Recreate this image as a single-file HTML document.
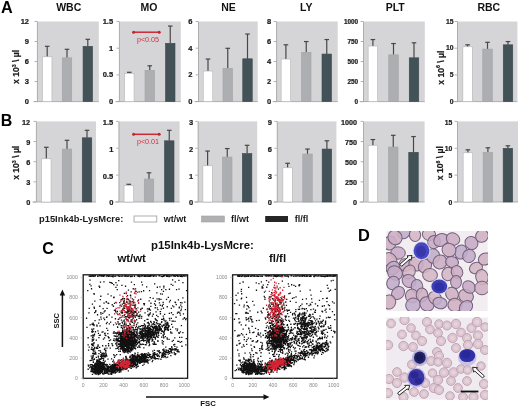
<!DOCTYPE html>
<html><head><meta charset="utf-8"><style>
html,body{margin:0;padding:0;background:#fff;width:520px;height:407px;overflow:hidden}
svg{display:block;will-change:transform}
text{font-family:"Liberation Sans",sans-serif}
</style></head><body>
<svg width="520" height="407" viewBox="0 0 520 407" font-family="Liberation Sans, sans-serif">
<rect width="520" height="407" fill="#fff"/>
<rect x="37" y="21.5" width="61.80" height="80.1" fill="#d5d5d7"/>
<line x1="37.4" y1="21.5" x2="37.4" y2="101.6" stroke="#a8a8a8" stroke-width="0.9"/>
<line x1="33.5" y1="101.6" x2="98.8" y2="101.6" stroke="#a8a8a8" stroke-width="0.9"/>
<line x1="34.5" y1="101.60" x2="37" y2="101.60" stroke="#a8a8a8" stroke-width="0.9"/>
<text x="29.00" y="104.10" text-anchor="end" font-size="7.5" font-weight="bold" fill="#1a1a1a" stroke="#1a1a1a" stroke-width="0.22">0</text>
<line x1="34.5" y1="81.57" x2="37" y2="81.57" stroke="#a8a8a8" stroke-width="0.9"/>
<text x="29.00" y="84.07" text-anchor="end" font-size="7.5" font-weight="bold" fill="#1a1a1a" stroke="#1a1a1a" stroke-width="0.22">3</text>
<line x1="34.5" y1="61.55" x2="37" y2="61.55" stroke="#a8a8a8" stroke-width="0.9"/>
<text x="29.00" y="64.05" text-anchor="end" font-size="7.5" font-weight="bold" fill="#1a1a1a" stroke="#1a1a1a" stroke-width="0.22">6</text>
<line x1="34.5" y1="41.52" x2="37" y2="41.52" stroke="#a8a8a8" stroke-width="0.9"/>
<text x="29.00" y="44.02" text-anchor="end" font-size="7.5" font-weight="bold" fill="#1a1a1a" stroke="#1a1a1a" stroke-width="0.22">9</text>
<line x1="34.5" y1="21.50" x2="37" y2="21.50" stroke="#a8a8a8" stroke-width="0.9"/>
<text x="29.00" y="24.00" text-anchor="end" font-size="7.5" font-weight="bold" fill="#1a1a1a" stroke="#1a1a1a" stroke-width="0.22">12</text>
<line x1="47.20" y1="46.3" x2="47.20" y2="56.8" stroke="#474747" stroke-width="1.2"/>
<line x1="44.90" y1="46.3" x2="49.50" y2="46.3" stroke="#474747" stroke-width="1.2"/>
<rect x="42.45" y="56.8" width="9.5" height="44.80" fill="#ffffff" stroke="#b4b4b4" stroke-width="0.6"/>
<line x1="67.00" y1="49.3" x2="67.00" y2="57.8" stroke="#474747" stroke-width="1.2"/>
<line x1="64.70" y1="49.3" x2="69.30" y2="49.3" stroke="#474747" stroke-width="1.2"/>
<rect x="62.25" y="57.8" width="9.5" height="43.80" fill="#adaeb2" stroke="#a2a3a6" stroke-width="0.6"/>
<line x1="87.80" y1="39.3" x2="87.80" y2="46.3" stroke="#474747" stroke-width="1.2"/>
<line x1="85.50" y1="39.3" x2="90.10" y2="39.3" stroke="#474747" stroke-width="1.2"/>
<rect x="83.05" y="46.3" width="9.5" height="55.30" fill="#435257" stroke="#3a4a50" stroke-width="0.6"/>
<text x="68.70" y="10.7" text-anchor="middle" font-size="10.5" font-weight="bold" fill="#111">WBC</text>
<rect x="119" y="21.5" width="61.80" height="80.1" fill="#d5d5d7"/>
<line x1="119.4" y1="21.5" x2="119.4" y2="101.6" stroke="#a8a8a8" stroke-width="0.9"/>
<line x1="115.5" y1="101.6" x2="180.8" y2="101.6" stroke="#a8a8a8" stroke-width="0.9"/>
<line x1="116.5" y1="101.60" x2="119" y2="101.60" stroke="#a8a8a8" stroke-width="0.9"/>
<text x="113.10" y="104.10" text-anchor="end" font-size="7.5" font-weight="bold" fill="#1a1a1a" stroke="#1a1a1a" stroke-width="0.22">0</text>
<line x1="116.5" y1="74.90" x2="119" y2="74.90" stroke="#a8a8a8" stroke-width="0.9"/>
<text x="113.10" y="77.40" text-anchor="end" font-size="7.5" font-weight="bold" fill="#1a1a1a" stroke="#1a1a1a" stroke-width="0.22">0.5</text>
<line x1="116.5" y1="48.20" x2="119" y2="48.20" stroke="#a8a8a8" stroke-width="0.9"/>
<text x="113.10" y="50.70" text-anchor="end" font-size="7.5" font-weight="bold" fill="#1a1a1a" stroke="#1a1a1a" stroke-width="0.22">1</text>
<line x1="116.5" y1="21.50" x2="119" y2="21.50" stroke="#a8a8a8" stroke-width="0.9"/>
<text x="113.10" y="24.00" text-anchor="end" font-size="7.5" font-weight="bold" fill="#1a1a1a" stroke="#1a1a1a" stroke-width="0.22">1.5</text>
<line x1="129.30" y1="72.3" x2="129.30" y2="73.3" stroke="#474747" stroke-width="1.2"/>
<line x1="127.00" y1="72.3" x2="131.60" y2="72.3" stroke="#474747" stroke-width="1.2"/>
<rect x="124.55" y="73.3" width="9.5" height="28.30" fill="#ffffff" stroke="#b4b4b4" stroke-width="0.6"/>
<line x1="149.75" y1="65.8" x2="149.75" y2="70.3" stroke="#474747" stroke-width="1.2"/>
<line x1="147.45" y1="65.8" x2="152.05" y2="65.8" stroke="#474747" stroke-width="1.2"/>
<rect x="145.00" y="70.3" width="9.5" height="31.30" fill="#adaeb2" stroke="#a2a3a6" stroke-width="0.6"/>
<line x1="170.25" y1="26.05" x2="170.25" y2="43.3" stroke="#474747" stroke-width="1.2"/>
<line x1="167.95" y1="26.05" x2="172.55" y2="26.05" stroke="#474747" stroke-width="1.2"/>
<rect x="165.50" y="43.3" width="9.5" height="58.30" fill="#435257" stroke="#3a4a50" stroke-width="0.6"/>
<text x="149.00" y="10.7" text-anchor="middle" font-size="10.5" font-weight="bold" fill="#111">MO</text>
<rect x="198.1" y="21.5" width="59.60" height="80.1" fill="#d5d5d7"/>
<line x1="198.5" y1="21.5" x2="198.5" y2="101.6" stroke="#a8a8a8" stroke-width="0.9"/>
<line x1="194.6" y1="101.6" x2="257.7" y2="101.6" stroke="#a8a8a8" stroke-width="0.9"/>
<line x1="195.6" y1="101.60" x2="198.1" y2="101.60" stroke="#a8a8a8" stroke-width="0.9"/>
<text x="192.30" y="104.10" text-anchor="end" font-size="7.5" font-weight="bold" fill="#1a1a1a" stroke="#1a1a1a" stroke-width="0.22">0</text>
<line x1="195.6" y1="74.90" x2="198.1" y2="74.90" stroke="#a8a8a8" stroke-width="0.9"/>
<text x="192.30" y="77.40" text-anchor="end" font-size="7.5" font-weight="bold" fill="#1a1a1a" stroke="#1a1a1a" stroke-width="0.22">2</text>
<line x1="195.6" y1="48.20" x2="198.1" y2="48.20" stroke="#a8a8a8" stroke-width="0.9"/>
<text x="192.30" y="50.70" text-anchor="end" font-size="7.5" font-weight="bold" fill="#1a1a1a" stroke="#1a1a1a" stroke-width="0.22">4</text>
<line x1="195.6" y1="21.50" x2="198.1" y2="21.50" stroke="#a8a8a8" stroke-width="0.9"/>
<text x="192.30" y="24.00" text-anchor="end" font-size="7.5" font-weight="bold" fill="#1a1a1a" stroke="#1a1a1a" stroke-width="0.22">6</text>
<line x1="208.00" y1="59.05" x2="208.00" y2="71.05" stroke="#474747" stroke-width="1.2"/>
<line x1="205.70" y1="59.05" x2="210.30" y2="59.05" stroke="#474747" stroke-width="1.2"/>
<rect x="203.25" y="71.05" width="9.5" height="30.55" fill="#ffffff" stroke="#b4b4b4" stroke-width="0.6"/>
<line x1="227.75" y1="48.3" x2="227.75" y2="68.3" stroke="#474747" stroke-width="1.2"/>
<line x1="225.45" y1="48.3" x2="230.05" y2="48.3" stroke="#474747" stroke-width="1.2"/>
<rect x="223.00" y="68.3" width="9.5" height="33.30" fill="#adaeb2" stroke="#a2a3a6" stroke-width="0.6"/>
<line x1="247.50" y1="34.05" x2="247.50" y2="58.8" stroke="#474747" stroke-width="1.2"/>
<line x1="245.20" y1="34.05" x2="249.80" y2="34.05" stroke="#474747" stroke-width="1.2"/>
<rect x="242.75" y="58.8" width="9.5" height="42.80" fill="#435257" stroke="#3a4a50" stroke-width="0.6"/>
<text x="228.50" y="10.7" text-anchor="middle" font-size="10.5" font-weight="bold" fill="#111">NE</text>
<rect x="276.2" y="21.5" width="61.50" height="80.1" fill="#d5d5d7"/>
<line x1="276.59999999999997" y1="21.5" x2="276.59999999999997" y2="101.6" stroke="#a8a8a8" stroke-width="0.9"/>
<line x1="272.7" y1="101.6" x2="337.7" y2="101.6" stroke="#a8a8a8" stroke-width="0.9"/>
<line x1="273.7" y1="101.60" x2="276.2" y2="101.60" stroke="#a8a8a8" stroke-width="0.9"/>
<text x="271.20" y="104.10" text-anchor="end" font-size="7.5" font-weight="bold" fill="#1a1a1a" stroke="#1a1a1a" stroke-width="0.22">0</text>
<line x1="273.7" y1="81.57" x2="276.2" y2="81.57" stroke="#a8a8a8" stroke-width="0.9"/>
<text x="271.20" y="84.07" text-anchor="end" font-size="7.5" font-weight="bold" fill="#1a1a1a" stroke="#1a1a1a" stroke-width="0.22">2</text>
<line x1="273.7" y1="61.55" x2="276.2" y2="61.55" stroke="#a8a8a8" stroke-width="0.9"/>
<text x="271.20" y="64.05" text-anchor="end" font-size="7.5" font-weight="bold" fill="#1a1a1a" stroke="#1a1a1a" stroke-width="0.22">4</text>
<line x1="273.7" y1="41.52" x2="276.2" y2="41.52" stroke="#a8a8a8" stroke-width="0.9"/>
<text x="271.20" y="44.02" text-anchor="end" font-size="7.5" font-weight="bold" fill="#1a1a1a" stroke="#1a1a1a" stroke-width="0.22">6</text>
<line x1="273.7" y1="21.50" x2="276.2" y2="21.50" stroke="#a8a8a8" stroke-width="0.9"/>
<text x="271.20" y="24.00" text-anchor="end" font-size="7.5" font-weight="bold" fill="#1a1a1a" stroke="#1a1a1a" stroke-width="0.22">8</text>
<line x1="285.90" y1="44.8" x2="285.90" y2="59.05" stroke="#474747" stroke-width="1.2"/>
<line x1="283.60" y1="44.8" x2="288.20" y2="44.8" stroke="#474747" stroke-width="1.2"/>
<rect x="281.15" y="59.05" width="9.5" height="42.55" fill="#ffffff" stroke="#b4b4b4" stroke-width="0.6"/>
<line x1="306.25" y1="41.55" x2="306.25" y2="52.3" stroke="#474747" stroke-width="1.2"/>
<line x1="303.95" y1="41.55" x2="308.55" y2="41.55" stroke="#474747" stroke-width="1.2"/>
<rect x="301.50" y="52.3" width="9.5" height="49.30" fill="#adaeb2" stroke="#a2a3a6" stroke-width="0.6"/>
<line x1="326.75" y1="39.55" x2="326.75" y2="54.05" stroke="#474747" stroke-width="1.2"/>
<line x1="324.45" y1="39.55" x2="329.05" y2="39.55" stroke="#474747" stroke-width="1.2"/>
<rect x="322.00" y="54.05" width="9.5" height="47.55" fill="#435257" stroke="#3a4a50" stroke-width="0.6"/>
<text x="306.25" y="10.7" text-anchor="middle" font-size="10.5" font-weight="bold" fill="#111">LY</text>
<rect x="363.1" y="21.5" width="61.70" height="80.1" fill="#d5d5d7"/>
<line x1="363.5" y1="21.5" x2="363.5" y2="101.6" stroke="#a8a8a8" stroke-width="0.9"/>
<line x1="359.6" y1="101.6" x2="424.8" y2="101.6" stroke="#a8a8a8" stroke-width="0.9"/>
<line x1="360.6" y1="101.60" x2="363.1" y2="101.60" stroke="#a8a8a8" stroke-width="0.9"/>
<text x="358.10" y="103.69" text-anchor="end" font-size="6.4" font-weight="bold" fill="#1a1a1a" stroke="#1a1a1a" stroke-width="0.22">0</text>
<line x1="360.6" y1="81.57" x2="363.1" y2="81.57" stroke="#a8a8a8" stroke-width="0.9"/>
<text x="358.10" y="83.66" text-anchor="end" font-size="6.4" font-weight="bold" fill="#1a1a1a" stroke="#1a1a1a" stroke-width="0.22">250</text>
<line x1="360.6" y1="61.55" x2="363.1" y2="61.55" stroke="#a8a8a8" stroke-width="0.9"/>
<text x="358.10" y="63.64" text-anchor="end" font-size="6.4" font-weight="bold" fill="#1a1a1a" stroke="#1a1a1a" stroke-width="0.22">500</text>
<line x1="360.6" y1="41.52" x2="363.1" y2="41.52" stroke="#a8a8a8" stroke-width="0.9"/>
<text x="358.10" y="43.61" text-anchor="end" font-size="6.4" font-weight="bold" fill="#1a1a1a" stroke="#1a1a1a" stroke-width="0.22">750</text>
<line x1="360.6" y1="21.50" x2="363.1" y2="21.50" stroke="#a8a8a8" stroke-width="0.9"/>
<text x="358.10" y="23.59" text-anchor="end" font-size="6.4" font-weight="bold" fill="#1a1a1a" stroke="#1a1a1a" stroke-width="0.22">1000</text>
<line x1="372.90" y1="39.55" x2="372.90" y2="46.05" stroke="#474747" stroke-width="1.2"/>
<line x1="370.60" y1="39.55" x2="375.20" y2="39.55" stroke="#474747" stroke-width="1.2"/>
<rect x="368.15" y="46.05" width="9.5" height="55.55" fill="#ffffff" stroke="#b4b4b4" stroke-width="0.6"/>
<line x1="393.50" y1="43.55" x2="393.50" y2="54.8" stroke="#474747" stroke-width="1.2"/>
<line x1="391.20" y1="43.55" x2="395.80" y2="43.55" stroke="#474747" stroke-width="1.2"/>
<rect x="388.75" y="54.8" width="9.5" height="46.80" fill="#adaeb2" stroke="#a2a3a6" stroke-width="0.6"/>
<line x1="414.00" y1="42.8" x2="414.00" y2="57.8" stroke="#474747" stroke-width="1.2"/>
<line x1="411.70" y1="42.8" x2="416.30" y2="42.8" stroke="#474747" stroke-width="1.2"/>
<rect x="409.25" y="57.8" width="9.5" height="43.80" fill="#435257" stroke="#3a4a50" stroke-width="0.6"/>
<text x="395.25" y="10.7" text-anchor="middle" font-size="10.5" font-weight="bold" fill="#111">PLT</text>
<rect x="457.1" y="21.5" width="60.30" height="80.1" fill="#d5d5d7"/>
<line x1="457.5" y1="21.5" x2="457.5" y2="101.6" stroke="#a8a8a8" stroke-width="0.9"/>
<line x1="453.6" y1="101.6" x2="517.4" y2="101.6" stroke="#a8a8a8" stroke-width="0.9"/>
<line x1="454.6" y1="101.60" x2="457.1" y2="101.60" stroke="#a8a8a8" stroke-width="0.9"/>
<text x="453.60" y="103.84" text-anchor="end" font-size="6.8" font-weight="bold" fill="#1a1a1a" stroke="#1a1a1a" stroke-width="0.22">0</text>
<line x1="454.6" y1="74.90" x2="457.1" y2="74.90" stroke="#a8a8a8" stroke-width="0.9"/>
<text x="453.60" y="77.14" text-anchor="end" font-size="6.8" font-weight="bold" fill="#1a1a1a" stroke="#1a1a1a" stroke-width="0.22">5</text>
<line x1="454.6" y1="48.20" x2="457.1" y2="48.20" stroke="#a8a8a8" stroke-width="0.9"/>
<text x="453.60" y="50.44" text-anchor="end" font-size="6.8" font-weight="bold" fill="#1a1a1a" stroke="#1a1a1a" stroke-width="0.22">10</text>
<line x1="454.6" y1="21.50" x2="457.1" y2="21.50" stroke="#a8a8a8" stroke-width="0.9"/>
<text x="453.60" y="23.74" text-anchor="end" font-size="6.8" font-weight="bold" fill="#1a1a1a" stroke="#1a1a1a" stroke-width="0.22">15</text>
<line x1="467.60" y1="44.8" x2="467.60" y2="46.8" stroke="#474747" stroke-width="1.2"/>
<line x1="465.30" y1="44.8" x2="469.90" y2="44.8" stroke="#474747" stroke-width="1.2"/>
<rect x="462.85" y="46.8" width="9.5" height="54.80" fill="#ffffff" stroke="#b4b4b4" stroke-width="0.6"/>
<line x1="487.50" y1="42.3" x2="487.50" y2="49.05" stroke="#474747" stroke-width="1.2"/>
<line x1="485.20" y1="42.3" x2="489.80" y2="42.3" stroke="#474747" stroke-width="1.2"/>
<rect x="482.75" y="49.05" width="9.5" height="52.55" fill="#adaeb2" stroke="#a2a3a6" stroke-width="0.6"/>
<line x1="508.00" y1="41.55" x2="508.00" y2="44.8" stroke="#474747" stroke-width="1.2"/>
<line x1="505.70" y1="41.55" x2="510.30" y2="41.55" stroke="#474747" stroke-width="1.2"/>
<rect x="503.25" y="44.8" width="9.5" height="56.80" fill="#435257" stroke="#3a4a50" stroke-width="0.6"/>
<text x="488.75" y="10.7" text-anchor="middle" font-size="10.5" font-weight="bold" fill="#111">RBC</text>
<rect x="36.0" y="121.4" width="60.00" height="80.6" fill="#d5d5d7"/>
<line x1="36.4" y1="121.4" x2="36.4" y2="202.0" stroke="#a8a8a8" stroke-width="0.9"/>
<line x1="32.5" y1="202.0" x2="96.0" y2="202.0" stroke="#a8a8a8" stroke-width="0.9"/>
<line x1="33.5" y1="202.00" x2="36.0" y2="202.00" stroke="#a8a8a8" stroke-width="0.9"/>
<text x="30.20" y="205.32" text-anchor="end" font-size="7.3" font-weight="bold" fill="#1a1a1a" stroke="#1a1a1a" stroke-width="0.22">0</text>
<line x1="33.5" y1="181.85" x2="36.0" y2="181.85" stroke="#a8a8a8" stroke-width="0.9"/>
<text x="30.20" y="185.17" text-anchor="end" font-size="7.3" font-weight="bold" fill="#1a1a1a" stroke="#1a1a1a" stroke-width="0.22">3</text>
<line x1="33.5" y1="161.70" x2="36.0" y2="161.70" stroke="#a8a8a8" stroke-width="0.9"/>
<text x="30.20" y="165.02" text-anchor="end" font-size="7.3" font-weight="bold" fill="#1a1a1a" stroke="#1a1a1a" stroke-width="0.22">6</text>
<line x1="33.5" y1="141.55" x2="36.0" y2="141.55" stroke="#a8a8a8" stroke-width="0.9"/>
<text x="30.20" y="144.87" text-anchor="end" font-size="7.3" font-weight="bold" fill="#1a1a1a" stroke="#1a1a1a" stroke-width="0.22">9</text>
<line x1="33.5" y1="121.40" x2="36.0" y2="121.40" stroke="#a8a8a8" stroke-width="0.9"/>
<text x="30.20" y="124.72" text-anchor="end" font-size="7.3" font-weight="bold" fill="#1a1a1a" stroke="#1a1a1a" stroke-width="0.22">12</text>
<line x1="46.30" y1="147.3" x2="46.30" y2="158.8" stroke="#474747" stroke-width="1.2"/>
<line x1="44.00" y1="147.3" x2="48.60" y2="147.3" stroke="#474747" stroke-width="1.2"/>
<rect x="41.55" y="158.8" width="9.5" height="43.20" fill="#ffffff" stroke="#b4b4b4" stroke-width="0.6"/>
<line x1="67.00" y1="140.3" x2="67.00" y2="149.05" stroke="#474747" stroke-width="1.2"/>
<line x1="64.70" y1="140.3" x2="69.30" y2="140.3" stroke="#474747" stroke-width="1.2"/>
<rect x="62.25" y="149.05" width="9.5" height="52.95" fill="#adaeb2" stroke="#a2a3a6" stroke-width="0.6"/>
<line x1="87.00" y1="130.3" x2="87.00" y2="137.8" stroke="#474747" stroke-width="1.2"/>
<line x1="84.70" y1="130.3" x2="89.30" y2="130.3" stroke="#474747" stroke-width="1.2"/>
<rect x="82.25" y="137.8" width="9.5" height="64.20" fill="#435257" stroke="#3a4a50" stroke-width="0.6"/>
<rect x="118.6" y="121.4" width="61.00" height="80.6" fill="#d5d5d7"/>
<line x1="119.0" y1="121.4" x2="119.0" y2="202.0" stroke="#a8a8a8" stroke-width="0.9"/>
<line x1="115.1" y1="202.0" x2="179.6" y2="202.0" stroke="#a8a8a8" stroke-width="0.9"/>
<line x1="116.1" y1="202.00" x2="118.6" y2="202.00" stroke="#a8a8a8" stroke-width="0.9"/>
<text x="113.30" y="205.40" text-anchor="end" font-size="7.5" font-weight="bold" fill="#1a1a1a" stroke="#1a1a1a" stroke-width="0.22">0</text>
<line x1="116.1" y1="175.13" x2="118.6" y2="175.13" stroke="#a8a8a8" stroke-width="0.9"/>
<text x="113.30" y="178.53" text-anchor="end" font-size="7.5" font-weight="bold" fill="#1a1a1a" stroke="#1a1a1a" stroke-width="0.22">0.5</text>
<line x1="116.1" y1="148.27" x2="118.6" y2="148.27" stroke="#a8a8a8" stroke-width="0.9"/>
<text x="113.30" y="151.66" text-anchor="end" font-size="7.5" font-weight="bold" fill="#1a1a1a" stroke="#1a1a1a" stroke-width="0.22">1</text>
<line x1="116.1" y1="121.40" x2="118.6" y2="121.40" stroke="#a8a8a8" stroke-width="0.9"/>
<text x="113.30" y="124.80" text-anchor="end" font-size="7.5" font-weight="bold" fill="#1a1a1a" stroke="#1a1a1a" stroke-width="0.22">1.5</text>
<line x1="128.80" y1="184.3" x2="128.80" y2="185.3" stroke="#474747" stroke-width="1.2"/>
<line x1="126.50" y1="184.3" x2="131.10" y2="184.3" stroke="#474747" stroke-width="1.2"/>
<rect x="124.05" y="185.3" width="9.5" height="16.70" fill="#ffffff" stroke="#b4b4b4" stroke-width="0.6"/>
<line x1="149.00" y1="172.8" x2="149.00" y2="179.05" stroke="#474747" stroke-width="1.2"/>
<line x1="146.70" y1="172.8" x2="151.30" y2="172.8" stroke="#474747" stroke-width="1.2"/>
<rect x="144.25" y="179.05" width="9.5" height="22.95" fill="#adaeb2" stroke="#a2a3a6" stroke-width="0.6"/>
<line x1="169.25" y1="130.3" x2="169.25" y2="140.8" stroke="#474747" stroke-width="1.2"/>
<line x1="166.95" y1="130.3" x2="171.55" y2="130.3" stroke="#474747" stroke-width="1.2"/>
<rect x="164.50" y="140.8" width="9.5" height="61.20" fill="#435257" stroke="#3a4a50" stroke-width="0.6"/>
<rect x="197.8" y="121.4" width="59.40" height="80.6" fill="#d5d5d7"/>
<line x1="198.20000000000002" y1="121.4" x2="198.20000000000002" y2="202.0" stroke="#a8a8a8" stroke-width="0.9"/>
<line x1="194.3" y1="202.0" x2="257.2" y2="202.0" stroke="#a8a8a8" stroke-width="0.9"/>
<line x1="195.3" y1="202.00" x2="197.8" y2="202.00" stroke="#a8a8a8" stroke-width="0.9"/>
<text x="193.20" y="205.40" text-anchor="end" font-size="7.5" font-weight="bold" fill="#1a1a1a" stroke="#1a1a1a" stroke-width="0.22">0</text>
<line x1="195.3" y1="175.13" x2="197.8" y2="175.13" stroke="#a8a8a8" stroke-width="0.9"/>
<text x="193.20" y="178.53" text-anchor="end" font-size="7.5" font-weight="bold" fill="#1a1a1a" stroke="#1a1a1a" stroke-width="0.22">1</text>
<line x1="195.3" y1="148.27" x2="197.8" y2="148.27" stroke="#a8a8a8" stroke-width="0.9"/>
<text x="193.20" y="151.66" text-anchor="end" font-size="7.5" font-weight="bold" fill="#1a1a1a" stroke="#1a1a1a" stroke-width="0.22">2</text>
<line x1="195.3" y1="121.40" x2="197.8" y2="121.40" stroke="#a8a8a8" stroke-width="0.9"/>
<text x="193.20" y="124.80" text-anchor="end" font-size="7.5" font-weight="bold" fill="#1a1a1a" stroke="#1a1a1a" stroke-width="0.22">3</text>
<line x1="207.60" y1="151.05" x2="207.60" y2="165.8" stroke="#474747" stroke-width="1.2"/>
<line x1="205.30" y1="151.05" x2="209.90" y2="151.05" stroke="#474747" stroke-width="1.2"/>
<rect x="202.85" y="165.8" width="9.5" height="36.20" fill="#ffffff" stroke="#b4b4b4" stroke-width="0.6"/>
<line x1="227.25" y1="148.55" x2="227.25" y2="157.05" stroke="#474747" stroke-width="1.2"/>
<line x1="224.95" y1="148.55" x2="229.55" y2="148.55" stroke="#474747" stroke-width="1.2"/>
<rect x="222.50" y="157.05" width="9.5" height="44.95" fill="#adaeb2" stroke="#a2a3a6" stroke-width="0.6"/>
<line x1="247.10" y1="145.3" x2="247.10" y2="153.55" stroke="#474747" stroke-width="1.2"/>
<line x1="244.80" y1="145.3" x2="249.40" y2="145.3" stroke="#474747" stroke-width="1.2"/>
<rect x="242.35" y="153.55" width="9.5" height="48.45" fill="#435257" stroke="#3a4a50" stroke-width="0.6"/>
<rect x="276.9" y="121.4" width="59.50" height="80.6" fill="#d5d5d7"/>
<line x1="277.29999999999995" y1="121.4" x2="277.29999999999995" y2="202.0" stroke="#a8a8a8" stroke-width="0.9"/>
<line x1="273.4" y1="202.0" x2="336.4" y2="202.0" stroke="#a8a8a8" stroke-width="0.9"/>
<line x1="274.4" y1="202.00" x2="276.9" y2="202.00" stroke="#a8a8a8" stroke-width="0.9"/>
<text x="271.90" y="205.40" text-anchor="end" font-size="7.5" font-weight="bold" fill="#1a1a1a" stroke="#1a1a1a" stroke-width="0.22">0</text>
<line x1="274.4" y1="175.13" x2="276.9" y2="175.13" stroke="#a8a8a8" stroke-width="0.9"/>
<text x="271.90" y="178.53" text-anchor="end" font-size="7.5" font-weight="bold" fill="#1a1a1a" stroke="#1a1a1a" stroke-width="0.22">3</text>
<line x1="274.4" y1="148.27" x2="276.9" y2="148.27" stroke="#a8a8a8" stroke-width="0.9"/>
<text x="271.90" y="151.66" text-anchor="end" font-size="7.5" font-weight="bold" fill="#1a1a1a" stroke="#1a1a1a" stroke-width="0.22">6</text>
<line x1="274.4" y1="121.40" x2="276.9" y2="121.40" stroke="#a8a8a8" stroke-width="0.9"/>
<text x="271.90" y="124.80" text-anchor="end" font-size="7.5" font-weight="bold" fill="#1a1a1a" stroke="#1a1a1a" stroke-width="0.22">9</text>
<line x1="287.60" y1="163.3" x2="287.60" y2="167.8" stroke="#474747" stroke-width="1.2"/>
<line x1="285.30" y1="163.3" x2="289.90" y2="163.3" stroke="#474747" stroke-width="1.2"/>
<rect x="282.85" y="167.8" width="9.5" height="34.20" fill="#ffffff" stroke="#b4b4b4" stroke-width="0.6"/>
<line x1="307.50" y1="149.05" x2="307.50" y2="154.05" stroke="#474747" stroke-width="1.2"/>
<line x1="305.20" y1="149.05" x2="309.80" y2="149.05" stroke="#474747" stroke-width="1.2"/>
<rect x="302.75" y="154.05" width="9.5" height="47.95" fill="#adaeb2" stroke="#a2a3a6" stroke-width="0.6"/>
<line x1="326.90" y1="140.8" x2="326.90" y2="149.05" stroke="#474747" stroke-width="1.2"/>
<line x1="324.60" y1="140.8" x2="329.20" y2="140.8" stroke="#474747" stroke-width="1.2"/>
<rect x="322.15" y="149.05" width="9.5" height="52.95" fill="#435257" stroke="#3a4a50" stroke-width="0.6"/>
<rect x="363.1" y="121.4" width="61.50" height="80.6" fill="#d5d5d7"/>
<line x1="363.5" y1="121.4" x2="363.5" y2="202.0" stroke="#a8a8a8" stroke-width="0.9"/>
<line x1="359.6" y1="202.0" x2="424.6" y2="202.0" stroke="#a8a8a8" stroke-width="0.9"/>
<line x1="360.6" y1="202.00" x2="363.1" y2="202.00" stroke="#a8a8a8" stroke-width="0.9"/>
<text x="357.10" y="205.29" text-anchor="end" font-size="7.2" font-weight="bold" fill="#1a1a1a" stroke="#1a1a1a" stroke-width="0.22">0</text>
<line x1="360.6" y1="181.85" x2="363.1" y2="181.85" stroke="#a8a8a8" stroke-width="0.9"/>
<text x="357.10" y="185.14" text-anchor="end" font-size="7.2" font-weight="bold" fill="#1a1a1a" stroke="#1a1a1a" stroke-width="0.22">250</text>
<line x1="360.6" y1="161.70" x2="363.1" y2="161.70" stroke="#a8a8a8" stroke-width="0.9"/>
<text x="357.10" y="164.99" text-anchor="end" font-size="7.2" font-weight="bold" fill="#1a1a1a" stroke="#1a1a1a" stroke-width="0.22">500</text>
<line x1="360.6" y1="141.55" x2="363.1" y2="141.55" stroke="#a8a8a8" stroke-width="0.9"/>
<text x="357.10" y="144.84" text-anchor="end" font-size="7.2" font-weight="bold" fill="#1a1a1a" stroke="#1a1a1a" stroke-width="0.22">750</text>
<line x1="360.6" y1="121.40" x2="363.1" y2="121.40" stroke="#a8a8a8" stroke-width="0.9"/>
<text x="357.10" y="124.69" text-anchor="end" font-size="7.2" font-weight="bold" fill="#1a1a1a" stroke="#1a1a1a" stroke-width="0.22">1000</text>
<line x1="372.90" y1="139.55" x2="372.90" y2="145.3" stroke="#474747" stroke-width="1.2"/>
<line x1="370.60" y1="139.55" x2="375.20" y2="139.55" stroke="#474747" stroke-width="1.2"/>
<rect x="368.15" y="145.3" width="9.5" height="56.70" fill="#ffffff" stroke="#b4b4b4" stroke-width="0.6"/>
<line x1="393.25" y1="135.3" x2="393.25" y2="147.05" stroke="#474747" stroke-width="1.2"/>
<line x1="390.95" y1="135.3" x2="395.55" y2="135.3" stroke="#474747" stroke-width="1.2"/>
<rect x="388.50" y="147.05" width="9.5" height="54.95" fill="#adaeb2" stroke="#a2a3a6" stroke-width="0.6"/>
<line x1="413.50" y1="136.55" x2="413.50" y2="152.3" stroke="#474747" stroke-width="1.2"/>
<line x1="411.20" y1="136.55" x2="415.80" y2="136.55" stroke="#474747" stroke-width="1.2"/>
<rect x="408.75" y="152.3" width="9.5" height="49.70" fill="#435257" stroke="#3a4a50" stroke-width="0.6"/>
<rect x="457.1" y="121.4" width="60.90" height="80.6" fill="#d5d5d7"/>
<line x1="457.5" y1="121.4" x2="457.5" y2="202.0" stroke="#a8a8a8" stroke-width="0.9"/>
<line x1="453.6" y1="202.0" x2="518" y2="202.0" stroke="#a8a8a8" stroke-width="0.9"/>
<line x1="454.6" y1="202.00" x2="457.1" y2="202.00" stroke="#a8a8a8" stroke-width="0.9"/>
<text x="452.20" y="205.14" text-anchor="end" font-size="6.8" font-weight="bold" fill="#1a1a1a" stroke="#1a1a1a" stroke-width="0.22">0</text>
<line x1="454.6" y1="175.13" x2="457.1" y2="175.13" stroke="#a8a8a8" stroke-width="0.9"/>
<text x="452.20" y="178.27" text-anchor="end" font-size="6.8" font-weight="bold" fill="#1a1a1a" stroke="#1a1a1a" stroke-width="0.22">5</text>
<line x1="454.6" y1="148.27" x2="457.1" y2="148.27" stroke="#a8a8a8" stroke-width="0.9"/>
<text x="452.20" y="151.40" text-anchor="end" font-size="6.8" font-weight="bold" fill="#1a1a1a" stroke="#1a1a1a" stroke-width="0.22">10</text>
<line x1="454.6" y1="121.40" x2="457.1" y2="121.40" stroke="#a8a8a8" stroke-width="0.9"/>
<text x="452.20" y="124.54" text-anchor="end" font-size="6.8" font-weight="bold" fill="#1a1a1a" stroke="#1a1a1a" stroke-width="0.22">15</text>
<line x1="467.90" y1="149.8" x2="467.90" y2="152.8" stroke="#474747" stroke-width="1.2"/>
<line x1="465.60" y1="149.8" x2="470.20" y2="149.8" stroke="#474747" stroke-width="1.2"/>
<rect x="463.15" y="152.8" width="9.5" height="49.20" fill="#ffffff" stroke="#b4b4b4" stroke-width="0.6"/>
<line x1="487.90" y1="147.8" x2="487.90" y2="152.3" stroke="#474747" stroke-width="1.2"/>
<line x1="485.60" y1="147.8" x2="490.20" y2="147.8" stroke="#474747" stroke-width="1.2"/>
<rect x="483.15" y="152.3" width="9.5" height="49.70" fill="#adaeb2" stroke="#a2a3a6" stroke-width="0.6"/>
<line x1="507.90" y1="145.8" x2="507.90" y2="148.3" stroke="#474747" stroke-width="1.2"/>
<line x1="505.60" y1="145.8" x2="510.20" y2="145.8" stroke="#474747" stroke-width="1.2"/>
<rect x="503.15" y="148.3" width="9.5" height="53.70" fill="#435257" stroke="#3a4a50" stroke-width="0.6"/>
<text transform="translate(18.8,66.9) rotate(-90)" text-anchor="middle" font-size="8.6" font-weight="bold" fill="#1a1a1a" stroke="#1a1a1a" stroke-width="0.2">x 10<tspan font-size="5.2" dy="-3.3">3</tspan><tspan dy="3.3"> \ µl</tspan></text>
<text transform="translate(18.8,162.8) rotate(-90)" text-anchor="middle" font-size="8.6" font-weight="bold" fill="#1a1a1a" stroke="#1a1a1a" stroke-width="0.2">x 10<tspan font-size="5.2" dy="-3.3">3</tspan><tspan dy="3.3"> \ µl</tspan></text>
<text transform="translate(443.6,67.6) rotate(-90)" text-anchor="middle" font-size="8.6" font-weight="bold" fill="#1a1a1a" stroke="#1a1a1a" stroke-width="0.2">x 10<tspan font-size="5.2" dy="-3.3">6</tspan><tspan dy="3.3"> \ µl</tspan></text>
<text transform="translate(443.4,163.2) rotate(-90)" text-anchor="middle" font-size="8.6" font-weight="bold" fill="#1a1a1a" stroke="#1a1a1a" stroke-width="0.2">x 10<tspan font-size="5.2" dy="-3.3">6</tspan><tspan dy="3.3"> \ µl</tspan></text>
<line x1="133.4" y1="32.2" x2="159.3" y2="32.2" stroke="#cc2634" stroke-width="1.5"/>
<circle cx="133.6" cy="32.2" r="1.5" fill="#c8202c"/><circle cx="159.2" cy="32.2" r="1.5" fill="#c8202c"/>
<text x="148" y="42.10" text-anchor="middle" font-size="7.2" fill="#d42c3a">p&lt;0.05</text>
<line x1="133.4" y1="134.3" x2="159.3" y2="134.3" stroke="#cc2634" stroke-width="1.5"/>
<circle cx="133.6" cy="134.3" r="1.5" fill="#c8202c"/><circle cx="159.2" cy="134.3" r="1.5" fill="#c8202c"/>
<text x="148" y="144.20" text-anchor="middle" font-size="7.2" fill="#d42c3a">p&lt;0.01</text>
<text x="1.0" y="12.8" font-size="16.2" font-weight="bold" fill="#000">A</text>
<text x="0.8" y="125.8" font-size="16" font-weight="bold" fill="#000">B</text>
<text x="42.3" y="254.2" font-size="16" font-weight="bold" fill="#000">C</text>
<text x="357.9" y="240.8" font-size="16.4" font-weight="bold" fill="#000">D</text>
<text x="39" y="221.8" font-size="9.35" font-weight="bold" fill="#1a1a1a">p15Ink4b-LysMcre:</text>
<rect x="134" y="216" width="22.8" height="6" fill="#fff" stroke="#9a9a9a" stroke-width="0.8"/>
<rect x="201.5" y="216" width="22.8" height="6" fill="#b0b0b3" stroke="#a0a0a0" stroke-width="0.6"/>
<rect x="265.2" y="216" width="22.8" height="6" fill="#252525"/>
<text x="163.8" y="222" font-size="9" font-weight="bold" fill="#1a1a1a">wt/wt</text>
<text x="231" y="222" font-size="9" font-weight="bold" fill="#1a1a1a">fl/wt</text>
<text x="294.8" y="222" font-size="9" font-weight="bold" fill="#1a1a1a">fl/fl</text>
<rect x="83.2" y="274.8" width="104.39999999999999" height="103.5" fill="#fff" stroke="#1a1a1a" stroke-width="1.3"/>
<path d="M149.3 275.1h1.3v1.3h-1.3zM175.9 275.0h1.3v1.3h-1.3zM164.0 275.0h1.3v1.3h-1.3zM110.1 275.4h1.3v1.3h-1.3zM117.4 275.1h1.3v1.3h-1.3zM173.6 275.4h1.3v1.3h-1.3zM88.5 275.4h1.3v1.3h-1.3zM168.5 275.9h1.3v1.3h-1.3zM133.9 275.6h1.3v1.3h-1.3zM117.7 275.3h1.3v1.3h-1.3zM115.3 275.3h1.3v1.3h-1.3zM131.6 275.2h1.3v1.3h-1.3zM137.4 275.5h1.3v1.3h-1.3zM142.2 275.3h1.3v1.3h-1.3zM185.6 275.3h1.3v1.3h-1.3zM165.7 275.2h1.3v1.3h-1.3zM149.0 275.6h1.3v1.3h-1.3zM184.9 275.3h1.3v1.3h-1.3zM103.7 275.1h1.3v1.3h-1.3zM91.5 275.1h1.3v1.3h-1.3zM138.5 275.7h1.3v1.3h-1.3zM133.7 275.3h1.3v1.3h-1.3zM149.7 275.0h1.3v1.3h-1.3zM138.4 275.6h1.3v1.3h-1.3zM136.7 275.3h1.3v1.3h-1.3zM112.3 275.3h1.3v1.3h-1.3zM89.2 275.3h1.3v1.3h-1.3zM106.9 275.3h1.3v1.3h-1.3zM155.8 275.5h1.3v1.3h-1.3zM107.7 275.5h1.3v1.3h-1.3zM124.2 275.4h1.3v1.3h-1.3zM169.3 275.5h1.3v1.3h-1.3zM103.1 275.1h1.3v1.3h-1.3zM114.2 275.6h1.3v1.3h-1.3zM138.0 275.3h1.3v1.3h-1.3zM171.0 275.3h1.3v1.3h-1.3zM160.7 275.8h1.3v1.3h-1.3zM97.0 275.7h1.3v1.3h-1.3zM141.0 275.2h1.3v1.3h-1.3zM137.8 275.5h1.3v1.3h-1.3zM173.4 275.4h1.3v1.3h-1.3zM146.6 275.4h1.3v1.3h-1.3zM93.8 275.3h1.3v1.3h-1.3zM126.0 275.3h1.3v1.3h-1.3zM102.7 275.2h1.3v1.3h-1.3zM168.0 275.2h1.3v1.3h-1.3zM125.2 275.7h1.3v1.3h-1.3zM183.9 275.4h1.3v1.3h-1.3zM145.8 275.3h1.3v1.3h-1.3zM147.3 275.8h1.3v1.3h-1.3zM150.5 275.1h1.3v1.3h-1.3zM154.3 275.2h1.3v1.3h-1.3zM131.2 275.8h1.3v1.3h-1.3zM111.5 275.6h1.3v1.3h-1.3zM127.4 275.6h1.3v1.3h-1.3zM97.5 275.5h1.3v1.3h-1.3zM182.8 275.3h1.3v1.3h-1.3zM109.1 275.4h1.3v1.3h-1.3zM153.8 275.2h1.3v1.3h-1.3zM117.4 275.2h1.3v1.3h-1.3zM173.7 275.3h1.3v1.3h-1.3zM152.9 275.8h1.3v1.3h-1.3zM100.9 275.5h1.3v1.3h-1.3zM170.8 275.3h1.3v1.3h-1.3zM180.6 275.1h1.3v1.3h-1.3zM176.6 275.1h1.3v1.3h-1.3zM143.8 275.8h1.3v1.3h-1.3zM102.3 275.5h1.3v1.3h-1.3zM106.9 275.3h1.3v1.3h-1.3zM178.9 275.2h1.3v1.3h-1.3zM105.7 275.3h1.3v1.3h-1.3zM174.6 275.6h1.3v1.3h-1.3zM150.9 275.2h1.3v1.3h-1.3zM143.8 275.2h1.3v1.3h-1.3zM124.9 275.2h1.3v1.3h-1.3zM128.3 275.3h1.3v1.3h-1.3zM91.7 275.2h1.3v1.3h-1.3zM173.9 275.0h1.3v1.3h-1.3zM133.8 275.6h1.3v1.3h-1.3zM141.7 275.1h1.3v1.3h-1.3zM119.6 275.5h1.3v1.3h-1.3zM161.6 275.8h1.3v1.3h-1.3zM90.5 275.2h1.3v1.3h-1.3zM124.5 275.1h1.3v1.3h-1.3zM91.0 275.4h1.3v1.3h-1.3zM100.0 275.3h1.3v1.3h-1.3zM182.8 275.0h1.3v1.3h-1.3zM152.5 275.4h1.3v1.3h-1.3zM130.0 275.9h1.3v1.3h-1.3zM139.3 275.2h1.3v1.3h-1.3zM173.5 275.2h1.3v1.3h-1.3zM145.8 275.4h1.3v1.3h-1.3zM138.9 275.7h1.3v1.3h-1.3zM163.0 275.0h1.3v1.3h-1.3zM177.1 275.6h1.3v1.3h-1.3zM102.8 275.8h1.3v1.3h-1.3zM179.5 275.4h1.3v1.3h-1.3zM88.5 275.5h1.3v1.3h-1.3zM161.8 275.9h1.3v1.3h-1.3zM167.4 275.2h1.3v1.3h-1.3zM101.4 275.1h1.3v1.3h-1.3zM167.9 275.3h1.3v1.3h-1.3zM89.4 275.7h1.3v1.3h-1.3zM149.6 275.6h1.3v1.3h-1.3zM165.7 275.0h1.3v1.3h-1.3zM138.3 275.0h1.3v1.3h-1.3zM159.1 275.1h1.3v1.3h-1.3zM110.2 275.4h1.3v1.3h-1.3zM107.5 275.2h1.3v1.3h-1.3zM123.6 275.4h1.3v1.3h-1.3zM105.6 275.4h1.3v1.3h-1.3zM121.9 275.2h1.3v1.3h-1.3zM180.9 275.3h1.3v1.3h-1.3zM144.2 275.4h1.3v1.3h-1.3zM121.3 275.3h1.3v1.3h-1.3zM114.6 275.5h1.3v1.3h-1.3zM181.3 275.9h1.3v1.3h-1.3zM131.6 275.5h1.3v1.3h-1.3zM184.1 275.3h1.3v1.3h-1.3zM139.1 275.4h1.3v1.3h-1.3zM144.9 275.6h1.3v1.3h-1.3zM129.8 275.5h1.3v1.3h-1.3zM174.1 275.3h1.3v1.3h-1.3zM178.4 275.2h1.3v1.3h-1.3zM94.7 275.1h1.3v1.3h-1.3zM130.1 275.5h1.3v1.3h-1.3zM138.9 276.0h1.3v1.3h-1.3zM181.2 275.4h1.3v1.3h-1.3zM112.6 275.1h1.3v1.3h-1.3zM154.3 275.3h1.3v1.3h-1.3zM158.3 275.2h1.3v1.3h-1.3zM183.2 275.3h1.3v1.3h-1.3zM127.0 275.6h1.3v1.3h-1.3zM107.9 275.6h1.3v1.3h-1.3zM93.0 275.6h1.3v1.3h-1.3zM108.9 275.2h1.3v1.3h-1.3zM177.7 275.5h1.3v1.3h-1.3zM170.3 275.3h1.3v1.3h-1.3zM99.0 275.2h1.3v1.3h-1.3zM147.2 275.2h1.3v1.3h-1.3zM152.6 275.5h1.3v1.3h-1.3zM118.1 275.2h1.3v1.3h-1.3zM182.2 275.4h1.3v1.3h-1.3zM133.7 275.6h1.3v1.3h-1.3zM150.3 275.1h1.3v1.3h-1.3zM106.0 275.4h1.3v1.3h-1.3zM94.1 275.4h1.3v1.3h-1.3zM128.3 275.2h1.3v1.3h-1.3zM162.9 275.6h1.3v1.3h-1.3zM167.9 275.4h1.3v1.3h-1.3zM99.1 275.0h1.3v1.3h-1.3zM177.5 275.5h1.3v1.3h-1.3zM166.6 275.4h1.3v1.3h-1.3zM139.3 275.7h1.3v1.3h-1.3zM177.7 275.5h1.3v1.3h-1.3zM92.6 275.7h1.3v1.3h-1.3zM91.0 275.2h1.3v1.3h-1.3zM90.0 275.2h1.3v1.3h-1.3zM112.4 276.1h1.3v1.3h-1.3zM106.4 275.2h1.3v1.3h-1.3zM143.6 275.8h1.3v1.3h-1.3zM91.8 275.1h1.3v1.3h-1.3zM145.9 275.3h1.3v1.3h-1.3zM154.4 275.2h1.3v1.3h-1.3zM90.1 275.6h1.3v1.3h-1.3zM180.0 275.6h1.3v1.3h-1.3zM140.8 275.4h1.3v1.3h-1.3zM152.5 275.1h1.3v1.3h-1.3zM147.9 275.2h1.3v1.3h-1.3zM106.7 275.3h1.3v1.3h-1.3zM144.3 275.1h1.3v1.3h-1.3zM91.9 275.1h1.3v1.3h-1.3zM166.6 275.2h1.3v1.3h-1.3zM93.0 275.3h1.3v1.3h-1.3zM121.2 275.6h1.3v1.3h-1.3zM99.0 275.3h1.3v1.3h-1.3zM149.4 275.1h1.3v1.3h-1.3zM166.2 275.0h1.3v1.3h-1.3zM118.7 275.6h1.3v1.3h-1.3zM172.6 275.1h1.3v1.3h-1.3zM166.1 275.7h1.3v1.3h-1.3zM100.7 275.1h1.3v1.3h-1.3zM163.2 275.4h1.3v1.3h-1.3zM174.5 275.2h1.3v1.3h-1.3zM107.3 275.1h1.3v1.3h-1.3zM144.2 275.5h1.3v1.3h-1.3zM150.6 275.3h1.3v1.3h-1.3zM147.7 275.5h1.3v1.3h-1.3zM97.4 275.3h1.3v1.3h-1.3zM149.9 275.3h1.3v1.3h-1.3zM168.7 275.3h1.3v1.3h-1.3zM166.7 275.6h1.3v1.3h-1.3zM168.7 312.7h1.3v1.3h-1.3zM124.1 336.1h1.3v1.3h-1.3zM170.5 283.7h1.3v1.3h-1.3zM164.5 321.2h1.3v1.3h-1.3zM130.7 340.4h1.3v1.3h-1.3zM157.3 340.6h1.3v1.3h-1.3zM89.4 279.4h1.3v1.3h-1.3zM125.0 316.0h1.3v1.3h-1.3zM172.0 305.2h1.3v1.3h-1.3zM144.0 333.0h1.3v1.3h-1.3zM141.8 284.2h1.3v1.3h-1.3zM152.5 297.8h1.3v1.3h-1.3zM153.8 336.7h1.3v1.3h-1.3zM144.4 312.3h1.3v1.3h-1.3zM128.1 311.2h1.3v1.3h-1.3zM104.3 347.8h1.3v1.3h-1.3zM115.3 301.7h1.3v1.3h-1.3zM115.3 282.0h1.3v1.3h-1.3zM129.1 306.8h1.3v1.3h-1.3zM185.9 289.9h1.3v1.3h-1.3zM121.3 284.8h1.3v1.3h-1.3zM130.7 319.3h1.3v1.3h-1.3zM123.2 346.7h1.3v1.3h-1.3zM144.1 320.1h1.3v1.3h-1.3zM180.8 324.9h1.3v1.3h-1.3zM174.9 302.0h1.3v1.3h-1.3zM123.7 319.5h1.3v1.3h-1.3zM112.7 332.4h1.3v1.3h-1.3zM174.4 320.8h1.3v1.3h-1.3zM135.4 336.0h1.3v1.3h-1.3zM154.6 318.1h1.3v1.3h-1.3zM93.3 293.1h1.3v1.3h-1.3zM172.7 320.4h1.3v1.3h-1.3zM117.3 313.9h1.3v1.3h-1.3zM135.5 290.8h1.3v1.3h-1.3zM105.8 323.0h1.3v1.3h-1.3zM128.0 337.0h1.3v1.3h-1.3zM168.8 288.6h1.3v1.3h-1.3zM168.8 317.7h1.3v1.3h-1.3zM133.4 331.1h1.3v1.3h-1.3zM162.8 307.6h1.3v1.3h-1.3zM131.8 298.2h1.3v1.3h-1.3zM123.3 305.4h1.3v1.3h-1.3zM140.6 317.5h1.3v1.3h-1.3zM106.1 327.8h1.3v1.3h-1.3zM117.7 318.7h1.3v1.3h-1.3zM156.7 286.6h1.3v1.3h-1.3zM163.1 337.1h1.3v1.3h-1.3zM91.7 344.6h1.3v1.3h-1.3zM159.3 286.2h1.3v1.3h-1.3zM167.7 296.7h1.3v1.3h-1.3zM130.5 291.3h1.3v1.3h-1.3zM92.2 339.3h1.3v1.3h-1.3zM154.3 343.6h1.3v1.3h-1.3zM110.6 282.1h1.3v1.3h-1.3zM150.3 302.6h1.3v1.3h-1.3zM123.7 292.7h1.3v1.3h-1.3zM149.7 312.3h1.3v1.3h-1.3zM111.8 344.4h1.3v1.3h-1.3zM133.7 284.0h1.3v1.3h-1.3zM138.5 291.2h1.3v1.3h-1.3zM149.1 313.6h1.3v1.3h-1.3zM106.3 316.2h1.3v1.3h-1.3zM182.2 331.9h1.3v1.3h-1.3zM114.9 310.1h1.3v1.3h-1.3zM116.6 289.0h1.3v1.3h-1.3zM111.6 304.1h1.3v1.3h-1.3zM92.7 348.7h1.3v1.3h-1.3zM128.3 332.3h1.3v1.3h-1.3zM163.2 287.3h1.3v1.3h-1.3zM157.0 336.4h1.3v1.3h-1.3zM105.6 301.1h1.3v1.3h-1.3zM99.7 334.5h1.3v1.3h-1.3zM118.1 279.9h1.3v1.3h-1.3zM162.8 340.9h1.3v1.3h-1.3zM134.8 290.5h1.3v1.3h-1.3zM178.3 311.4h1.3v1.3h-1.3zM151.6 326.0h1.3v1.3h-1.3zM148.1 315.1h1.3v1.3h-1.3zM162.8 290.7h1.3v1.3h-1.3zM161.0 288.9h1.3v1.3h-1.3zM120.4 299.2h1.3v1.3h-1.3zM111.7 282.7h1.3v1.3h-1.3zM129.8 294.4h1.3v1.3h-1.3zM134.9 288.2h1.3v1.3h-1.3zM100.2 312.0h1.3v1.3h-1.3zM130.1 304.3h1.3v1.3h-1.3zM150.0 320.7h1.3v1.3h-1.3zM99.6 298.9h1.3v1.3h-1.3zM99.8 281.4h1.3v1.3h-1.3zM103.4 302.5h1.3v1.3h-1.3zM114.3 332.6h1.3v1.3h-1.3zM182.2 297.2h1.3v1.3h-1.3zM88.6 307.7h1.3v1.3h-1.3zM104.4 332.6h1.3v1.3h-1.3zM102.5 307.9h1.3v1.3h-1.3zM133.4 342.0h1.3v1.3h-1.3zM87.5 344.2h1.3v1.3h-1.3zM131.8 301.0h1.3v1.3h-1.3zM102.3 331.3h1.3v1.3h-1.3zM113.0 297.0h1.3v1.3h-1.3zM165.2 288.9h1.3v1.3h-1.3zM104.4 310.1h1.3v1.3h-1.3zM147.7 321.8h1.3v1.3h-1.3zM126.6 345.4h1.3v1.3h-1.3zM127.8 289.4h1.3v1.3h-1.3zM167.7 329.6h1.3v1.3h-1.3zM102.1 312.8h1.3v1.3h-1.3zM178.4 288.4h1.3v1.3h-1.3zM175.3 348.1h1.3v1.3h-1.3zM152.8 328.4h1.3v1.3h-1.3zM90.9 288.1h1.3v1.3h-1.3zM152.3 343.3h1.3v1.3h-1.3zM146.0 286.3h1.3v1.3h-1.3zM163.2 285.6h1.3v1.3h-1.3zM107.4 302.5h1.3v1.3h-1.3zM181.3 345.6h1.3v1.3h-1.3zM174.6 281.3h1.3v1.3h-1.3zM97.4 344.2h1.3v1.3h-1.3zM117.5 322.4h1.3v1.3h-1.3zM89.2 283.8h1.3v1.3h-1.3zM169.1 319.4h1.3v1.3h-1.3zM177.5 311.6h1.3v1.3h-1.3zM185.0 319.0h1.3v1.3h-1.3zM147.2 331.3h1.3v1.3h-1.3zM152.6 327.2h1.3v1.3h-1.3zM153.8 349.8h1.3v1.3h-1.3zM143.0 290.1h1.3v1.3h-1.3zM181.2 336.7h1.3v1.3h-1.3zM146.8 308.2h1.3v1.3h-1.3zM119.6 334.6h1.3v1.3h-1.3zM137.3 342.3h1.3v1.3h-1.3zM87.9 349.4h1.3v1.3h-1.3zM158.4 297.9h1.3v1.3h-1.3zM155.4 311.2h1.3v1.3h-1.3zM128.1 345.9h1.3v1.3h-1.3zM171.1 346.1h1.3v1.3h-1.3zM161.6 305.5h1.3v1.3h-1.3zM119.7 345.8h1.3v1.3h-1.3zM93.7 307.8h1.3v1.3h-1.3zM99.2 305.6h1.3v1.3h-1.3zM104.4 332.7h1.3v1.3h-1.3zM116.4 312.5h1.3v1.3h-1.3zM130.8 310.8h1.3v1.3h-1.3zM178.8 306.4h1.3v1.3h-1.3zM113.8 309.7h1.3v1.3h-1.3zM175.9 288.9h1.3v1.3h-1.3zM154.0 283.3h1.3v1.3h-1.3zM171.3 332.5h1.3v1.3h-1.3zM126.3 319.1h1.3v1.3h-1.3zM86.3 326.7h1.3v1.3h-1.3zM164.7 336.0h1.3v1.3h-1.3zM110.5 295.3h1.3v1.3h-1.3zM100.2 295.6h1.3v1.3h-1.3zM165.9 298.7h1.3v1.3h-1.3zM154.6 300.6h1.3v1.3h-1.3zM107.2 333.0h1.3v1.3h-1.3zM112.8 305.6h1.3v1.3h-1.3zM179.9 301.9h1.3v1.3h-1.3zM112.9 324.2h1.3v1.3h-1.3zM156.2 292.2h1.3v1.3h-1.3zM99.0 286.6h1.3v1.3h-1.3zM167.5 328.5h1.3v1.3h-1.3zM97.8 332.7h1.3v1.3h-1.3zM137.6 300.0h1.3v1.3h-1.3zM89.5 324.2h1.3v1.3h-1.3zM141.0 281.4h1.3v1.3h-1.3zM170.7 307.7h1.3v1.3h-1.3zM94.4 320.0h1.3v1.3h-1.3zM113.4 297.0h1.3v1.3h-1.3zM162.5 303.7h1.3v1.3h-1.3zM146.8 322.3h1.3v1.3h-1.3zM117.3 320.9h1.3v1.3h-1.3zM148.9 289.9h1.3v1.3h-1.3zM131.5 329.2h1.3v1.3h-1.3zM172.2 284.7h1.3v1.3h-1.3zM115.3 347.9h1.3v1.3h-1.3zM161.8 293.4h1.3v1.3h-1.3zM149.6 297.0h1.3v1.3h-1.3zM160.0 293.2h1.3v1.3h-1.3zM123.8 349.4h1.3v1.3h-1.3zM158.5 299.3h1.3v1.3h-1.3zM155.8 322.0h1.3v1.3h-1.3zM124.7 349.3h1.3v1.3h-1.3zM88.6 346.5h1.3v1.3h-1.3zM182.3 282.0h1.3v1.3h-1.3zM157.4 316.0h1.3v1.3h-1.3zM106.5 321.7h1.3v1.3h-1.3zM159.1 328.9h1.3v1.3h-1.3zM113.9 302.8h1.3v1.3h-1.3zM132.9 302.3h1.3v1.3h-1.3zM172.0 279.3h1.3v1.3h-1.3zM130.8 281.5h1.3v1.3h-1.3zM114.8 318.1h1.3v1.3h-1.3zM116.5 284.4h1.3v1.3h-1.3zM93.7 293.4h1.3v1.3h-1.3zM108.0 302.7h1.3v1.3h-1.3zM113.1 284.0h1.3v1.3h-1.3zM103.3 281.2h1.3v1.3h-1.3zM92.3 344.8h1.3v1.3h-1.3zM132.6 309.9h1.3v1.3h-1.3zM107.4 293.5h1.3v1.3h-1.3zM159.9 329.3h1.3v1.3h-1.3zM178.3 279.7h1.3v1.3h-1.3zM113.3 296.4h1.3v1.3h-1.3zM143.2 347.2h1.3v1.3h-1.3zM136.7 342.7h1.3v1.3h-1.3zM93.5 324.2h1.3v1.3h-1.3zM98.5 285.6h1.3v1.3h-1.3zM174.5 301.6h1.3v1.3h-1.3zM90.6 335.3h1.3v1.3h-1.3zM94.8 331.1h1.3v1.3h-1.3zM90.6 355.5h1.3v1.3h-1.3zM92.8 359.3h1.3v1.3h-1.3zM103.9 337.3h1.3v1.3h-1.3zM92.2 356.0h1.3v1.3h-1.3zM93.4 342.1h1.3v1.3h-1.3zM109.9 339.3h1.3v1.3h-1.3zM97.4 345.2h1.3v1.3h-1.3zM97.3 330.2h1.3v1.3h-1.3zM91.9 343.3h1.3v1.3h-1.3zM107.5 336.0h1.3v1.3h-1.3zM104.9 351.4h1.3v1.3h-1.3zM102.0 345.1h1.3v1.3h-1.3zM103.6 356.1h1.3v1.3h-1.3zM92.2 356.9h1.3v1.3h-1.3zM95.7 339.5h1.3v1.3h-1.3zM102.8 338.4h1.3v1.3h-1.3zM110.9 358.2h1.3v1.3h-1.3zM108.0 345.1h1.3v1.3h-1.3zM104.1 332.9h1.3v1.3h-1.3zM101.4 331.4h1.3v1.3h-1.3zM90.3 359.7h1.3v1.3h-1.3zM109.6 347.4h1.3v1.3h-1.3zM91.5 331.6h1.3v1.3h-1.3zM92.8 345.3h1.3v1.3h-1.3zM105.2 345.1h1.3v1.3h-1.3zM107.9 343.1h1.3v1.3h-1.3zM107.3 358.5h1.3v1.3h-1.3zM100.0 358.5h1.3v1.3h-1.3zM98.3 337.0h1.3v1.3h-1.3zM87.5 337.1h1.3v1.3h-1.3zM94.2 300.4h1.3v1.3h-1.3zM111.3 316.4h1.3v1.3h-1.3zM88.3 312.3h1.3v1.3h-1.3zM108.4 337.1h1.3v1.3h-1.3zM96.2 324.5h1.3v1.3h-1.3zM106.4 307.7h1.3v1.3h-1.3zM103.2 317.5h1.3v1.3h-1.3zM95.2 310.1h1.3v1.3h-1.3zM100.6 318.5h1.3v1.3h-1.3zM94.9 311.2h1.3v1.3h-1.3zM110.0 321.4h1.3v1.3h-1.3zM108.0 337.2h1.3v1.3h-1.3zM105.3 354.3h1.3v1.3h-1.3zM92.6 330.9h1.3v1.3h-1.3zM97.1 347.7h1.3v1.3h-1.3zM115.3 286.7h1.3v1.3h-1.3zM91.3 328.6h1.3v1.3h-1.3zM107.1 329.8h1.3v1.3h-1.3zM99.4 325.3h1.3v1.3h-1.3zM105.9 316.8h1.3v1.3h-1.3zM109.2 281.8h1.3v1.3h-1.3zM105.7 301.5h1.3v1.3h-1.3zM108.6 314.3h1.3v1.3h-1.3zM92.0 324.0h1.3v1.3h-1.3zM91.8 303.4h1.3v1.3h-1.3zM85.9 317.6h1.3v1.3h-1.3zM104.5 334.4h1.3v1.3h-1.3zM98.7 334.8h1.3v1.3h-1.3zM100.2 316.5h1.3v1.3h-1.3zM105.2 334.9h1.3v1.3h-1.3zM96.9 314.1h1.3v1.3h-1.3zM98.6 319.3h1.3v1.3h-1.3zM91.9 334.4h1.3v1.3h-1.3zM96.4 325.4h1.3v1.3h-1.3zM92.6 323.7h1.3v1.3h-1.3zM103.5 311.3h1.3v1.3h-1.3zM118.2 323.9h1.3v1.3h-1.3zM116.0 333.3h1.3v1.3h-1.3zM94.0 311.9h1.3v1.3h-1.3zM103.9 319.0h1.3v1.3h-1.3zM100.4 313.4h1.3v1.3h-1.3zM93.5 306.6h1.3v1.3h-1.3zM98.0 322.4h1.3v1.3h-1.3zM87.1 290.0h1.3v1.3h-1.3zM90.4 285.3h1.3v1.3h-1.3zM91.3 343.5h1.3v1.3h-1.3zM92.9 350.4h1.3v1.3h-1.3zM92.8 350.2h1.3v1.3h-1.3zM91.5 340.5h1.3v1.3h-1.3zM91.3 323.5h1.3v1.3h-1.3zM92.5 339.7h1.3v1.3h-1.3zM93.1 343.2h1.3v1.3h-1.3zM93.4 335.1h1.3v1.3h-1.3zM92.8 352.6h1.3v1.3h-1.3zM93.9 333.6h1.3v1.3h-1.3zM91.6 338.4h1.3v1.3h-1.3zM92.5 322.6h1.3v1.3h-1.3zM91.8 340.5h1.3v1.3h-1.3zM90.7 348.7h1.3v1.3h-1.3zM91.3 347.3h1.3v1.3h-1.3zM93.0 328.3h1.3v1.3h-1.3zM91.6 357.7h1.3v1.3h-1.3zM91.3 346.8h1.3v1.3h-1.3zM92.7 334.9h1.3v1.3h-1.3zM92.9 334.6h1.3v1.3h-1.3zM92.3 349.2h1.3v1.3h-1.3zM93.3 325.0h1.3v1.3h-1.3zM91.0 343.6h1.3v1.3h-1.3zM94.1 346.7h1.3v1.3h-1.3zM93.0 338.6h1.3v1.3h-1.3zM92.5 352.9h1.3v1.3h-1.3zM92.3 336.7h1.3v1.3h-1.3zM92.0 336.6h1.3v1.3h-1.3zM91.9 329.4h1.3v1.3h-1.3zM92.4 354.8h1.3v1.3h-1.3zM91.2 330.7h1.3v1.3h-1.3zM116.3 339.5h1.3v1.3h-1.3zM123.4 340.2h1.3v1.3h-1.3zM128.1 334.5h1.3v1.3h-1.3zM123.8 343.9h1.3v1.3h-1.3zM128.7 335.8h1.3v1.3h-1.3zM137.2 352.2h1.3v1.3h-1.3zM119.7 341.2h1.3v1.3h-1.3zM139.5 343.8h1.3v1.3h-1.3zM128.1 338.4h1.3v1.3h-1.3zM124.3 338.3h1.3v1.3h-1.3zM124.2 343.6h1.3v1.3h-1.3zM125.0 337.1h1.3v1.3h-1.3zM121.0 339.2h1.3v1.3h-1.3zM122.5 338.5h1.3v1.3h-1.3zM132.2 341.5h1.3v1.3h-1.3zM129.5 341.5h1.3v1.3h-1.3zM127.3 338.8h1.3v1.3h-1.3zM125.5 343.7h1.3v1.3h-1.3zM121.6 346.9h1.3v1.3h-1.3zM127.2 335.4h1.3v1.3h-1.3zM124.6 335.8h1.3v1.3h-1.3zM127.8 335.6h1.3v1.3h-1.3zM132.7 335.2h1.3v1.3h-1.3zM115.6 335.5h1.3v1.3h-1.3zM117.0 339.3h1.3v1.3h-1.3zM132.3 343.1h1.3v1.3h-1.3zM120.3 335.3h1.3v1.3h-1.3zM135.9 341.3h1.3v1.3h-1.3zM127.0 345.3h1.3v1.3h-1.3zM139.3 346.6h1.3v1.3h-1.3zM127.7 341.5h1.3v1.3h-1.3zM130.1 336.1h1.3v1.3h-1.3zM121.7 339.8h1.3v1.3h-1.3zM122.3 339.2h1.3v1.3h-1.3zM127.5 352.4h1.3v1.3h-1.3zM122.7 338.8h1.3v1.3h-1.3zM126.2 341.9h1.3v1.3h-1.3zM132.2 336.8h1.3v1.3h-1.3zM122.9 330.5h1.3v1.3h-1.3zM122.4 342.5h1.3v1.3h-1.3zM127.2 333.9h1.3v1.3h-1.3zM125.1 339.7h1.3v1.3h-1.3zM129.5 336.2h1.3v1.3h-1.3zM125.7 329.5h1.3v1.3h-1.3zM121.2 348.4h1.3v1.3h-1.3zM116.1 337.6h1.3v1.3h-1.3zM128.1 337.4h1.3v1.3h-1.3zM123.0 339.2h1.3v1.3h-1.3zM127.0 339.0h1.3v1.3h-1.3zM117.6 338.7h1.3v1.3h-1.3zM122.7 336.5h1.3v1.3h-1.3zM128.1 343.0h1.3v1.3h-1.3zM131.5 336.8h1.3v1.3h-1.3zM131.6 346.0h1.3v1.3h-1.3zM132.7 347.1h1.3v1.3h-1.3zM126.3 338.5h1.3v1.3h-1.3zM131.1 332.0h1.3v1.3h-1.3zM128.0 336.6h1.3v1.3h-1.3zM125.2 329.9h1.3v1.3h-1.3zM122.5 339.4h1.3v1.3h-1.3zM131.4 344.9h1.3v1.3h-1.3zM126.6 338.5h1.3v1.3h-1.3zM122.8 341.7h1.3v1.3h-1.3zM125.8 342.8h1.3v1.3h-1.3zM135.8 339.3h1.3v1.3h-1.3zM119.5 334.8h1.3v1.3h-1.3zM119.7 332.9h1.3v1.3h-1.3zM133.5 340.7h1.3v1.3h-1.3zM119.4 343.1h1.3v1.3h-1.3zM133.3 337.5h1.3v1.3h-1.3zM123.6 337.6h1.3v1.3h-1.3zM128.4 343.0h1.3v1.3h-1.3zM132.9 346.2h1.3v1.3h-1.3zM132.9 347.0h1.3v1.3h-1.3zM130.3 331.1h1.3v1.3h-1.3zM126.3 341.2h1.3v1.3h-1.3zM125.1 344.5h1.3v1.3h-1.3zM125.2 334.4h1.3v1.3h-1.3zM134.2 343.2h1.3v1.3h-1.3zM128.1 344.6h1.3v1.3h-1.3zM132.3 341.4h1.3v1.3h-1.3zM114.7 335.8h1.3v1.3h-1.3zM124.7 334.1h1.3v1.3h-1.3zM128.0 346.1h1.3v1.3h-1.3zM124.6 333.3h1.3v1.3h-1.3zM137.1 337.0h1.3v1.3h-1.3zM120.8 340.8h1.3v1.3h-1.3zM129.1 335.6h1.3v1.3h-1.3zM131.0 336.8h1.3v1.3h-1.3zM122.4 340.5h1.3v1.3h-1.3zM130.9 336.0h1.3v1.3h-1.3zM128.7 339.0h1.3v1.3h-1.3zM141.1 335.6h1.3v1.3h-1.3zM133.9 339.2h1.3v1.3h-1.3zM126.4 343.5h1.3v1.3h-1.3zM131.5 346.5h1.3v1.3h-1.3zM128.6 336.2h1.3v1.3h-1.3zM124.3 342.3h1.3v1.3h-1.3zM129.9 347.2h1.3v1.3h-1.3zM129.1 345.3h1.3v1.3h-1.3zM134.6 340.4h1.3v1.3h-1.3zM119.6 333.0h1.3v1.3h-1.3zM119.8 348.3h1.3v1.3h-1.3zM122.8 346.3h1.3v1.3h-1.3zM129.9 348.9h1.3v1.3h-1.3zM132.0 338.9h1.3v1.3h-1.3zM126.0 340.0h1.3v1.3h-1.3zM127.9 336.6h1.3v1.3h-1.3zM126.8 348.4h1.3v1.3h-1.3zM118.5 340.9h1.3v1.3h-1.3zM122.5 340.5h1.3v1.3h-1.3zM131.2 339.2h1.3v1.3h-1.3zM130.9 330.8h1.3v1.3h-1.3zM132.5 336.2h1.3v1.3h-1.3zM130.1 340.5h1.3v1.3h-1.3zM114.1 335.3h1.3v1.3h-1.3zM128.1 348.0h1.3v1.3h-1.3zM128.4 340.9h1.3v1.3h-1.3zM119.9 347.4h1.3v1.3h-1.3zM136.0 339.7h1.3v1.3h-1.3zM125.9 330.6h1.3v1.3h-1.3zM131.4 354.4h1.3v1.3h-1.3zM130.6 346.5h1.3v1.3h-1.3zM129.7 334.1h1.3v1.3h-1.3zM133.7 332.7h1.3v1.3h-1.3zM125.9 341.0h1.3v1.3h-1.3zM131.4 341.8h1.3v1.3h-1.3zM128.9 335.3h1.3v1.3h-1.3zM120.6 339.8h1.3v1.3h-1.3zM123.4 332.3h1.3v1.3h-1.3zM120.7 336.8h1.3v1.3h-1.3zM117.7 332.1h1.3v1.3h-1.3zM118.8 340.5h1.3v1.3h-1.3zM129.0 350.5h1.3v1.3h-1.3zM119.5 335.8h1.3v1.3h-1.3zM131.6 338.3h1.3v1.3h-1.3zM125.4 348.9h1.3v1.3h-1.3zM125.3 333.1h1.3v1.3h-1.3zM120.4 341.3h1.3v1.3h-1.3zM128.5 332.0h1.3v1.3h-1.3zM122.1 342.4h1.3v1.3h-1.3zM129.9 336.0h1.3v1.3h-1.3zM130.1 342.6h1.3v1.3h-1.3zM118.1 337.8h1.3v1.3h-1.3zM129.1 336.3h1.3v1.3h-1.3zM116.3 337.9h1.3v1.3h-1.3zM130.8 348.2h1.3v1.3h-1.3zM116.0 353.9h1.3v1.3h-1.3zM121.4 344.8h1.3v1.3h-1.3zM133.2 344.9h1.3v1.3h-1.3zM127.7 333.1h1.3v1.3h-1.3zM130.1 335.6h1.3v1.3h-1.3zM114.4 355.1h1.3v1.3h-1.3zM130.5 349.5h1.3v1.3h-1.3zM122.4 347.6h1.3v1.3h-1.3zM134.9 348.1h1.3v1.3h-1.3zM126.9 332.9h1.3v1.3h-1.3zM126.1 327.4h1.3v1.3h-1.3zM118.5 340.0h1.3v1.3h-1.3zM122.0 338.6h1.3v1.3h-1.3zM126.5 350.1h1.3v1.3h-1.3zM133.5 339.3h1.3v1.3h-1.3zM133.0 335.2h1.3v1.3h-1.3zM125.3 344.5h1.3v1.3h-1.3zM120.8 338.0h1.3v1.3h-1.3zM120.4 340.1h1.3v1.3h-1.3zM135.2 335.4h1.3v1.3h-1.3zM128.1 334.6h1.3v1.3h-1.3zM121.3 332.7h1.3v1.3h-1.3zM134.3 352.5h1.3v1.3h-1.3zM129.4 335.6h1.3v1.3h-1.3zM130.5 337.7h1.3v1.3h-1.3zM131.0 341.1h1.3v1.3h-1.3zM128.4 342.8h1.3v1.3h-1.3zM124.1 337.3h1.3v1.3h-1.3zM118.4 337.1h1.3v1.3h-1.3zM119.9 338.7h1.3v1.3h-1.3zM122.2 340.1h1.3v1.3h-1.3zM129.3 331.7h1.3v1.3h-1.3zM122.9 334.3h1.3v1.3h-1.3zM130.7 348.9h1.3v1.3h-1.3zM131.3 337.6h1.3v1.3h-1.3zM134.3 331.2h1.3v1.3h-1.3zM134.5 335.9h1.3v1.3h-1.3zM113.1 354.1h1.3v1.3h-1.3zM134.9 333.8h1.3v1.3h-1.3zM127.8 338.3h1.3v1.3h-1.3zM127.5 331.3h1.3v1.3h-1.3zM123.6 342.1h1.3v1.3h-1.3zM128.1 346.1h1.3v1.3h-1.3zM127.4 352.4h1.3v1.3h-1.3zM123.4 340.9h1.3v1.3h-1.3zM117.4 332.6h1.3v1.3h-1.3zM133.6 334.3h1.3v1.3h-1.3zM129.7 339.2h1.3v1.3h-1.3zM121.8 337.6h1.3v1.3h-1.3zM124.4 336.8h1.3v1.3h-1.3zM130.8 343.1h1.3v1.3h-1.3zM124.1 334.5h1.3v1.3h-1.3zM128.4 338.9h1.3v1.3h-1.3zM132.1 354.1h1.3v1.3h-1.3zM131.2 339.3h1.3v1.3h-1.3zM126.1 334.8h1.3v1.3h-1.3zM122.5 334.0h1.3v1.3h-1.3zM125.0 337.2h1.3v1.3h-1.3zM130.7 337.3h1.3v1.3h-1.3zM126.0 332.8h1.3v1.3h-1.3zM135.2 342.3h1.3v1.3h-1.3zM135.9 343.9h1.3v1.3h-1.3zM134.4 338.1h1.3v1.3h-1.3zM130.6 354.4h1.3v1.3h-1.3zM120.9 346.0h1.3v1.3h-1.3zM135.5 341.8h1.3v1.3h-1.3zM130.8 346.5h1.3v1.3h-1.3zM123.6 341.8h1.3v1.3h-1.3zM122.6 335.7h1.3v1.3h-1.3zM123.8 338.7h1.3v1.3h-1.3zM127.7 342.0h1.3v1.3h-1.3zM119.7 350.6h1.3v1.3h-1.3zM132.9 343.6h1.3v1.3h-1.3zM125.2 339.0h1.3v1.3h-1.3zM129.8 341.8h1.3v1.3h-1.3zM118.4 343.7h1.3v1.3h-1.3zM141.9 329.1h1.3v1.3h-1.3zM132.1 341.6h1.3v1.3h-1.3zM126.4 347.2h1.3v1.3h-1.3zM120.9 340.4h1.3v1.3h-1.3zM134.5 338.4h1.3v1.3h-1.3zM124.9 340.1h1.3v1.3h-1.3zM124.7 348.2h1.3v1.3h-1.3zM122.3 344.4h1.3v1.3h-1.3zM120.6 343.3h1.3v1.3h-1.3zM126.5 324.9h1.3v1.3h-1.3zM127.0 333.5h1.3v1.3h-1.3zM124.7 348.2h1.3v1.3h-1.3zM121.3 333.5h1.3v1.3h-1.3zM134.4 340.2h1.3v1.3h-1.3zM134.9 341.3h1.3v1.3h-1.3zM122.5 339.1h1.3v1.3h-1.3zM133.3 344.8h1.3v1.3h-1.3zM127.0 339.8h1.3v1.3h-1.3zM126.4 336.2h1.3v1.3h-1.3zM136.9 339.5h1.3v1.3h-1.3zM121.2 336.8h1.3v1.3h-1.3zM130.7 343.1h1.3v1.3h-1.3zM126.3 335.7h1.3v1.3h-1.3zM127.1 330.0h1.3v1.3h-1.3zM120.3 344.0h1.3v1.3h-1.3zM124.5 341.6h1.3v1.3h-1.3zM133.3 343.2h1.3v1.3h-1.3zM127.1 351.5h1.3v1.3h-1.3zM130.4 337.5h1.3v1.3h-1.3zM130.8 341.8h1.3v1.3h-1.3zM122.6 339.9h1.3v1.3h-1.3zM126.2 328.4h1.3v1.3h-1.3zM126.1 337.9h1.3v1.3h-1.3zM124.7 330.2h1.3v1.3h-1.3zM125.2 339.3h1.3v1.3h-1.3zM127.5 333.1h1.3v1.3h-1.3zM130.3 332.6h1.3v1.3h-1.3zM125.8 346.9h1.3v1.3h-1.3zM123.4 336.6h1.3v1.3h-1.3zM132.5 337.3h1.3v1.3h-1.3zM125.5 340.8h1.3v1.3h-1.3zM132.4 327.0h1.3v1.3h-1.3zM122.7 333.8h1.3v1.3h-1.3zM121.4 334.7h1.3v1.3h-1.3zM122.7 341.2h1.3v1.3h-1.3zM122.4 340.2h1.3v1.3h-1.3zM129.1 335.4h1.3v1.3h-1.3zM127.7 348.7h1.3v1.3h-1.3zM128.7 335.9h1.3v1.3h-1.3zM126.7 334.3h1.3v1.3h-1.3zM128.4 344.4h1.3v1.3h-1.3zM122.8 338.3h1.3v1.3h-1.3zM132.7 336.7h1.3v1.3h-1.3zM128.0 333.7h1.3v1.3h-1.3zM122.8 336.6h1.3v1.3h-1.3zM137.9 337.3h1.3v1.3h-1.3zM124.4 336.4h1.3v1.3h-1.3zM126.2 343.1h1.3v1.3h-1.3zM127.9 350.8h1.3v1.3h-1.3zM128.1 347.5h1.3v1.3h-1.3zM128.4 342.8h1.3v1.3h-1.3zM119.8 338.8h1.3v1.3h-1.3zM126.7 338.2h1.3v1.3h-1.3zM116.2 344.3h1.3v1.3h-1.3zM125.1 337.1h1.3v1.3h-1.3zM125.7 338.2h1.3v1.3h-1.3zM129.0 332.5h1.3v1.3h-1.3zM122.3 341.1h1.3v1.3h-1.3zM127.7 337.4h1.3v1.3h-1.3zM124.1 334.9h1.3v1.3h-1.3zM126.7 346.0h1.3v1.3h-1.3zM121.7 347.9h1.3v1.3h-1.3zM131.2 337.0h1.3v1.3h-1.3zM130.9 331.4h1.3v1.3h-1.3zM118.3 332.4h1.3v1.3h-1.3zM125.0 337.7h1.3v1.3h-1.3zM124.4 340.0h1.3v1.3h-1.3zM116.3 342.2h1.3v1.3h-1.3zM119.9 335.9h1.3v1.3h-1.3zM124.9 333.1h1.3v1.3h-1.3zM120.1 334.0h1.3v1.3h-1.3zM126.9 342.7h1.3v1.3h-1.3zM129.8 334.0h1.3v1.3h-1.3zM123.0 334.4h1.3v1.3h-1.3zM129.2 328.3h1.3v1.3h-1.3zM133.2 336.8h1.3v1.3h-1.3zM123.1 341.4h1.3v1.3h-1.3zM132.2 341.4h1.3v1.3h-1.3zM132.3 340.2h1.3v1.3h-1.3zM133.1 346.3h1.3v1.3h-1.3zM126.5 347.4h1.3v1.3h-1.3zM127.8 340.0h1.3v1.3h-1.3zM122.4 337.9h1.3v1.3h-1.3zM130.9 332.3h1.3v1.3h-1.3zM130.2 341.4h1.3v1.3h-1.3zM128.4 327.4h1.3v1.3h-1.3zM126.5 343.1h1.3v1.3h-1.3zM123.2 340.0h1.3v1.3h-1.3zM115.1 343.2h1.3v1.3h-1.3zM123.7 344.3h1.3v1.3h-1.3zM117.8 343.3h1.3v1.3h-1.3zM125.8 343.9h1.3v1.3h-1.3zM122.4 336.1h1.3v1.3h-1.3zM138.2 334.9h1.3v1.3h-1.3zM123.5 338.0h1.3v1.3h-1.3zM121.9 346.0h1.3v1.3h-1.3zM135.6 335.6h1.3v1.3h-1.3zM118.4 345.9h1.3v1.3h-1.3zM132.5 344.0h1.3v1.3h-1.3zM132.8 334.7h1.3v1.3h-1.3zM126.2 331.9h1.3v1.3h-1.3zM119.9 344.9h1.3v1.3h-1.3zM123.6 352.0h1.3v1.3h-1.3zM127.4 336.0h1.3v1.3h-1.3zM131.0 349.4h1.3v1.3h-1.3zM129.4 332.8h1.3v1.3h-1.3zM128.9 347.1h1.3v1.3h-1.3zM124.5 335.2h1.3v1.3h-1.3zM132.1 340.3h1.3v1.3h-1.3zM121.5 337.4h1.3v1.3h-1.3zM123.2 341.1h1.3v1.3h-1.3zM127.5 345.8h1.3v1.3h-1.3zM130.5 330.9h1.3v1.3h-1.3zM129.0 344.4h1.3v1.3h-1.3zM129.3 345.2h1.3v1.3h-1.3zM124.3 334.3h1.3v1.3h-1.3zM131.7 333.6h1.3v1.3h-1.3zM116.2 345.1h1.3v1.3h-1.3zM123.4 337.8h1.3v1.3h-1.3zM120.0 332.2h1.3v1.3h-1.3zM121.2 337.5h1.3v1.3h-1.3zM128.8 326.9h1.3v1.3h-1.3zM130.8 333.0h1.3v1.3h-1.3zM121.7 343.2h1.3v1.3h-1.3zM126.6 331.0h1.3v1.3h-1.3zM136.2 334.8h1.3v1.3h-1.3zM128.2 340.6h1.3v1.3h-1.3zM134.1 337.0h1.3v1.3h-1.3zM132.0 335.4h1.3v1.3h-1.3zM132.6 335.3h1.3v1.3h-1.3zM125.2 349.9h1.3v1.3h-1.3zM128.6 340.1h1.3v1.3h-1.3zM138.2 341.5h1.3v1.3h-1.3zM122.9 343.5h1.3v1.3h-1.3zM121.1 345.7h1.3v1.3h-1.3zM133.0 336.3h1.3v1.3h-1.3zM123.9 340.5h1.3v1.3h-1.3zM127.1 334.1h1.3v1.3h-1.3zM129.8 328.3h1.3v1.3h-1.3zM124.8 337.3h1.3v1.3h-1.3zM125.6 341.2h1.3v1.3h-1.3zM120.9 342.7h1.3v1.3h-1.3zM126.1 335.9h1.3v1.3h-1.3zM120.2 333.0h1.3v1.3h-1.3zM128.8 334.2h1.3v1.3h-1.3zM127.3 345.3h1.3v1.3h-1.3zM132.2 348.1h1.3v1.3h-1.3zM125.5 333.5h1.3v1.3h-1.3zM132.1 341.2h1.3v1.3h-1.3zM132.6 339.6h1.3v1.3h-1.3zM133.0 344.2h1.3v1.3h-1.3zM130.6 342.3h1.3v1.3h-1.3zM129.0 340.8h1.3v1.3h-1.3zM128.1 344.9h1.3v1.3h-1.3zM124.4 349.0h1.3v1.3h-1.3zM126.5 344.9h1.3v1.3h-1.3zM126.5 338.1h1.3v1.3h-1.3zM137.2 337.8h1.3v1.3h-1.3zM120.6 335.6h1.3v1.3h-1.3zM125.4 351.4h1.3v1.3h-1.3zM128.0 344.6h1.3v1.3h-1.3zM122.0 341.4h1.3v1.3h-1.3zM130.4 349.4h1.3v1.3h-1.3zM123.5 342.8h1.3v1.3h-1.3zM128.5 333.9h1.3v1.3h-1.3zM126.9 338.1h1.3v1.3h-1.3zM115.4 342.8h1.3v1.3h-1.3zM129.7 337.1h1.3v1.3h-1.3zM120.3 347.6h1.3v1.3h-1.3zM128.3 345.1h1.3v1.3h-1.3zM134.1 336.6h1.3v1.3h-1.3zM131.1 338.2h1.3v1.3h-1.3zM126.7 339.0h1.3v1.3h-1.3zM127.0 345.6h1.3v1.3h-1.3zM127.6 338.7h1.3v1.3h-1.3zM125.6 341.4h1.3v1.3h-1.3zM122.5 336.7h1.3v1.3h-1.3zM126.7 336.4h1.3v1.3h-1.3zM126.4 336.1h1.3v1.3h-1.3zM137.0 346.8h1.3v1.3h-1.3zM129.2 339.2h1.3v1.3h-1.3zM138.0 341.3h1.3v1.3h-1.3zM126.6 341.2h1.3v1.3h-1.3zM128.5 347.3h1.3v1.3h-1.3zM126.9 351.0h1.3v1.3h-1.3zM122.6 343.3h1.3v1.3h-1.3zM122.0 349.5h1.3v1.3h-1.3zM125.3 339.2h1.3v1.3h-1.3zM131.6 346.4h1.3v1.3h-1.3zM121.4 337.6h1.3v1.3h-1.3zM120.0 340.3h1.3v1.3h-1.3zM126.5 337.6h1.3v1.3h-1.3zM123.6 337.4h1.3v1.3h-1.3zM123.3 342.4h1.3v1.3h-1.3zM134.6 328.9h1.3v1.3h-1.3zM126.4 337.2h1.3v1.3h-1.3zM129.5 334.3h1.3v1.3h-1.3zM126.3 333.8h1.3v1.3h-1.3zM130.5 340.0h1.3v1.3h-1.3zM126.2 341.5h1.3v1.3h-1.3zM125.8 331.0h1.3v1.3h-1.3zM130.0 341.1h1.3v1.3h-1.3zM126.2 344.9h1.3v1.3h-1.3zM133.1 333.5h1.3v1.3h-1.3zM123.1 348.0h1.3v1.3h-1.3zM134.1 335.4h1.3v1.3h-1.3zM121.1 336.0h1.3v1.3h-1.3zM124.5 330.8h1.3v1.3h-1.3zM127.2 332.5h1.3v1.3h-1.3zM120.9 344.5h1.3v1.3h-1.3zM123.6 339.1h1.3v1.3h-1.3zM130.1 344.0h1.3v1.3h-1.3zM125.3 339.7h1.3v1.3h-1.3zM122.9 349.1h1.3v1.3h-1.3zM130.2 333.4h1.3v1.3h-1.3zM127.0 343.4h1.3v1.3h-1.3zM129.4 349.6h1.3v1.3h-1.3zM133.9 336.5h1.3v1.3h-1.3zM126.6 332.5h1.3v1.3h-1.3zM128.2 340.3h1.3v1.3h-1.3zM140.5 340.0h1.3v1.3h-1.3zM116.5 335.8h1.3v1.3h-1.3zM127.6 332.6h1.3v1.3h-1.3zM122.7 337.5h1.3v1.3h-1.3zM128.7 338.6h1.3v1.3h-1.3zM122.6 343.8h1.3v1.3h-1.3zM124.3 336.8h1.3v1.3h-1.3zM120.1 335.2h1.3v1.3h-1.3zM130.3 330.6h1.3v1.3h-1.3zM126.6 343.4h1.3v1.3h-1.3zM125.1 340.8h1.3v1.3h-1.3zM121.4 346.7h1.3v1.3h-1.3zM132.5 340.8h1.3v1.3h-1.3zM118.2 333.7h1.3v1.3h-1.3zM131.9 348.9h1.3v1.3h-1.3zM128.5 346.4h1.3v1.3h-1.3zM124.0 338.5h1.3v1.3h-1.3zM127.0 341.8h1.3v1.3h-1.3zM119.4 344.7h1.3v1.3h-1.3zM133.6 333.2h1.3v1.3h-1.3zM120.2 341.4h1.3v1.3h-1.3zM123.7 326.5h1.3v1.3h-1.3zM131.0 340.4h1.3v1.3h-1.3zM124.6 351.1h1.3v1.3h-1.3zM127.7 335.4h1.3v1.3h-1.3zM127.5 333.8h1.3v1.3h-1.3zM123.2 341.6h1.3v1.3h-1.3zM124.2 337.0h1.3v1.3h-1.3zM135.3 344.2h1.3v1.3h-1.3zM131.0 342.4h1.3v1.3h-1.3zM129.4 347.5h1.3v1.3h-1.3zM126.9 349.7h1.3v1.3h-1.3zM122.2 338.1h1.3v1.3h-1.3zM120.1 337.6h1.3v1.3h-1.3zM129.6 347.5h1.3v1.3h-1.3zM123.7 339.5h1.3v1.3h-1.3zM125.2 335.4h1.3v1.3h-1.3zM121.1 339.8h1.3v1.3h-1.3zM118.3 340.1h1.3v1.3h-1.3zM127.1 335.9h1.3v1.3h-1.3zM121.9 331.9h1.3v1.3h-1.3zM136.4 332.1h1.3v1.3h-1.3zM134.8 342.8h1.3v1.3h-1.3zM125.2 333.1h1.3v1.3h-1.3zM132.2 349.0h1.3v1.3h-1.3zM122.3 337.9h1.3v1.3h-1.3zM132.3 341.3h1.3v1.3h-1.3zM137.0 336.4h1.3v1.3h-1.3zM129.7 332.6h1.3v1.3h-1.3zM137.5 335.5h1.3v1.3h-1.3zM116.0 338.8h1.3v1.3h-1.3zM126.3 350.0h1.3v1.3h-1.3zM125.3 339.4h1.3v1.3h-1.3zM130.0 348.2h1.3v1.3h-1.3zM126.7 345.2h1.3v1.3h-1.3zM129.6 337.9h1.3v1.3h-1.3zM127.4 339.7h1.3v1.3h-1.3zM122.4 346.2h1.3v1.3h-1.3zM120.1 345.9h1.3v1.3h-1.3zM131.8 339.0h1.3v1.3h-1.3zM123.2 338.3h1.3v1.3h-1.3zM129.4 343.6h1.3v1.3h-1.3zM128.4 345.0h1.3v1.3h-1.3zM124.2 340.8h1.3v1.3h-1.3zM119.2 343.7h1.3v1.3h-1.3zM127.8 337.2h1.3v1.3h-1.3zM132.8 343.3h1.3v1.3h-1.3zM112.9 339.7h1.3v1.3h-1.3zM119.7 345.4h1.3v1.3h-1.3zM139.4 336.6h1.3v1.3h-1.3zM127.4 338.1h1.3v1.3h-1.3zM128.8 343.0h1.3v1.3h-1.3zM133.4 334.1h1.3v1.3h-1.3zM134.9 334.4h1.3v1.3h-1.3zM128.4 345.9h1.3v1.3h-1.3zM130.6 334.3h1.3v1.3h-1.3zM123.5 337.0h1.3v1.3h-1.3zM126.7 345.8h1.3v1.3h-1.3zM120.5 342.1h1.3v1.3h-1.3zM130.0 342.6h1.3v1.3h-1.3zM129.3 347.9h1.3v1.3h-1.3zM129.4 344.2h1.3v1.3h-1.3zM129.8 349.4h1.3v1.3h-1.3zM117.5 346.6h1.3v1.3h-1.3zM125.7 338.0h1.3v1.3h-1.3zM122.2 329.2h1.3v1.3h-1.3zM125.1 335.7h1.3v1.3h-1.3zM129.5 331.4h1.3v1.3h-1.3zM134.2 341.0h1.3v1.3h-1.3zM125.8 335.6h1.3v1.3h-1.3zM123.1 333.3h1.3v1.3h-1.3zM124.3 339.5h1.3v1.3h-1.3zM126.1 331.7h1.3v1.3h-1.3zM125.7 334.6h1.3v1.3h-1.3zM127.8 349.8h1.3v1.3h-1.3zM130.1 337.8h1.3v1.3h-1.3zM118.9 331.7h1.3v1.3h-1.3zM118.6 343.5h1.3v1.3h-1.3zM123.2 339.8h1.3v1.3h-1.3zM123.9 340.0h1.3v1.3h-1.3zM134.0 335.7h1.3v1.3h-1.3zM125.3 335.1h1.3v1.3h-1.3zM131.4 333.9h1.3v1.3h-1.3zM121.3 331.9h1.3v1.3h-1.3zM120.0 342.1h1.3v1.3h-1.3zM139.8 334.0h1.3v1.3h-1.3zM131.8 340.9h1.3v1.3h-1.3zM121.5 338.0h1.3v1.3h-1.3zM125.8 335.7h1.3v1.3h-1.3zM136.7 329.0h1.3v1.3h-1.3zM128.9 341.3h1.3v1.3h-1.3zM124.1 340.3h1.3v1.3h-1.3zM131.4 340.3h1.3v1.3h-1.3zM129.1 343.3h1.3v1.3h-1.3zM116.8 347.6h1.3v1.3h-1.3zM138.4 344.9h1.3v1.3h-1.3zM132.1 331.8h1.3v1.3h-1.3zM126.4 335.0h1.3v1.3h-1.3zM124.1 344.8h1.3v1.3h-1.3zM123.0 338.8h1.3v1.3h-1.3zM117.5 338.6h1.3v1.3h-1.3zM127.5 335.6h1.3v1.3h-1.3zM123.4 349.9h1.3v1.3h-1.3zM121.0 333.7h1.3v1.3h-1.3zM123.0 346.1h1.3v1.3h-1.3zM137.5 341.3h1.3v1.3h-1.3zM123.4 337.1h1.3v1.3h-1.3zM132.3 334.5h1.3v1.3h-1.3zM134.3 347.3h1.3v1.3h-1.3zM127.4 343.1h1.3v1.3h-1.3zM130.7 348.0h1.3v1.3h-1.3zM121.7 346.0h1.3v1.3h-1.3zM125.1 335.3h1.3v1.3h-1.3zM127.5 338.3h1.3v1.3h-1.3zM122.1 330.7h1.3v1.3h-1.3zM122.3 347.5h1.3v1.3h-1.3zM136.8 343.1h1.3v1.3h-1.3zM132.9 336.7h1.3v1.3h-1.3zM126.6 341.1h1.3v1.3h-1.3zM121.6 334.1h1.3v1.3h-1.3zM127.5 337.7h1.3v1.3h-1.3zM121.7 341.6h1.3v1.3h-1.3zM125.7 345.1h1.3v1.3h-1.3zM127.0 337.8h1.3v1.3h-1.3zM127.6 338.6h1.3v1.3h-1.3zM123.7 337.3h1.3v1.3h-1.3zM130.7 343.1h1.3v1.3h-1.3zM133.4 330.2h1.3v1.3h-1.3zM125.0 337.2h1.3v1.3h-1.3zM127.9 337.0h1.3v1.3h-1.3zM124.4 343.8h1.3v1.3h-1.3zM127.9 333.1h1.3v1.3h-1.3zM133.7 345.0h1.3v1.3h-1.3zM124.1 344.1h1.3v1.3h-1.3zM123.3 345.7h1.3v1.3h-1.3zM125.9 335.1h1.3v1.3h-1.3zM125.1 335.3h1.3v1.3h-1.3zM128.0 340.5h1.3v1.3h-1.3zM127.2 336.4h1.3v1.3h-1.3zM108.7 340.0h1.3v1.3h-1.3zM117.5 340.8h1.3v1.3h-1.3zM132.7 341.0h1.3v1.3h-1.3zM125.1 338.5h1.3v1.3h-1.3zM126.3 336.5h1.3v1.3h-1.3zM124.1 334.4h1.3v1.3h-1.3zM132.9 339.4h1.3v1.3h-1.3zM131.8 338.1h1.3v1.3h-1.3zM127.4 338.6h1.3v1.3h-1.3zM129.3 344.0h1.3v1.3h-1.3zM128.2 335.8h1.3v1.3h-1.3zM123.1 348.6h1.3v1.3h-1.3zM125.6 337.9h1.3v1.3h-1.3zM134.3 345.5h1.3v1.3h-1.3zM129.7 337.3h1.3v1.3h-1.3zM138.8 341.7h1.3v1.3h-1.3zM129.7 338.6h1.3v1.3h-1.3zM119.9 332.2h1.3v1.3h-1.3zM129.0 341.7h1.3v1.3h-1.3zM125.8 333.1h1.3v1.3h-1.3zM119.8 337.7h1.3v1.3h-1.3zM119.7 344.4h1.3v1.3h-1.3zM132.8 355.1h1.3v1.3h-1.3zM131.4 336.2h1.3v1.3h-1.3zM122.6 320.5h1.3v1.3h-1.3zM124.0 338.5h1.3v1.3h-1.3zM131.8 342.9h1.3v1.3h-1.3zM129.9 340.7h1.3v1.3h-1.3zM130.3 347.5h1.3v1.3h-1.3zM121.7 337.0h1.3v1.3h-1.3zM120.1 348.4h1.3v1.3h-1.3zM133.5 343.6h1.3v1.3h-1.3zM121.0 340.5h1.3v1.3h-1.3zM125.8 339.9h1.3v1.3h-1.3zM126.1 342.4h1.3v1.3h-1.3zM125.0 344.2h1.3v1.3h-1.3zM128.2 337.9h1.3v1.3h-1.3zM126.4 337.1h1.3v1.3h-1.3zM131.1 338.0h1.3v1.3h-1.3zM128.5 337.3h1.3v1.3h-1.3zM119.6 344.5h1.3v1.3h-1.3zM121.7 343.2h1.3v1.3h-1.3zM129.1 330.4h1.3v1.3h-1.3zM122.3 336.7h1.3v1.3h-1.3zM122.9 333.0h1.3v1.3h-1.3zM130.7 338.2h1.3v1.3h-1.3zM128.9 337.1h1.3v1.3h-1.3zM128.5 335.4h1.3v1.3h-1.3zM126.9 342.7h1.3v1.3h-1.3zM127.2 337.0h1.3v1.3h-1.3zM121.6 340.4h1.3v1.3h-1.3zM128.7 338.1h1.3v1.3h-1.3zM123.2 342.5h1.3v1.3h-1.3zM139.4 337.8h1.3v1.3h-1.3zM128.7 341.6h1.3v1.3h-1.3zM114.2 340.2h1.3v1.3h-1.3zM123.5 347.1h1.3v1.3h-1.3zM125.7 335.2h1.3v1.3h-1.3zM125.9 340.4h1.3v1.3h-1.3zM124.2 339.2h1.3v1.3h-1.3zM120.2 338.3h1.3v1.3h-1.3zM130.9 350.3h1.3v1.3h-1.3zM130.5 341.0h1.3v1.3h-1.3zM132.9 345.1h1.3v1.3h-1.3zM135.3 345.5h1.3v1.3h-1.3zM126.4 340.9h1.3v1.3h-1.3zM127.9 341.2h1.3v1.3h-1.3zM128.0 335.2h1.3v1.3h-1.3zM116.5 335.8h1.3v1.3h-1.3zM116.9 339.9h1.3v1.3h-1.3zM127.0 330.3h1.3v1.3h-1.3zM130.4 344.3h1.3v1.3h-1.3zM127.5 348.7h1.3v1.3h-1.3zM136.4 332.9h1.3v1.3h-1.3zM132.2 341.9h1.3v1.3h-1.3zM129.1 344.6h1.3v1.3h-1.3zM123.4 336.2h1.3v1.3h-1.3zM122.9 335.3h1.3v1.3h-1.3zM126.5 331.5h1.3v1.3h-1.3zM121.8 342.7h1.3v1.3h-1.3zM126.6 341.6h1.3v1.3h-1.3zM117.6 335.2h1.3v1.3h-1.3zM124.2 339.7h1.3v1.3h-1.3zM124.1 344.6h1.3v1.3h-1.3zM126.7 339.6h1.3v1.3h-1.3zM127.1 343.4h1.3v1.3h-1.3zM124.6 345.7h1.3v1.3h-1.3zM129.3 340.3h1.3v1.3h-1.3zM127.2 342.4h1.3v1.3h-1.3zM132.1 344.7h1.3v1.3h-1.3zM128.9 344.3h1.3v1.3h-1.3zM127.6 346.4h1.3v1.3h-1.3zM126.9 328.1h1.3v1.3h-1.3zM133.7 340.1h1.3v1.3h-1.3zM121.1 338.4h1.3v1.3h-1.3zM122.6 351.1h1.3v1.3h-1.3zM129.5 330.9h1.3v1.3h-1.3zM129.7 337.3h1.3v1.3h-1.3zM136.6 333.7h1.3v1.3h-1.3zM115.8 339.9h1.3v1.3h-1.3zM125.3 337.2h1.3v1.3h-1.3zM116.3 341.8h1.3v1.3h-1.3zM135.4 329.0h1.3v1.3h-1.3zM132.9 336.4h1.3v1.3h-1.3zM138.7 341.9h1.3v1.3h-1.3zM126.1 345.6h1.3v1.3h-1.3zM129.6 336.2h1.3v1.3h-1.3zM130.6 336.7h1.3v1.3h-1.3zM118.1 350.7h1.3v1.3h-1.3zM125.3 336.2h1.3v1.3h-1.3zM128.7 330.9h1.3v1.3h-1.3zM120.2 336.8h1.3v1.3h-1.3zM124.4 339.9h1.3v1.3h-1.3zM132.6 336.9h1.3v1.3h-1.3zM129.5 342.8h1.3v1.3h-1.3zM121.6 340.8h1.3v1.3h-1.3zM122.3 345.4h1.3v1.3h-1.3zM129.3 339.6h1.3v1.3h-1.3zM120.3 340.1h1.3v1.3h-1.3zM123.2 343.4h1.3v1.3h-1.3zM126.4 335.0h1.3v1.3h-1.3zM131.6 343.5h1.3v1.3h-1.3zM124.0 345.9h1.3v1.3h-1.3zM125.5 337.8h1.3v1.3h-1.3zM127.6 335.4h1.3v1.3h-1.3zM124.8 338.6h1.3v1.3h-1.3zM134.7 347.7h1.3v1.3h-1.3zM125.7 348.4h1.3v1.3h-1.3zM126.8 341.6h1.3v1.3h-1.3zM131.4 341.1h1.3v1.3h-1.3zM139.1 340.8h1.3v1.3h-1.3zM121.0 346.7h1.3v1.3h-1.3zM124.9 337.8h1.3v1.3h-1.3zM112.0 345.0h1.3v1.3h-1.3zM131.1 343.9h1.3v1.3h-1.3zM131.9 348.8h1.3v1.3h-1.3zM126.8 344.7h1.3v1.3h-1.3zM123.3 337.6h1.3v1.3h-1.3zM132.3 341.7h1.3v1.3h-1.3zM120.3 341.5h1.3v1.3h-1.3zM126.1 335.0h1.3v1.3h-1.3zM129.2 337.3h1.3v1.3h-1.3zM119.1 333.4h1.3v1.3h-1.3zM135.8 331.2h1.3v1.3h-1.3zM128.1 342.9h1.3v1.3h-1.3zM130.2 332.8h1.3v1.3h-1.3zM125.4 340.3h1.3v1.3h-1.3zM131.0 336.0h1.3v1.3h-1.3zM121.2 345.0h1.3v1.3h-1.3zM132.5 341.5h1.3v1.3h-1.3zM124.0 341.7h1.3v1.3h-1.3zM127.5 344.1h1.3v1.3h-1.3zM120.8 340.1h1.3v1.3h-1.3zM126.2 333.4h1.3v1.3h-1.3zM128.1 339.7h1.3v1.3h-1.3zM124.9 341.7h1.3v1.3h-1.3zM119.9 339.2h1.3v1.3h-1.3zM129.2 341.1h1.3v1.3h-1.3zM132.4 332.9h1.3v1.3h-1.3zM119.5 340.8h1.3v1.3h-1.3zM129.3 351.2h1.3v1.3h-1.3zM130.1 334.7h1.3v1.3h-1.3zM131.0 334.8h1.3v1.3h-1.3zM119.6 353.9h1.3v1.3h-1.3zM128.6 343.4h1.3v1.3h-1.3zM129.8 349.5h1.3v1.3h-1.3zM128.4 346.2h1.3v1.3h-1.3zM121.9 331.8h1.3v1.3h-1.3zM134.1 347.6h1.3v1.3h-1.3zM129.6 340.7h1.3v1.3h-1.3zM127.8 335.7h1.3v1.3h-1.3zM134.7 343.1h1.3v1.3h-1.3zM129.5 341.6h1.3v1.3h-1.3zM132.2 342.3h1.3v1.3h-1.3zM130.7 333.1h1.3v1.3h-1.3zM129.6 351.5h1.3v1.3h-1.3zM124.4 338.8h1.3v1.3h-1.3zM131.5 344.8h1.3v1.3h-1.3zM130.1 330.6h1.3v1.3h-1.3zM129.5 333.0h1.3v1.3h-1.3zM122.9 342.5h1.3v1.3h-1.3zM125.5 344.0h1.3v1.3h-1.3zM142.7 343.8h1.3v1.3h-1.3zM130.6 334.6h1.3v1.3h-1.3zM123.8 333.6h1.3v1.3h-1.3zM124.3 333.5h1.3v1.3h-1.3zM123.7 338.4h1.3v1.3h-1.3zM122.0 331.7h1.3v1.3h-1.3zM120.2 342.0h1.3v1.3h-1.3zM127.3 345.1h1.3v1.3h-1.3zM132.2 337.6h1.3v1.3h-1.3zM130.4 331.6h1.3v1.3h-1.3zM138.4 346.1h1.3v1.3h-1.3zM125.9 333.1h1.3v1.3h-1.3zM128.9 329.2h1.3v1.3h-1.3zM123.1 343.6h1.3v1.3h-1.3zM127.4 336.8h1.3v1.3h-1.3zM131.8 333.8h1.3v1.3h-1.3zM128.4 336.8h1.3v1.3h-1.3zM122.8 342.0h1.3v1.3h-1.3zM122.0 350.0h1.3v1.3h-1.3zM124.1 350.4h1.3v1.3h-1.3zM121.5 342.8h1.3v1.3h-1.3zM121.0 332.1h1.3v1.3h-1.3zM127.8 343.2h1.3v1.3h-1.3zM120.6 346.0h1.3v1.3h-1.3zM123.0 340.2h1.3v1.3h-1.3zM128.9 342.8h1.3v1.3h-1.3zM118.0 348.4h1.3v1.3h-1.3zM129.8 337.2h1.3v1.3h-1.3zM121.9 330.2h1.3v1.3h-1.3zM120.2 342.5h1.3v1.3h-1.3zM125.3 333.3h1.3v1.3h-1.3zM124.4 348.1h1.3v1.3h-1.3zM125.3 336.3h1.3v1.3h-1.3zM133.8 342.0h1.3v1.3h-1.3zM127.2 336.2h1.3v1.3h-1.3zM119.2 333.1h1.3v1.3h-1.3zM124.6 338.3h1.3v1.3h-1.3zM128.8 342.5h1.3v1.3h-1.3zM128.1 340.7h1.3v1.3h-1.3zM122.0 327.6h1.3v1.3h-1.3zM124.4 334.3h1.3v1.3h-1.3zM123.7 338.0h1.3v1.3h-1.3zM120.8 333.4h1.3v1.3h-1.3zM126.5 340.1h1.3v1.3h-1.3zM123.7 342.2h1.3v1.3h-1.3zM125.9 333.9h1.3v1.3h-1.3zM127.2 349.9h1.3v1.3h-1.3zM123.6 345.9h1.3v1.3h-1.3zM133.9 347.7h1.3v1.3h-1.3zM122.9 350.6h1.3v1.3h-1.3zM127.6 338.1h1.3v1.3h-1.3zM125.8 342.8h1.3v1.3h-1.3zM127.3 338.5h1.3v1.3h-1.3zM133.4 335.5h1.3v1.3h-1.3zM121.8 343.9h1.3v1.3h-1.3zM130.5 345.5h1.3v1.3h-1.3zM121.6 345.4h1.3v1.3h-1.3zM129.4 349.2h1.3v1.3h-1.3zM120.8 340.7h1.3v1.3h-1.3zM125.6 330.8h1.3v1.3h-1.3zM123.4 345.7h1.3v1.3h-1.3zM124.7 335.5h1.3v1.3h-1.3zM131.3 344.9h1.3v1.3h-1.3zM131.9 335.2h1.3v1.3h-1.3zM126.7 345.2h1.3v1.3h-1.3zM123.7 335.4h1.3v1.3h-1.3zM131.1 348.1h1.3v1.3h-1.3zM121.2 325.2h1.3v1.3h-1.3zM119.7 333.9h1.3v1.3h-1.3zM126.3 342.9h1.3v1.3h-1.3zM126.3 335.6h1.3v1.3h-1.3zM127.8 334.2h1.3v1.3h-1.3zM126.8 336.0h1.3v1.3h-1.3zM140.4 344.0h1.3v1.3h-1.3zM122.8 334.0h1.3v1.3h-1.3zM124.8 330.5h1.3v1.3h-1.3zM123.3 335.4h1.3v1.3h-1.3zM131.4 337.2h1.3v1.3h-1.3zM123.0 332.1h1.3v1.3h-1.3zM121.1 339.1h1.3v1.3h-1.3zM125.9 345.7h1.3v1.3h-1.3zM123.9 345.3h1.3v1.3h-1.3zM128.3 339.5h1.3v1.3h-1.3zM117.0 332.4h1.3v1.3h-1.3zM130.7 347.2h1.3v1.3h-1.3zM128.0 343.7h1.3v1.3h-1.3zM125.0 337.5h1.3v1.3h-1.3zM123.7 344.9h1.3v1.3h-1.3zM128.7 338.2h1.3v1.3h-1.3zM125.4 342.6h1.3v1.3h-1.3zM128.6 334.9h1.3v1.3h-1.3zM135.6 340.9h1.3v1.3h-1.3zM127.1 347.6h1.3v1.3h-1.3zM132.1 339.0h1.3v1.3h-1.3zM129.7 333.6h1.3v1.3h-1.3zM123.8 327.1h1.3v1.3h-1.3zM133.1 329.1h1.3v1.3h-1.3zM130.4 334.9h1.3v1.3h-1.3zM122.1 338.4h1.3v1.3h-1.3zM128.3 342.9h1.3v1.3h-1.3zM135.9 341.5h1.3v1.3h-1.3zM131.4 336.2h1.3v1.3h-1.3zM130.6 340.3h1.3v1.3h-1.3zM124.7 339.0h1.3v1.3h-1.3zM126.7 340.6h1.3v1.3h-1.3zM129.0 336.7h1.3v1.3h-1.3zM121.1 342.0h1.3v1.3h-1.3zM113.4 331.1h1.3v1.3h-1.3zM139.4 314.3h1.3v1.3h-1.3zM121.5 341.5h1.3v1.3h-1.3zM113.8 356.8h1.3v1.3h-1.3zM106.3 347.5h1.3v1.3h-1.3zM139.5 343.3h1.3v1.3h-1.3zM125.2 338.9h1.3v1.3h-1.3zM119.8 342.5h1.3v1.3h-1.3zM118.0 333.8h1.3v1.3h-1.3zM135.0 327.1h1.3v1.3h-1.3zM124.1 337.3h1.3v1.3h-1.3zM116.3 345.3h1.3v1.3h-1.3zM129.7 323.9h1.3v1.3h-1.3zM126.6 329.8h1.3v1.3h-1.3zM121.7 336.6h1.3v1.3h-1.3zM121.3 343.7h1.3v1.3h-1.3zM121.4 343.9h1.3v1.3h-1.3zM126.6 342.8h1.3v1.3h-1.3zM122.7 332.0h1.3v1.3h-1.3zM117.8 340.6h1.3v1.3h-1.3zM134.5 353.0h1.3v1.3h-1.3zM137.3 338.0h1.3v1.3h-1.3zM125.3 339.1h1.3v1.3h-1.3zM126.8 347.7h1.3v1.3h-1.3zM134.6 329.3h1.3v1.3h-1.3zM121.5 346.9h1.3v1.3h-1.3zM129.5 334.1h1.3v1.3h-1.3zM136.5 332.9h1.3v1.3h-1.3zM124.8 332.3h1.3v1.3h-1.3zM111.3 342.9h1.3v1.3h-1.3zM117.3 331.5h1.3v1.3h-1.3zM121.0 341.8h1.3v1.3h-1.3zM126.5 336.1h1.3v1.3h-1.3zM113.6 335.3h1.3v1.3h-1.3zM115.2 338.5h1.3v1.3h-1.3zM129.9 335.9h1.3v1.3h-1.3zM143.3 340.2h1.3v1.3h-1.3zM131.8 337.1h1.3v1.3h-1.3zM125.5 343.7h1.3v1.3h-1.3zM135.8 325.6h1.3v1.3h-1.3zM135.4 340.1h1.3v1.3h-1.3zM134.7 339.7h1.3v1.3h-1.3zM117.0 326.6h1.3v1.3h-1.3zM141.6 338.0h1.3v1.3h-1.3zM115.7 338.8h1.3v1.3h-1.3zM124.1 321.3h1.3v1.3h-1.3zM108.7 323.2h1.3v1.3h-1.3zM129.2 335.6h1.3v1.3h-1.3zM125.0 338.3h1.3v1.3h-1.3zM131.8 319.2h1.3v1.3h-1.3zM124.6 329.4h1.3v1.3h-1.3zM117.1 331.6h1.3v1.3h-1.3zM126.0 333.9h1.3v1.3h-1.3zM115.4 332.1h1.3v1.3h-1.3zM143.1 327.6h1.3v1.3h-1.3zM113.5 338.2h1.3v1.3h-1.3zM131.8 339.7h1.3v1.3h-1.3zM118.0 344.0h1.3v1.3h-1.3zM120.7 326.9h1.3v1.3h-1.3zM122.1 335.1h1.3v1.3h-1.3zM132.7 341.0h1.3v1.3h-1.3zM126.8 343.5h1.3v1.3h-1.3zM127.7 343.2h1.3v1.3h-1.3zM115.8 323.4h1.3v1.3h-1.3zM133.2 324.9h1.3v1.3h-1.3zM124.6 335.2h1.3v1.3h-1.3zM123.1 332.4h1.3v1.3h-1.3zM138.1 315.8h1.3v1.3h-1.3zM134.1 354.4h1.3v1.3h-1.3zM128.1 310.8h1.3v1.3h-1.3zM132.6 327.5h1.3v1.3h-1.3zM120.5 311.8h1.3v1.3h-1.3zM126.8 316.0h1.3v1.3h-1.3zM129.0 316.9h1.3v1.3h-1.3zM125.3 311.4h1.3v1.3h-1.3zM123.8 305.0h1.3v1.3h-1.3zM127.1 309.7h1.3v1.3h-1.3zM120.6 325.1h1.3v1.3h-1.3zM127.1 298.5h1.3v1.3h-1.3zM134.9 304.3h1.3v1.3h-1.3zM131.2 310.8h1.3v1.3h-1.3zM129.6 312.5h1.3v1.3h-1.3zM124.4 311.4h1.3v1.3h-1.3zM140.8 290.9h1.3v1.3h-1.3zM128.4 314.9h1.3v1.3h-1.3zM121.4 298.7h1.3v1.3h-1.3zM141.6 307.7h1.3v1.3h-1.3zM141.1 315.8h1.3v1.3h-1.3zM128.5 315.3h1.3v1.3h-1.3zM132.0 321.6h1.3v1.3h-1.3zM130.7 312.3h1.3v1.3h-1.3zM129.1 323.2h1.3v1.3h-1.3zM133.1 302.0h1.3v1.3h-1.3zM124.0 314.0h1.3v1.3h-1.3zM124.1 307.6h1.3v1.3h-1.3zM122.0 308.6h1.3v1.3h-1.3zM130.7 320.0h1.3v1.3h-1.3zM128.1 329.7h1.3v1.3h-1.3zM127.5 339.7h1.3v1.3h-1.3zM134.3 315.5h1.3v1.3h-1.3zM124.9 285.6h1.3v1.3h-1.3zM127.0 312.6h1.3v1.3h-1.3zM140.1 298.6h1.3v1.3h-1.3zM140.0 308.7h1.3v1.3h-1.3zM132.6 288.1h1.3v1.3h-1.3zM128.9 307.9h1.3v1.3h-1.3zM132.3 311.8h1.3v1.3h-1.3zM120.8 319.5h1.3v1.3h-1.3zM132.4 316.4h1.3v1.3h-1.3zM134.4 320.9h1.3v1.3h-1.3zM127.9 298.8h1.3v1.3h-1.3zM119.3 323.1h1.3v1.3h-1.3zM132.5 311.9h1.3v1.3h-1.3zM125.3 311.3h1.3v1.3h-1.3zM128.2 308.0h1.3v1.3h-1.3zM123.6 330.5h1.3v1.3h-1.3zM129.4 305.5h1.3v1.3h-1.3zM119.8 304.5h1.3v1.3h-1.3zM132.5 317.8h1.3v1.3h-1.3zM126.6 311.5h1.3v1.3h-1.3zM126.1 301.0h1.3v1.3h-1.3zM136.2 314.4h1.3v1.3h-1.3zM143.6 304.2h1.3v1.3h-1.3zM127.1 318.9h1.3v1.3h-1.3zM126.5 298.5h1.3v1.3h-1.3zM122.0 311.9h1.3v1.3h-1.3zM130.2 310.1h1.3v1.3h-1.3zM134.3 319.9h1.3v1.3h-1.3zM130.0 311.2h1.3v1.3h-1.3zM126.4 316.0h1.3v1.3h-1.3zM133.8 311.5h1.3v1.3h-1.3zM130.8 308.1h1.3v1.3h-1.3zM119.1 302.0h1.3v1.3h-1.3zM132.8 315.0h1.3v1.3h-1.3zM138.0 311.5h1.3v1.3h-1.3zM133.4 322.9h1.3v1.3h-1.3zM134.3 305.5h1.3v1.3h-1.3zM126.8 312.2h1.3v1.3h-1.3zM121.8 315.3h1.3v1.3h-1.3zM134.5 306.7h1.3v1.3h-1.3zM140.4 308.4h1.3v1.3h-1.3zM126.7 308.9h1.3v1.3h-1.3zM123.5 314.8h1.3v1.3h-1.3zM128.1 326.0h1.3v1.3h-1.3zM131.8 315.8h1.3v1.3h-1.3zM126.6 298.3h1.3v1.3h-1.3zM127.4 303.3h1.3v1.3h-1.3zM134.0 310.7h1.3v1.3h-1.3zM138.5 317.6h1.3v1.3h-1.3zM133.3 313.1h1.3v1.3h-1.3zM129.3 316.9h1.3v1.3h-1.3zM133.8 304.6h1.3v1.3h-1.3zM131.1 334.6h1.3v1.3h-1.3zM127.4 308.7h1.3v1.3h-1.3zM123.6 298.0h1.3v1.3h-1.3zM135.5 311.5h1.3v1.3h-1.3zM129.9 327.6h1.3v1.3h-1.3zM143.8 303.0h1.3v1.3h-1.3zM134.6 316.6h1.3v1.3h-1.3zM130.5 315.3h1.3v1.3h-1.3zM127.9 325.3h1.3v1.3h-1.3zM131.9 314.1h1.3v1.3h-1.3zM135.9 319.1h1.3v1.3h-1.3zM130.9 314.0h1.3v1.3h-1.3zM139.1 315.6h1.3v1.3h-1.3zM127.5 303.3h1.3v1.3h-1.3zM125.9 301.6h1.3v1.3h-1.3zM128.7 313.3h1.3v1.3h-1.3zM115.1 311.2h1.3v1.3h-1.3zM132.1 312.5h1.3v1.3h-1.3zM122.0 322.4h1.3v1.3h-1.3zM123.6 300.0h1.3v1.3h-1.3zM121.2 310.9h1.3v1.3h-1.3zM134.2 321.5h1.3v1.3h-1.3zM129.3 300.3h1.3v1.3h-1.3zM123.9 302.9h1.3v1.3h-1.3zM126.9 295.0h1.3v1.3h-1.3zM128.7 316.8h1.3v1.3h-1.3zM127.1 315.2h1.3v1.3h-1.3zM122.1 297.9h1.3v1.3h-1.3zM124.0 321.4h1.3v1.3h-1.3zM134.5 306.9h1.3v1.3h-1.3zM135.6 308.1h1.3v1.3h-1.3zM137.5 315.4h1.3v1.3h-1.3zM125.2 318.2h1.3v1.3h-1.3zM123.1 302.6h1.3v1.3h-1.3zM118.9 313.3h1.3v1.3h-1.3zM127.7 310.3h1.3v1.3h-1.3zM125.4 323.9h1.3v1.3h-1.3zM125.3 304.5h1.3v1.3h-1.3zM135.9 323.8h1.3v1.3h-1.3zM130.1 295.3h1.3v1.3h-1.3zM124.2 316.5h1.3v1.3h-1.3zM128.1 325.0h1.3v1.3h-1.3zM119.4 317.1h1.3v1.3h-1.3zM124.0 322.9h1.3v1.3h-1.3zM127.5 320.3h1.3v1.3h-1.3zM123.9 298.3h1.3v1.3h-1.3zM121.0 305.5h1.3v1.3h-1.3zM121.5 321.8h1.3v1.3h-1.3zM136.4 313.5h1.3v1.3h-1.3zM121.5 309.9h1.3v1.3h-1.3zM123.7 324.1h1.3v1.3h-1.3zM130.0 315.4h1.3v1.3h-1.3zM125.5 292.9h1.3v1.3h-1.3zM123.1 301.0h1.3v1.3h-1.3zM130.3 311.9h1.3v1.3h-1.3zM122.9 307.5h1.3v1.3h-1.3zM137.9 302.4h1.3v1.3h-1.3zM122.2 308.9h1.3v1.3h-1.3zM123.6 307.1h1.3v1.3h-1.3zM131.3 326.6h1.3v1.3h-1.3zM116.8 310.8h1.3v1.3h-1.3zM128.3 310.2h1.3v1.3h-1.3zM126.8 307.9h1.3v1.3h-1.3zM134.3 306.8h1.3v1.3h-1.3zM127.2 311.0h1.3v1.3h-1.3zM128.7 309.5h1.3v1.3h-1.3zM134.3 310.9h1.3v1.3h-1.3zM129.1 310.5h1.3v1.3h-1.3zM121.7 303.5h1.3v1.3h-1.3zM121.4 312.7h1.3v1.3h-1.3zM123.5 301.4h1.3v1.3h-1.3zM129.5 315.7h1.3v1.3h-1.3zM116.9 326.2h1.3v1.3h-1.3zM128.2 310.1h1.3v1.3h-1.3zM134.7 311.6h1.3v1.3h-1.3zM124.2 330.8h1.3v1.3h-1.3zM121.2 310.1h1.3v1.3h-1.3zM133.3 301.4h1.3v1.3h-1.3zM127.4 314.5h1.3v1.3h-1.3zM143.1 303.0h1.3v1.3h-1.3zM127.7 316.9h1.3v1.3h-1.3zM128.5 300.2h1.3v1.3h-1.3zM130.6 312.0h1.3v1.3h-1.3zM130.8 321.2h1.3v1.3h-1.3zM134.4 314.7h1.3v1.3h-1.3zM130.0 301.1h1.3v1.3h-1.3zM127.2 313.0h1.3v1.3h-1.3zM125.5 311.9h1.3v1.3h-1.3zM122.8 324.8h1.3v1.3h-1.3zM141.6 307.5h1.3v1.3h-1.3zM130.5 308.9h1.3v1.3h-1.3zM136.0 314.9h1.3v1.3h-1.3zM128.5 309.0h1.3v1.3h-1.3zM128.8 302.0h1.3v1.3h-1.3zM132.3 304.6h1.3v1.3h-1.3zM131.4 312.2h1.3v1.3h-1.3zM134.9 310.8h1.3v1.3h-1.3zM147.9 338.6h1.3v1.3h-1.3zM149.5 337.2h1.3v1.3h-1.3zM156.7 326.5h1.3v1.3h-1.3zM151.7 330.0h1.3v1.3h-1.3zM148.2 329.2h1.3v1.3h-1.3zM154.9 330.1h1.3v1.3h-1.3zM161.6 330.7h1.3v1.3h-1.3zM163.3 319.5h1.3v1.3h-1.3zM167.8 326.7h1.3v1.3h-1.3zM161.1 321.1h1.3v1.3h-1.3zM149.0 328.7h1.3v1.3h-1.3zM162.1 318.7h1.3v1.3h-1.3zM163.5 333.6h1.3v1.3h-1.3zM145.8 333.9h1.3v1.3h-1.3zM167.1 324.4h1.3v1.3h-1.3zM146.6 330.6h1.3v1.3h-1.3zM161.1 330.6h1.3v1.3h-1.3zM156.5 320.1h1.3v1.3h-1.3zM165.6 324.3h1.3v1.3h-1.3zM162.4 334.5h1.3v1.3h-1.3zM166.9 322.0h1.3v1.3h-1.3zM142.6 335.3h1.3v1.3h-1.3zM143.1 337.7h1.3v1.3h-1.3zM145.0 330.8h1.3v1.3h-1.3zM156.6 328.6h1.3v1.3h-1.3zM153.9 333.6h1.3v1.3h-1.3zM143.5 335.6h1.3v1.3h-1.3zM147.0 334.6h1.3v1.3h-1.3zM156.1 327.3h1.3v1.3h-1.3zM152.4 331.8h1.3v1.3h-1.3zM161.7 326.3h1.3v1.3h-1.3zM155.9 334.6h1.3v1.3h-1.3zM165.8 326.9h1.3v1.3h-1.3zM161.1 325.3h1.3v1.3h-1.3zM150.5 321.6h1.3v1.3h-1.3zM151.8 333.7h1.3v1.3h-1.3zM148.0 335.7h1.3v1.3h-1.3zM147.5 329.2h1.3v1.3h-1.3zM147.5 324.9h1.3v1.3h-1.3zM149.0 327.6h1.3v1.3h-1.3zM147.3 336.7h1.3v1.3h-1.3zM152.1 326.4h1.3v1.3h-1.3zM143.3 333.1h1.3v1.3h-1.3zM164.8 325.4h1.3v1.3h-1.3zM157.8 332.8h1.3v1.3h-1.3zM143.5 334.7h1.3v1.3h-1.3zM149.7 331.4h1.3v1.3h-1.3zM147.0 330.9h1.3v1.3h-1.3zM147.8 339.3h1.3v1.3h-1.3zM155.6 333.2h1.3v1.3h-1.3zM145.8 333.3h1.3v1.3h-1.3zM142.9 329.5h1.3v1.3h-1.3zM158.7 324.3h1.3v1.3h-1.3zM153.5 332.3h1.3v1.3h-1.3zM158.0 324.9h1.3v1.3h-1.3zM155.1 332.8h1.3v1.3h-1.3zM155.2 330.6h1.3v1.3h-1.3zM149.8 332.9h1.3v1.3h-1.3zM153.5 332.6h1.3v1.3h-1.3zM154.8 331.4h1.3v1.3h-1.3zM148.9 328.8h1.3v1.3h-1.3zM162.8 324.2h1.3v1.3h-1.3zM151.3 340.4h1.3v1.3h-1.3zM145.1 329.2h1.3v1.3h-1.3zM149.6 330.0h1.3v1.3h-1.3zM163.9 329.2h1.3v1.3h-1.3zM163.6 324.5h1.3v1.3h-1.3zM155.0 326.0h1.3v1.3h-1.3zM148.7 327.0h1.3v1.3h-1.3zM159.4 329.3h1.3v1.3h-1.3zM164.9 328.6h1.3v1.3h-1.3zM149.7 337.4h1.3v1.3h-1.3zM159.1 327.5h1.3v1.3h-1.3zM161.8 330.2h1.3v1.3h-1.3zM149.9 327.6h1.3v1.3h-1.3zM145.2 334.7h1.3v1.3h-1.3zM156.3 325.9h1.3v1.3h-1.3zM146.9 333.8h1.3v1.3h-1.3zM152.1 333.7h1.3v1.3h-1.3zM157.4 332.4h1.3v1.3h-1.3zM165.4 320.3h1.3v1.3h-1.3zM146.9 338.2h1.3v1.3h-1.3zM142.2 333.5h1.3v1.3h-1.3zM153.9 325.7h1.3v1.3h-1.3zM166.2 323.2h1.3v1.3h-1.3zM140.0 330.7h1.3v1.3h-1.3zM158.3 327.7h1.3v1.3h-1.3zM142.2 336.6h1.3v1.3h-1.3zM155.6 328.2h1.3v1.3h-1.3zM145.1 336.2h1.3v1.3h-1.3zM158.3 326.4h1.3v1.3h-1.3zM150.8 331.3h1.3v1.3h-1.3zM156.4 322.8h1.3v1.3h-1.3zM148.0 332.8h1.3v1.3h-1.3zM141.7 332.3h1.3v1.3h-1.3zM145.2 332.2h1.3v1.3h-1.3zM148.2 332.1h1.3v1.3h-1.3zM145.7 334.5h1.3v1.3h-1.3zM143.8 328.1h1.3v1.3h-1.3zM153.3 323.9h1.3v1.3h-1.3zM152.3 329.3h1.3v1.3h-1.3zM164.0 326.8h1.3v1.3h-1.3zM155.0 330.7h1.3v1.3h-1.3zM157.0 331.9h1.3v1.3h-1.3zM162.2 331.0h1.3v1.3h-1.3zM164.8 326.5h1.3v1.3h-1.3zM156.8 328.3h1.3v1.3h-1.3zM140.4 332.2h1.3v1.3h-1.3zM151.9 327.0h1.3v1.3h-1.3zM141.1 334.1h1.3v1.3h-1.3zM157.7 329.0h1.3v1.3h-1.3zM143.1 335.9h1.3v1.3h-1.3zM155.6 329.0h1.3v1.3h-1.3zM144.8 333.6h1.3v1.3h-1.3zM165.1 326.9h1.3v1.3h-1.3zM143.9 335.4h1.3v1.3h-1.3zM159.3 328.4h1.3v1.3h-1.3zM160.5 327.9h1.3v1.3h-1.3zM147.6 330.7h1.3v1.3h-1.3zM155.4 325.0h1.3v1.3h-1.3zM150.7 333.3h1.3v1.3h-1.3zM148.6 334.0h1.3v1.3h-1.3zM147.7 331.9h1.3v1.3h-1.3zM140.8 334.4h1.3v1.3h-1.3zM162.7 334.6h1.3v1.3h-1.3zM141.8 332.6h1.3v1.3h-1.3zM146.0 332.7h1.3v1.3h-1.3zM143.8 335.7h1.3v1.3h-1.3zM160.9 321.8h1.3v1.3h-1.3zM155.5 329.5h1.3v1.3h-1.3zM156.4 335.8h1.3v1.3h-1.3zM158.2 331.4h1.3v1.3h-1.3zM163.8 327.5h1.3v1.3h-1.3zM158.8 329.8h1.3v1.3h-1.3zM155.0 329.7h1.3v1.3h-1.3zM151.0 335.0h1.3v1.3h-1.3zM154.7 328.8h1.3v1.3h-1.3zM167.0 321.8h1.3v1.3h-1.3zM156.5 328.9h1.3v1.3h-1.3zM155.3 332.7h1.3v1.3h-1.3zM165.5 325.5h1.3v1.3h-1.3zM143.5 337.5h1.3v1.3h-1.3zM139.5 328.6h1.3v1.3h-1.3zM164.2 329.6h1.3v1.3h-1.3zM170.1 331.3h1.3v1.3h-1.3zM144.5 339.7h1.3v1.3h-1.3zM141.2 334.7h1.3v1.3h-1.3zM139.9 333.1h1.3v1.3h-1.3zM157.0 329.4h1.3v1.3h-1.3zM143.2 331.0h1.3v1.3h-1.3zM157.3 331.1h1.3v1.3h-1.3zM158.1 325.7h1.3v1.3h-1.3zM142.9 338.9h1.3v1.3h-1.3zM166.6 329.1h1.3v1.3h-1.3zM144.6 326.1h1.3v1.3h-1.3zM156.4 329.7h1.3v1.3h-1.3zM149.5 329.1h1.3v1.3h-1.3zM148.1 327.0h1.3v1.3h-1.3zM150.9 328.8h1.3v1.3h-1.3zM140.8 335.2h1.3v1.3h-1.3zM154.2 333.8h1.3v1.3h-1.3zM145.8 327.6h1.3v1.3h-1.3zM152.3 334.8h1.3v1.3h-1.3zM148.5 340.4h1.3v1.3h-1.3zM151.0 333.6h1.3v1.3h-1.3zM160.7 328.7h1.3v1.3h-1.3zM167.5 323.2h1.3v1.3h-1.3zM144.5 329.6h1.3v1.3h-1.3zM165.2 326.5h1.3v1.3h-1.3zM158.2 329.3h1.3v1.3h-1.3zM144.9 337.1h1.3v1.3h-1.3zM145.4 344.1h1.3v1.3h-1.3zM166.0 326.9h1.3v1.3h-1.3zM148.0 334.3h1.3v1.3h-1.3zM146.3 339.7h1.3v1.3h-1.3zM156.6 323.1h1.3v1.3h-1.3zM158.3 323.1h1.3v1.3h-1.3zM164.6 323.1h1.3v1.3h-1.3zM153.5 327.4h1.3v1.3h-1.3zM150.5 334.2h1.3v1.3h-1.3zM149.1 330.8h1.3v1.3h-1.3zM149.2 339.0h1.3v1.3h-1.3zM160.5 332.7h1.3v1.3h-1.3zM167.6 326.2h1.3v1.3h-1.3zM142.7 333.6h1.3v1.3h-1.3zM152.4 333.0h1.3v1.3h-1.3zM151.8 334.1h1.3v1.3h-1.3zM141.5 331.5h1.3v1.3h-1.3zM157.6 329.4h1.3v1.3h-1.3zM168.6 325.5h1.3v1.3h-1.3zM148.8 333.1h1.3v1.3h-1.3zM163.1 331.6h1.3v1.3h-1.3zM167.2 328.2h1.3v1.3h-1.3zM147.0 329.8h1.3v1.3h-1.3zM166.0 324.5h1.3v1.3h-1.3zM159.9 323.6h1.3v1.3h-1.3zM159.3 329.5h1.3v1.3h-1.3zM144.9 330.7h1.3v1.3h-1.3zM149.9 335.4h1.3v1.3h-1.3zM144.3 335.9h1.3v1.3h-1.3zM166.7 327.5h1.3v1.3h-1.3zM162.6 325.0h1.3v1.3h-1.3zM141.1 330.2h1.3v1.3h-1.3zM158.1 334.8h1.3v1.3h-1.3zM146.5 332.7h1.3v1.3h-1.3zM163.8 330.5h1.3v1.3h-1.3zM157.1 329.9h1.3v1.3h-1.3zM167.6 325.9h1.3v1.3h-1.3zM163.5 332.5h1.3v1.3h-1.3zM144.2 335.8h1.3v1.3h-1.3zM153.3 335.7h1.3v1.3h-1.3zM154.2 323.7h1.3v1.3h-1.3zM167.0 327.0h1.3v1.3h-1.3zM150.6 330.4h1.3v1.3h-1.3zM145.9 333.1h1.3v1.3h-1.3zM148.7 332.3h1.3v1.3h-1.3zM148.2 333.9h1.3v1.3h-1.3zM147.8 339.4h1.3v1.3h-1.3zM147.4 325.5h1.3v1.3h-1.3zM147.8 332.9h1.3v1.3h-1.3zM153.7 327.0h1.3v1.3h-1.3zM167.0 328.2h1.3v1.3h-1.3zM166.1 322.2h1.3v1.3h-1.3zM146.0 335.4h1.3v1.3h-1.3zM155.8 327.3h1.3v1.3h-1.3zM160.2 329.4h1.3v1.3h-1.3zM146.7 337.3h1.3v1.3h-1.3zM154.7 327.8h1.3v1.3h-1.3zM146.5 333.6h1.3v1.3h-1.3zM148.6 326.7h1.3v1.3h-1.3zM150.2 332.8h1.3v1.3h-1.3zM164.3 328.2h1.3v1.3h-1.3zM146.5 331.2h1.3v1.3h-1.3zM157.3 332.6h1.3v1.3h-1.3zM153.6 321.7h1.3v1.3h-1.3zM147.0 325.7h1.3v1.3h-1.3zM163.9 319.4h1.3v1.3h-1.3zM149.2 330.1h1.3v1.3h-1.3zM149.8 331.8h1.3v1.3h-1.3zM159.6 326.7h1.3v1.3h-1.3zM146.6 336.6h1.3v1.3h-1.3zM144.2 326.7h1.3v1.3h-1.3zM139.5 343.6h1.3v1.3h-1.3zM132.9 332.1h1.3v1.3h-1.3zM155.7 335.4h1.3v1.3h-1.3zM142.0 333.0h1.3v1.3h-1.3zM152.2 339.0h1.3v1.3h-1.3zM141.6 336.8h1.3v1.3h-1.3zM148.5 338.5h1.3v1.3h-1.3zM155.3 331.3h1.3v1.3h-1.3zM138.3 335.0h1.3v1.3h-1.3zM157.7 336.4h1.3v1.3h-1.3zM148.4 345.0h1.3v1.3h-1.3zM140.8 337.5h1.3v1.3h-1.3zM143.6 333.2h1.3v1.3h-1.3zM147.5 340.6h1.3v1.3h-1.3zM141.4 330.3h1.3v1.3h-1.3zM137.4 335.4h1.3v1.3h-1.3zM144.3 335.1h1.3v1.3h-1.3zM140.6 331.2h1.3v1.3h-1.3zM153.2 332.1h1.3v1.3h-1.3zM150.8 335.6h1.3v1.3h-1.3zM144.9 325.2h1.3v1.3h-1.3zM152.9 333.9h1.3v1.3h-1.3zM152.9 322.9h1.3v1.3h-1.3zM137.1 322.3h1.3v1.3h-1.3zM141.7 338.2h1.3v1.3h-1.3zM150.4 332.8h1.3v1.3h-1.3zM147.8 336.8h1.3v1.3h-1.3zM145.2 335.0h1.3v1.3h-1.3zM147.8 322.1h1.3v1.3h-1.3zM144.7 339.8h1.3v1.3h-1.3zM144.6 332.3h1.3v1.3h-1.3zM143.4 330.6h1.3v1.3h-1.3zM153.7 331.7h1.3v1.3h-1.3zM140.9 317.4h1.3v1.3h-1.3zM143.6 323.2h1.3v1.3h-1.3zM136.1 337.0h1.3v1.3h-1.3zM151.3 323.4h1.3v1.3h-1.3zM152.1 335.3h1.3v1.3h-1.3zM142.3 336.7h1.3v1.3h-1.3zM137.2 327.0h1.3v1.3h-1.3zM138.4 327.4h1.3v1.3h-1.3zM152.3 326.3h1.3v1.3h-1.3zM140.1 328.2h1.3v1.3h-1.3zM148.2 331.3h1.3v1.3h-1.3zM152.2 329.4h1.3v1.3h-1.3zM139.3 330.5h1.3v1.3h-1.3zM147.2 328.3h1.3v1.3h-1.3zM148.6 342.1h1.3v1.3h-1.3zM143.5 333.2h1.3v1.3h-1.3zM155.1 329.7h1.3v1.3h-1.3zM141.9 327.5h1.3v1.3h-1.3zM149.3 335.5h1.3v1.3h-1.3zM146.0 333.1h1.3v1.3h-1.3zM154.5 337.2h1.3v1.3h-1.3zM138.5 332.9h1.3v1.3h-1.3zM147.5 336.5h1.3v1.3h-1.3zM145.5 329.7h1.3v1.3h-1.3zM144.1 324.0h1.3v1.3h-1.3zM146.7 329.9h1.3v1.3h-1.3zM149.6 327.7h1.3v1.3h-1.3zM144.2 328.0h1.3v1.3h-1.3zM140.4 336.3h1.3v1.3h-1.3zM144.0 335.1h1.3v1.3h-1.3zM140.1 333.3h1.3v1.3h-1.3zM136.6 330.4h1.3v1.3h-1.3zM143.8 335.7h1.3v1.3h-1.3zM147.8 331.9h1.3v1.3h-1.3zM151.8 333.7h1.3v1.3h-1.3zM150.0 336.6h1.3v1.3h-1.3zM146.3 331.3h1.3v1.3h-1.3zM148.7 330.7h1.3v1.3h-1.3zM149.1 338.3h1.3v1.3h-1.3zM151.9 330.9h1.3v1.3h-1.3zM139.0 332.5h1.3v1.3h-1.3zM146.0 338.3h1.3v1.3h-1.3zM144.4 331.7h1.3v1.3h-1.3zM151.1 330.4h1.3v1.3h-1.3zM145.8 341.3h1.3v1.3h-1.3zM155.6 335.9h1.3v1.3h-1.3zM148.3 327.9h1.3v1.3h-1.3zM150.1 333.1h1.3v1.3h-1.3zM148.0 330.2h1.3v1.3h-1.3zM146.6 331.8h1.3v1.3h-1.3zM148.6 339.9h1.3v1.3h-1.3zM148.9 324.5h1.3v1.3h-1.3zM140.9 324.9h1.3v1.3h-1.3zM142.0 335.6h1.3v1.3h-1.3zM149.1 329.8h1.3v1.3h-1.3zM148.3 329.0h1.3v1.3h-1.3zM138.2 325.7h1.3v1.3h-1.3zM141.6 339.8h1.3v1.3h-1.3zM138.7 339.0h1.3v1.3h-1.3zM154.7 331.8h1.3v1.3h-1.3zM146.4 329.7h1.3v1.3h-1.3zM146.6 336.0h1.3v1.3h-1.3zM146.8 337.7h1.3v1.3h-1.3zM153.8 334.5h1.3v1.3h-1.3zM148.7 332.4h1.3v1.3h-1.3zM148.8 327.2h1.3v1.3h-1.3zM149.1 333.8h1.3v1.3h-1.3zM141.5 343.5h1.3v1.3h-1.3zM140.9 328.4h1.3v1.3h-1.3zM148.4 323.1h1.3v1.3h-1.3zM141.9 325.1h1.3v1.3h-1.3zM140.9 332.1h1.3v1.3h-1.3zM148.6 338.2h1.3v1.3h-1.3zM151.5 338.6h1.3v1.3h-1.3zM150.2 330.4h1.3v1.3h-1.3zM153.4 330.3h1.3v1.3h-1.3zM143.0 340.4h1.3v1.3h-1.3zM151.4 333.8h1.3v1.3h-1.3zM151.2 337.1h1.3v1.3h-1.3zM138.5 332.3h1.3v1.3h-1.3zM139.6 333.3h1.3v1.3h-1.3zM142.6 339.5h1.3v1.3h-1.3zM149.8 328.7h1.3v1.3h-1.3zM146.6 326.7h1.3v1.3h-1.3zM146.9 335.5h1.3v1.3h-1.3zM148.2 323.1h1.3v1.3h-1.3zM144.7 335.3h1.3v1.3h-1.3zM148.5 338.5h1.3v1.3h-1.3zM139.0 335.3h1.3v1.3h-1.3zM142.8 333.7h1.3v1.3h-1.3zM149.1 336.1h1.3v1.3h-1.3zM143.2 333.6h1.3v1.3h-1.3zM139.7 325.7h1.3v1.3h-1.3zM150.0 332.4h1.3v1.3h-1.3zM136.9 328.5h1.3v1.3h-1.3zM146.8 340.5h1.3v1.3h-1.3zM152.9 336.7h1.3v1.3h-1.3zM135.9 332.2h1.3v1.3h-1.3zM149.5 334.7h1.3v1.3h-1.3zM149.1 331.5h1.3v1.3h-1.3zM157.2 340.1h1.3v1.3h-1.3zM146.1 327.8h1.3v1.3h-1.3zM159.0 329.9h1.3v1.3h-1.3zM153.8 342.3h1.3v1.3h-1.3zM141.0 334.2h1.3v1.3h-1.3zM144.6 335.3h1.3v1.3h-1.3zM148.6 342.4h1.3v1.3h-1.3zM150.2 332.7h1.3v1.3h-1.3zM153.4 331.3h1.3v1.3h-1.3zM144.5 343.9h1.3v1.3h-1.3zM141.7 330.3h1.3v1.3h-1.3zM146.9 327.4h1.3v1.3h-1.3zM134.0 338.0h1.3v1.3h-1.3zM141.9 330.0h1.3v1.3h-1.3zM144.4 327.8h1.3v1.3h-1.3zM140.2 333.5h1.3v1.3h-1.3zM161.0 336.4h1.3v1.3h-1.3zM151.1 325.2h1.3v1.3h-1.3zM146.5 326.8h1.3v1.3h-1.3zM151.3 331.6h1.3v1.3h-1.3zM146.9 332.3h1.3v1.3h-1.3zM143.1 325.1h1.3v1.3h-1.3zM150.1 325.8h1.3v1.3h-1.3zM139.6 331.2h1.3v1.3h-1.3zM142.4 334.0h1.3v1.3h-1.3zM152.7 333.9h1.3v1.3h-1.3zM147.8 332.8h1.3v1.3h-1.3zM151.8 323.5h1.3v1.3h-1.3zM148.8 328.0h1.3v1.3h-1.3zM139.2 332.7h1.3v1.3h-1.3zM144.3 335.6h1.3v1.3h-1.3zM153.3 321.1h1.3v1.3h-1.3zM146.2 342.5h1.3v1.3h-1.3zM151.9 339.9h1.3v1.3h-1.3zM147.3 325.5h1.3v1.3h-1.3zM173.0 344.2h1.3v1.3h-1.3zM183.9 316.9h1.3v1.3h-1.3zM159.8 313.1h1.3v1.3h-1.3zM179.8 314.4h1.3v1.3h-1.3zM177.7 299.3h1.3v1.3h-1.3zM181.4 302.2h1.3v1.3h-1.3zM148.5 300.3h1.3v1.3h-1.3zM182.8 313.2h1.3v1.3h-1.3zM185.2 344.3h1.3v1.3h-1.3zM154.9 304.6h1.3v1.3h-1.3zM171.0 323.8h1.3v1.3h-1.3zM148.7 307.7h1.3v1.3h-1.3zM169.7 299.7h1.3v1.3h-1.3zM174.1 337.3h1.3v1.3h-1.3zM175.6 304.0h1.3v1.3h-1.3zM180.1 304.4h1.3v1.3h-1.3zM157.0 336.4h1.3v1.3h-1.3zM149.8 309.5h1.3v1.3h-1.3zM178.5 307.3h1.3v1.3h-1.3zM146.1 342.3h1.3v1.3h-1.3zM154.6 307.1h1.3v1.3h-1.3zM154.7 337.1h1.3v1.3h-1.3zM176.8 312.4h1.3v1.3h-1.3zM163.1 324.6h1.3v1.3h-1.3zM179.3 312.6h1.3v1.3h-1.3zM172.4 313.9h1.3v1.3h-1.3zM179.6 341.8h1.3v1.3h-1.3zM177.2 340.7h1.3v1.3h-1.3zM181.1 306.2h1.3v1.3h-1.3zM156.3 332.0h1.3v1.3h-1.3zM159.6 304.6h1.3v1.3h-1.3zM170.8 312.1h1.3v1.3h-1.3zM168.9 301.3h1.3v1.3h-1.3zM176.9 328.5h1.3v1.3h-1.3zM178.2 332.1h1.3v1.3h-1.3zM157.5 333.1h1.3v1.3h-1.3zM150.0 334.4h1.3v1.3h-1.3zM175.4 316.6h1.3v1.3h-1.3zM173.2 306.3h1.3v1.3h-1.3zM156.4 298.2h1.3v1.3h-1.3zM147.3 318.7h1.3v1.3h-1.3zM145.9 341.9h1.3v1.3h-1.3zM155.2 319.1h1.3v1.3h-1.3zM156.2 326.9h1.3v1.3h-1.3zM153.5 341.1h1.3v1.3h-1.3zM147.1 338.5h1.3v1.3h-1.3zM152.0 332.8h1.3v1.3h-1.3zM159.3 325.8h1.3v1.3h-1.3zM148.8 308.9h1.3v1.3h-1.3zM153.5 333.2h1.3v1.3h-1.3zM163.0 317.6h1.3v1.3h-1.3zM179.8 331.2h1.3v1.3h-1.3zM180.7 308.5h1.3v1.3h-1.3zM161.6 342.2h1.3v1.3h-1.3zM150.2 305.7h1.3v1.3h-1.3zM156.0 335.2h1.3v1.3h-1.3zM172.7 339.8h1.3v1.3h-1.3zM161.7 305.1h1.3v1.3h-1.3zM168.4 338.7h1.3v1.3h-1.3zM175.2 328.3h1.3v1.3h-1.3zM172.0 326.4h1.3v1.3h-1.3zM180.2 309.9h1.3v1.3h-1.3zM148.5 313.4h1.3v1.3h-1.3zM157.2 309.0h1.3v1.3h-1.3zM146.4 318.7h1.3v1.3h-1.3zM166.4 328.5h1.3v1.3h-1.3zM170.2 332.2h1.3v1.3h-1.3zM155.4 331.2h1.3v1.3h-1.3zM147.3 314.3h1.3v1.3h-1.3zM164.0 313.8h1.3v1.3h-1.3zM151.9 333.9h1.3v1.3h-1.3zM153.0 343.8h1.3v1.3h-1.3zM160.6 308.4h1.3v1.3h-1.3zM183.7 317.4h1.3v1.3h-1.3zM159.8 311.0h1.3v1.3h-1.3zM174.1 343.8h1.3v1.3h-1.3zM160.3 298.8h1.3v1.3h-1.3zM161.6 339.9h1.3v1.3h-1.3zM150.7 334.1h1.3v1.3h-1.3zM152.6 313.6h1.3v1.3h-1.3zM176.6 330.0h1.3v1.3h-1.3zM162.6 315.4h1.3v1.3h-1.3zM156.7 327.9h1.3v1.3h-1.3zM185.5 318.0h1.3v1.3h-1.3zM181.0 341.0h1.3v1.3h-1.3zM155.8 319.5h1.3v1.3h-1.3zM162.8 336.2h1.3v1.3h-1.3zM168.2 325.1h1.3v1.3h-1.3zM151.8 315.5h1.3v1.3h-1.3zM162.5 343.4h1.3v1.3h-1.3zM156.6 307.2h1.3v1.3h-1.3zM178.2 340.7h1.3v1.3h-1.3zM148.9 344.1h1.3v1.3h-1.3zM185.6 337.9h1.3v1.3h-1.3zM154.7 326.7h1.3v1.3h-1.3zM158.6 327.3h1.3v1.3h-1.3zM148.1 341.6h1.3v1.3h-1.3zM182.4 318.4h1.3v1.3h-1.3zM179.0 336.7h1.3v1.3h-1.3zM147.8 334.4h1.3v1.3h-1.3zM166.7 338.4h1.3v1.3h-1.3zM161.0 318.7h1.3v1.3h-1.3zM169.8 328.7h1.3v1.3h-1.3zM158.8 302.3h1.3v1.3h-1.3zM184.2 301.4h1.3v1.3h-1.3zM153.9 303.1h1.3v1.3h-1.3zM178.6 332.6h1.3v1.3h-1.3zM156.0 314.7h1.3v1.3h-1.3zM171.6 340.7h1.3v1.3h-1.3zM162.5 301.7h1.3v1.3h-1.3zM166.6 306.1h1.3v1.3h-1.3zM166.4 337.3h1.3v1.3h-1.3zM170.7 317.7h1.3v1.3h-1.3zM147.8 308.4h1.3v1.3h-1.3zM147.4 334.7h1.3v1.3h-1.3zM184.8 309.0h1.3v1.3h-1.3zM155.4 343.8h1.3v1.3h-1.3zM159.6 310.9h1.3v1.3h-1.3zM154.8 338.4h1.3v1.3h-1.3zM171.5 320.5h1.3v1.3h-1.3zM95.1 370.1h1.3v1.3h-1.3zM96.4 365.5h1.3v1.3h-1.3zM99.4 368.0h1.3v1.3h-1.3zM101.3 370.1h1.3v1.3h-1.3zM95.7 366.9h1.3v1.3h-1.3zM97.5 362.7h1.3v1.3h-1.3zM94.4 370.7h1.3v1.3h-1.3zM92.4 370.7h1.3v1.3h-1.3zM98.6 366.9h1.3v1.3h-1.3zM99.4 369.0h1.3v1.3h-1.3zM101.7 366.0h1.3v1.3h-1.3zM96.9 366.5h1.3v1.3h-1.3zM103.9 370.6h1.3v1.3h-1.3zM94.6 366.2h1.3v1.3h-1.3zM95.3 367.4h1.3v1.3h-1.3zM91.6 370.9h1.3v1.3h-1.3zM99.1 365.0h1.3v1.3h-1.3zM97.2 365.7h1.3v1.3h-1.3zM97.8 370.8h1.3v1.3h-1.3zM92.6 371.8h1.3v1.3h-1.3zM96.4 372.5h1.3v1.3h-1.3zM99.0 371.6h1.3v1.3h-1.3zM99.5 371.1h1.3v1.3h-1.3zM97.9 364.5h1.3v1.3h-1.3zM99.9 369.8h1.3v1.3h-1.3zM104.6 360.5h1.3v1.3h-1.3zM97.0 371.0h1.3v1.3h-1.3zM93.5 366.6h1.3v1.3h-1.3zM104.7 372.2h1.3v1.3h-1.3zM94.8 372.2h1.3v1.3h-1.3zM101.6 370.0h1.3v1.3h-1.3zM99.0 368.2h1.3v1.3h-1.3zM94.8 365.6h1.3v1.3h-1.3zM100.1 367.9h1.3v1.3h-1.3zM103.8 366.3h1.3v1.3h-1.3zM89.8 366.3h1.3v1.3h-1.3zM98.6 368.7h1.3v1.3h-1.3zM97.9 364.6h1.3v1.3h-1.3zM102.6 365.1h1.3v1.3h-1.3zM100.1 366.4h1.3v1.3h-1.3zM93.8 372.2h1.3v1.3h-1.3zM89.4 364.5h1.3v1.3h-1.3zM99.1 366.2h1.3v1.3h-1.3zM100.2 367.1h1.3v1.3h-1.3zM97.0 366.9h1.3v1.3h-1.3zM94.1 364.9h1.3v1.3h-1.3zM99.9 369.3h1.3v1.3h-1.3zM97.7 365.0h1.3v1.3h-1.3zM100.0 361.6h1.3v1.3h-1.3zM96.6 366.6h1.3v1.3h-1.3zM94.9 368.0h1.3v1.3h-1.3zM95.5 364.7h1.3v1.3h-1.3zM103.7 370.0h1.3v1.3h-1.3zM101.7 367.6h1.3v1.3h-1.3zM100.9 370.1h1.3v1.3h-1.3zM97.0 368.3h1.3v1.3h-1.3zM97.6 355.5h1.3v1.3h-1.3zM93.2 367.5h1.3v1.3h-1.3zM99.9 365.5h1.3v1.3h-1.3zM101.5 371.8h1.3v1.3h-1.3zM96.4 372.3h1.3v1.3h-1.3zM103.6 369.1h1.3v1.3h-1.3zM94.5 372.5h1.3v1.3h-1.3zM97.2 366.2h1.3v1.3h-1.3zM98.2 365.7h1.3v1.3h-1.3zM101.3 370.1h1.3v1.3h-1.3zM101.8 369.5h1.3v1.3h-1.3zM95.2 367.0h1.3v1.3h-1.3zM100.7 366.1h1.3v1.3h-1.3zM107.4 366.7h1.3v1.3h-1.3zM95.9 371.4h1.3v1.3h-1.3zM100.3 367.4h1.3v1.3h-1.3zM97.0 369.0h1.3v1.3h-1.3zM100.6 370.1h1.3v1.3h-1.3zM96.8 369.0h1.3v1.3h-1.3zM100.6 370.1h1.3v1.3h-1.3zM87.6 364.5h1.3v1.3h-1.3zM95.2 366.7h1.3v1.3h-1.3zM98.4 370.6h1.3v1.3h-1.3zM99.8 367.1h1.3v1.3h-1.3zM97.9 373.5h1.3v1.3h-1.3zM95.8 368.5h1.3v1.3h-1.3zM103.0 368.7h1.3v1.3h-1.3zM91.1 368.8h1.3v1.3h-1.3zM96.5 367.1h1.3v1.3h-1.3zM101.3 369.1h1.3v1.3h-1.3zM96.9 370.5h1.3v1.3h-1.3zM99.2 367.9h1.3v1.3h-1.3zM98.8 368.4h1.3v1.3h-1.3zM96.7 365.9h1.3v1.3h-1.3zM97.9 364.3h1.3v1.3h-1.3zM93.6 371.9h1.3v1.3h-1.3zM97.0 367.4h1.3v1.3h-1.3zM97.4 367.6h1.3v1.3h-1.3zM97.9 367.7h1.3v1.3h-1.3zM95.1 370.7h1.3v1.3h-1.3zM95.5 371.0h1.3v1.3h-1.3zM91.5 363.9h1.3v1.3h-1.3zM101.1 367.0h1.3v1.3h-1.3zM95.6 368.8h1.3v1.3h-1.3zM94.3 367.8h1.3v1.3h-1.3zM90.5 366.0h1.3v1.3h-1.3zM95.7 369.3h1.3v1.3h-1.3zM100.7 364.6h1.3v1.3h-1.3zM103.1 365.5h1.3v1.3h-1.3zM91.0 359.4h1.3v1.3h-1.3zM102.9 367.2h1.3v1.3h-1.3zM95.7 365.0h1.3v1.3h-1.3zM94.2 372.1h1.3v1.3h-1.3zM97.5 373.6h1.3v1.3h-1.3zM97.1 359.5h1.3v1.3h-1.3zM100.6 366.2h1.3v1.3h-1.3zM97.0 372.8h1.3v1.3h-1.3zM96.9 371.5h1.3v1.3h-1.3zM97.8 364.9h1.3v1.3h-1.3zM99.5 365.5h1.3v1.3h-1.3zM101.9 370.8h1.3v1.3h-1.3zM98.0 369.6h1.3v1.3h-1.3zM99.7 366.6h1.3v1.3h-1.3zM100.8 366.7h1.3v1.3h-1.3zM99.8 364.3h1.3v1.3h-1.3zM98.1 368.9h1.3v1.3h-1.3zM95.2 366.1h1.3v1.3h-1.3zM96.0 370.0h1.3v1.3h-1.3zM95.4 369.0h1.3v1.3h-1.3zM102.8 368.7h1.3v1.3h-1.3zM92.5 367.9h1.3v1.3h-1.3zM101.3 366.5h1.3v1.3h-1.3zM101.5 369.6h1.3v1.3h-1.3zM99.2 366.6h1.3v1.3h-1.3zM96.1 366.7h1.3v1.3h-1.3zM98.0 369.3h1.3v1.3h-1.3zM99.2 366.5h1.3v1.3h-1.3zM98.0 368.9h1.3v1.3h-1.3zM92.5 364.9h1.3v1.3h-1.3zM95.2 366.8h1.3v1.3h-1.3zM96.9 366.7h1.3v1.3h-1.3zM95.0 369.8h1.3v1.3h-1.3zM98.8 362.0h1.3v1.3h-1.3zM97.9 363.7h1.3v1.3h-1.3zM103.5 366.0h1.3v1.3h-1.3zM96.6 367.8h1.3v1.3h-1.3zM97.2 367.4h1.3v1.3h-1.3zM103.0 368.3h1.3v1.3h-1.3zM100.6 371.4h1.3v1.3h-1.3zM94.6 373.3h1.3v1.3h-1.3zM100.1 370.8h1.3v1.3h-1.3zM95.0 370.3h1.3v1.3h-1.3zM99.2 365.7h1.3v1.3h-1.3zM105.4 369.5h1.3v1.3h-1.3zM97.1 368.2h1.3v1.3h-1.3zM100.9 371.4h1.3v1.3h-1.3zM99.8 371.7h1.3v1.3h-1.3zM102.7 363.4h1.3v1.3h-1.3zM96.3 364.4h1.3v1.3h-1.3zM98.2 372.5h1.3v1.3h-1.3zM100.0 364.0h1.3v1.3h-1.3zM96.9 371.1h1.3v1.3h-1.3zM96.1 367.2h1.3v1.3h-1.3zM98.9 361.4h1.3v1.3h-1.3zM100.4 368.7h1.3v1.3h-1.3zM99.7 364.2h1.3v1.3h-1.3zM95.3 365.5h1.3v1.3h-1.3zM98.7 367.8h1.3v1.3h-1.3zM98.3 373.7h1.3v1.3h-1.3zM102.2 365.1h1.3v1.3h-1.3zM95.7 373.4h1.3v1.3h-1.3zM96.8 372.3h1.3v1.3h-1.3zM103.1 365.7h1.3v1.3h-1.3zM97.0 367.8h1.3v1.3h-1.3zM95.0 364.2h1.3v1.3h-1.3zM96.5 370.5h1.3v1.3h-1.3zM96.4 366.9h1.3v1.3h-1.3zM96.3 362.9h1.3v1.3h-1.3zM102.8 359.6h1.3v1.3h-1.3zM95.7 369.5h1.3v1.3h-1.3zM93.3 369.6h1.3v1.3h-1.3zM102.0 364.6h1.3v1.3h-1.3zM98.6 363.8h1.3v1.3h-1.3zM99.5 367.9h1.3v1.3h-1.3zM98.6 372.2h1.3v1.3h-1.3zM99.4 372.1h1.3v1.3h-1.3zM100.0 363.5h1.3v1.3h-1.3zM98.7 369.2h1.3v1.3h-1.3zM93.1 372.1h1.3v1.3h-1.3zM98.1 368.8h1.3v1.3h-1.3zM94.9 367.8h1.3v1.3h-1.3zM98.9 366.5h1.3v1.3h-1.3zM98.1 360.4h1.3v1.3h-1.3zM102.4 363.8h1.3v1.3h-1.3zM90.7 364.3h1.3v1.3h-1.3zM95.1 369.4h1.3v1.3h-1.3zM94.8 368.5h1.3v1.3h-1.3zM94.5 369.8h1.3v1.3h-1.3zM94.7 369.5h1.3v1.3h-1.3zM100.1 362.1h1.3v1.3h-1.3zM94.1 363.6h1.3v1.3h-1.3zM92.9 365.1h1.3v1.3h-1.3zM94.7 362.6h1.3v1.3h-1.3zM98.2 369.4h1.3v1.3h-1.3zM93.5 365.7h1.3v1.3h-1.3zM97.9 366.8h1.3v1.3h-1.3zM95.5 370.3h1.3v1.3h-1.3zM100.6 369.9h1.3v1.3h-1.3zM103.6 366.2h1.3v1.3h-1.3zM97.4 371.6h1.3v1.3h-1.3zM95.2 368.9h1.3v1.3h-1.3zM98.0 365.1h1.3v1.3h-1.3zM97.1 362.2h1.3v1.3h-1.3zM96.0 360.7h1.3v1.3h-1.3zM105.4 372.7h1.3v1.3h-1.3zM101.9 368.6h1.3v1.3h-1.3zM101.1 371.9h1.3v1.3h-1.3zM101.2 370.6h1.3v1.3h-1.3zM94.8 369.0h1.3v1.3h-1.3zM96.1 363.5h1.3v1.3h-1.3zM94.1 369.0h1.3v1.3h-1.3zM101.3 362.9h1.3v1.3h-1.3zM103.6 372.5h1.3v1.3h-1.3zM96.6 365.9h1.3v1.3h-1.3zM97.6 370.8h1.3v1.3h-1.3zM96.5 363.7h1.3v1.3h-1.3zM98.9 360.5h1.3v1.3h-1.3zM98.3 371.4h1.3v1.3h-1.3zM98.8 370.2h1.3v1.3h-1.3zM99.4 370.0h1.3v1.3h-1.3zM98.3 364.7h1.3v1.3h-1.3zM97.1 367.3h1.3v1.3h-1.3zM102.0 373.0h1.3v1.3h-1.3zM99.2 364.9h1.3v1.3h-1.3zM95.4 366.9h1.3v1.3h-1.3zM102.4 368.6h1.3v1.3h-1.3zM97.6 364.9h1.3v1.3h-1.3zM100.7 368.5h1.3v1.3h-1.3zM97.6 367.9h1.3v1.3h-1.3zM103.4 367.0h1.3v1.3h-1.3zM103.4 371.7h1.3v1.3h-1.3zM98.0 370.5h1.3v1.3h-1.3zM97.4 364.7h1.3v1.3h-1.3zM96.9 364.4h1.3v1.3h-1.3zM99.5 367.6h1.3v1.3h-1.3zM99.7 370.3h1.3v1.3h-1.3zM87.5 368.6h1.3v1.3h-1.3zM91.9 368.1h1.3v1.3h-1.3zM94.9 367.9h1.3v1.3h-1.3zM102.3 361.7h1.3v1.3h-1.3zM98.4 367.2h1.3v1.3h-1.3zM91.6 369.7h1.3v1.3h-1.3zM97.9 365.8h1.3v1.3h-1.3zM96.5 361.4h1.3v1.3h-1.3zM94.7 366.3h1.3v1.3h-1.3zM96.5 367.2h1.3v1.3h-1.3zM94.3 369.3h1.3v1.3h-1.3zM96.2 362.9h1.3v1.3h-1.3zM95.1 366.2h1.3v1.3h-1.3zM100.6 369.1h1.3v1.3h-1.3zM96.7 367.6h1.3v1.3h-1.3zM95.8 369.1h1.3v1.3h-1.3zM100.2 364.3h1.3v1.3h-1.3zM98.4 368.1h1.3v1.3h-1.3zM96.2 369.4h1.3v1.3h-1.3zM101.2 371.3h1.3v1.3h-1.3zM97.2 368.1h1.3v1.3h-1.3zM105.6 363.7h1.3v1.3h-1.3zM98.5 370.5h1.3v1.3h-1.3zM98.3 369.7h1.3v1.3h-1.3zM98.4 370.1h1.3v1.3h-1.3zM102.0 366.7h1.3v1.3h-1.3zM98.5 367.3h1.3v1.3h-1.3zM96.5 367.4h1.3v1.3h-1.3zM94.1 370.0h1.3v1.3h-1.3zM103.4 373.3h1.3v1.3h-1.3zM102.0 364.2h1.3v1.3h-1.3zM102.8 365.1h1.3v1.3h-1.3zM97.6 373.8h1.3v1.3h-1.3zM94.3 370.4h1.3v1.3h-1.3zM98.7 367.0h1.3v1.3h-1.3zM94.9 368.9h1.3v1.3h-1.3zM96.3 371.1h1.3v1.3h-1.3zM101.8 362.8h1.3v1.3h-1.3zM96.1 366.4h1.3v1.3h-1.3zM93.9 363.7h1.3v1.3h-1.3zM98.1 366.8h1.3v1.3h-1.3zM92.3 365.7h1.3v1.3h-1.3zM99.5 363.4h1.3v1.3h-1.3zM94.8 372.9h1.3v1.3h-1.3zM102.1 362.0h1.3v1.3h-1.3zM93.3 368.8h1.3v1.3h-1.3zM93.9 366.6h1.3v1.3h-1.3zM96.3 369.4h1.3v1.3h-1.3zM89.5 360.0h1.3v1.3h-1.3zM93.8 370.9h1.3v1.3h-1.3zM97.3 361.7h1.3v1.3h-1.3zM99.4 369.9h1.3v1.3h-1.3zM97.0 366.4h1.3v1.3h-1.3zM99.2 371.6h1.3v1.3h-1.3zM98.3 369.3h1.3v1.3h-1.3zM97.6 366.2h1.3v1.3h-1.3zM94.8 368.4h1.3v1.3h-1.3zM96.8 366.7h1.3v1.3h-1.3zM100.9 369.2h1.3v1.3h-1.3zM100.7 362.1h1.3v1.3h-1.3zM99.6 365.5h1.3v1.3h-1.3zM95.1 364.6h1.3v1.3h-1.3zM101.8 370.3h1.3v1.3h-1.3zM95.4 363.6h1.3v1.3h-1.3zM97.8 365.9h1.3v1.3h-1.3zM103.3 362.5h1.3v1.3h-1.3zM91.8 366.6h1.3v1.3h-1.3zM97.8 368.0h1.3v1.3h-1.3zM96.7 365.6h1.3v1.3h-1.3zM92.0 368.3h1.3v1.3h-1.3zM100.6 366.6h1.3v1.3h-1.3zM101.7 367.6h1.3v1.3h-1.3zM102.8 368.6h1.3v1.3h-1.3zM94.3 365.3h1.3v1.3h-1.3zM92.7 361.6h1.3v1.3h-1.3zM98.7 370.5h1.3v1.3h-1.3zM104.2 367.3h1.3v1.3h-1.3zM97.0 363.7h1.3v1.3h-1.3zM101.1 368.8h1.3v1.3h-1.3zM95.8 369.8h1.3v1.3h-1.3zM99.7 361.1h1.3v1.3h-1.3zM100.3 368.0h1.3v1.3h-1.3zM96.5 366.1h1.3v1.3h-1.3zM103.6 372.7h1.3v1.3h-1.3zM103.8 363.6h1.3v1.3h-1.3zM95.6 370.6h1.3v1.3h-1.3zM93.8 365.1h1.3v1.3h-1.3zM91.8 373.8h1.3v1.3h-1.3zM101.3 369.1h1.3v1.3h-1.3zM98.5 366.1h1.3v1.3h-1.3zM96.5 369.6h1.3v1.3h-1.3zM95.5 371.7h1.3v1.3h-1.3zM96.2 364.5h1.3v1.3h-1.3zM102.1 367.0h1.3v1.3h-1.3zM99.6 366.1h1.3v1.3h-1.3zM90.4 369.4h1.3v1.3h-1.3zM93.4 371.2h1.3v1.3h-1.3zM92.7 361.2h1.3v1.3h-1.3zM98.8 368.9h1.3v1.3h-1.3zM98.2 363.4h1.3v1.3h-1.3zM100.7 362.5h1.3v1.3h-1.3zM96.3 364.8h1.3v1.3h-1.3zM96.6 370.4h1.3v1.3h-1.3zM95.7 369.4h1.3v1.3h-1.3zM100.1 361.7h1.3v1.3h-1.3zM94.0 366.2h1.3v1.3h-1.3zM95.8 368.5h1.3v1.3h-1.3zM91.4 370.0h1.3v1.3h-1.3zM100.3 366.9h1.3v1.3h-1.3zM93.2 367.5h1.3v1.3h-1.3zM96.0 369.4h1.3v1.3h-1.3zM97.5 370.0h1.3v1.3h-1.3zM96.4 372.4h1.3v1.3h-1.3zM90.2 364.0h1.3v1.3h-1.3zM99.4 362.4h1.3v1.3h-1.3zM100.2 363.4h1.3v1.3h-1.3zM98.1 364.4h1.3v1.3h-1.3zM96.3 368.1h1.3v1.3h-1.3zM97.5 366.2h1.3v1.3h-1.3zM104.9 367.5h1.3v1.3h-1.3zM94.6 370.7h1.3v1.3h-1.3zM100.5 371.7h1.3v1.3h-1.3zM103.7 364.3h1.3v1.3h-1.3zM101.3 371.4h1.3v1.3h-1.3zM97.8 368.3h1.3v1.3h-1.3zM87.9 365.5h1.3v1.3h-1.3zM103.7 361.4h1.3v1.3h-1.3zM96.0 368.5h1.3v1.3h-1.3zM99.7 373.0h1.3v1.3h-1.3zM92.0 367.6h1.3v1.3h-1.3zM100.6 363.0h1.3v1.3h-1.3zM97.7 373.9h1.3v1.3h-1.3zM102.1 369.3h1.3v1.3h-1.3zM89.2 367.1h1.3v1.3h-1.3zM99.1 366.5h1.3v1.3h-1.3zM97.1 364.2h1.3v1.3h-1.3zM98.6 366.4h1.3v1.3h-1.3zM96.8 367.2h1.3v1.3h-1.3zM100.4 368.3h1.3v1.3h-1.3zM93.8 367.0h1.3v1.3h-1.3zM99.4 365.9h1.3v1.3h-1.3zM101.6 370.1h1.3v1.3h-1.3zM94.5 368.6h1.3v1.3h-1.3zM104.3 372.8h1.3v1.3h-1.3zM97.6 370.6h1.3v1.3h-1.3zM95.6 362.6h1.3v1.3h-1.3zM99.6 368.3h1.3v1.3h-1.3zM99.5 367.4h1.3v1.3h-1.3zM98.9 365.8h1.3v1.3h-1.3zM99.4 370.3h1.3v1.3h-1.3zM97.6 370.3h1.3v1.3h-1.3zM92.0 364.8h1.3v1.3h-1.3zM102.6 373.5h1.3v1.3h-1.3zM98.6 367.1h1.3v1.3h-1.3zM93.6 368.7h1.3v1.3h-1.3zM100.4 362.5h1.3v1.3h-1.3zM99.6 369.2h1.3v1.3h-1.3zM99.3 363.7h1.3v1.3h-1.3zM99.6 362.4h1.3v1.3h-1.3zM102.7 368.0h1.3v1.3h-1.3zM94.0 372.1h1.3v1.3h-1.3zM101.6 365.3h1.3v1.3h-1.3zM105.1 364.1h1.3v1.3h-1.3zM98.8 371.5h1.3v1.3h-1.3zM90.3 370.9h1.3v1.3h-1.3zM97.6 367.4h1.3v1.3h-1.3zM94.2 368.6h1.3v1.3h-1.3zM94.1 364.2h1.3v1.3h-1.3zM96.3 363.3h1.3v1.3h-1.3zM103.0 363.0h1.3v1.3h-1.3zM95.3 366.4h1.3v1.3h-1.3zM97.8 370.2h1.3v1.3h-1.3zM100.5 366.5h1.3v1.3h-1.3zM96.5 367.6h1.3v1.3h-1.3zM100.5 369.9h1.3v1.3h-1.3zM96.1 360.5h1.3v1.3h-1.3zM104.9 370.7h1.3v1.3h-1.3zM98.7 368.7h1.3v1.3h-1.3zM96.1 364.1h1.3v1.3h-1.3zM96.7 366.7h1.3v1.3h-1.3zM95.7 362.5h1.3v1.3h-1.3zM96.8 369.5h1.3v1.3h-1.3zM96.2 367.6h1.3v1.3h-1.3zM91.0 366.8h1.3v1.3h-1.3zM97.4 363.3h1.3v1.3h-1.3zM92.1 368.9h1.3v1.3h-1.3zM95.1 369.2h1.3v1.3h-1.3zM96.4 369.6h1.3v1.3h-1.3zM96.7 362.4h1.3v1.3h-1.3zM97.5 366.4h1.3v1.3h-1.3zM100.0 366.0h1.3v1.3h-1.3zM96.5 370.4h1.3v1.3h-1.3zM101.6 370.1h1.3v1.3h-1.3zM101.2 369.0h1.3v1.3h-1.3zM100.3 370.5h1.3v1.3h-1.3zM99.1 367.7h1.3v1.3h-1.3zM97.8 366.7h1.3v1.3h-1.3zM96.6 367.4h1.3v1.3h-1.3zM98.6 363.7h1.3v1.3h-1.3zM91.3 368.5h1.3v1.3h-1.3zM92.5 368.4h1.3v1.3h-1.3zM98.3 371.4h1.3v1.3h-1.3zM103.3 368.8h1.3v1.3h-1.3zM96.0 363.5h1.3v1.3h-1.3zM95.2 367.6h1.3v1.3h-1.3zM91.0 367.8h1.3v1.3h-1.3zM97.8 369.7h1.3v1.3h-1.3zM105.2 351.2h1.3v1.3h-1.3zM95.7 356.8h1.3v1.3h-1.3zM97.8 360.8h1.3v1.3h-1.3zM103.5 355.5h1.3v1.3h-1.3zM97.2 362.1h1.3v1.3h-1.3zM105.8 355.0h1.3v1.3h-1.3zM103.4 353.9h1.3v1.3h-1.3zM100.4 358.5h1.3v1.3h-1.3zM103.0 358.0h1.3v1.3h-1.3zM99.9 355.8h1.3v1.3h-1.3zM98.4 363.5h1.3v1.3h-1.3zM98.4 363.4h1.3v1.3h-1.3zM100.0 358.8h1.3v1.3h-1.3zM97.8 364.4h1.3v1.3h-1.3zM98.3 360.9h1.3v1.3h-1.3zM97.7 356.4h1.3v1.3h-1.3zM103.6 356.0h1.3v1.3h-1.3zM101.2 356.3h1.3v1.3h-1.3zM97.5 360.5h1.3v1.3h-1.3zM103.6 353.1h1.3v1.3h-1.3zM105.7 354.3h1.3v1.3h-1.3zM103.1 354.8h1.3v1.3h-1.3zM101.5 352.8h1.3v1.3h-1.3zM98.5 359.6h1.3v1.3h-1.3zM105.3 352.9h1.3v1.3h-1.3zM100.4 354.0h1.3v1.3h-1.3zM96.3 359.3h1.3v1.3h-1.3zM102.0 353.3h1.3v1.3h-1.3zM101.0 353.7h1.3v1.3h-1.3zM101.8 355.6h1.3v1.3h-1.3zM101.7 357.7h1.3v1.3h-1.3zM106.2 355.4h1.3v1.3h-1.3zM104.8 354.9h1.3v1.3h-1.3zM103.0 356.3h1.3v1.3h-1.3zM97.4 362.7h1.3v1.3h-1.3zM99.5 361.0h1.3v1.3h-1.3zM105.2 349.7h1.3v1.3h-1.3zM100.4 358.1h1.3v1.3h-1.3zM102.4 354.8h1.3v1.3h-1.3zM96.3 360.2h1.3v1.3h-1.3zM100.6 354.5h1.3v1.3h-1.3zM101.0 354.0h1.3v1.3h-1.3zM103.0 352.5h1.3v1.3h-1.3zM103.8 348.7h1.3v1.3h-1.3zM100.8 357.2h1.3v1.3h-1.3zM98.4 358.2h1.3v1.3h-1.3zM96.9 360.2h1.3v1.3h-1.3zM99.2 358.4h1.3v1.3h-1.3zM100.9 357.7h1.3v1.3h-1.3zM104.7 349.6h1.3v1.3h-1.3zM100.5 355.7h1.3v1.3h-1.3zM100.1 351.7h1.3v1.3h-1.3zM99.8 350.2h1.3v1.3h-1.3zM92.3 359.2h1.3v1.3h-1.3zM99.8 361.3h1.3v1.3h-1.3zM98.3 353.0h1.3v1.3h-1.3zM96.3 362.0h1.3v1.3h-1.3zM98.8 362.2h1.3v1.3h-1.3zM102.6 352.4h1.3v1.3h-1.3zM104.8 356.1h1.3v1.3h-1.3zM93.9 347.7h1.3v1.3h-1.3zM93.8 353.4h1.3v1.3h-1.3zM92.0 349.1h1.3v1.3h-1.3zM92.6 355.1h1.3v1.3h-1.3zM99.0 346.8h1.3v1.3h-1.3zM97.2 346.0h1.3v1.3h-1.3zM93.8 358.2h1.3v1.3h-1.3zM94.3 350.5h1.3v1.3h-1.3zM93.7 347.9h1.3v1.3h-1.3zM92.5 354.8h1.3v1.3h-1.3zM91.6 357.4h1.3v1.3h-1.3zM93.7 358.6h1.3v1.3h-1.3zM98.3 349.9h1.3v1.3h-1.3zM91.1 357.5h1.3v1.3h-1.3zM93.5 352.8h1.3v1.3h-1.3zM95.8 347.6h1.3v1.3h-1.3zM91.8 357.1h1.3v1.3h-1.3zM93.8 348.2h1.3v1.3h-1.3zM94.3 352.5h1.3v1.3h-1.3zM94.5 353.1h1.3v1.3h-1.3zM95.0 351.9h1.3v1.3h-1.3zM92.1 352.8h1.3v1.3h-1.3zM96.2 346.7h1.3v1.3h-1.3zM92.9 348.4h1.3v1.3h-1.3zM95.3 353.5h1.3v1.3h-1.3zM129.6 361.2h1.3v1.3h-1.3zM112.8 359.5h1.3v1.3h-1.3zM122.7 363.9h1.3v1.3h-1.3zM142.8 359.3h1.3v1.3h-1.3zM129.5 363.2h1.3v1.3h-1.3zM134.3 364.0h1.3v1.3h-1.3zM133.9 362.4h1.3v1.3h-1.3zM145.3 357.1h1.3v1.3h-1.3zM129.8 356.5h1.3v1.3h-1.3zM107.6 366.6h1.3v1.3h-1.3zM125.4 364.1h1.3v1.3h-1.3zM143.3 359.3h1.3v1.3h-1.3zM108.5 366.5h1.3v1.3h-1.3zM105.6 368.7h1.3v1.3h-1.3zM106.5 371.4h1.3v1.3h-1.3zM105.3 365.1h1.3v1.3h-1.3zM109.2 363.7h1.3v1.3h-1.3zM136.2 359.2h1.3v1.3h-1.3zM129.4 362.9h1.3v1.3h-1.3zM134.3 359.1h1.3v1.3h-1.3zM125.4 357.1h1.3v1.3h-1.3zM118.9 365.9h1.3v1.3h-1.3zM135.9 356.2h1.3v1.3h-1.3zM111.7 370.2h1.3v1.3h-1.3zM119.0 365.5h1.3v1.3h-1.3zM121.7 365.6h1.3v1.3h-1.3zM133.1 362.7h1.3v1.3h-1.3zM135.5 358.6h1.3v1.3h-1.3zM128.5 364.8h1.3v1.3h-1.3zM130.6 365.3h1.3v1.3h-1.3zM116.1 367.9h1.3v1.3h-1.3zM130.1 365.7h1.3v1.3h-1.3zM138.9 357.2h1.3v1.3h-1.3zM123.2 366.9h1.3v1.3h-1.3zM135.8 360.8h1.3v1.3h-1.3zM124.5 361.1h1.3v1.3h-1.3zM125.5 363.3h1.3v1.3h-1.3zM129.1 360.8h1.3v1.3h-1.3zM109.4 367.5h1.3v1.3h-1.3zM113.1 368.1h1.3v1.3h-1.3zM112.3 371.1h1.3v1.3h-1.3zM126.2 362.4h1.3v1.3h-1.3zM132.2 361.6h1.3v1.3h-1.3zM132.4 357.0h1.3v1.3h-1.3zM112.8 368.2h1.3v1.3h-1.3zM119.0 369.0h1.3v1.3h-1.3zM110.8 370.9h1.3v1.3h-1.3zM131.9 362.7h1.3v1.3h-1.3zM121.2 363.5h1.3v1.3h-1.3zM114.6 364.6h1.3v1.3h-1.3zM113.4 367.5h1.3v1.3h-1.3zM142.7 353.8h1.3v1.3h-1.3zM123.1 360.9h1.3v1.3h-1.3zM146.4 359.0h1.3v1.3h-1.3zM116.7 364.0h1.3v1.3h-1.3zM114.6 372.4h1.3v1.3h-1.3zM132.8 357.0h1.3v1.3h-1.3zM142.7 358.8h1.3v1.3h-1.3zM109.8 365.6h1.3v1.3h-1.3zM140.3 358.9h1.3v1.3h-1.3zM127.8 359.8h1.3v1.3h-1.3zM142.0 358.0h1.3v1.3h-1.3zM143.6 356.9h1.3v1.3h-1.3zM121.5 363.6h1.3v1.3h-1.3zM144.0 358.6h1.3v1.3h-1.3zM112.9 372.2h1.3v1.3h-1.3zM122.1 363.0h1.3v1.3h-1.3zM123.4 366.8h1.3v1.3h-1.3zM114.4 367.6h1.3v1.3h-1.3zM124.3 363.9h1.3v1.3h-1.3zM137.5 365.6h1.3v1.3h-1.3zM106.6 363.9h1.3v1.3h-1.3zM123.6 362.3h1.3v1.3h-1.3zM124.5 358.8h1.3v1.3h-1.3zM112.0 367.3h1.3v1.3h-1.3zM130.8 361.1h1.3v1.3h-1.3zM128.3 363.6h1.3v1.3h-1.3zM129.6 367.2h1.3v1.3h-1.3zM136.6 363.4h1.3v1.3h-1.3zM142.9 356.3h1.3v1.3h-1.3zM143.3 358.8h1.3v1.3h-1.3zM126.5 367.9h1.3v1.3h-1.3zM115.2 367.6h1.3v1.3h-1.3zM114.3 368.0h1.3v1.3h-1.3zM137.5 360.8h1.3v1.3h-1.3zM134.6 356.1h1.3v1.3h-1.3zM136.6 357.4h1.3v1.3h-1.3zM139.3 359.7h1.3v1.3h-1.3zM128.2 364.2h1.3v1.3h-1.3zM140.9 355.6h1.3v1.3h-1.3zM131.3 360.6h1.3v1.3h-1.3zM130.4 361.5h1.3v1.3h-1.3zM139.0 358.4h1.3v1.3h-1.3zM132.0 363.3h1.3v1.3h-1.3zM136.3 360.1h1.3v1.3h-1.3zM143.2 357.9h1.3v1.3h-1.3zM119.4 361.7h1.3v1.3h-1.3zM134.6 357.4h1.3v1.3h-1.3zM116.8 367.5h1.3v1.3h-1.3zM123.0 359.9h1.3v1.3h-1.3zM140.9 359.0h1.3v1.3h-1.3zM144.3 355.2h1.3v1.3h-1.3zM143.1 355.2h1.3v1.3h-1.3zM136.4 361.6h1.3v1.3h-1.3zM139.0 356.9h1.3v1.3h-1.3zM140.4 356.0h1.3v1.3h-1.3zM129.0 360.4h1.3v1.3h-1.3zM114.3 367.6h1.3v1.3h-1.3zM134.1 354.6h1.3v1.3h-1.3zM135.9 359.9h1.3v1.3h-1.3zM134.5 359.7h1.3v1.3h-1.3zM129.2 365.0h1.3v1.3h-1.3zM131.3 360.5h1.3v1.3h-1.3zM132.0 354.3h1.3v1.3h-1.3zM127.5 366.6h1.3v1.3h-1.3zM130.7 358.6h1.3v1.3h-1.3zM113.4 367.5h1.3v1.3h-1.3zM125.2 359.7h1.3v1.3h-1.3zM129.4 359.1h1.3v1.3h-1.3zM127.4 361.4h1.3v1.3h-1.3zM115.5 369.4h1.3v1.3h-1.3zM110.0 371.2h1.3v1.3h-1.3zM130.9 359.9h1.3v1.3h-1.3zM109.1 370.6h1.3v1.3h-1.3zM137.0 358.5h1.3v1.3h-1.3zM111.7 368.6h1.3v1.3h-1.3zM136.5 360.1h1.3v1.3h-1.3zM119.5 367.4h1.3v1.3h-1.3zM141.3 356.3h1.3v1.3h-1.3zM113.3 367.3h1.3v1.3h-1.3zM110.8 369.2h1.3v1.3h-1.3zM132.4 361.4h1.3v1.3h-1.3zM135.8 357.7h1.3v1.3h-1.3zM120.2 370.2h1.3v1.3h-1.3zM123.4 362.9h1.3v1.3h-1.3zM132.4 363.3h1.3v1.3h-1.3zM116.6 367.2h1.3v1.3h-1.3zM121.4 368.4h1.3v1.3h-1.3zM125.8 357.2h1.3v1.3h-1.3zM118.5 371.7h1.3v1.3h-1.3zM109.9 368.3h1.3v1.3h-1.3zM141.1 354.6h1.3v1.3h-1.3zM109.2 369.5h1.3v1.3h-1.3zM147.4 362.3h1.3v1.3h-1.3zM139.9 360.0h1.3v1.3h-1.3zM121.7 361.3h1.3v1.3h-1.3zM139.7 357.3h1.3v1.3h-1.3zM107.8 373.4h1.3v1.3h-1.3zM126.4 359.2h1.3v1.3h-1.3zM118.7 365.3h1.3v1.3h-1.3zM116.3 365.8h1.3v1.3h-1.3zM143.5 363.4h1.3v1.3h-1.3zM105.3 369.6h1.3v1.3h-1.3zM141.3 361.8h1.3v1.3h-1.3zM106.7 368.1h1.3v1.3h-1.3zM131.7 359.1h1.3v1.3h-1.3zM116.8 369.3h1.3v1.3h-1.3zM126.6 364.9h1.3v1.3h-1.3zM141.3 353.1h1.3v1.3h-1.3zM138.0 361.0h1.3v1.3h-1.3zM108.7 371.1h1.3v1.3h-1.3zM116.3 364.9h1.3v1.3h-1.3zM124.7 364.4h1.3v1.3h-1.3zM134.3 361.2h1.3v1.3h-1.3zM103.8 369.6h1.3v1.3h-1.3zM139.7 356.9h1.3v1.3h-1.3zM138.7 357.0h1.3v1.3h-1.3zM143.9 356.4h1.3v1.3h-1.3zM111.3 364.6h1.3v1.3h-1.3zM112.9 367.7h1.3v1.3h-1.3zM137.6 355.1h1.3v1.3h-1.3zM125.7 363.6h1.3v1.3h-1.3zM114.2 367.1h1.3v1.3h-1.3zM103.8 368.0h1.3v1.3h-1.3zM113.8 369.9h1.3v1.3h-1.3zM134.0 366.0h1.3v1.3h-1.3zM135.9 363.6h1.3v1.3h-1.3zM117.7 362.3h1.3v1.3h-1.3zM143.6 360.8h1.3v1.3h-1.3zM125.6 364.1h1.3v1.3h-1.3zM125.7 363.3h1.3v1.3h-1.3zM120.0 363.7h1.3v1.3h-1.3zM120.9 365.0h1.3v1.3h-1.3zM120.3 369.2h1.3v1.3h-1.3zM139.1 360.3h1.3v1.3h-1.3zM122.1 363.5h1.3v1.3h-1.3zM113.1 365.9h1.3v1.3h-1.3zM121.9 363.5h1.3v1.3h-1.3zM143.4 359.0h1.3v1.3h-1.3zM132.4 366.4h1.3v1.3h-1.3zM107.5 366.7h1.3v1.3h-1.3zM121.6 364.8h1.3v1.3h-1.3zM123.2 363.2h1.3v1.3h-1.3zM103.9 368.8h1.3v1.3h-1.3zM144.7 358.0h1.3v1.3h-1.3zM142.9 359.0h1.3v1.3h-1.3zM107.0 365.9h1.3v1.3h-1.3zM126.3 360.3h1.3v1.3h-1.3zM118.1 369.4h1.3v1.3h-1.3zM113.1 368.6h1.3v1.3h-1.3zM115.9 368.3h1.3v1.3h-1.3zM105.8 368.9h1.3v1.3h-1.3zM132.5 360.0h1.3v1.3h-1.3zM119.8 366.8h1.3v1.3h-1.3zM132.9 359.5h1.3v1.3h-1.3zM137.2 356.3h1.3v1.3h-1.3zM128.0 362.6h1.3v1.3h-1.3zM119.2 368.2h1.3v1.3h-1.3zM109.0 366.3h1.3v1.3h-1.3zM132.3 364.1h1.3v1.3h-1.3zM132.9 362.9h1.3v1.3h-1.3zM136.0 357.4h1.3v1.3h-1.3zM109.8 368.9h1.3v1.3h-1.3zM105.9 370.1h1.3v1.3h-1.3zM141.4 359.8h1.3v1.3h-1.3zM130.0 363.8h1.3v1.3h-1.3zM106.8 366.3h1.3v1.3h-1.3zM132.6 357.2h1.3v1.3h-1.3zM107.2 372.7h1.3v1.3h-1.3zM130.6 362.0h1.3v1.3h-1.3zM127.6 363.9h1.3v1.3h-1.3zM134.3 361.4h1.3v1.3h-1.3zM109.3 373.4h1.3v1.3h-1.3zM141.1 354.7h1.3v1.3h-1.3zM144.4 360.0h1.3v1.3h-1.3zM144.6 354.6h1.3v1.3h-1.3zM136.8 361.6h1.3v1.3h-1.3zM118.2 369.8h1.3v1.3h-1.3zM143.9 353.2h1.3v1.3h-1.3zM130.1 363.0h1.3v1.3h-1.3zM133.9 359.8h1.3v1.3h-1.3zM131.5 360.6h1.3v1.3h-1.3zM112.7 368.0h1.3v1.3h-1.3zM138.9 355.9h1.3v1.3h-1.3zM130.3 359.1h1.3v1.3h-1.3zM113.8 369.4h1.3v1.3h-1.3zM120.6 367.6h1.3v1.3h-1.3zM109.5 367.4h1.3v1.3h-1.3zM120.9 361.0h1.3v1.3h-1.3zM147.5 362.4h1.3v1.3h-1.3zM121.0 368.1h1.3v1.3h-1.3zM120.9 366.1h1.3v1.3h-1.3zM136.8 356.7h1.3v1.3h-1.3zM106.9 368.2h1.3v1.3h-1.3zM109.2 369.8h1.3v1.3h-1.3zM134.5 357.7h1.3v1.3h-1.3zM110.8 373.1h1.3v1.3h-1.3zM129.8 362.4h1.3v1.3h-1.3zM138.6 360.1h1.3v1.3h-1.3zM126.7 360.2h1.3v1.3h-1.3zM106.5 367.5h1.3v1.3h-1.3zM112.0 365.9h1.3v1.3h-1.3zM126.9 363.8h1.3v1.3h-1.3zM143.8 356.4h1.3v1.3h-1.3zM131.2 360.7h1.3v1.3h-1.3zM133.5 361.6h1.3v1.3h-1.3zM129.2 362.8h1.3v1.3h-1.3zM119.0 369.9h1.3v1.3h-1.3zM129.3 361.6h1.3v1.3h-1.3zM103.5 368.2h1.3v1.3h-1.3zM121.4 364.9h1.3v1.3h-1.3zM139.3 362.8h1.3v1.3h-1.3zM112.1 366.6h1.3v1.3h-1.3zM131.2 361.6h1.3v1.3h-1.3zM133.9 359.6h1.3v1.3h-1.3zM110.9 369.7h1.3v1.3h-1.3zM140.2 359.1h1.3v1.3h-1.3zM113.5 365.3h1.3v1.3h-1.3zM144.2 356.4h1.3v1.3h-1.3zM119.3 368.3h1.3v1.3h-1.3zM130.6 364.8h1.3v1.3h-1.3zM144.6 359.5h1.3v1.3h-1.3zM139.2 361.2h1.3v1.3h-1.3zM124.1 363.0h1.3v1.3h-1.3zM111.8 367.2h1.3v1.3h-1.3zM130.6 364.3h1.3v1.3h-1.3zM127.6 359.4h1.3v1.3h-1.3zM106.6 369.8h1.3v1.3h-1.3zM118.4 360.7h1.3v1.3h-1.3zM142.3 356.6h1.3v1.3h-1.3zM125.4 361.5h1.3v1.3h-1.3zM110.5 365.3h1.3v1.3h-1.3zM131.5 363.0h1.3v1.3h-1.3zM122.4 362.5h1.3v1.3h-1.3zM142.0 356.7h1.3v1.3h-1.3zM124.3 363.2h1.3v1.3h-1.3zM104.4 368.7h1.3v1.3h-1.3zM112.0 372.1h1.3v1.3h-1.3zM110.9 367.1h1.3v1.3h-1.3zM144.1 357.6h1.3v1.3h-1.3zM117.9 362.4h1.3v1.3h-1.3zM118.2 364.7h1.3v1.3h-1.3zM144.7 356.0h1.3v1.3h-1.3zM112.4 367.2h1.3v1.3h-1.3zM129.6 360.4h1.3v1.3h-1.3zM143.9 357.5h1.3v1.3h-1.3zM143.5 361.6h1.3v1.3h-1.3zM110.6 368.3h1.3v1.3h-1.3zM123.6 363.7h1.3v1.3h-1.3zM114.2 366.3h1.3v1.3h-1.3zM135.6 367.1h1.3v1.3h-1.3zM115.7 371.4h1.3v1.3h-1.3zM111.9 369.7h1.3v1.3h-1.3zM116.0 368.7h1.3v1.3h-1.3zM108.8 367.2h1.3v1.3h-1.3zM133.9 360.1h1.3v1.3h-1.3zM115.9 367.4h1.3v1.3h-1.3zM120.9 365.4h1.3v1.3h-1.3zM114.8 364.8h1.3v1.3h-1.3zM119.3 363.5h1.3v1.3h-1.3zM117.2 367.8h1.3v1.3h-1.3zM119.1 366.6h1.3v1.3h-1.3zM131.9 355.4h1.3v1.3h-1.3zM111.4 368.6h1.3v1.3h-1.3zM133.9 364.1h1.3v1.3h-1.3zM118.0 364.3h1.3v1.3h-1.3zM108.1 370.2h1.3v1.3h-1.3zM107.7 365.5h1.3v1.3h-1.3zM142.5 359.9h1.3v1.3h-1.3zM104.8 367.5h1.3v1.3h-1.3zM114.5 363.8h1.3v1.3h-1.3zM140.0 357.6h1.3v1.3h-1.3zM112.3 366.3h1.3v1.3h-1.3zM114.2 363.9h1.3v1.3h-1.3zM139.5 360.0h1.3v1.3h-1.3zM109.0 369.8h1.3v1.3h-1.3zM145.1 361.4h1.3v1.3h-1.3zM107.9 366.0h1.3v1.3h-1.3zM126.3 358.7h1.3v1.3h-1.3zM136.2 358.9h1.3v1.3h-1.3zM127.8 363.8h1.3v1.3h-1.3zM125.6 364.5h1.3v1.3h-1.3zM123.3 367.3h1.3v1.3h-1.3zM113.3 363.5h1.3v1.3h-1.3zM144.9 354.5h1.3v1.3h-1.3zM120.8 364.7h1.3v1.3h-1.3zM131.6 363.8h1.3v1.3h-1.3zM128.8 363.7h1.3v1.3h-1.3zM144.0 355.9h1.3v1.3h-1.3zM113.3 364.8h1.3v1.3h-1.3zM111.2 370.9h1.3v1.3h-1.3zM142.6 360.3h1.3v1.3h-1.3zM127.7 370.3h1.3v1.3h-1.3zM130.7 361.2h1.3v1.3h-1.3zM131.6 365.9h1.3v1.3h-1.3zM135.8 356.6h1.3v1.3h-1.3zM138.7 357.4h1.3v1.3h-1.3zM132.8 359.1h1.3v1.3h-1.3zM103.8 369.7h1.3v1.3h-1.3zM138.4 356.6h1.3v1.3h-1.3zM105.3 368.9h1.3v1.3h-1.3zM139.9 358.4h1.3v1.3h-1.3zM103.6 369.8h1.3v1.3h-1.3zM137.1 361.3h1.3v1.3h-1.3zM130.7 361.5h1.3v1.3h-1.3zM105.1 370.5h1.3v1.3h-1.3zM136.9 363.7h1.3v1.3h-1.3zM128.6 363.3h1.3v1.3h-1.3zM109.2 369.6h1.3v1.3h-1.3zM140.8 358.2h1.3v1.3h-1.3zM128.9 362.5h1.3v1.3h-1.3zM123.9 365.7h1.3v1.3h-1.3zM143.0 355.2h1.3v1.3h-1.3zM113.5 370.8h1.3v1.3h-1.3zM112.7 372.3h1.3v1.3h-1.3zM142.5 360.9h1.3v1.3h-1.3zM110.3 367.4h1.3v1.3h-1.3zM136.9 355.1h1.3v1.3h-1.3zM112.4 366.8h1.3v1.3h-1.3zM138.3 359.5h1.3v1.3h-1.3zM121.8 367.1h1.3v1.3h-1.3zM129.7 361.5h1.3v1.3h-1.3zM129.2 361.4h1.3v1.3h-1.3zM121.9 369.0h1.3v1.3h-1.3zM125.2 361.7h1.3v1.3h-1.3zM132.2 364.2h1.3v1.3h-1.3zM110.5 371.2h1.3v1.3h-1.3zM141.3 354.3h1.3v1.3h-1.3zM138.8 359.7h1.3v1.3h-1.3zM112.2 366.5h1.3v1.3h-1.3zM112.6 365.3h1.3v1.3h-1.3zM118.9 360.6h1.3v1.3h-1.3zM135.0 355.8h1.3v1.3h-1.3zM126.0 364.5h1.3v1.3h-1.3zM116.9 365.4h1.3v1.3h-1.3zM136.5 360.5h1.3v1.3h-1.3zM111.3 365.4h1.3v1.3h-1.3zM133.5 359.9h1.3v1.3h-1.3zM135.4 359.3h1.3v1.3h-1.3zM106.9 365.6h1.3v1.3h-1.3zM126.5 358.5h1.3v1.3h-1.3zM129.3 363.4h1.3v1.3h-1.3zM144.9 357.2h1.3v1.3h-1.3zM115.7 364.3h1.3v1.3h-1.3zM123.2 364.0h1.3v1.3h-1.3zM143.9 359.0h1.3v1.3h-1.3zM111.0 373.6h1.3v1.3h-1.3zM140.9 355.7h1.3v1.3h-1.3zM119.9 367.2h1.3v1.3h-1.3zM120.2 371.2h1.3v1.3h-1.3zM145.8 356.7h1.3v1.3h-1.3zM121.6 368.9h1.3v1.3h-1.3zM112.1 360.9h1.3v1.3h-1.3zM113.9 371.5h1.3v1.3h-1.3zM133.2 360.8h1.3v1.3h-1.3zM129.1 357.0h1.3v1.3h-1.3zM114.7 369.4h1.3v1.3h-1.3zM125.7 366.4h1.3v1.3h-1.3zM117.1 369.8h1.3v1.3h-1.3zM140.2 361.8h1.3v1.3h-1.3zM119.0 365.7h1.3v1.3h-1.3zM129.2 360.1h1.3v1.3h-1.3zM141.9 356.5h1.3v1.3h-1.3zM114.0 367.4h1.3v1.3h-1.3zM144.3 358.1h1.3v1.3h-1.3zM123.9 362.7h1.3v1.3h-1.3zM130.9 361.8h1.3v1.3h-1.3zM116.2 369.2h1.3v1.3h-1.3zM133.4 361.7h1.3v1.3h-1.3zM136.4 366.2h1.3v1.3h-1.3zM130.7 367.7h1.3v1.3h-1.3zM139.2 355.5h1.3v1.3h-1.3zM123.3 362.7h1.3v1.3h-1.3zM103.5 367.4h1.3v1.3h-1.3zM141.3 354.8h1.3v1.3h-1.3zM128.3 364.1h1.3v1.3h-1.3zM128.9 359.5h1.3v1.3h-1.3zM128.2 359.6h1.3v1.3h-1.3zM105.5 369.7h1.3v1.3h-1.3zM116.7 368.8h1.3v1.3h-1.3zM107.4 368.7h1.3v1.3h-1.3zM131.0 360.6h1.3v1.3h-1.3zM140.7 360.8h1.3v1.3h-1.3zM132.1 362.5h1.3v1.3h-1.3zM138.5 360.3h1.3v1.3h-1.3zM118.8 368.5h1.3v1.3h-1.3zM104.4 367.9h1.3v1.3h-1.3zM121.4 365.5h1.3v1.3h-1.3zM110.5 366.9h1.3v1.3h-1.3zM117.7 369.1h1.3v1.3h-1.3zM114.7 369.5h1.3v1.3h-1.3zM110.7 365.7h1.3v1.3h-1.3zM134.0 364.3h1.3v1.3h-1.3zM128.1 359.3h1.3v1.3h-1.3zM139.5 361.9h1.3v1.3h-1.3zM145.5 357.2h1.3v1.3h-1.3zM113.2 365.3h1.3v1.3h-1.3zM142.4 354.5h1.3v1.3h-1.3zM136.0 359.0h1.3v1.3h-1.3zM127.6 362.7h1.3v1.3h-1.3zM144.2 355.0h1.3v1.3h-1.3zM126.0 364.9h1.3v1.3h-1.3zM103.9 367.0h1.3v1.3h-1.3zM109.2 369.1h1.3v1.3h-1.3zM117.1 366.4h1.3v1.3h-1.3zM131.6 356.1h1.3v1.3h-1.3zM128.0 363.5h1.3v1.3h-1.3zM131.6 357.8h1.3v1.3h-1.3zM102.6 364.4h1.3v1.3h-1.3zM113.9 365.8h1.3v1.3h-1.3zM127.1 362.3h1.3v1.3h-1.3zM132.2 363.7h1.3v1.3h-1.3zM121.7 363.4h1.3v1.3h-1.3zM114.4 371.5h1.3v1.3h-1.3zM118.2 370.0h1.3v1.3h-1.3zM136.9 362.6h1.3v1.3h-1.3zM135.3 363.8h1.3v1.3h-1.3zM114.7 368.2h1.3v1.3h-1.3zM143.4 355.7h1.3v1.3h-1.3zM106.4 371.9h1.3v1.3h-1.3zM114.7 370.0h1.3v1.3h-1.3zM122.6 365.2h1.3v1.3h-1.3zM137.5 358.6h1.3v1.3h-1.3zM126.4 358.8h1.3v1.3h-1.3zM132.9 362.8h1.3v1.3h-1.3zM144.2 358.0h1.3v1.3h-1.3zM118.3 362.3h1.3v1.3h-1.3zM111.7 368.5h1.3v1.3h-1.3zM121.8 366.8h1.3v1.3h-1.3zM127.5 362.5h1.3v1.3h-1.3zM110.3 370.9h1.3v1.3h-1.3zM106.3 372.3h1.3v1.3h-1.3zM133.2 356.7h1.3v1.3h-1.3zM145.2 355.8h1.3v1.3h-1.3zM143.5 358.6h1.3v1.3h-1.3zM120.6 367.8h1.3v1.3h-1.3zM124.3 367.9h1.3v1.3h-1.3zM137.1 354.1h1.3v1.3h-1.3zM145.3 356.5h1.3v1.3h-1.3zM119.6 367.6h1.3v1.3h-1.3zM145.0 360.2h1.3v1.3h-1.3zM134.8 365.0h1.3v1.3h-1.3zM109.3 366.4h1.3v1.3h-1.3zM122.6 363.5h1.3v1.3h-1.3zM103.2 368.2h1.3v1.3h-1.3zM121.8 367.1h1.3v1.3h-1.3zM124.8 360.0h1.3v1.3h-1.3zM138.5 362.3h1.3v1.3h-1.3zM118.7 368.5h1.3v1.3h-1.3zM131.7 362.7h1.3v1.3h-1.3zM129.9 355.8h1.3v1.3h-1.3zM125.4 361.6h1.3v1.3h-1.3zM130.4 363.9h1.3v1.3h-1.3zM122.1 360.7h1.3v1.3h-1.3zM129.4 361.5h1.3v1.3h-1.3zM123.2 364.0h1.3v1.3h-1.3zM143.0 359.9h1.3v1.3h-1.3zM109.0 370.0h1.3v1.3h-1.3zM140.5 359.1h1.3v1.3h-1.3zM134.9 359.0h1.3v1.3h-1.3zM104.4 370.8h1.3v1.3h-1.3zM134.1 360.2h1.3v1.3h-1.3zM119.8 367.5h1.3v1.3h-1.3zM125.1 363.1h1.3v1.3h-1.3zM126.6 366.0h1.3v1.3h-1.3zM133.4 356.0h1.3v1.3h-1.3zM125.4 366.9h1.3v1.3h-1.3zM130.5 361.3h1.3v1.3h-1.3zM114.2 370.6h1.3v1.3h-1.3zM107.0 370.1h1.3v1.3h-1.3zM132.8 363.4h1.3v1.3h-1.3zM146.8 360.4h1.3v1.3h-1.3zM106.7 368.4h1.3v1.3h-1.3zM142.3 357.9h1.3v1.3h-1.3zM120.0 364.9h1.3v1.3h-1.3zM131.6 362.0h1.3v1.3h-1.3zM113.7 363.0h1.3v1.3h-1.3zM132.9 360.5h1.3v1.3h-1.3zM122.1 364.0h1.3v1.3h-1.3zM136.7 357.4h1.3v1.3h-1.3zM115.4 366.4h1.3v1.3h-1.3zM116.6 362.2h1.3v1.3h-1.3zM131.5 365.4h1.3v1.3h-1.3zM108.8 370.5h1.3v1.3h-1.3zM146.6 361.5h1.3v1.3h-1.3zM128.7 359.9h1.3v1.3h-1.3zM143.8 353.9h1.3v1.3h-1.3zM111.7 369.0h1.3v1.3h-1.3zM132.3 356.4h1.3v1.3h-1.3zM112.6 368.6h1.3v1.3h-1.3zM106.8 367.9h1.3v1.3h-1.3zM122.3 363.6h1.3v1.3h-1.3zM124.0 364.7h1.3v1.3h-1.3zM127.5 362.9h1.3v1.3h-1.3zM125.2 368.8h1.3v1.3h-1.3zM112.7 369.7h1.3v1.3h-1.3zM131.5 357.8h1.3v1.3h-1.3zM116.0 369.5h1.3v1.3h-1.3zM115.0 363.3h1.3v1.3h-1.3zM136.9 359.8h1.3v1.3h-1.3zM131.5 357.9h1.3v1.3h-1.3zM133.8 358.3h1.3v1.3h-1.3zM143.8 360.9h1.3v1.3h-1.3zM139.3 357.1h1.3v1.3h-1.3zM112.6 366.1h1.3v1.3h-1.3zM144.5 355.3h1.3v1.3h-1.3zM125.5 362.6h1.3v1.3h-1.3zM128.7 366.4h1.3v1.3h-1.3zM114.6 363.9h1.3v1.3h-1.3zM119.2 362.2h1.3v1.3h-1.3zM127.9 364.3h1.3v1.3h-1.3zM104.0 366.4h1.3v1.3h-1.3zM133.9 359.5h1.3v1.3h-1.3zM119.6 368.7h1.3v1.3h-1.3zM133.0 360.9h1.3v1.3h-1.3zM134.3 359.1h1.3v1.3h-1.3zM129.3 360.1h1.3v1.3h-1.3zM106.3 367.5h1.3v1.3h-1.3zM127.1 361.2h1.3v1.3h-1.3zM119.0 366.1h1.3v1.3h-1.3zM135.1 363.7h1.3v1.3h-1.3zM134.7 363.0h1.3v1.3h-1.3zM124.6 362.2h1.3v1.3h-1.3zM134.0 358.4h1.3v1.3h-1.3zM110.6 370.6h1.3v1.3h-1.3zM136.7 354.5h1.3v1.3h-1.3zM144.3 355.7h1.3v1.3h-1.3zM141.5 357.0h1.3v1.3h-1.3zM137.1 356.3h1.3v1.3h-1.3zM120.1 362.5h1.3v1.3h-1.3zM143.4 358.2h1.3v1.3h-1.3zM126.1 358.6h1.3v1.3h-1.3zM112.2 365.4h1.3v1.3h-1.3zM126.2 361.4h1.3v1.3h-1.3zM139.8 358.7h1.3v1.3h-1.3zM131.2 357.6h1.3v1.3h-1.3zM139.9 361.5h1.3v1.3h-1.3zM105.2 369.6h1.3v1.3h-1.3zM144.5 356.1h1.3v1.3h-1.3zM142.4 356.6h1.3v1.3h-1.3zM124.5 361.9h1.3v1.3h-1.3zM141.9 355.0h1.3v1.3h-1.3zM112.6 371.1h1.3v1.3h-1.3zM119.5 366.1h1.3v1.3h-1.3zM111.0 368.1h1.3v1.3h-1.3zM132.9 363.6h1.3v1.3h-1.3zM141.9 355.7h1.3v1.3h-1.3zM143.6 358.9h1.3v1.3h-1.3zM107.3 369.7h1.3v1.3h-1.3zM135.4 357.5h1.3v1.3h-1.3zM128.1 364.6h1.3v1.3h-1.3zM111.9 363.9h1.3v1.3h-1.3zM142.1 359.5h1.3v1.3h-1.3zM125.4 360.9h1.3v1.3h-1.3zM106.1 371.2h1.3v1.3h-1.3zM120.9 368.9h1.3v1.3h-1.3zM133.1 362.4h1.3v1.3h-1.3zM139.2 357.0h1.3v1.3h-1.3zM112.3 367.9h1.3v1.3h-1.3zM128.5 361.3h1.3v1.3h-1.3zM106.6 366.6h1.3v1.3h-1.3zM141.3 354.8h1.3v1.3h-1.3zM104.4 370.8h1.3v1.3h-1.3zM145.2 358.1h1.3v1.3h-1.3zM126.1 358.2h1.3v1.3h-1.3zM135.5 359.7h1.3v1.3h-1.3zM132.5 362.4h1.3v1.3h-1.3zM125.3 363.7h1.3v1.3h-1.3zM121.5 361.9h1.3v1.3h-1.3zM113.6 370.4h1.3v1.3h-1.3zM114.9 363.6h1.3v1.3h-1.3zM108.4 371.1h1.3v1.3h-1.3zM116.6 370.9h1.3v1.3h-1.3zM129.6 356.2h1.3v1.3h-1.3zM127.3 363.4h1.3v1.3h-1.3zM128.0 363.3h1.3v1.3h-1.3zM126.3 363.7h1.3v1.3h-1.3zM143.0 355.1h1.3v1.3h-1.3zM139.4 357.7h1.3v1.3h-1.3zM113.8 363.4h1.3v1.3h-1.3zM127.4 363.0h1.3v1.3h-1.3zM145.1 358.1h1.3v1.3h-1.3zM114.6 365.2h1.3v1.3h-1.3zM132.6 358.3h1.3v1.3h-1.3zM130.7 360.2h1.3v1.3h-1.3zM132.0 361.0h1.3v1.3h-1.3zM127.3 362.9h1.3v1.3h-1.3zM134.9 359.8h1.3v1.3h-1.3zM119.7 365.5h1.3v1.3h-1.3zM142.1 353.9h1.3v1.3h-1.3zM125.4 355.7h1.3v1.3h-1.3zM118.7 367.4h1.3v1.3h-1.3zM132.0 365.1h1.3v1.3h-1.3zM131.5 357.3h1.3v1.3h-1.3zM142.0 355.8h1.3v1.3h-1.3zM130.9 362.3h1.3v1.3h-1.3zM126.7 365.6h1.3v1.3h-1.3zM119.3 367.3h1.3v1.3h-1.3zM122.9 367.8h1.3v1.3h-1.3zM115.9 366.5h1.3v1.3h-1.3zM130.3 362.8h1.3v1.3h-1.3zM140.4 359.3h1.3v1.3h-1.3zM128.4 361.1h1.3v1.3h-1.3zM113.5 370.8h1.3v1.3h-1.3zM106.0 371.8h1.3v1.3h-1.3zM141.6 360.5h1.3v1.3h-1.3zM116.0 365.5h1.3v1.3h-1.3zM133.7 363.3h1.3v1.3h-1.3zM142.7 354.4h1.3v1.3h-1.3zM143.7 358.1h1.3v1.3h-1.3zM125.0 356.2h1.3v1.3h-1.3zM141.4 355.0h1.3v1.3h-1.3zM121.5 366.8h1.3v1.3h-1.3zM143.0 356.0h1.3v1.3h-1.3zM132.6 361.3h1.3v1.3h-1.3zM105.9 365.5h1.3v1.3h-1.3zM139.4 362.8h1.3v1.3h-1.3zM111.2 369.9h1.3v1.3h-1.3zM145.8 356.2h1.3v1.3h-1.3zM106.3 371.1h1.3v1.3h-1.3zM136.0 360.6h1.3v1.3h-1.3zM111.5 372.1h1.3v1.3h-1.3zM126.8 363.5h1.3v1.3h-1.3zM118.3 361.7h1.3v1.3h-1.3zM140.5 357.4h1.3v1.3h-1.3zM116.5 370.0h1.3v1.3h-1.3zM134.6 361.7h1.3v1.3h-1.3zM143.0 356.1h1.3v1.3h-1.3zM107.1 371.3h1.3v1.3h-1.3zM134.0 360.7h1.3v1.3h-1.3zM108.0 371.1h1.3v1.3h-1.3zM135.3 355.5h1.3v1.3h-1.3zM139.1 356.1h1.3v1.3h-1.3zM110.3 370.4h1.3v1.3h-1.3zM140.9 357.4h1.3v1.3h-1.3zM122.6 365.3h1.3v1.3h-1.3zM118.6 371.2h1.3v1.3h-1.3zM144.2 356.0h1.3v1.3h-1.3zM120.3 365.8h1.3v1.3h-1.3zM112.2 366.3h1.3v1.3h-1.3zM117.2 364.4h1.3v1.3h-1.3zM141.8 357.4h1.3v1.3h-1.3zM144.0 352.9h1.3v1.3h-1.3zM121.2 358.9h1.3v1.3h-1.3zM125.8 367.0h1.3v1.3h-1.3zM128.9 361.8h1.3v1.3h-1.3zM140.1 361.4h1.3v1.3h-1.3zM104.4 370.9h1.3v1.3h-1.3zM137.5 359.6h1.3v1.3h-1.3zM145.3 358.3h1.3v1.3h-1.3zM121.6 366.7h1.3v1.3h-1.3zM121.3 361.4h1.3v1.3h-1.3zM145.2 359.9h1.3v1.3h-1.3zM120.2 362.4h1.3v1.3h-1.3zM119.9 365.8h1.3v1.3h-1.3zM142.2 364.7h1.3v1.3h-1.3zM123.9 364.1h1.3v1.3h-1.3zM132.5 365.5h1.3v1.3h-1.3zM115.6 365.7h1.3v1.3h-1.3zM133.0 362.4h1.3v1.3h-1.3zM119.4 365.5h1.3v1.3h-1.3zM137.2 360.4h1.3v1.3h-1.3zM123.9 361.5h1.3v1.3h-1.3zM141.7 355.1h1.3v1.3h-1.3zM127.2 363.6h1.3v1.3h-1.3zM138.6 354.4h1.3v1.3h-1.3zM121.7 362.3h1.3v1.3h-1.3zM132.6 362.6h1.3v1.3h-1.3zM114.6 365.3h1.3v1.3h-1.3zM127.8 360.0h1.3v1.3h-1.3zM130.8 358.4h1.3v1.3h-1.3zM112.1 368.3h1.3v1.3h-1.3zM126.4 362.0h1.3v1.3h-1.3zM142.8 357.8h1.3v1.3h-1.3zM112.2 367.4h1.3v1.3h-1.3zM126.0 368.3h1.3v1.3h-1.3zM138.7 357.5h1.3v1.3h-1.3zM120.1 359.7h1.3v1.3h-1.3zM105.3 370.6h1.3v1.3h-1.3zM126.0 363.1h1.3v1.3h-1.3zM123.5 364.4h1.3v1.3h-1.3zM141.5 353.3h1.3v1.3h-1.3zM132.8 363.9h1.3v1.3h-1.3zM136.5 359.4h1.3v1.3h-1.3zM119.3 365.3h1.3v1.3h-1.3zM140.2 353.8h1.3v1.3h-1.3zM139.1 359.9h1.3v1.3h-1.3zM107.7 369.3h1.3v1.3h-1.3zM132.8 364.5h1.3v1.3h-1.3zM141.5 356.6h1.3v1.3h-1.3zM130.2 358.2h1.3v1.3h-1.3zM144.8 357.0h1.3v1.3h-1.3zM114.1 364.7h1.3v1.3h-1.3zM129.0 363.3h1.3v1.3h-1.3zM125.4 360.3h1.3v1.3h-1.3zM116.2 366.1h1.3v1.3h-1.3zM136.5 358.9h1.3v1.3h-1.3zM122.0 364.4h1.3v1.3h-1.3zM130.8 360.1h1.3v1.3h-1.3zM136.1 357.4h1.3v1.3h-1.3zM134.4 360.1h1.3v1.3h-1.3zM107.6 367.9h1.3v1.3h-1.3zM106.4 370.3h1.3v1.3h-1.3zM138.1 358.2h1.3v1.3h-1.3zM129.3 355.7h1.3v1.3h-1.3zM110.1 368.4h1.3v1.3h-1.3zM110.6 372.3h1.3v1.3h-1.3zM125.1 364.3h1.3v1.3h-1.3zM111.9 369.7h1.3v1.3h-1.3zM143.4 358.4h1.3v1.3h-1.3zM112.9 366.3h1.3v1.3h-1.3zM142.4 353.8h1.3v1.3h-1.3zM134.7 362.4h1.3v1.3h-1.3zM128.2 365.3h1.3v1.3h-1.3zM132.6 362.4h1.3v1.3h-1.3zM133.3 361.8h1.3v1.3h-1.3zM116.2 367.6h1.3v1.3h-1.3zM124.4 363.6h1.3v1.3h-1.3zM106.9 370.5h1.3v1.3h-1.3zM105.9 370.1h1.3v1.3h-1.3zM143.8 357.9h1.3v1.3h-1.3zM138.8 356.1h1.3v1.3h-1.3zM135.0 358.3h1.3v1.3h-1.3zM108.8 370.6h1.3v1.3h-1.3zM129.8 360.9h1.3v1.3h-1.3zM131.9 354.4h1.3v1.3h-1.3zM122.1 364.8h1.3v1.3h-1.3zM117.8 359.6h1.3v1.3h-1.3zM136.0 364.9h1.3v1.3h-1.3zM105.0 372.4h1.3v1.3h-1.3zM124.3 365.6h1.3v1.3h-1.3zM114.1 365.4h1.3v1.3h-1.3zM121.6 361.5h1.3v1.3h-1.3zM126.9 362.2h1.3v1.3h-1.3zM121.6 364.7h1.3v1.3h-1.3zM140.1 356.1h1.3v1.3h-1.3zM141.1 358.4h1.3v1.3h-1.3zM136.4 361.4h1.3v1.3h-1.3zM137.8 360.7h1.3v1.3h-1.3zM124.1 360.9h1.3v1.3h-1.3zM113.5 361.5h1.3v1.3h-1.3zM138.2 358.9h1.3v1.3h-1.3zM108.3 367.5h1.3v1.3h-1.3zM129.3 363.2h1.3v1.3h-1.3zM131.9 365.6h1.3v1.3h-1.3zM109.9 373.2h1.3v1.3h-1.3zM112.7 368.5h1.3v1.3h-1.3zM163.3 353.7h1.3v1.3h-1.3zM159.9 351.8h1.3v1.3h-1.3zM144.4 356.8h1.3v1.3h-1.3zM149.0 356.0h1.3v1.3h-1.3zM167.6 353.5h1.3v1.3h-1.3zM163.0 354.5h1.3v1.3h-1.3zM170.2 355.0h1.3v1.3h-1.3zM158.2 354.4h1.3v1.3h-1.3zM152.5 354.3h1.3v1.3h-1.3zM170.9 349.6h1.3v1.3h-1.3zM151.8 357.1h1.3v1.3h-1.3zM146.9 360.5h1.3v1.3h-1.3zM156.7 355.1h1.3v1.3h-1.3zM159.0 352.4h1.3v1.3h-1.3zM151.3 356.3h1.3v1.3h-1.3zM176.6 349.9h1.3v1.3h-1.3zM151.9 355.6h1.3v1.3h-1.3zM147.7 354.8h1.3v1.3h-1.3zM165.1 346.4h1.3v1.3h-1.3zM148.6 355.1h1.3v1.3h-1.3zM154.1 357.4h1.3v1.3h-1.3zM158.2 354.4h1.3v1.3h-1.3zM152.1 350.4h1.3v1.3h-1.3zM166.2 352.0h1.3v1.3h-1.3zM147.8 352.3h1.3v1.3h-1.3zM167.0 356.4h1.3v1.3h-1.3zM148.0 356.9h1.3v1.3h-1.3zM163.1 350.0h1.3v1.3h-1.3zM177.7 350.9h1.3v1.3h-1.3zM170.3 349.1h1.3v1.3h-1.3zM176.5 350.7h1.3v1.3h-1.3zM162.6 352.9h1.3v1.3h-1.3zM148.7 353.6h1.3v1.3h-1.3zM156.9 355.8h1.3v1.3h-1.3zM169.7 348.0h1.3v1.3h-1.3zM149.2 359.3h1.3v1.3h-1.3zM166.6 352.0h1.3v1.3h-1.3zM154.4 352.5h1.3v1.3h-1.3zM174.2 345.8h1.3v1.3h-1.3zM156.8 358.0h1.3v1.3h-1.3zM155.8 357.9h1.3v1.3h-1.3zM152.6 352.5h1.3v1.3h-1.3zM163.3 356.5h1.3v1.3h-1.3zM176.5 349.8h1.3v1.3h-1.3zM162.3 352.4h1.3v1.3h-1.3zM169.2 351.0h1.3v1.3h-1.3zM161.6 352.5h1.3v1.3h-1.3zM147.6 359.9h1.3v1.3h-1.3zM164.0 352.8h1.3v1.3h-1.3zM163.2 348.4h1.3v1.3h-1.3zM165.4 357.0h1.3v1.3h-1.3zM154.6 356.9h1.3v1.3h-1.3zM152.5 352.9h1.3v1.3h-1.3zM155.0 353.9h1.3v1.3h-1.3zM144.6 355.3h1.3v1.3h-1.3zM149.5 356.2h1.3v1.3h-1.3zM154.0 355.9h1.3v1.3h-1.3zM161.5 353.7h1.3v1.3h-1.3zM174.7 348.5h1.3v1.3h-1.3zM167.4 349.8h1.3v1.3h-1.3zM162.0 355.0h1.3v1.3h-1.3zM168.3 351.2h1.3v1.3h-1.3zM160.3 358.6h1.3v1.3h-1.3zM145.2 355.3h1.3v1.3h-1.3zM167.8 353.4h1.3v1.3h-1.3zM168.0 351.6h1.3v1.3h-1.3zM165.9 350.3h1.3v1.3h-1.3zM173.7 353.2h1.3v1.3h-1.3zM170.6 351.1h1.3v1.3h-1.3zM171.7 348.5h1.3v1.3h-1.3zM145.4 356.4h1.3v1.3h-1.3zM178.5 351.2h1.3v1.3h-1.3zM163.3 349.8h1.3v1.3h-1.3zM164.9 355.5h1.3v1.3h-1.3zM165.2 353.8h1.3v1.3h-1.3zM153.0 354.6h1.3v1.3h-1.3zM155.0 357.9h1.3v1.3h-1.3zM174.8 353.9h1.3v1.3h-1.3zM164.7 353.7h1.3v1.3h-1.3zM176.7 349.7h1.3v1.3h-1.3zM152.1 359.7h1.3v1.3h-1.3zM164.7 355.8h1.3v1.3h-1.3zM163.9 350.4h1.3v1.3h-1.3zM145.1 356.7h1.3v1.3h-1.3zM165.2 351.7h1.3v1.3h-1.3zM156.8 353.3h1.3v1.3h-1.3zM157.8 350.6h1.3v1.3h-1.3zM150.8 357.9h1.3v1.3h-1.3zM164.3 352.6h1.3v1.3h-1.3zM166.9 352.0h1.3v1.3h-1.3zM175.1 353.0h1.3v1.3h-1.3zM172.3 349.1h1.3v1.3h-1.3zM177.3 349.0h1.3v1.3h-1.3zM177.3 349.8h1.3v1.3h-1.3zM167.6 350.6h1.3v1.3h-1.3zM153.5 354.9h1.3v1.3h-1.3zM162.8 354.6h1.3v1.3h-1.3zM146.8 356.8h1.3v1.3h-1.3zM164.0 355.6h1.3v1.3h-1.3zM154.0 353.3h1.3v1.3h-1.3zM162.3 353.4h1.3v1.3h-1.3zM168.7 348.0h1.3v1.3h-1.3zM146.0 356.7h1.3v1.3h-1.3zM173.4 348.5h1.3v1.3h-1.3zM146.0 360.2h1.3v1.3h-1.3zM161.1 355.0h1.3v1.3h-1.3zM151.7 356.8h1.3v1.3h-1.3zM146.3 361.2h1.3v1.3h-1.3zM161.1 356.6h1.3v1.3h-1.3zM153.3 356.8h1.3v1.3h-1.3zM146.3 355.3h1.3v1.3h-1.3zM171.2 347.3h1.3v1.3h-1.3zM152.3 355.3h1.3v1.3h-1.3zM175.7 348.7h1.3v1.3h-1.3zM164.3 350.9h1.3v1.3h-1.3zM155.9 353.8h1.3v1.3h-1.3zM145.2 353.4h1.3v1.3h-1.3zM173.9 353.5h1.3v1.3h-1.3zM147.1 354.1h1.3v1.3h-1.3zM170.0 349.4h1.3v1.3h-1.3zM162.3 354.3h1.3v1.3h-1.3zM158.6 350.1h1.3v1.3h-1.3zM147.2 358.8h1.3v1.3h-1.3zM158.8 356.0h1.3v1.3h-1.3zM144.4 356.7h1.3v1.3h-1.3zM169.4 348.6h1.3v1.3h-1.3zM167.8 350.4h1.3v1.3h-1.3zM147.6 352.3h1.3v1.3h-1.3zM162.1 356.2h1.3v1.3h-1.3zM150.1 356.1h1.3v1.3h-1.3zM167.8 349.8h1.3v1.3h-1.3zM149.9 353.9h1.3v1.3h-1.3zM150.2 357.3h1.3v1.3h-1.3zM154.5 358.4h1.3v1.3h-1.3zM176.3 346.4h1.3v1.3h-1.3zM171.5 349.3h1.3v1.3h-1.3zM156.7 350.2h1.3v1.3h-1.3zM171.4 352.2h1.3v1.3h-1.3zM156.4 354.8h1.3v1.3h-1.3zM151.6 360.9h1.3v1.3h-1.3zM174.4 349.6h1.3v1.3h-1.3zM145.0 356.2h1.3v1.3h-1.3zM170.6 349.2h1.3v1.3h-1.3zM177.1 351.2h1.3v1.3h-1.3zM146.0 353.2h1.3v1.3h-1.3zM173.6 351.8h1.3v1.3h-1.3zM170.7 351.4h1.3v1.3h-1.3zM145.2 356.0h1.3v1.3h-1.3zM158.6 351.7h1.3v1.3h-1.3zM153.4 357.6h1.3v1.3h-1.3zM158.1 358.3h1.3v1.3h-1.3zM156.7 353.3h1.3v1.3h-1.3zM157.7 355.3h1.3v1.3h-1.3zM145.3 361.3h1.3v1.3h-1.3zM152.9 353.8h1.3v1.3h-1.3zM153.7 354.5h1.3v1.3h-1.3zM165.4 349.3h1.3v1.3h-1.3zM167.6 351.3h1.3v1.3h-1.3zM169.5 350.9h1.3v1.3h-1.3zM165.4 351.2h1.3v1.3h-1.3zM174.0 348.3h1.3v1.3h-1.3zM162.0 349.3h1.3v1.3h-1.3zM153.9 351.9h1.3v1.3h-1.3zM144.8 355.0h1.3v1.3h-1.3zM169.1 352.7h1.3v1.3h-1.3zM162.8 351.6h1.3v1.3h-1.3zM149.1 354.2h1.3v1.3h-1.3zM161.8 354.6h1.3v1.3h-1.3zM176.4 350.7h1.3v1.3h-1.3zM164.2 350.7h1.3v1.3h-1.3z" fill="#111"/>
<path d="M134.3 302.2h1.3v1.3h-1.3zM131.9 308.1h1.3v1.3h-1.3zM129.4 310.6h1.3v1.3h-1.3zM133.8 292.8h1.3v1.3h-1.3zM130.1 297.3h1.3v1.3h-1.3zM135.4 293.2h1.3v1.3h-1.3zM122.2 295.8h1.3v1.3h-1.3zM138.0 299.0h1.3v1.3h-1.3zM128.9 305.4h1.3v1.3h-1.3zM117.4 307.1h1.3v1.3h-1.3zM132.2 308.4h1.3v1.3h-1.3zM133.8 306.9h1.3v1.3h-1.3zM128.2 306.7h1.3v1.3h-1.3zM130.3 326.1h1.3v1.3h-1.3zM130.4 311.7h1.3v1.3h-1.3zM124.5 303.6h1.3v1.3h-1.3zM137.0 300.5h1.3v1.3h-1.3zM122.7 309.2h1.3v1.3h-1.3zM125.6 326.6h1.3v1.3h-1.3zM114.0 313.1h1.3v1.3h-1.3zM132.5 300.5h1.3v1.3h-1.3zM124.3 313.7h1.3v1.3h-1.3zM138.0 302.2h1.3v1.3h-1.3zM118.7 318.3h1.3v1.3h-1.3zM137.3 307.2h1.3v1.3h-1.3zM114.9 322.3h1.3v1.3h-1.3zM127.0 319.6h1.3v1.3h-1.3zM127.9 306.8h1.3v1.3h-1.3zM125.5 322.5h1.3v1.3h-1.3zM136.8 291.8h1.3v1.3h-1.3zM122.6 325.1h1.3v1.3h-1.3zM126.0 298.4h1.3v1.3h-1.3zM128.2 309.1h1.3v1.3h-1.3zM127.6 305.9h1.3v1.3h-1.3zM126.3 306.1h1.3v1.3h-1.3zM130.2 303.1h1.3v1.3h-1.3zM126.5 308.8h1.3v1.3h-1.3zM136.0 313.2h1.3v1.3h-1.3zM127.5 314.6h1.3v1.3h-1.3zM130.6 319.2h1.3v1.3h-1.3zM131.2 325.2h1.3v1.3h-1.3zM136.3 309.7h1.3v1.3h-1.3zM125.7 317.5h1.3v1.3h-1.3zM131.3 309.2h1.3v1.3h-1.3zM119.3 294.4h1.3v1.3h-1.3zM130.3 316.6h1.3v1.3h-1.3zM133.0 299.1h1.3v1.3h-1.3zM134.4 305.5h1.3v1.3h-1.3zM130.5 313.5h1.3v1.3h-1.3zM123.4 305.0h1.3v1.3h-1.3zM115.8 302.2h1.3v1.3h-1.3zM117.4 313.7h1.3v1.3h-1.3zM128.6 317.8h1.3v1.3h-1.3zM130.3 304.6h1.3v1.3h-1.3zM130.3 306.7h1.3v1.3h-1.3zM131.9 312.7h1.3v1.3h-1.3zM122.3 310.0h1.3v1.3h-1.3zM128.5 307.4h1.3v1.3h-1.3zM133.6 324.6h1.3v1.3h-1.3zM126.0 307.0h1.3v1.3h-1.3zM114.7 308.9h1.3v1.3h-1.3zM125.6 291.6h1.3v1.3h-1.3zM129.9 315.0h1.3v1.3h-1.3zM123.8 306.8h1.3v1.3h-1.3zM122.4 316.5h1.3v1.3h-1.3zM119.1 307.3h1.3v1.3h-1.3zM139.9 310.4h1.3v1.3h-1.3zM131.0 308.8h1.3v1.3h-1.3zM121.2 309.7h1.3v1.3h-1.3zM130.6 301.3h1.3v1.3h-1.3zM130.2 320.6h1.3v1.3h-1.3zM134.6 296.5h1.3v1.3h-1.3zM122.3 296.3h1.3v1.3h-1.3zM134.6 315.2h1.3v1.3h-1.3zM132.4 302.5h1.3v1.3h-1.3zM121.2 310.7h1.3v1.3h-1.3zM128.8 302.7h1.3v1.3h-1.3zM129.1 315.5h1.3v1.3h-1.3zM129.6 301.2h1.3v1.3h-1.3zM115.5 307.8h1.3v1.3h-1.3zM129.2 307.8h1.3v1.3h-1.3zM125.6 304.1h1.3v1.3h-1.3zM132.5 309.6h1.3v1.3h-1.3zM128.9 301.7h1.3v1.3h-1.3zM124.5 311.4h1.3v1.3h-1.3zM122.2 299.3h1.3v1.3h-1.3zM126.2 320.2h1.3v1.3h-1.3zM129.3 322.4h1.3v1.3h-1.3zM127.4 307.4h1.3v1.3h-1.3zM119.8 305.1h1.3v1.3h-1.3zM136.8 312.8h1.3v1.3h-1.3zM132.6 316.0h1.3v1.3h-1.3zM128.1 308.3h1.3v1.3h-1.3zM128.9 315.7h1.3v1.3h-1.3zM130.9 314.2h1.3v1.3h-1.3zM129.1 303.5h1.3v1.3h-1.3zM126.6 302.0h1.3v1.3h-1.3zM134.2 292.1h1.3v1.3h-1.3zM126.9 330.3h1.3v1.3h-1.3zM126.2 300.4h1.3v1.3h-1.3zM128.1 321.0h1.3v1.3h-1.3zM127.2 315.2h1.3v1.3h-1.3zM128.8 306.8h1.3v1.3h-1.3zM147.1 310.6h1.3v1.3h-1.3zM125.0 305.8h1.3v1.3h-1.3zM130.5 313.5h1.3v1.3h-1.3zM132.8 311.2h1.3v1.3h-1.3zM119.6 314.5h1.3v1.3h-1.3zM126.3 307.6h1.3v1.3h-1.3zM119.3 305.1h1.3v1.3h-1.3zM123.8 309.7h1.3v1.3h-1.3zM119.5 310.4h1.3v1.3h-1.3zM128.9 300.5h1.3v1.3h-1.3zM124.5 302.7h1.3v1.3h-1.3zM133.6 288.5h1.3v1.3h-1.3zM126.1 295.9h1.3v1.3h-1.3zM125.6 317.2h1.3v1.3h-1.3zM124.4 311.2h1.3v1.3h-1.3zM123.1 326.5h1.3v1.3h-1.3zM133.7 319.6h1.3v1.3h-1.3zM120.2 300.6h1.3v1.3h-1.3zM134.7 308.3h1.3v1.3h-1.3zM126.7 312.8h1.3v1.3h-1.3zM120.7 316.6h1.3v1.3h-1.3zM128.3 314.1h1.3v1.3h-1.3zM124.0 331.5h1.3v1.3h-1.3zM123.9 332.9h1.3v1.3h-1.3zM129.4 332.7h1.3v1.3h-1.3zM127.5 331.9h1.3v1.3h-1.3zM117.9 332.5h1.3v1.3h-1.3zM125.2 330.3h1.3v1.3h-1.3zM125.1 325.8h1.3v1.3h-1.3zM124.4 332.0h1.3v1.3h-1.3zM130.3 328.1h1.3v1.3h-1.3zM123.3 334.4h1.3v1.3h-1.3zM123.4 336.2h1.3v1.3h-1.3zM126.2 327.3h1.3v1.3h-1.3zM129.0 335.1h1.3v1.3h-1.3zM121.7 334.7h1.3v1.3h-1.3zM125.2 334.5h1.3v1.3h-1.3zM124.9 325.3h1.3v1.3h-1.3zM127.5 332.8h1.3v1.3h-1.3zM132.3 335.2h1.3v1.3h-1.3zM128.1 329.3h1.3v1.3h-1.3zM124.4 329.1h1.3v1.3h-1.3zM123.5 329.2h1.3v1.3h-1.3zM118.4 330.5h1.3v1.3h-1.3zM125.9 337.7h1.3v1.3h-1.3zM128.3 328.6h1.3v1.3h-1.3zM127.7 326.3h1.3v1.3h-1.3zM121.5 364.8h1.3v1.3h-1.3zM124.3 361.6h1.3v1.3h-1.3zM124.0 363.3h1.3v1.3h-1.3zM126.5 361.5h1.3v1.3h-1.3zM125.8 364.3h1.3v1.3h-1.3zM120.4 365.7h1.3v1.3h-1.3zM125.9 360.5h1.3v1.3h-1.3zM129.0 360.9h1.3v1.3h-1.3zM120.7 362.7h1.3v1.3h-1.3zM125.5 364.7h1.3v1.3h-1.3zM123.0 366.4h1.3v1.3h-1.3zM124.5 366.5h1.3v1.3h-1.3zM131.4 363.8h1.3v1.3h-1.3zM115.9 362.4h1.3v1.3h-1.3zM120.2 363.6h1.3v1.3h-1.3zM123.6 360.7h1.3v1.3h-1.3zM120.0 362.8h1.3v1.3h-1.3zM122.7 357.6h1.3v1.3h-1.3zM126.1 363.5h1.3v1.3h-1.3zM123.3 364.1h1.3v1.3h-1.3zM120.3 363.3h1.3v1.3h-1.3zM126.3 365.8h1.3v1.3h-1.3zM124.6 362.8h1.3v1.3h-1.3zM120.9 366.3h1.3v1.3h-1.3zM124.8 362.5h1.3v1.3h-1.3zM117.0 361.5h1.3v1.3h-1.3zM117.7 366.2h1.3v1.3h-1.3zM123.8 361.7h1.3v1.3h-1.3zM122.5 369.2h1.3v1.3h-1.3zM126.8 360.4h1.3v1.3h-1.3zM122.9 360.6h1.3v1.3h-1.3zM118.3 363.8h1.3v1.3h-1.3zM130.4 366.9h1.3v1.3h-1.3zM123.4 362.6h1.3v1.3h-1.3zM123.9 365.7h1.3v1.3h-1.3zM119.0 359.2h1.3v1.3h-1.3zM128.8 364.0h1.3v1.3h-1.3zM128.0 363.9h1.3v1.3h-1.3zM127.7 362.0h1.3v1.3h-1.3zM124.8 366.9h1.3v1.3h-1.3zM126.3 362.4h1.3v1.3h-1.3zM125.9 361.9h1.3v1.3h-1.3zM119.1 364.6h1.3v1.3h-1.3zM127.4 365.3h1.3v1.3h-1.3zM119.6 365.4h1.3v1.3h-1.3zM125.3 362.4h1.3v1.3h-1.3zM115.9 365.7h1.3v1.3h-1.3zM125.9 364.5h1.3v1.3h-1.3zM118.2 360.0h1.3v1.3h-1.3zM126.3 365.2h1.3v1.3h-1.3zM124.8 362.8h1.3v1.3h-1.3zM124.5 362.2h1.3v1.3h-1.3zM122.4 361.4h1.3v1.3h-1.3zM124.1 362.4h1.3v1.3h-1.3zM126.1 365.0h1.3v1.3h-1.3zM120.9 367.6h1.3v1.3h-1.3zM120.0 364.4h1.3v1.3h-1.3zM126.5 366.3h1.3v1.3h-1.3zM116.7 365.7h1.3v1.3h-1.3zM126.9 366.7h1.3v1.3h-1.3zM116.6 361.8h1.3v1.3h-1.3zM123.0 362.4h1.3v1.3h-1.3zM127.3 361.8h1.3v1.3h-1.3zM127.0 364.7h1.3v1.3h-1.3zM118.9 361.1h1.3v1.3h-1.3zM121.9 363.6h1.3v1.3h-1.3zM126.3 363.0h1.3v1.3h-1.3zM126.0 359.8h1.3v1.3h-1.3zM114.2 362.6h1.3v1.3h-1.3zM124.7 362.6h1.3v1.3h-1.3zM120.3 364.4h1.3v1.3h-1.3zM129.1 363.2h1.3v1.3h-1.3zM121.1 361.5h1.3v1.3h-1.3zM129.2 363.3h1.3v1.3h-1.3zM125.1 366.2h1.3v1.3h-1.3zM126.5 361.3h1.3v1.3h-1.3zM126.2 365.3h1.3v1.3h-1.3zM124.8 365.7h1.3v1.3h-1.3zM121.6 363.2h1.3v1.3h-1.3zM121.7 365.1h1.3v1.3h-1.3zM121.3 364.3h1.3v1.3h-1.3zM120.0 363.1h1.3v1.3h-1.3zM122.2 363.1h1.3v1.3h-1.3zM123.7 363.0h1.3v1.3h-1.3zM122.6 358.6h1.3v1.3h-1.3zM126.6 362.0h1.3v1.3h-1.3zM122.6 361.5h1.3v1.3h-1.3zM126.3 361.3h1.3v1.3h-1.3zM124.8 366.1h1.3v1.3h-1.3zM128.2 366.1h1.3v1.3h-1.3zM125.2 360.6h1.3v1.3h-1.3zM127.2 366.1h1.3v1.3h-1.3zM125.8 365.3h1.3v1.3h-1.3zM123.5 362.2h1.3v1.3h-1.3zM126.6 366.3h1.3v1.3h-1.3zM120.2 365.5h1.3v1.3h-1.3zM124.1 365.5h1.3v1.3h-1.3zM124.1 366.0h1.3v1.3h-1.3zM126.4 365.5h1.3v1.3h-1.3zM119.2 365.3h1.3v1.3h-1.3zM123.5 360.8h1.3v1.3h-1.3zM125.5 360.3h1.3v1.3h-1.3zM126.0 367.3h1.3v1.3h-1.3zM121.8 365.5h1.3v1.3h-1.3zM124.7 364.9h1.3v1.3h-1.3zM119.3 364.8h1.3v1.3h-1.3zM123.8 365.1h1.3v1.3h-1.3zM123.4 366.0h1.3v1.3h-1.3zM124.2 365.0h1.3v1.3h-1.3zM127.4 363.9h1.3v1.3h-1.3zM126.3 364.0h1.3v1.3h-1.3zM124.9 362.3h1.3v1.3h-1.3zM125.7 366.3h1.3v1.3h-1.3zM123.1 365.3h1.3v1.3h-1.3zM124.7 361.0h1.3v1.3h-1.3zM124.4 366.5h1.3v1.3h-1.3zM122.0 359.4h1.3v1.3h-1.3zM124.0 362.0h1.3v1.3h-1.3zM129.0 363.4h1.3v1.3h-1.3zM123.4 362.1h1.3v1.3h-1.3zM124.1 362.2h1.3v1.3h-1.3zM120.7 363.3h1.3v1.3h-1.3zM121.0 366.5h1.3v1.3h-1.3zM120.0 363.3h1.3v1.3h-1.3zM121.4 360.4h1.3v1.3h-1.3zM128.3 358.7h1.3v1.3h-1.3zM127.7 360.3h1.3v1.3h-1.3zM123.7 368.6h1.3v1.3h-1.3zM117.1 360.4h1.3v1.3h-1.3zM127.3 363.9h1.3v1.3h-1.3zM121.8 363.4h1.3v1.3h-1.3zM120.6 363.8h1.3v1.3h-1.3zM127.8 362.6h1.3v1.3h-1.3zM123.8 366.2h1.3v1.3h-1.3zM129.3 362.2h1.3v1.3h-1.3zM124.3 362.2h1.3v1.3h-1.3zM121.5 362.6h1.3v1.3h-1.3zM121.5 359.6h1.3v1.3h-1.3zM117.6 361.8h1.3v1.3h-1.3zM123.8 366.2h1.3v1.3h-1.3zM121.8 363.1h1.3v1.3h-1.3zM125.3 365.1h1.3v1.3h-1.3zM123.1 363.4h1.3v1.3h-1.3zM128.9 362.7h1.3v1.3h-1.3zM122.0 359.8h1.3v1.3h-1.3zM124.7 362.9h1.3v1.3h-1.3zM129.0 362.7h1.3v1.3h-1.3zM125.8 365.6h1.3v1.3h-1.3zM128.2 360.5h1.3v1.3h-1.3zM128.0 363.5h1.3v1.3h-1.3z" fill="#d42434"/>
<line x1="80.7" y1="378.3" x2="83.2" y2="378.3" stroke="#aaa" stroke-width="0.6"/>
<text x="77.8" y="380.1" text-anchor="end" font-size="5.1" fill="#8a8a8a">0</text>
<line x1="83.2" y1="378.3" x2="83.2" y2="380.5" stroke="#bbb" stroke-width="0.6"/>
<text x="83.2" y="387.3" text-anchor="middle" font-size="5.1" fill="#8a8a8a">0</text>
<line x1="80.7" y1="358.1" x2="83.2" y2="358.1" stroke="#aaa" stroke-width="0.6"/>
<text x="77.8" y="359.9" text-anchor="end" font-size="5.1" fill="#8a8a8a">200</text>
<line x1="103.4" y1="378.3" x2="103.4" y2="380.5" stroke="#bbb" stroke-width="0.6"/>
<text x="103.4" y="387.3" text-anchor="middle" font-size="5.1" fill="#8a8a8a">200</text>
<line x1="80.7" y1="337.9" x2="83.2" y2="337.9" stroke="#aaa" stroke-width="0.6"/>
<text x="77.8" y="339.7" text-anchor="end" font-size="5.1" fill="#8a8a8a">400</text>
<line x1="123.6" y1="378.3" x2="123.6" y2="380.5" stroke="#bbb" stroke-width="0.6"/>
<text x="123.6" y="387.3" text-anchor="middle" font-size="5.1" fill="#8a8a8a">400</text>
<line x1="80.7" y1="317.7" x2="83.2" y2="317.7" stroke="#aaa" stroke-width="0.6"/>
<text x="77.8" y="319.5" text-anchor="end" font-size="5.1" fill="#8a8a8a">600</text>
<line x1="143.8" y1="378.3" x2="143.8" y2="380.5" stroke="#bbb" stroke-width="0.6"/>
<text x="143.8" y="387.3" text-anchor="middle" font-size="5.1" fill="#8a8a8a">600</text>
<line x1="80.7" y1="297.5" x2="83.2" y2="297.5" stroke="#aaa" stroke-width="0.6"/>
<text x="77.8" y="299.3" text-anchor="end" font-size="5.1" fill="#8a8a8a">800</text>
<line x1="164.0" y1="378.3" x2="164.0" y2="380.5" stroke="#bbb" stroke-width="0.6"/>
<text x="164.0" y="387.3" text-anchor="middle" font-size="5.1" fill="#8a8a8a">800</text>
<line x1="80.7" y1="277.3" x2="83.2" y2="277.3" stroke="#aaa" stroke-width="0.6"/>
<text x="77.8" y="279.1" text-anchor="end" font-size="5.1" fill="#8a8a8a">1000</text>
<line x1="184.2" y1="378.3" x2="184.2" y2="380.5" stroke="#bbb" stroke-width="0.6"/>
<text x="184.2" y="387.3" text-anchor="middle" font-size="5.1" fill="#8a8a8a">1000</text>
<rect x="232.6" y="274.8" width="104.4" height="103.5" fill="#fff" stroke="#1a1a1a" stroke-width="1.3"/>
<path d="M299.3 275.6h1.3v1.3h-1.3zM277.3 275.4h1.3v1.3h-1.3zM301.0 275.2h1.3v1.3h-1.3zM302.0 275.1h1.3v1.3h-1.3zM253.5 275.2h1.3v1.3h-1.3zM301.6 275.6h1.3v1.3h-1.3zM278.4 275.5h1.3v1.3h-1.3zM324.1 275.9h1.3v1.3h-1.3zM298.2 275.3h1.3v1.3h-1.3zM317.2 275.5h1.3v1.3h-1.3zM258.1 275.6h1.3v1.3h-1.3zM242.5 275.4h1.3v1.3h-1.3zM330.9 275.5h1.3v1.3h-1.3zM278.9 275.2h1.3v1.3h-1.3zM303.4 275.1h1.3v1.3h-1.3zM328.1 275.3h1.3v1.3h-1.3zM237.0 275.2h1.3v1.3h-1.3zM329.9 275.1h1.3v1.3h-1.3zM276.3 275.8h1.3v1.3h-1.3zM330.0 275.0h1.3v1.3h-1.3zM315.9 275.3h1.3v1.3h-1.3zM334.0 275.4h1.3v1.3h-1.3zM302.4 275.3h1.3v1.3h-1.3zM287.4 275.3h1.3v1.3h-1.3zM324.9 275.6h1.3v1.3h-1.3zM268.8 275.1h1.3v1.3h-1.3zM284.4 275.2h1.3v1.3h-1.3zM244.3 275.9h1.3v1.3h-1.3zM320.9 275.4h1.3v1.3h-1.3zM326.7 275.1h1.3v1.3h-1.3zM251.3 275.4h1.3v1.3h-1.3zM287.1 275.5h1.3v1.3h-1.3zM334.5 275.3h1.3v1.3h-1.3zM244.1 275.4h1.3v1.3h-1.3zM306.8 275.4h1.3v1.3h-1.3zM265.3 275.1h1.3v1.3h-1.3zM326.9 275.2h1.3v1.3h-1.3zM325.7 275.2h1.3v1.3h-1.3zM242.0 275.1h1.3v1.3h-1.3zM297.0 275.2h1.3v1.3h-1.3zM278.6 275.5h1.3v1.3h-1.3zM247.7 275.4h1.3v1.3h-1.3zM277.5 275.4h1.3v1.3h-1.3zM310.4 275.6h1.3v1.3h-1.3zM295.8 275.4h1.3v1.3h-1.3zM264.7 275.3h1.3v1.3h-1.3zM287.4 275.3h1.3v1.3h-1.3zM327.1 275.5h1.3v1.3h-1.3zM323.9 275.6h1.3v1.3h-1.3zM280.3 275.6h1.3v1.3h-1.3zM286.8 275.3h1.3v1.3h-1.3zM266.0 275.5h1.3v1.3h-1.3zM293.1 275.6h1.3v1.3h-1.3zM249.9 275.8h1.3v1.3h-1.3zM332.6 275.7h1.3v1.3h-1.3zM278.0 275.3h1.3v1.3h-1.3zM237.9 275.3h1.3v1.3h-1.3zM266.4 275.3h1.3v1.3h-1.3zM330.9 275.4h1.3v1.3h-1.3zM267.7 275.2h1.3v1.3h-1.3zM275.3 275.5h1.3v1.3h-1.3zM333.5 275.1h1.3v1.3h-1.3zM314.7 275.1h1.3v1.3h-1.3zM272.7 275.4h1.3v1.3h-1.3zM253.3 275.1h1.3v1.3h-1.3zM275.7 275.2h1.3v1.3h-1.3zM325.6 275.5h1.3v1.3h-1.3zM290.4 275.3h1.3v1.3h-1.3zM328.6 275.3h1.3v1.3h-1.3zM334.6 275.4h1.3v1.3h-1.3zM323.1 275.4h1.3v1.3h-1.3zM277.2 275.1h1.3v1.3h-1.3zM275.7 275.9h1.3v1.3h-1.3zM291.2 275.2h1.3v1.3h-1.3zM304.2 275.6h1.3v1.3h-1.3zM321.0 275.8h1.3v1.3h-1.3zM317.9 275.1h1.3v1.3h-1.3zM268.0 275.3h1.3v1.3h-1.3zM309.9 275.1h1.3v1.3h-1.3zM274.2 275.6h1.3v1.3h-1.3zM313.9 275.2h1.3v1.3h-1.3zM321.0 275.7h1.3v1.3h-1.3zM306.1 275.6h1.3v1.3h-1.3zM251.5 275.0h1.3v1.3h-1.3zM261.8 275.6h1.3v1.3h-1.3zM267.8 275.4h1.3v1.3h-1.3zM287.8 276.1h1.3v1.3h-1.3zM326.7 275.8h1.3v1.3h-1.3zM333.1 275.1h1.3v1.3h-1.3zM296.7 275.2h1.3v1.3h-1.3zM247.8 275.0h1.3v1.3h-1.3zM333.9 275.3h1.3v1.3h-1.3zM332.1 275.3h1.3v1.3h-1.3zM245.7 275.5h1.3v1.3h-1.3zM302.9 275.3h1.3v1.3h-1.3zM302.4 275.1h1.3v1.3h-1.3zM308.8 275.7h1.3v1.3h-1.3zM237.5 275.6h1.3v1.3h-1.3zM267.6 275.3h1.3v1.3h-1.3zM270.4 275.3h1.3v1.3h-1.3zM301.3 275.3h1.3v1.3h-1.3zM246.4 275.3h1.3v1.3h-1.3zM254.4 275.6h1.3v1.3h-1.3zM241.7 275.1h1.3v1.3h-1.3zM283.9 275.3h1.3v1.3h-1.3zM284.7 275.4h1.3v1.3h-1.3zM257.4 275.7h1.3v1.3h-1.3zM248.1 275.7h1.3v1.3h-1.3zM313.3 275.4h1.3v1.3h-1.3zM302.1 275.1h1.3v1.3h-1.3zM274.5 275.6h1.3v1.3h-1.3zM274.8 275.4h1.3v1.3h-1.3zM282.0 275.5h1.3v1.3h-1.3zM303.8 275.2h1.3v1.3h-1.3zM238.5 275.1h1.3v1.3h-1.3zM253.4 275.5h1.3v1.3h-1.3zM306.2 275.0h1.3v1.3h-1.3zM246.2 275.6h1.3v1.3h-1.3zM273.7 275.0h1.3v1.3h-1.3zM313.1 275.7h1.3v1.3h-1.3zM328.3 275.5h1.3v1.3h-1.3zM324.6 275.4h1.3v1.3h-1.3zM324.5 275.9h1.3v1.3h-1.3zM244.3 275.8h1.3v1.3h-1.3zM239.6 275.5h1.3v1.3h-1.3zM276.7 275.5h1.3v1.3h-1.3zM277.5 275.0h1.3v1.3h-1.3zM296.1 275.2h1.3v1.3h-1.3zM314.6 275.2h1.3v1.3h-1.3zM329.1 275.0h1.3v1.3h-1.3zM304.0 275.1h1.3v1.3h-1.3zM323.9 275.6h1.3v1.3h-1.3zM246.0 275.4h1.3v1.3h-1.3zM239.6 275.2h1.3v1.3h-1.3zM281.7 275.2h1.3v1.3h-1.3zM324.4 275.4h1.3v1.3h-1.3zM275.2 275.1h1.3v1.3h-1.3zM248.0 275.2h1.3v1.3h-1.3zM259.7 275.5h1.3v1.3h-1.3zM322.5 275.6h1.3v1.3h-1.3zM270.3 275.4h1.3v1.3h-1.3zM322.1 275.4h1.3v1.3h-1.3zM330.3 275.4h1.3v1.3h-1.3zM313.7 275.9h1.3v1.3h-1.3zM328.4 275.4h1.3v1.3h-1.3zM260.9 275.5h1.3v1.3h-1.3zM238.8 275.6h1.3v1.3h-1.3zM329.1 275.5h1.3v1.3h-1.3zM257.4 275.5h1.3v1.3h-1.3zM299.4 275.4h1.3v1.3h-1.3zM290.5 275.1h1.3v1.3h-1.3zM308.4 275.2h1.3v1.3h-1.3zM265.6 275.3h1.3v1.3h-1.3zM250.7 275.3h1.3v1.3h-1.3zM319.5 275.5h1.3v1.3h-1.3zM332.4 275.5h1.3v1.3h-1.3zM320.7 275.3h1.3v1.3h-1.3zM309.7 275.5h1.3v1.3h-1.3zM244.8 275.2h1.3v1.3h-1.3zM252.9 275.5h1.3v1.3h-1.3zM322.7 275.4h1.3v1.3h-1.3zM256.2 275.6h1.3v1.3h-1.3zM326.9 275.4h1.3v1.3h-1.3zM290.5 275.3h1.3v1.3h-1.3zM334.5 275.4h1.3v1.3h-1.3zM287.0 275.5h1.3v1.3h-1.3zM250.0 275.4h1.3v1.3h-1.3zM297.0 275.2h1.3v1.3h-1.3zM281.1 275.1h1.3v1.3h-1.3zM244.0 275.2h1.3v1.3h-1.3zM318.0 275.1h1.3v1.3h-1.3zM326.0 275.4h1.3v1.3h-1.3zM332.4 275.3h1.3v1.3h-1.3zM300.8 275.3h1.3v1.3h-1.3zM294.7 275.3h1.3v1.3h-1.3zM256.3 275.3h1.3v1.3h-1.3zM332.4 275.7h1.3v1.3h-1.3zM309.8 275.6h1.3v1.3h-1.3zM303.2 275.1h1.3v1.3h-1.3zM305.8 275.4h1.3v1.3h-1.3zM320.3 275.2h1.3v1.3h-1.3zM271.0 275.3h1.3v1.3h-1.3zM248.1 275.2h1.3v1.3h-1.3zM335.1 275.1h1.3v1.3h-1.3zM285.7 275.4h1.3v1.3h-1.3zM241.0 275.6h1.3v1.3h-1.3zM267.7 275.0h1.3v1.3h-1.3zM323.2 275.4h1.3v1.3h-1.3zM298.9 275.2h1.3v1.3h-1.3zM294.8 275.4h1.3v1.3h-1.3zM238.8 275.1h1.3v1.3h-1.3zM279.3 275.2h1.3v1.3h-1.3zM247.3 318.6h1.3v1.3h-1.3zM320.6 330.4h1.3v1.3h-1.3zM274.2 336.0h1.3v1.3h-1.3zM261.5 286.1h1.3v1.3h-1.3zM271.2 320.3h1.3v1.3h-1.3zM303.2 345.0h1.3v1.3h-1.3zM247.8 337.5h1.3v1.3h-1.3zM250.4 344.5h1.3v1.3h-1.3zM299.6 290.5h1.3v1.3h-1.3zM324.3 334.2h1.3v1.3h-1.3zM301.9 298.8h1.3v1.3h-1.3zM329.5 341.2h1.3v1.3h-1.3zM262.6 334.7h1.3v1.3h-1.3zM269.8 305.6h1.3v1.3h-1.3zM271.6 320.1h1.3v1.3h-1.3zM270.2 312.3h1.3v1.3h-1.3zM261.1 345.8h1.3v1.3h-1.3zM314.1 318.3h1.3v1.3h-1.3zM262.6 284.5h1.3v1.3h-1.3zM276.1 317.0h1.3v1.3h-1.3zM281.7 280.4h1.3v1.3h-1.3zM334.6 288.7h1.3v1.3h-1.3zM267.3 313.9h1.3v1.3h-1.3zM303.8 311.8h1.3v1.3h-1.3zM267.1 283.9h1.3v1.3h-1.3zM314.8 303.2h1.3v1.3h-1.3zM273.2 299.4h1.3v1.3h-1.3zM236.2 299.4h1.3v1.3h-1.3zM286.8 310.5h1.3v1.3h-1.3zM268.1 281.5h1.3v1.3h-1.3zM260.7 281.3h1.3v1.3h-1.3zM263.6 295.7h1.3v1.3h-1.3zM234.2 329.9h1.3v1.3h-1.3zM307.8 345.5h1.3v1.3h-1.3zM289.3 332.6h1.3v1.3h-1.3zM298.3 284.5h1.3v1.3h-1.3zM291.5 337.6h1.3v1.3h-1.3zM272.5 337.2h1.3v1.3h-1.3zM280.3 338.9h1.3v1.3h-1.3zM282.1 330.6h1.3v1.3h-1.3zM326.7 297.5h1.3v1.3h-1.3zM269.2 314.1h1.3v1.3h-1.3zM249.4 310.2h1.3v1.3h-1.3zM242.5 281.5h1.3v1.3h-1.3zM268.1 317.4h1.3v1.3h-1.3zM291.8 297.8h1.3v1.3h-1.3zM292.8 346.6h1.3v1.3h-1.3zM307.5 326.3h1.3v1.3h-1.3zM300.6 336.5h1.3v1.3h-1.3zM242.4 281.3h1.3v1.3h-1.3zM273.4 329.6h1.3v1.3h-1.3zM271.4 336.0h1.3v1.3h-1.3zM245.4 311.8h1.3v1.3h-1.3zM293.4 296.9h1.3v1.3h-1.3zM312.2 313.6h1.3v1.3h-1.3zM238.3 318.1h1.3v1.3h-1.3zM287.5 309.8h1.3v1.3h-1.3zM246.1 301.6h1.3v1.3h-1.3zM312.4 326.5h1.3v1.3h-1.3zM290.4 342.3h1.3v1.3h-1.3zM240.7 298.1h1.3v1.3h-1.3zM286.1 341.7h1.3v1.3h-1.3zM258.3 282.9h1.3v1.3h-1.3zM254.9 327.8h1.3v1.3h-1.3zM301.4 303.5h1.3v1.3h-1.3zM274.9 316.3h1.3v1.3h-1.3zM327.8 304.2h1.3v1.3h-1.3zM326.6 284.7h1.3v1.3h-1.3zM320.2 290.8h1.3v1.3h-1.3zM275.4 349.1h1.3v1.3h-1.3zM325.4 308.5h1.3v1.3h-1.3zM241.3 346.5h1.3v1.3h-1.3zM312.4 315.9h1.3v1.3h-1.3zM270.3 342.8h1.3v1.3h-1.3zM321.4 310.6h1.3v1.3h-1.3zM237.0 349.4h1.3v1.3h-1.3zM292.1 312.9h1.3v1.3h-1.3zM241.0 297.4h1.3v1.3h-1.3zM263.8 291.5h1.3v1.3h-1.3zM291.0 284.1h1.3v1.3h-1.3zM248.0 286.8h1.3v1.3h-1.3zM304.1 327.4h1.3v1.3h-1.3zM285.8 304.8h1.3v1.3h-1.3zM256.6 341.0h1.3v1.3h-1.3zM288.3 293.0h1.3v1.3h-1.3zM279.0 345.3h1.3v1.3h-1.3zM237.4 292.5h1.3v1.3h-1.3zM305.7 298.2h1.3v1.3h-1.3zM306.2 303.1h1.3v1.3h-1.3zM325.9 297.7h1.3v1.3h-1.3zM329.1 308.5h1.3v1.3h-1.3zM271.4 336.0h1.3v1.3h-1.3zM299.0 284.1h1.3v1.3h-1.3zM295.4 296.3h1.3v1.3h-1.3zM239.3 282.8h1.3v1.3h-1.3zM307.1 334.0h1.3v1.3h-1.3zM261.5 287.5h1.3v1.3h-1.3zM276.9 315.2h1.3v1.3h-1.3zM296.7 340.6h1.3v1.3h-1.3zM284.9 301.4h1.3v1.3h-1.3zM262.3 287.2h1.3v1.3h-1.3zM322.2 297.9h1.3v1.3h-1.3zM243.5 345.7h1.3v1.3h-1.3zM294.9 285.7h1.3v1.3h-1.3zM252.7 340.3h1.3v1.3h-1.3zM327.4 287.6h1.3v1.3h-1.3zM328.6 290.6h1.3v1.3h-1.3zM306.1 333.8h1.3v1.3h-1.3zM323.3 324.4h1.3v1.3h-1.3zM311.4 301.8h1.3v1.3h-1.3zM300.1 328.8h1.3v1.3h-1.3zM309.5 289.5h1.3v1.3h-1.3zM326.0 341.6h1.3v1.3h-1.3zM255.9 319.9h1.3v1.3h-1.3zM307.7 346.2h1.3v1.3h-1.3zM252.1 321.3h1.3v1.3h-1.3zM280.6 319.6h1.3v1.3h-1.3zM268.3 339.9h1.3v1.3h-1.3zM298.0 320.4h1.3v1.3h-1.3zM298.5 285.2h1.3v1.3h-1.3zM325.1 322.4h1.3v1.3h-1.3zM318.8 299.8h1.3v1.3h-1.3zM240.6 324.3h1.3v1.3h-1.3zM251.5 349.9h1.3v1.3h-1.3zM238.5 322.3h1.3v1.3h-1.3zM305.8 338.2h1.3v1.3h-1.3zM269.0 304.2h1.3v1.3h-1.3zM332.5 279.8h1.3v1.3h-1.3zM255.6 282.3h1.3v1.3h-1.3zM330.6 280.3h1.3v1.3h-1.3zM310.4 294.5h1.3v1.3h-1.3zM311.0 298.2h1.3v1.3h-1.3zM295.4 301.8h1.3v1.3h-1.3zM323.4 325.5h1.3v1.3h-1.3zM257.7 332.2h1.3v1.3h-1.3zM321.8 333.6h1.3v1.3h-1.3zM323.0 332.4h1.3v1.3h-1.3zM295.3 339.7h1.3v1.3h-1.3zM300.8 330.2h1.3v1.3h-1.3zM257.1 311.6h1.3v1.3h-1.3zM283.6 308.3h1.3v1.3h-1.3zM293.3 284.8h1.3v1.3h-1.3zM265.9 279.9h1.3v1.3h-1.3zM238.3 339.9h1.3v1.3h-1.3zM329.9 289.6h1.3v1.3h-1.3zM315.4 340.4h1.3v1.3h-1.3zM270.9 307.4h1.3v1.3h-1.3zM287.7 283.3h1.3v1.3h-1.3zM293.7 337.9h1.3v1.3h-1.3zM330.8 329.7h1.3v1.3h-1.3zM261.9 348.6h1.3v1.3h-1.3zM250.1 354.2h1.3v1.3h-1.3zM260.2 355.7h1.3v1.3h-1.3zM249.2 352.3h1.3v1.3h-1.3zM242.8 344.2h1.3v1.3h-1.3zM246.4 339.0h1.3v1.3h-1.3zM253.2 331.6h1.3v1.3h-1.3zM259.1 350.0h1.3v1.3h-1.3zM257.2 333.5h1.3v1.3h-1.3zM260.2 341.8h1.3v1.3h-1.3zM250.0 358.5h1.3v1.3h-1.3zM248.0 358.9h1.3v1.3h-1.3zM249.7 356.3h1.3v1.3h-1.3zM260.3 336.2h1.3v1.3h-1.3zM245.5 360.1h1.3v1.3h-1.3zM237.6 334.5h1.3v1.3h-1.3zM246.2 359.4h1.3v1.3h-1.3zM252.9 354.0h1.3v1.3h-1.3zM257.7 361.1h1.3v1.3h-1.3zM260.5 361.5h1.3v1.3h-1.3zM253.9 346.8h1.3v1.3h-1.3zM257.1 340.0h1.3v1.3h-1.3zM257.1 359.4h1.3v1.3h-1.3zM257.0 340.0h1.3v1.3h-1.3zM251.6 340.6h1.3v1.3h-1.3zM260.6 348.2h1.3v1.3h-1.3zM259.2 334.5h1.3v1.3h-1.3zM236.2 344.6h1.3v1.3h-1.3zM239.2 334.4h1.3v1.3h-1.3zM261.8 344.5h1.3v1.3h-1.3zM253.3 359.0h1.3v1.3h-1.3zM239.6 359.4h1.3v1.3h-1.3zM259.7 360.7h1.3v1.3h-1.3zM238.3 353.2h1.3v1.3h-1.3zM250.0 353.9h1.3v1.3h-1.3zM246.1 343.7h1.3v1.3h-1.3zM243.5 358.6h1.3v1.3h-1.3zM242.2 334.3h1.3v1.3h-1.3zM238.3 335.3h1.3v1.3h-1.3zM245.8 333.8h1.3v1.3h-1.3zM238.6 343.1h1.3v1.3h-1.3zM252.2 331.9h1.3v1.3h-1.3zM244.4 352.5h1.3v1.3h-1.3zM255.9 335.8h1.3v1.3h-1.3zM260.4 352.1h1.3v1.3h-1.3zM259.1 348.0h1.3v1.3h-1.3zM255.2 352.1h1.3v1.3h-1.3zM256.3 352.5h1.3v1.3h-1.3zM238.4 355.2h1.3v1.3h-1.3zM261.3 345.3h1.3v1.3h-1.3zM251.0 348.3h1.3v1.3h-1.3zM250.1 338.0h1.3v1.3h-1.3zM253.5 346.0h1.3v1.3h-1.3zM240.9 332.9h1.3v1.3h-1.3zM248.2 360.5h1.3v1.3h-1.3zM239.2 359.7h1.3v1.3h-1.3zM259.9 332.4h1.3v1.3h-1.3zM249.0 330.3h1.3v1.3h-1.3zM239.4 342.6h1.3v1.3h-1.3zM261.2 346.9h1.3v1.3h-1.3zM238.8 304.4h1.3v1.3h-1.3zM239.2 321.5h1.3v1.3h-1.3zM251.0 319.4h1.3v1.3h-1.3zM246.1 308.4h1.3v1.3h-1.3zM266.1 286.6h1.3v1.3h-1.3zM258.5 319.8h1.3v1.3h-1.3zM248.3 306.9h1.3v1.3h-1.3zM245.8 296.8h1.3v1.3h-1.3zM235.2 312.9h1.3v1.3h-1.3zM233.8 318.6h1.3v1.3h-1.3zM249.6 316.2h1.3v1.3h-1.3zM251.5 325.8h1.3v1.3h-1.3zM255.5 341.4h1.3v1.3h-1.3zM248.0 327.5h1.3v1.3h-1.3zM236.8 335.5h1.3v1.3h-1.3zM268.8 322.7h1.3v1.3h-1.3zM236.1 312.9h1.3v1.3h-1.3zM248.0 317.6h1.3v1.3h-1.3zM257.6 328.9h1.3v1.3h-1.3zM243.3 306.2h1.3v1.3h-1.3zM260.5 310.6h1.3v1.3h-1.3zM235.4 294.8h1.3v1.3h-1.3zM248.3 328.3h1.3v1.3h-1.3zM261.3 312.1h1.3v1.3h-1.3zM243.6 339.0h1.3v1.3h-1.3zM243.7 336.5h1.3v1.3h-1.3zM249.9 318.2h1.3v1.3h-1.3zM245.7 319.1h1.3v1.3h-1.3zM243.6 304.5h1.3v1.3h-1.3zM246.6 304.9h1.3v1.3h-1.3zM250.5 315.9h1.3v1.3h-1.3zM245.4 311.7h1.3v1.3h-1.3zM245.7 340.7h1.3v1.3h-1.3zM247.7 305.7h1.3v1.3h-1.3zM245.1 324.6h1.3v1.3h-1.3zM246.0 312.4h1.3v1.3h-1.3zM245.5 317.1h1.3v1.3h-1.3zM251.3 321.3h1.3v1.3h-1.3zM257.8 334.1h1.3v1.3h-1.3zM249.1 331.9h1.3v1.3h-1.3zM247.5 312.8h1.3v1.3h-1.3zM233.9 302.9h1.3v1.3h-1.3zM242.5 328.4h1.3v1.3h-1.3zM262.7 307.6h1.3v1.3h-1.3zM251.1 318.8h1.3v1.3h-1.3zM240.8 288.8h1.3v1.3h-1.3zM241.0 293.1h1.3v1.3h-1.3zM244.9 312.5h1.3v1.3h-1.3zM246.1 312.1h1.3v1.3h-1.3zM252.1 300.7h1.3v1.3h-1.3zM255.8 289.6h1.3v1.3h-1.3zM248.3 320.4h1.3v1.3h-1.3zM240.6 290.7h1.3v1.3h-1.3zM253.5 304.5h1.3v1.3h-1.3zM278.1 298.8h1.3v1.3h-1.3zM280.6 321.3h1.3v1.3h-1.3zM277.3 321.7h1.3v1.3h-1.3zM276.6 318.9h1.3v1.3h-1.3zM286.4 324.7h1.3v1.3h-1.3zM272.7 303.9h1.3v1.3h-1.3zM275.0 310.2h1.3v1.3h-1.3zM276.7 306.1h1.3v1.3h-1.3zM279.9 313.1h1.3v1.3h-1.3zM278.3 312.8h1.3v1.3h-1.3zM279.7 299.6h1.3v1.3h-1.3zM285.1 316.6h1.3v1.3h-1.3zM278.8 319.5h1.3v1.3h-1.3zM282.3 320.9h1.3v1.3h-1.3zM277.7 310.8h1.3v1.3h-1.3zM267.4 315.1h1.3v1.3h-1.3zM274.7 309.3h1.3v1.3h-1.3zM289.6 292.4h1.3v1.3h-1.3zM276.7 326.1h1.3v1.3h-1.3zM281.7 326.5h1.3v1.3h-1.3zM269.4 302.3h1.3v1.3h-1.3zM279.8 309.6h1.3v1.3h-1.3zM285.8 315.4h1.3v1.3h-1.3zM277.5 317.7h1.3v1.3h-1.3zM274.9 314.2h1.3v1.3h-1.3zM272.7 312.5h1.3v1.3h-1.3zM273.8 315.7h1.3v1.3h-1.3zM268.7 296.5h1.3v1.3h-1.3zM279.0 315.4h1.3v1.3h-1.3zM271.2 310.4h1.3v1.3h-1.3zM270.7 335.4h1.3v1.3h-1.3zM267.9 331.8h1.3v1.3h-1.3zM271.9 317.6h1.3v1.3h-1.3zM275.0 308.8h1.3v1.3h-1.3zM281.6 321.9h1.3v1.3h-1.3zM274.9 303.0h1.3v1.3h-1.3zM287.9 328.4h1.3v1.3h-1.3zM277.3 309.7h1.3v1.3h-1.3zM278.1 313.9h1.3v1.3h-1.3zM283.1 302.4h1.3v1.3h-1.3zM276.6 304.4h1.3v1.3h-1.3zM283.7 332.8h1.3v1.3h-1.3zM276.0 318.9h1.3v1.3h-1.3zM284.2 309.7h1.3v1.3h-1.3zM271.4 324.4h1.3v1.3h-1.3zM279.3 310.7h1.3v1.3h-1.3zM284.5 315.6h1.3v1.3h-1.3zM266.7 316.8h1.3v1.3h-1.3zM276.2 333.7h1.3v1.3h-1.3zM276.4 310.7h1.3v1.3h-1.3zM278.9 315.7h1.3v1.3h-1.3zM268.8 314.3h1.3v1.3h-1.3zM274.7 328.5h1.3v1.3h-1.3zM289.7 300.7h1.3v1.3h-1.3zM271.2 303.7h1.3v1.3h-1.3zM272.9 305.4h1.3v1.3h-1.3zM276.8 325.0h1.3v1.3h-1.3zM269.4 296.1h1.3v1.3h-1.3zM266.4 325.2h1.3v1.3h-1.3zM283.8 296.1h1.3v1.3h-1.3zM267.5 314.5h1.3v1.3h-1.3zM282.5 324.2h1.3v1.3h-1.3zM277.6 320.5h1.3v1.3h-1.3zM278.3 306.9h1.3v1.3h-1.3zM287.0 313.0h1.3v1.3h-1.3zM270.4 307.9h1.3v1.3h-1.3zM268.0 313.2h1.3v1.3h-1.3zM282.5 299.1h1.3v1.3h-1.3zM282.7 336.1h1.3v1.3h-1.3zM278.6 300.3h1.3v1.3h-1.3zM271.8 309.4h1.3v1.3h-1.3zM269.5 299.3h1.3v1.3h-1.3zM275.1 311.1h1.3v1.3h-1.3zM279.9 299.8h1.3v1.3h-1.3zM286.8 324.7h1.3v1.3h-1.3zM281.4 305.9h1.3v1.3h-1.3zM286.1 309.3h1.3v1.3h-1.3zM286.5 324.8h1.3v1.3h-1.3zM271.6 308.0h1.3v1.3h-1.3zM286.8 324.1h1.3v1.3h-1.3zM275.7 315.3h1.3v1.3h-1.3zM277.6 304.5h1.3v1.3h-1.3zM275.4 305.8h1.3v1.3h-1.3zM274.2 318.2h1.3v1.3h-1.3zM271.3 321.0h1.3v1.3h-1.3zM277.1 321.4h1.3v1.3h-1.3zM281.4 326.8h1.3v1.3h-1.3zM280.0 320.8h1.3v1.3h-1.3zM275.5 319.3h1.3v1.3h-1.3zM271.6 310.3h1.3v1.3h-1.3zM280.6 312.5h1.3v1.3h-1.3zM279.0 301.4h1.3v1.3h-1.3zM284.1 306.7h1.3v1.3h-1.3zM278.7 312.8h1.3v1.3h-1.3zM281.7 308.8h1.3v1.3h-1.3zM271.0 292.1h1.3v1.3h-1.3zM274.8 299.9h1.3v1.3h-1.3zM279.5 328.9h1.3v1.3h-1.3zM264.3 298.8h1.3v1.3h-1.3zM278.2 326.7h1.3v1.3h-1.3zM278.2 316.6h1.3v1.3h-1.3zM279.3 319.4h1.3v1.3h-1.3zM285.6 319.8h1.3v1.3h-1.3zM269.7 307.8h1.3v1.3h-1.3zM277.7 304.1h1.3v1.3h-1.3zM275.1 307.2h1.3v1.3h-1.3zM272.7 320.7h1.3v1.3h-1.3zM274.4 301.0h1.3v1.3h-1.3zM272.6 313.5h1.3v1.3h-1.3zM288.2 315.9h1.3v1.3h-1.3zM284.7 318.5h1.3v1.3h-1.3zM264.6 317.2h1.3v1.3h-1.3zM271.8 298.1h1.3v1.3h-1.3zM270.6 332.8h1.3v1.3h-1.3zM267.8 306.2h1.3v1.3h-1.3zM282.9 320.4h1.3v1.3h-1.3zM267.1 311.8h1.3v1.3h-1.3zM273.7 310.9h1.3v1.3h-1.3zM280.7 306.6h1.3v1.3h-1.3zM274.7 329.2h1.3v1.3h-1.3zM266.3 308.9h1.3v1.3h-1.3zM279.1 299.2h1.3v1.3h-1.3zM273.0 298.5h1.3v1.3h-1.3zM277.4 306.1h1.3v1.3h-1.3zM280.9 324.3h1.3v1.3h-1.3zM276.8 308.8h1.3v1.3h-1.3zM277.9 313.6h1.3v1.3h-1.3zM269.8 324.9h1.3v1.3h-1.3zM277.8 321.7h1.3v1.3h-1.3zM269.0 322.7h1.3v1.3h-1.3zM288.2 319.8h1.3v1.3h-1.3zM268.5 313.4h1.3v1.3h-1.3zM276.2 315.4h1.3v1.3h-1.3zM275.2 318.5h1.3v1.3h-1.3zM273.9 315.5h1.3v1.3h-1.3zM272.7 314.1h1.3v1.3h-1.3zM282.0 307.5h1.3v1.3h-1.3zM280.2 303.1h1.3v1.3h-1.3zM274.4 310.3h1.3v1.3h-1.3zM283.4 304.5h1.3v1.3h-1.3zM283.2 296.7h1.3v1.3h-1.3zM275.6 323.1h1.3v1.3h-1.3zM280.3 301.7h1.3v1.3h-1.3zM269.7 322.7h1.3v1.3h-1.3zM269.5 319.4h1.3v1.3h-1.3zM273.6 312.8h1.3v1.3h-1.3zM289.3 330.2h1.3v1.3h-1.3zM281.1 297.6h1.3v1.3h-1.3zM278.2 313.5h1.3v1.3h-1.3zM275.9 327.8h1.3v1.3h-1.3zM266.9 316.5h1.3v1.3h-1.3zM277.2 304.6h1.3v1.3h-1.3zM286.1 298.8h1.3v1.3h-1.3zM276.6 313.8h1.3v1.3h-1.3zM264.3 297.0h1.3v1.3h-1.3zM271.1 321.7h1.3v1.3h-1.3zM281.7 319.5h1.3v1.3h-1.3zM277.8 288.4h1.3v1.3h-1.3zM277.6 307.2h1.3v1.3h-1.3zM283.0 327.9h1.3v1.3h-1.3zM288.9 320.8h1.3v1.3h-1.3zM281.0 301.4h1.3v1.3h-1.3zM276.9 299.1h1.3v1.3h-1.3zM281.4 299.6h1.3v1.3h-1.3zM275.2 303.7h1.3v1.3h-1.3zM273.8 318.0h1.3v1.3h-1.3zM273.3 315.3h1.3v1.3h-1.3zM270.8 328.4h1.3v1.3h-1.3zM272.8 324.1h1.3v1.3h-1.3zM288.3 285.7h1.3v1.3h-1.3zM271.9 336.1h1.3v1.3h-1.3zM282.8 334.3h1.3v1.3h-1.3zM278.8 332.7h1.3v1.3h-1.3zM279.7 329.5h1.3v1.3h-1.3zM281.1 317.7h1.3v1.3h-1.3zM267.3 349.5h1.3v1.3h-1.3zM277.7 331.6h1.3v1.3h-1.3zM288.1 344.4h1.3v1.3h-1.3zM282.6 334.7h1.3v1.3h-1.3zM280.0 340.8h1.3v1.3h-1.3zM268.4 341.4h1.3v1.3h-1.3zM275.9 346.0h1.3v1.3h-1.3zM283.5 333.2h1.3v1.3h-1.3zM273.8 338.7h1.3v1.3h-1.3zM280.2 334.7h1.3v1.3h-1.3zM276.3 341.5h1.3v1.3h-1.3zM279.0 345.2h1.3v1.3h-1.3zM278.1 331.6h1.3v1.3h-1.3zM267.9 342.8h1.3v1.3h-1.3zM275.1 335.1h1.3v1.3h-1.3zM275.4 327.0h1.3v1.3h-1.3zM274.8 320.2h1.3v1.3h-1.3zM274.8 331.5h1.3v1.3h-1.3zM286.2 340.4h1.3v1.3h-1.3zM275.7 338.5h1.3v1.3h-1.3zM280.6 332.4h1.3v1.3h-1.3zM275.7 335.1h1.3v1.3h-1.3zM289.6 337.9h1.3v1.3h-1.3zM266.8 342.7h1.3v1.3h-1.3zM290.1 331.1h1.3v1.3h-1.3zM294.7 337.0h1.3v1.3h-1.3zM282.0 333.7h1.3v1.3h-1.3zM275.4 329.2h1.3v1.3h-1.3zM271.4 323.1h1.3v1.3h-1.3zM282.7 329.8h1.3v1.3h-1.3zM278.7 339.6h1.3v1.3h-1.3zM273.5 337.7h1.3v1.3h-1.3zM276.3 334.1h1.3v1.3h-1.3zM277.1 337.7h1.3v1.3h-1.3zM271.6 328.7h1.3v1.3h-1.3zM272.4 338.2h1.3v1.3h-1.3zM283.9 347.2h1.3v1.3h-1.3zM278.4 343.7h1.3v1.3h-1.3zM277.4 344.8h1.3v1.3h-1.3zM277.5 340.0h1.3v1.3h-1.3zM275.3 337.4h1.3v1.3h-1.3zM286.6 329.4h1.3v1.3h-1.3zM276.8 333.4h1.3v1.3h-1.3zM281.7 349.6h1.3v1.3h-1.3zM275.2 318.8h1.3v1.3h-1.3zM280.0 341.5h1.3v1.3h-1.3zM268.1 335.7h1.3v1.3h-1.3zM276.4 321.8h1.3v1.3h-1.3zM280.3 340.3h1.3v1.3h-1.3zM278.0 330.2h1.3v1.3h-1.3zM273.1 333.1h1.3v1.3h-1.3zM279.3 330.7h1.3v1.3h-1.3zM284.4 339.9h1.3v1.3h-1.3zM265.5 348.7h1.3v1.3h-1.3zM277.6 333.6h1.3v1.3h-1.3zM277.3 325.0h1.3v1.3h-1.3zM277.7 320.8h1.3v1.3h-1.3zM271.5 346.5h1.3v1.3h-1.3zM283.3 335.0h1.3v1.3h-1.3zM271.7 343.6h1.3v1.3h-1.3zM276.5 338.7h1.3v1.3h-1.3zM280.0 330.0h1.3v1.3h-1.3zM280.9 323.0h1.3v1.3h-1.3zM284.3 326.7h1.3v1.3h-1.3zM273.5 332.8h1.3v1.3h-1.3zM280.5 342.3h1.3v1.3h-1.3zM278.6 341.0h1.3v1.3h-1.3zM279.2 336.8h1.3v1.3h-1.3zM266.8 321.7h1.3v1.3h-1.3zM264.7 336.9h1.3v1.3h-1.3zM275.5 336.3h1.3v1.3h-1.3zM277.9 335.7h1.3v1.3h-1.3zM271.5 327.1h1.3v1.3h-1.3zM266.8 345.5h1.3v1.3h-1.3zM281.4 328.1h1.3v1.3h-1.3zM275.3 340.2h1.3v1.3h-1.3zM285.0 333.2h1.3v1.3h-1.3zM277.6 345.1h1.3v1.3h-1.3zM267.6 332.3h1.3v1.3h-1.3zM276.5 332.3h1.3v1.3h-1.3zM287.7 343.1h1.3v1.3h-1.3zM277.7 330.7h1.3v1.3h-1.3zM281.2 341.5h1.3v1.3h-1.3zM274.0 334.3h1.3v1.3h-1.3zM269.0 336.7h1.3v1.3h-1.3zM281.2 344.0h1.3v1.3h-1.3zM279.7 342.8h1.3v1.3h-1.3zM273.6 334.0h1.3v1.3h-1.3zM282.9 340.3h1.3v1.3h-1.3zM272.5 340.6h1.3v1.3h-1.3zM281.0 342.0h1.3v1.3h-1.3zM277.2 333.7h1.3v1.3h-1.3zM278.7 348.7h1.3v1.3h-1.3zM277.4 332.6h1.3v1.3h-1.3zM278.4 328.8h1.3v1.3h-1.3zM277.8 335.1h1.3v1.3h-1.3zM281.6 337.9h1.3v1.3h-1.3zM282.1 352.8h1.3v1.3h-1.3zM275.5 331.5h1.3v1.3h-1.3zM279.0 336.6h1.3v1.3h-1.3zM277.4 333.1h1.3v1.3h-1.3zM279.5 337.6h1.3v1.3h-1.3zM265.4 335.6h1.3v1.3h-1.3zM278.4 345.1h1.3v1.3h-1.3zM273.6 331.7h1.3v1.3h-1.3zM282.6 333.0h1.3v1.3h-1.3zM277.2 340.3h1.3v1.3h-1.3zM280.5 337.2h1.3v1.3h-1.3zM270.8 344.0h1.3v1.3h-1.3zM274.4 333.6h1.3v1.3h-1.3zM287.0 343.1h1.3v1.3h-1.3zM271.1 333.9h1.3v1.3h-1.3zM275.3 332.1h1.3v1.3h-1.3zM266.6 342.6h1.3v1.3h-1.3zM280.6 338.8h1.3v1.3h-1.3zM274.5 338.6h1.3v1.3h-1.3zM279.9 330.1h1.3v1.3h-1.3zM274.9 333.4h1.3v1.3h-1.3zM280.2 338.9h1.3v1.3h-1.3zM269.9 333.0h1.3v1.3h-1.3zM285.8 330.6h1.3v1.3h-1.3zM277.4 332.9h1.3v1.3h-1.3zM283.1 336.7h1.3v1.3h-1.3zM274.3 329.2h1.3v1.3h-1.3zM275.3 342.7h1.3v1.3h-1.3zM280.1 328.2h1.3v1.3h-1.3zM284.7 335.4h1.3v1.3h-1.3zM271.1 338.0h1.3v1.3h-1.3zM273.4 333.2h1.3v1.3h-1.3zM273.3 336.5h1.3v1.3h-1.3zM274.0 325.6h1.3v1.3h-1.3zM279.3 333.6h1.3v1.3h-1.3zM282.8 340.7h1.3v1.3h-1.3zM279.8 338.3h1.3v1.3h-1.3zM283.3 334.9h1.3v1.3h-1.3zM271.4 339.4h1.3v1.3h-1.3zM262.5 334.6h1.3v1.3h-1.3zM277.7 334.3h1.3v1.3h-1.3zM283.1 341.8h1.3v1.3h-1.3zM277.1 334.4h1.3v1.3h-1.3zM282.2 332.5h1.3v1.3h-1.3zM274.4 342.1h1.3v1.3h-1.3zM279.6 350.7h1.3v1.3h-1.3zM275.4 324.4h1.3v1.3h-1.3zM280.0 345.5h1.3v1.3h-1.3zM275.7 347.5h1.3v1.3h-1.3zM285.7 332.6h1.3v1.3h-1.3zM274.1 328.6h1.3v1.3h-1.3zM279.3 341.9h1.3v1.3h-1.3zM279.7 328.8h1.3v1.3h-1.3zM272.6 327.4h1.3v1.3h-1.3zM268.2 328.0h1.3v1.3h-1.3zM268.4 335.8h1.3v1.3h-1.3zM278.7 341.2h1.3v1.3h-1.3zM276.4 332.5h1.3v1.3h-1.3zM276.5 340.8h1.3v1.3h-1.3zM275.0 337.4h1.3v1.3h-1.3zM274.9 333.5h1.3v1.3h-1.3zM276.7 329.5h1.3v1.3h-1.3zM281.9 326.5h1.3v1.3h-1.3zM278.9 327.9h1.3v1.3h-1.3zM284.3 342.8h1.3v1.3h-1.3zM272.3 334.0h1.3v1.3h-1.3zM270.7 336.6h1.3v1.3h-1.3zM278.6 354.1h1.3v1.3h-1.3zM269.5 345.3h1.3v1.3h-1.3zM273.5 338.8h1.3v1.3h-1.3zM281.0 340.6h1.3v1.3h-1.3zM278.7 335.7h1.3v1.3h-1.3zM276.5 338.0h1.3v1.3h-1.3zM282.7 327.2h1.3v1.3h-1.3zM274.0 328.7h1.3v1.3h-1.3zM271.5 331.7h1.3v1.3h-1.3zM282.1 351.3h1.3v1.3h-1.3zM283.5 329.1h1.3v1.3h-1.3zM276.9 329.4h1.3v1.3h-1.3zM278.8 345.5h1.3v1.3h-1.3zM279.5 342.8h1.3v1.3h-1.3zM275.7 323.8h1.3v1.3h-1.3zM266.3 336.3h1.3v1.3h-1.3zM279.5 345.5h1.3v1.3h-1.3zM274.7 337.5h1.3v1.3h-1.3zM277.8 344.1h1.3v1.3h-1.3zM276.1 329.7h1.3v1.3h-1.3zM282.1 339.7h1.3v1.3h-1.3zM278.5 328.5h1.3v1.3h-1.3zM276.5 325.5h1.3v1.3h-1.3zM266.2 335.4h1.3v1.3h-1.3zM274.3 340.8h1.3v1.3h-1.3zM283.9 336.8h1.3v1.3h-1.3zM285.7 333.1h1.3v1.3h-1.3zM280.4 328.5h1.3v1.3h-1.3zM277.1 334.9h1.3v1.3h-1.3zM275.4 340.9h1.3v1.3h-1.3zM266.8 337.8h1.3v1.3h-1.3zM272.3 337.8h1.3v1.3h-1.3zM278.5 334.5h1.3v1.3h-1.3zM274.6 329.3h1.3v1.3h-1.3zM279.3 332.5h1.3v1.3h-1.3zM278.8 327.5h1.3v1.3h-1.3zM283.5 330.2h1.3v1.3h-1.3zM282.4 334.0h1.3v1.3h-1.3zM279.3 336.0h1.3v1.3h-1.3zM280.0 337.0h1.3v1.3h-1.3zM283.0 341.5h1.3v1.3h-1.3zM280.0 348.1h1.3v1.3h-1.3zM272.9 345.7h1.3v1.3h-1.3zM276.9 327.1h1.3v1.3h-1.3zM279.0 335.6h1.3v1.3h-1.3zM285.2 333.7h1.3v1.3h-1.3zM276.8 338.6h1.3v1.3h-1.3zM266.7 340.4h1.3v1.3h-1.3zM271.4 346.4h1.3v1.3h-1.3zM285.0 336.9h1.3v1.3h-1.3zM268.4 338.2h1.3v1.3h-1.3zM277.4 341.8h1.3v1.3h-1.3zM275.0 329.1h1.3v1.3h-1.3zM275.8 330.8h1.3v1.3h-1.3zM285.6 332.3h1.3v1.3h-1.3zM273.2 336.7h1.3v1.3h-1.3zM270.1 334.0h1.3v1.3h-1.3zM275.8 333.7h1.3v1.3h-1.3zM275.2 345.3h1.3v1.3h-1.3zM278.7 328.1h1.3v1.3h-1.3zM274.3 342.0h1.3v1.3h-1.3zM273.2 337.5h1.3v1.3h-1.3zM276.4 340.5h1.3v1.3h-1.3zM275.6 336.1h1.3v1.3h-1.3zM272.1 339.4h1.3v1.3h-1.3zM271.7 348.5h1.3v1.3h-1.3zM276.4 335.5h1.3v1.3h-1.3zM280.5 336.4h1.3v1.3h-1.3zM277.0 336.6h1.3v1.3h-1.3zM272.8 330.9h1.3v1.3h-1.3zM272.9 344.5h1.3v1.3h-1.3zM273.3 334.3h1.3v1.3h-1.3zM274.2 341.6h1.3v1.3h-1.3zM286.6 330.8h1.3v1.3h-1.3zM279.3 337.8h1.3v1.3h-1.3zM274.9 340.4h1.3v1.3h-1.3zM270.0 342.5h1.3v1.3h-1.3zM277.6 330.4h1.3v1.3h-1.3zM284.7 342.7h1.3v1.3h-1.3zM282.5 327.3h1.3v1.3h-1.3zM275.1 333.5h1.3v1.3h-1.3zM279.7 346.0h1.3v1.3h-1.3zM266.7 337.1h1.3v1.3h-1.3zM275.9 343.6h1.3v1.3h-1.3zM276.3 328.5h1.3v1.3h-1.3zM275.5 330.1h1.3v1.3h-1.3zM272.5 337.3h1.3v1.3h-1.3zM274.0 338.9h1.3v1.3h-1.3zM268.7 352.4h1.3v1.3h-1.3zM282.9 341.8h1.3v1.3h-1.3zM269.9 322.7h1.3v1.3h-1.3zM272.1 335.5h1.3v1.3h-1.3zM287.9 345.7h1.3v1.3h-1.3zM273.8 345.0h1.3v1.3h-1.3zM282.8 337.1h1.3v1.3h-1.3zM282.7 339.2h1.3v1.3h-1.3zM273.2 329.2h1.3v1.3h-1.3zM275.9 343.6h1.3v1.3h-1.3zM269.6 326.3h1.3v1.3h-1.3zM279.3 318.9h1.3v1.3h-1.3zM285.8 334.1h1.3v1.3h-1.3zM280.2 349.4h1.3v1.3h-1.3zM269.1 330.0h1.3v1.3h-1.3zM288.0 335.1h1.3v1.3h-1.3zM275.8 338.5h1.3v1.3h-1.3zM281.9 345.8h1.3v1.3h-1.3zM277.1 334.8h1.3v1.3h-1.3zM276.3 339.0h1.3v1.3h-1.3zM283.2 337.9h1.3v1.3h-1.3zM285.8 331.3h1.3v1.3h-1.3zM279.2 348.7h1.3v1.3h-1.3zM283.1 339.2h1.3v1.3h-1.3zM272.0 332.3h1.3v1.3h-1.3zM275.7 339.1h1.3v1.3h-1.3zM275.2 327.3h1.3v1.3h-1.3zM272.7 340.4h1.3v1.3h-1.3zM280.8 327.7h1.3v1.3h-1.3zM274.6 325.9h1.3v1.3h-1.3zM273.6 360.5h1.3v1.3h-1.3zM276.8 334.7h1.3v1.3h-1.3zM273.5 329.0h1.3v1.3h-1.3zM267.0 336.7h1.3v1.3h-1.3zM275.1 346.8h1.3v1.3h-1.3zM268.1 339.9h1.3v1.3h-1.3zM283.4 324.0h1.3v1.3h-1.3zM279.9 326.3h1.3v1.3h-1.3zM279.2 346.8h1.3v1.3h-1.3zM276.5 338.9h1.3v1.3h-1.3zM273.0 338.9h1.3v1.3h-1.3zM282.3 335.8h1.3v1.3h-1.3zM275.8 339.6h1.3v1.3h-1.3zM280.7 326.1h1.3v1.3h-1.3zM276.8 332.4h1.3v1.3h-1.3zM279.0 343.9h1.3v1.3h-1.3zM278.1 345.6h1.3v1.3h-1.3zM271.4 334.3h1.3v1.3h-1.3zM271.4 337.4h1.3v1.3h-1.3zM277.0 335.7h1.3v1.3h-1.3zM270.3 336.5h1.3v1.3h-1.3zM274.3 341.0h1.3v1.3h-1.3zM275.1 344.7h1.3v1.3h-1.3zM277.7 324.7h1.3v1.3h-1.3zM275.6 327.5h1.3v1.3h-1.3zM281.5 346.5h1.3v1.3h-1.3zM276.4 340.0h1.3v1.3h-1.3zM269.1 322.1h1.3v1.3h-1.3zM273.7 335.3h1.3v1.3h-1.3zM268.8 337.6h1.3v1.3h-1.3zM278.1 341.3h1.3v1.3h-1.3zM284.4 342.4h1.3v1.3h-1.3zM274.6 337.7h1.3v1.3h-1.3zM279.6 330.1h1.3v1.3h-1.3zM283.3 343.0h1.3v1.3h-1.3zM275.4 332.8h1.3v1.3h-1.3zM296.0 342.6h1.3v1.3h-1.3zM281.3 349.0h1.3v1.3h-1.3zM281.5 338.4h1.3v1.3h-1.3zM280.1 330.9h1.3v1.3h-1.3zM280.2 326.8h1.3v1.3h-1.3zM278.7 340.7h1.3v1.3h-1.3zM268.5 349.8h1.3v1.3h-1.3zM270.6 344.0h1.3v1.3h-1.3zM273.8 339.1h1.3v1.3h-1.3zM273.2 353.6h1.3v1.3h-1.3zM281.8 349.1h1.3v1.3h-1.3zM280.6 341.7h1.3v1.3h-1.3zM277.3 335.5h1.3v1.3h-1.3zM279.7 338.2h1.3v1.3h-1.3zM275.8 327.9h1.3v1.3h-1.3zM275.0 341.1h1.3v1.3h-1.3zM274.2 339.4h1.3v1.3h-1.3zM275.9 330.3h1.3v1.3h-1.3zM272.0 332.2h1.3v1.3h-1.3zM275.1 335.4h1.3v1.3h-1.3zM282.3 329.9h1.3v1.3h-1.3zM266.1 341.7h1.3v1.3h-1.3zM274.3 336.4h1.3v1.3h-1.3zM289.7 346.9h1.3v1.3h-1.3zM279.6 343.5h1.3v1.3h-1.3zM277.2 343.6h1.3v1.3h-1.3zM273.5 332.4h1.3v1.3h-1.3zM274.2 347.7h1.3v1.3h-1.3zM284.6 333.1h1.3v1.3h-1.3zM282.6 336.1h1.3v1.3h-1.3zM282.2 335.1h1.3v1.3h-1.3zM281.6 336.5h1.3v1.3h-1.3zM275.2 337.1h1.3v1.3h-1.3zM277.5 333.3h1.3v1.3h-1.3zM269.6 348.5h1.3v1.3h-1.3zM274.6 325.1h1.3v1.3h-1.3zM265.0 318.5h1.3v1.3h-1.3zM273.5 346.3h1.3v1.3h-1.3zM268.3 335.1h1.3v1.3h-1.3zM267.2 344.6h1.3v1.3h-1.3zM278.6 339.4h1.3v1.3h-1.3zM283.6 348.2h1.3v1.3h-1.3zM282.0 333.4h1.3v1.3h-1.3zM269.9 330.3h1.3v1.3h-1.3zM267.7 349.3h1.3v1.3h-1.3zM275.7 338.1h1.3v1.3h-1.3zM277.7 350.8h1.3v1.3h-1.3zM273.8 345.2h1.3v1.3h-1.3zM278.3 336.2h1.3v1.3h-1.3zM266.8 343.4h1.3v1.3h-1.3zM272.9 334.2h1.3v1.3h-1.3zM277.9 337.9h1.3v1.3h-1.3zM282.5 332.8h1.3v1.3h-1.3zM277.6 339.1h1.3v1.3h-1.3zM276.8 341.8h1.3v1.3h-1.3zM275.4 345.3h1.3v1.3h-1.3zM273.1 327.6h1.3v1.3h-1.3zM276.5 345.2h1.3v1.3h-1.3zM274.1 333.1h1.3v1.3h-1.3zM274.9 338.4h1.3v1.3h-1.3zM275.8 339.4h1.3v1.3h-1.3zM267.9 347.3h1.3v1.3h-1.3zM279.7 331.5h1.3v1.3h-1.3zM283.8 340.3h1.3v1.3h-1.3zM284.3 329.4h1.3v1.3h-1.3zM285.3 337.6h1.3v1.3h-1.3zM266.1 342.3h1.3v1.3h-1.3zM275.2 330.5h1.3v1.3h-1.3zM275.6 324.3h1.3v1.3h-1.3zM279.7 335.8h1.3v1.3h-1.3zM275.3 346.7h1.3v1.3h-1.3zM276.9 332.9h1.3v1.3h-1.3zM271.8 336.9h1.3v1.3h-1.3zM282.2 333.4h1.3v1.3h-1.3zM271.4 343.5h1.3v1.3h-1.3zM277.0 337.1h1.3v1.3h-1.3zM287.5 329.2h1.3v1.3h-1.3zM277.7 325.4h1.3v1.3h-1.3zM275.2 341.2h1.3v1.3h-1.3zM282.5 328.8h1.3v1.3h-1.3zM281.0 342.5h1.3v1.3h-1.3zM276.1 353.7h1.3v1.3h-1.3zM276.7 331.4h1.3v1.3h-1.3zM278.9 324.8h1.3v1.3h-1.3zM284.7 343.9h1.3v1.3h-1.3zM274.7 341.4h1.3v1.3h-1.3zM279.5 350.2h1.3v1.3h-1.3zM273.5 328.6h1.3v1.3h-1.3zM266.2 335.3h1.3v1.3h-1.3zM268.6 336.1h1.3v1.3h-1.3zM278.8 334.3h1.3v1.3h-1.3zM271.8 345.2h1.3v1.3h-1.3zM275.7 338.8h1.3v1.3h-1.3zM281.6 328.5h1.3v1.3h-1.3zM272.0 354.0h1.3v1.3h-1.3zM275.9 330.3h1.3v1.3h-1.3zM275.4 333.4h1.3v1.3h-1.3zM270.4 334.5h1.3v1.3h-1.3zM276.6 337.2h1.3v1.3h-1.3zM279.5 325.7h1.3v1.3h-1.3zM269.0 342.5h1.3v1.3h-1.3zM274.4 345.4h1.3v1.3h-1.3zM278.3 327.8h1.3v1.3h-1.3zM279.5 330.5h1.3v1.3h-1.3zM278.0 345.5h1.3v1.3h-1.3zM287.6 336.8h1.3v1.3h-1.3zM280.3 339.3h1.3v1.3h-1.3zM280.8 320.2h1.3v1.3h-1.3zM274.7 339.2h1.3v1.3h-1.3zM279.1 332.2h1.3v1.3h-1.3zM280.9 344.6h1.3v1.3h-1.3zM277.1 335.8h1.3v1.3h-1.3zM274.9 338.2h1.3v1.3h-1.3zM282.8 347.3h1.3v1.3h-1.3zM274.3 331.1h1.3v1.3h-1.3zM272.6 343.8h1.3v1.3h-1.3zM277.8 339.3h1.3v1.3h-1.3zM279.2 339.8h1.3v1.3h-1.3zM276.1 330.3h1.3v1.3h-1.3zM273.5 338.1h1.3v1.3h-1.3zM278.7 334.8h1.3v1.3h-1.3zM274.6 346.4h1.3v1.3h-1.3zM274.3 338.8h1.3v1.3h-1.3zM275.1 331.5h1.3v1.3h-1.3zM268.9 333.7h1.3v1.3h-1.3zM272.5 342.9h1.3v1.3h-1.3zM270.8 334.5h1.3v1.3h-1.3zM280.1 336.5h1.3v1.3h-1.3zM279.2 342.8h1.3v1.3h-1.3zM268.2 334.5h1.3v1.3h-1.3zM271.8 346.2h1.3v1.3h-1.3zM276.1 340.6h1.3v1.3h-1.3zM285.4 334.9h1.3v1.3h-1.3zM277.1 340.0h1.3v1.3h-1.3zM275.3 345.6h1.3v1.3h-1.3zM280.9 343.9h1.3v1.3h-1.3zM277.0 335.0h1.3v1.3h-1.3zM274.9 334.8h1.3v1.3h-1.3zM268.3 339.7h1.3v1.3h-1.3zM280.9 337.2h1.3v1.3h-1.3zM274.2 337.5h1.3v1.3h-1.3zM277.8 339.4h1.3v1.3h-1.3zM285.9 331.6h1.3v1.3h-1.3zM278.6 341.8h1.3v1.3h-1.3zM277.1 335.7h1.3v1.3h-1.3zM271.5 333.3h1.3v1.3h-1.3zM280.3 346.9h1.3v1.3h-1.3zM273.4 340.4h1.3v1.3h-1.3zM279.3 343.9h1.3v1.3h-1.3zM277.9 340.2h1.3v1.3h-1.3zM281.2 329.6h1.3v1.3h-1.3zM276.9 325.6h1.3v1.3h-1.3zM266.7 331.8h1.3v1.3h-1.3zM268.9 340.6h1.3v1.3h-1.3zM281.7 335.2h1.3v1.3h-1.3zM276.0 335.7h1.3v1.3h-1.3zM275.4 338.1h1.3v1.3h-1.3zM278.5 334.2h1.3v1.3h-1.3zM272.7 333.8h1.3v1.3h-1.3zM280.7 334.5h1.3v1.3h-1.3zM284.0 335.6h1.3v1.3h-1.3zM283.6 329.4h1.3v1.3h-1.3zM273.2 340.4h1.3v1.3h-1.3zM279.1 336.2h1.3v1.3h-1.3zM287.0 337.7h1.3v1.3h-1.3zM278.1 333.5h1.3v1.3h-1.3zM285.0 342.8h1.3v1.3h-1.3zM278.8 326.5h1.3v1.3h-1.3zM278.5 334.2h1.3v1.3h-1.3zM278.7 343.2h1.3v1.3h-1.3zM272.9 338.6h1.3v1.3h-1.3zM281.1 338.3h1.3v1.3h-1.3zM275.0 330.3h1.3v1.3h-1.3zM273.3 328.9h1.3v1.3h-1.3zM281.6 337.9h1.3v1.3h-1.3zM270.6 337.2h1.3v1.3h-1.3zM270.2 315.8h1.3v1.3h-1.3zM282.7 344.9h1.3v1.3h-1.3zM269.3 332.5h1.3v1.3h-1.3zM277.7 334.7h1.3v1.3h-1.3zM272.4 333.9h1.3v1.3h-1.3zM275.5 333.6h1.3v1.3h-1.3zM277.7 335.7h1.3v1.3h-1.3zM272.8 337.4h1.3v1.3h-1.3zM268.3 346.6h1.3v1.3h-1.3zM267.9 336.7h1.3v1.3h-1.3zM278.4 339.9h1.3v1.3h-1.3zM278.0 345.4h1.3v1.3h-1.3zM271.0 336.7h1.3v1.3h-1.3zM277.4 334.0h1.3v1.3h-1.3zM273.7 345.6h1.3v1.3h-1.3zM273.1 334.1h1.3v1.3h-1.3zM275.3 335.8h1.3v1.3h-1.3zM277.4 335.8h1.3v1.3h-1.3zM278.5 338.1h1.3v1.3h-1.3zM279.0 346.1h1.3v1.3h-1.3zM272.4 347.9h1.3v1.3h-1.3zM274.4 341.5h1.3v1.3h-1.3zM277.4 335.2h1.3v1.3h-1.3zM266.8 347.6h1.3v1.3h-1.3zM272.8 332.0h1.3v1.3h-1.3zM281.9 337.6h1.3v1.3h-1.3zM286.1 348.1h1.3v1.3h-1.3zM280.2 338.8h1.3v1.3h-1.3zM280.4 328.6h1.3v1.3h-1.3zM277.5 338.1h1.3v1.3h-1.3zM274.3 338.8h1.3v1.3h-1.3zM269.3 343.0h1.3v1.3h-1.3zM283.0 328.8h1.3v1.3h-1.3zM277.3 347.2h1.3v1.3h-1.3zM278.7 330.5h1.3v1.3h-1.3zM271.7 342.7h1.3v1.3h-1.3zM285.7 330.1h1.3v1.3h-1.3zM276.8 332.1h1.3v1.3h-1.3zM275.2 339.1h1.3v1.3h-1.3zM276.4 332.7h1.3v1.3h-1.3zM287.1 336.1h1.3v1.3h-1.3zM275.7 344.3h1.3v1.3h-1.3zM276.7 335.8h1.3v1.3h-1.3zM281.3 330.5h1.3v1.3h-1.3zM280.3 343.8h1.3v1.3h-1.3zM279.9 336.0h1.3v1.3h-1.3zM276.6 326.1h1.3v1.3h-1.3zM276.0 339.0h1.3v1.3h-1.3zM280.9 338.0h1.3v1.3h-1.3zM274.7 331.7h1.3v1.3h-1.3zM276.4 338.0h1.3v1.3h-1.3zM282.6 337.2h1.3v1.3h-1.3zM274.1 336.4h1.3v1.3h-1.3zM274.2 335.6h1.3v1.3h-1.3zM265.7 326.9h1.3v1.3h-1.3zM270.7 340.1h1.3v1.3h-1.3zM276.2 338.1h1.3v1.3h-1.3zM282.3 330.4h1.3v1.3h-1.3zM282.2 339.6h1.3v1.3h-1.3zM273.1 346.7h1.3v1.3h-1.3zM269.5 329.9h1.3v1.3h-1.3zM275.6 339.7h1.3v1.3h-1.3zM275.6 323.4h1.3v1.3h-1.3zM275.1 336.6h1.3v1.3h-1.3zM289.2 345.9h1.3v1.3h-1.3zM277.2 330.1h1.3v1.3h-1.3zM278.3 329.6h1.3v1.3h-1.3zM277.6 339.5h1.3v1.3h-1.3zM274.6 338.7h1.3v1.3h-1.3zM275.0 333.4h1.3v1.3h-1.3zM284.2 340.8h1.3v1.3h-1.3zM275.1 332.2h1.3v1.3h-1.3zM277.5 340.7h1.3v1.3h-1.3zM280.8 346.6h1.3v1.3h-1.3zM278.9 329.9h1.3v1.3h-1.3zM286.6 344.6h1.3v1.3h-1.3zM280.7 345.7h1.3v1.3h-1.3zM269.2 334.7h1.3v1.3h-1.3zM274.1 344.7h1.3v1.3h-1.3zM270.8 335.0h1.3v1.3h-1.3zM284.1 341.3h1.3v1.3h-1.3zM274.7 349.2h1.3v1.3h-1.3zM270.0 340.0h1.3v1.3h-1.3zM275.4 340.4h1.3v1.3h-1.3zM275.2 331.7h1.3v1.3h-1.3zM277.6 328.6h1.3v1.3h-1.3zM279.2 335.0h1.3v1.3h-1.3zM281.1 334.2h1.3v1.3h-1.3zM273.3 339.6h1.3v1.3h-1.3zM282.6 323.8h1.3v1.3h-1.3zM277.1 341.1h1.3v1.3h-1.3zM269.6 331.4h1.3v1.3h-1.3zM279.7 331.8h1.3v1.3h-1.3zM273.4 348.1h1.3v1.3h-1.3zM271.9 331.5h1.3v1.3h-1.3zM265.2 330.1h1.3v1.3h-1.3zM270.5 348.1h1.3v1.3h-1.3zM282.6 329.0h1.3v1.3h-1.3zM286.2 342.0h1.3v1.3h-1.3zM275.7 342.2h1.3v1.3h-1.3zM278.4 332.2h1.3v1.3h-1.3zM267.9 331.2h1.3v1.3h-1.3zM276.5 334.8h1.3v1.3h-1.3zM272.9 343.3h1.3v1.3h-1.3zM271.3 342.8h1.3v1.3h-1.3zM274.2 337.8h1.3v1.3h-1.3zM271.0 337.0h1.3v1.3h-1.3zM272.7 325.9h1.3v1.3h-1.3zM276.4 336.7h1.3v1.3h-1.3zM280.6 338.9h1.3v1.3h-1.3zM271.5 333.1h1.3v1.3h-1.3zM264.3 329.9h1.3v1.3h-1.3zM282.9 346.8h1.3v1.3h-1.3zM280.3 339.0h1.3v1.3h-1.3zM279.4 340.2h1.3v1.3h-1.3zM268.0 331.4h1.3v1.3h-1.3zM282.4 344.6h1.3v1.3h-1.3zM277.7 335.1h1.3v1.3h-1.3zM274.6 333.6h1.3v1.3h-1.3zM272.0 324.7h1.3v1.3h-1.3zM277.3 334.1h1.3v1.3h-1.3zM275.5 348.0h1.3v1.3h-1.3zM279.4 332.5h1.3v1.3h-1.3zM279.4 327.4h1.3v1.3h-1.3zM281.7 338.7h1.3v1.3h-1.3zM275.6 340.7h1.3v1.3h-1.3zM283.7 334.1h1.3v1.3h-1.3zM271.6 350.6h1.3v1.3h-1.3zM276.6 346.6h1.3v1.3h-1.3zM273.2 339.5h1.3v1.3h-1.3zM273.4 341.1h1.3v1.3h-1.3zM275.2 332.7h1.3v1.3h-1.3zM284.2 339.2h1.3v1.3h-1.3zM266.5 335.5h1.3v1.3h-1.3zM272.0 329.2h1.3v1.3h-1.3zM273.6 334.0h1.3v1.3h-1.3zM276.7 331.9h1.3v1.3h-1.3zM267.3 333.6h1.3v1.3h-1.3zM280.9 328.2h1.3v1.3h-1.3zM279.6 340.0h1.3v1.3h-1.3zM274.3 339.0h1.3v1.3h-1.3zM272.8 334.4h1.3v1.3h-1.3zM271.4 340.0h1.3v1.3h-1.3zM283.3 332.6h1.3v1.3h-1.3zM282.4 323.2h1.3v1.3h-1.3zM272.1 330.5h1.3v1.3h-1.3zM285.1 333.2h1.3v1.3h-1.3zM280.4 323.8h1.3v1.3h-1.3zM277.1 340.7h1.3v1.3h-1.3zM276.3 319.4h1.3v1.3h-1.3zM277.4 342.2h1.3v1.3h-1.3zM283.1 339.6h1.3v1.3h-1.3zM268.1 335.7h1.3v1.3h-1.3zM281.0 331.7h1.3v1.3h-1.3zM279.3 333.9h1.3v1.3h-1.3zM277.0 341.9h1.3v1.3h-1.3zM273.0 355.6h1.3v1.3h-1.3zM277.3 339.2h1.3v1.3h-1.3zM272.8 337.4h1.3v1.3h-1.3zM275.2 327.5h1.3v1.3h-1.3zM268.9 338.9h1.3v1.3h-1.3zM276.1 319.9h1.3v1.3h-1.3zM265.8 335.0h1.3v1.3h-1.3zM276.2 340.9h1.3v1.3h-1.3zM270.3 340.8h1.3v1.3h-1.3zM275.0 333.7h1.3v1.3h-1.3zM275.8 343.4h1.3v1.3h-1.3zM279.3 342.8h1.3v1.3h-1.3zM273.1 335.2h1.3v1.3h-1.3zM270.7 333.4h1.3v1.3h-1.3zM274.5 334.0h1.3v1.3h-1.3zM280.1 339.8h1.3v1.3h-1.3zM280.3 337.8h1.3v1.3h-1.3zM281.9 337.7h1.3v1.3h-1.3zM281.3 340.3h1.3v1.3h-1.3zM280.2 336.6h1.3v1.3h-1.3zM270.3 327.6h1.3v1.3h-1.3zM286.3 339.5h1.3v1.3h-1.3zM278.7 335.9h1.3v1.3h-1.3zM274.2 355.7h1.3v1.3h-1.3zM270.9 336.6h1.3v1.3h-1.3zM276.2 329.6h1.3v1.3h-1.3zM270.1 332.4h1.3v1.3h-1.3zM274.8 333.8h1.3v1.3h-1.3zM280.6 329.3h1.3v1.3h-1.3zM278.5 346.5h1.3v1.3h-1.3zM281.0 329.6h1.3v1.3h-1.3zM261.7 342.5h1.3v1.3h-1.3zM279.0 333.2h1.3v1.3h-1.3zM282.9 334.4h1.3v1.3h-1.3zM277.0 330.3h1.3v1.3h-1.3zM278.1 334.2h1.3v1.3h-1.3zM274.0 344.0h1.3v1.3h-1.3zM277.6 327.3h1.3v1.3h-1.3zM280.0 342.4h1.3v1.3h-1.3zM272.3 334.4h1.3v1.3h-1.3zM276.8 335.4h1.3v1.3h-1.3zM277.1 341.2h1.3v1.3h-1.3zM274.0 350.5h1.3v1.3h-1.3zM272.9 333.5h1.3v1.3h-1.3zM286.3 352.5h1.3v1.3h-1.3zM276.7 335.8h1.3v1.3h-1.3zM271.1 344.4h1.3v1.3h-1.3zM277.4 331.5h1.3v1.3h-1.3zM278.5 345.9h1.3v1.3h-1.3zM279.9 351.4h1.3v1.3h-1.3zM282.3 339.9h1.3v1.3h-1.3zM276.3 340.6h1.3v1.3h-1.3zM282.6 342.6h1.3v1.3h-1.3zM281.8 338.4h1.3v1.3h-1.3zM280.3 344.9h1.3v1.3h-1.3zM275.7 328.6h1.3v1.3h-1.3zM285.1 340.8h1.3v1.3h-1.3zM274.3 338.5h1.3v1.3h-1.3zM275.3 325.9h1.3v1.3h-1.3zM275.6 327.7h1.3v1.3h-1.3zM277.5 336.3h1.3v1.3h-1.3zM282.2 336.2h1.3v1.3h-1.3zM278.4 335.1h1.3v1.3h-1.3zM274.6 327.9h1.3v1.3h-1.3zM281.5 338.1h1.3v1.3h-1.3zM273.6 338.4h1.3v1.3h-1.3zM274.4 332.3h1.3v1.3h-1.3zM277.7 344.9h1.3v1.3h-1.3zM275.2 327.7h1.3v1.3h-1.3zM273.4 348.7h1.3v1.3h-1.3zM272.4 344.7h1.3v1.3h-1.3zM275.3 341.8h1.3v1.3h-1.3zM276.0 326.7h1.3v1.3h-1.3zM274.4 350.7h1.3v1.3h-1.3zM275.8 340.7h1.3v1.3h-1.3zM274.8 336.1h1.3v1.3h-1.3zM278.1 340.1h1.3v1.3h-1.3zM287.6 336.9h1.3v1.3h-1.3zM275.6 332.7h1.3v1.3h-1.3zM269.9 326.5h1.3v1.3h-1.3zM279.8 324.9h1.3v1.3h-1.3zM283.5 342.6h1.3v1.3h-1.3zM275.0 329.5h1.3v1.3h-1.3zM276.7 337.2h1.3v1.3h-1.3zM282.1 332.2h1.3v1.3h-1.3zM274.6 336.7h1.3v1.3h-1.3zM275.1 333.0h1.3v1.3h-1.3zM267.9 326.4h1.3v1.3h-1.3zM273.1 335.6h1.3v1.3h-1.3zM281.5 352.0h1.3v1.3h-1.3zM285.1 339.6h1.3v1.3h-1.3zM285.9 336.3h1.3v1.3h-1.3zM273.9 352.1h1.3v1.3h-1.3zM271.2 334.3h1.3v1.3h-1.3zM275.2 346.5h1.3v1.3h-1.3zM273.5 342.1h1.3v1.3h-1.3zM274.5 329.1h1.3v1.3h-1.3zM277.7 338.1h1.3v1.3h-1.3zM270.7 331.4h1.3v1.3h-1.3zM272.6 343.3h1.3v1.3h-1.3zM278.8 338.6h1.3v1.3h-1.3zM279.0 333.9h1.3v1.3h-1.3zM278.9 333.1h1.3v1.3h-1.3zM269.9 332.5h1.3v1.3h-1.3zM277.6 337.6h1.3v1.3h-1.3zM281.8 326.1h1.3v1.3h-1.3zM275.4 339.6h1.3v1.3h-1.3zM271.7 338.7h1.3v1.3h-1.3zM274.5 329.7h1.3v1.3h-1.3zM282.1 328.0h1.3v1.3h-1.3zM281.5 334.4h1.3v1.3h-1.3zM271.8 331.3h1.3v1.3h-1.3zM272.8 331.5h1.3v1.3h-1.3zM277.9 324.9h1.3v1.3h-1.3zM282.7 342.5h1.3v1.3h-1.3zM283.5 330.7h1.3v1.3h-1.3zM265.0 333.0h1.3v1.3h-1.3zM275.7 339.0h1.3v1.3h-1.3zM273.9 336.5h1.3v1.3h-1.3zM277.3 327.0h1.3v1.3h-1.3zM285.6 329.8h1.3v1.3h-1.3zM277.9 344.1h1.3v1.3h-1.3zM272.6 337.1h1.3v1.3h-1.3zM284.7 335.2h1.3v1.3h-1.3zM281.8 339.0h1.3v1.3h-1.3zM277.7 341.7h1.3v1.3h-1.3zM275.4 335.7h1.3v1.3h-1.3zM281.4 338.8h1.3v1.3h-1.3zM279.0 329.3h1.3v1.3h-1.3zM276.6 345.0h1.3v1.3h-1.3zM281.1 339.3h1.3v1.3h-1.3zM274.0 333.1h1.3v1.3h-1.3zM278.8 346.3h1.3v1.3h-1.3zM276.8 345.6h1.3v1.3h-1.3zM275.1 344.9h1.3v1.3h-1.3zM271.6 338.3h1.3v1.3h-1.3zM271.2 341.4h1.3v1.3h-1.3zM279.4 330.9h1.3v1.3h-1.3zM272.9 334.2h1.3v1.3h-1.3zM269.1 331.1h1.3v1.3h-1.3zM272.3 342.2h1.3v1.3h-1.3zM283.5 334.2h1.3v1.3h-1.3zM275.1 338.5h1.3v1.3h-1.3zM274.0 335.3h1.3v1.3h-1.3zM280.8 338.6h1.3v1.3h-1.3zM293.7 323.4h1.3v1.3h-1.3zM308.4 319.6h1.3v1.3h-1.3zM300.3 318.8h1.3v1.3h-1.3zM311.7 322.7h1.3v1.3h-1.3zM298.3 330.7h1.3v1.3h-1.3zM310.2 329.8h1.3v1.3h-1.3zM309.4 327.7h1.3v1.3h-1.3zM302.2 322.8h1.3v1.3h-1.3zM299.8 321.6h1.3v1.3h-1.3zM305.4 325.2h1.3v1.3h-1.3zM303.6 330.6h1.3v1.3h-1.3zM302.7 315.8h1.3v1.3h-1.3zM297.9 317.7h1.3v1.3h-1.3zM290.7 326.8h1.3v1.3h-1.3zM295.3 316.4h1.3v1.3h-1.3zM296.1 332.6h1.3v1.3h-1.3zM301.0 333.5h1.3v1.3h-1.3zM302.5 322.8h1.3v1.3h-1.3zM306.7 330.5h1.3v1.3h-1.3zM303.8 318.3h1.3v1.3h-1.3zM300.1 317.2h1.3v1.3h-1.3zM301.4 326.7h1.3v1.3h-1.3zM312.7 336.6h1.3v1.3h-1.3zM307.4 333.2h1.3v1.3h-1.3zM304.5 346.8h1.3v1.3h-1.3zM312.9 345.9h1.3v1.3h-1.3zM305.5 329.1h1.3v1.3h-1.3zM309.9 327.4h1.3v1.3h-1.3zM305.0 318.6h1.3v1.3h-1.3zM309.1 327.0h1.3v1.3h-1.3zM308.3 324.4h1.3v1.3h-1.3zM291.5 329.8h1.3v1.3h-1.3zM310.6 316.4h1.3v1.3h-1.3zM296.7 323.8h1.3v1.3h-1.3zM301.4 313.3h1.3v1.3h-1.3zM314.4 333.6h1.3v1.3h-1.3zM299.0 312.4h1.3v1.3h-1.3zM305.4 340.9h1.3v1.3h-1.3zM308.4 334.7h1.3v1.3h-1.3zM296.9 327.7h1.3v1.3h-1.3zM293.3 340.8h1.3v1.3h-1.3zM306.7 310.2h1.3v1.3h-1.3zM291.0 329.6h1.3v1.3h-1.3zM303.9 323.7h1.3v1.3h-1.3zM307.0 341.1h1.3v1.3h-1.3zM305.4 312.5h1.3v1.3h-1.3zM302.0 316.2h1.3v1.3h-1.3zM297.8 328.4h1.3v1.3h-1.3zM301.9 318.0h1.3v1.3h-1.3zM302.8 319.9h1.3v1.3h-1.3zM306.4 324.1h1.3v1.3h-1.3zM305.5 323.9h1.3v1.3h-1.3zM307.8 324.9h1.3v1.3h-1.3zM302.9 321.7h1.3v1.3h-1.3zM303.9 312.6h1.3v1.3h-1.3zM320.3 320.8h1.3v1.3h-1.3zM303.6 322.4h1.3v1.3h-1.3zM299.8 328.9h1.3v1.3h-1.3zM299.6 322.7h1.3v1.3h-1.3zM294.0 319.0h1.3v1.3h-1.3zM295.3 339.4h1.3v1.3h-1.3zM294.2 317.9h1.3v1.3h-1.3zM304.2 336.6h1.3v1.3h-1.3zM291.9 314.3h1.3v1.3h-1.3zM303.7 328.4h1.3v1.3h-1.3zM293.7 312.4h1.3v1.3h-1.3zM296.7 331.5h1.3v1.3h-1.3zM302.6 331.5h1.3v1.3h-1.3zM302.2 325.6h1.3v1.3h-1.3zM306.9 325.0h1.3v1.3h-1.3zM304.4 319.0h1.3v1.3h-1.3zM299.0 329.4h1.3v1.3h-1.3zM301.3 320.3h1.3v1.3h-1.3zM307.1 330.0h1.3v1.3h-1.3zM302.8 320.2h1.3v1.3h-1.3zM308.7 344.6h1.3v1.3h-1.3zM297.5 314.3h1.3v1.3h-1.3zM297.8 318.8h1.3v1.3h-1.3zM294.6 317.0h1.3v1.3h-1.3zM308.4 332.3h1.3v1.3h-1.3zM312.5 331.4h1.3v1.3h-1.3zM299.7 334.0h1.3v1.3h-1.3zM298.9 323.2h1.3v1.3h-1.3zM295.2 335.0h1.3v1.3h-1.3zM309.4 322.3h1.3v1.3h-1.3zM300.8 326.1h1.3v1.3h-1.3zM304.1 332.1h1.3v1.3h-1.3zM303.3 328.8h1.3v1.3h-1.3zM293.1 323.5h1.3v1.3h-1.3zM291.2 339.2h1.3v1.3h-1.3zM311.9 331.2h1.3v1.3h-1.3zM310.0 340.8h1.3v1.3h-1.3zM308.9 313.8h1.3v1.3h-1.3zM301.5 308.1h1.3v1.3h-1.3zM297.5 316.5h1.3v1.3h-1.3zM302.8 328.7h1.3v1.3h-1.3zM296.8 323.6h1.3v1.3h-1.3zM304.6 324.6h1.3v1.3h-1.3zM301.6 307.7h1.3v1.3h-1.3zM299.9 331.7h1.3v1.3h-1.3zM304.5 314.6h1.3v1.3h-1.3zM301.0 327.7h1.3v1.3h-1.3zM296.4 330.8h1.3v1.3h-1.3zM297.6 323.3h1.3v1.3h-1.3zM302.1 342.4h1.3v1.3h-1.3zM300.7 321.4h1.3v1.3h-1.3zM307.4 322.2h1.3v1.3h-1.3zM304.0 308.8h1.3v1.3h-1.3zM304.7 325.6h1.3v1.3h-1.3zM294.4 335.9h1.3v1.3h-1.3zM301.2 324.3h1.3v1.3h-1.3zM294.2 313.5h1.3v1.3h-1.3zM299.1 314.3h1.3v1.3h-1.3zM305.9 332.2h1.3v1.3h-1.3zM298.6 313.6h1.3v1.3h-1.3zM300.2 317.8h1.3v1.3h-1.3zM303.8 327.1h1.3v1.3h-1.3zM300.0 326.3h1.3v1.3h-1.3zM309.5 338.5h1.3v1.3h-1.3zM299.4 331.1h1.3v1.3h-1.3zM301.2 317.8h1.3v1.3h-1.3zM311.1 328.6h1.3v1.3h-1.3zM303.7 328.4h1.3v1.3h-1.3zM301.7 317.8h1.3v1.3h-1.3zM314.3 332.4h1.3v1.3h-1.3zM304.4 332.9h1.3v1.3h-1.3zM311.1 324.2h1.3v1.3h-1.3zM306.5 323.3h1.3v1.3h-1.3zM306.9 323.8h1.3v1.3h-1.3zM318.6 323.0h1.3v1.3h-1.3zM306.1 329.2h1.3v1.3h-1.3zM300.6 332.7h1.3v1.3h-1.3zM302.2 322.6h1.3v1.3h-1.3zM302.7 320.1h1.3v1.3h-1.3zM310.5 330.4h1.3v1.3h-1.3zM309.1 315.6h1.3v1.3h-1.3zM304.5 319.9h1.3v1.3h-1.3zM303.3 335.2h1.3v1.3h-1.3zM304.4 324.4h1.3v1.3h-1.3zM310.0 333.3h1.3v1.3h-1.3zM314.7 311.7h1.3v1.3h-1.3zM304.9 322.6h1.3v1.3h-1.3zM297.0 326.6h1.3v1.3h-1.3zM295.2 308.9h1.3v1.3h-1.3zM296.9 323.7h1.3v1.3h-1.3zM314.9 320.3h1.3v1.3h-1.3zM295.1 310.9h1.3v1.3h-1.3zM300.4 323.9h1.3v1.3h-1.3zM303.7 314.8h1.3v1.3h-1.3zM297.8 308.7h1.3v1.3h-1.3zM303.8 313.9h1.3v1.3h-1.3zM284.9 334.4h1.3v1.3h-1.3zM306.0 328.3h1.3v1.3h-1.3zM305.0 317.9h1.3v1.3h-1.3zM309.7 317.8h1.3v1.3h-1.3zM315.2 327.4h1.3v1.3h-1.3zM290.7 332.2h1.3v1.3h-1.3zM315.6 323.8h1.3v1.3h-1.3zM309.7 324.1h1.3v1.3h-1.3zM298.7 306.3h1.3v1.3h-1.3zM310.8 322.4h1.3v1.3h-1.3zM305.2 317.2h1.3v1.3h-1.3zM296.8 334.1h1.3v1.3h-1.3zM300.2 322.7h1.3v1.3h-1.3zM294.5 327.3h1.3v1.3h-1.3zM307.8 322.3h1.3v1.3h-1.3zM301.5 316.6h1.3v1.3h-1.3zM311.9 321.1h1.3v1.3h-1.3zM301.7 338.4h1.3v1.3h-1.3zM301.3 314.1h1.3v1.3h-1.3zM296.7 323.0h1.3v1.3h-1.3zM314.4 327.4h1.3v1.3h-1.3zM301.3 332.0h1.3v1.3h-1.3zM311.3 320.0h1.3v1.3h-1.3zM312.1 332.2h1.3v1.3h-1.3zM305.7 307.9h1.3v1.3h-1.3zM304.1 336.3h1.3v1.3h-1.3zM301.0 343.2h1.3v1.3h-1.3zM303.3 318.1h1.3v1.3h-1.3zM306.7 328.0h1.3v1.3h-1.3zM308.3 324.1h1.3v1.3h-1.3zM311.3 321.6h1.3v1.3h-1.3zM303.7 316.4h1.3v1.3h-1.3zM297.6 327.3h1.3v1.3h-1.3zM298.5 322.4h1.3v1.3h-1.3zM301.5 327.7h1.3v1.3h-1.3zM307.9 331.6h1.3v1.3h-1.3zM309.5 327.4h1.3v1.3h-1.3zM299.3 313.8h1.3v1.3h-1.3zM300.6 319.8h1.3v1.3h-1.3zM290.9 338.3h1.3v1.3h-1.3zM290.8 328.5h1.3v1.3h-1.3zM306.5 324.1h1.3v1.3h-1.3zM319.8 326.0h1.3v1.3h-1.3zM297.8 339.2h1.3v1.3h-1.3zM297.6 314.9h1.3v1.3h-1.3zM296.2 321.0h1.3v1.3h-1.3zM303.2 328.4h1.3v1.3h-1.3zM292.8 328.5h1.3v1.3h-1.3zM317.5 320.4h1.3v1.3h-1.3zM302.0 331.1h1.3v1.3h-1.3zM310.8 320.8h1.3v1.3h-1.3zM296.5 318.2h1.3v1.3h-1.3zM310.1 332.7h1.3v1.3h-1.3zM288.6 309.6h1.3v1.3h-1.3zM294.7 314.4h1.3v1.3h-1.3zM305.6 327.5h1.3v1.3h-1.3zM315.8 331.9h1.3v1.3h-1.3zM303.7 334.8h1.3v1.3h-1.3zM297.0 315.2h1.3v1.3h-1.3zM303.1 333.0h1.3v1.3h-1.3zM292.2 332.6h1.3v1.3h-1.3zM308.5 322.0h1.3v1.3h-1.3zM304.0 323.7h1.3v1.3h-1.3zM303.4 332.0h1.3v1.3h-1.3zM297.6 333.8h1.3v1.3h-1.3zM308.6 332.7h1.3v1.3h-1.3zM289.9 311.7h1.3v1.3h-1.3zM307.4 321.4h1.3v1.3h-1.3zM298.3 320.0h1.3v1.3h-1.3zM294.0 323.6h1.3v1.3h-1.3zM298.1 320.8h1.3v1.3h-1.3zM306.0 316.8h1.3v1.3h-1.3zM310.3 308.9h1.3v1.3h-1.3zM319.4 315.5h1.3v1.3h-1.3zM306.7 332.8h1.3v1.3h-1.3zM302.8 331.5h1.3v1.3h-1.3zM302.1 312.4h1.3v1.3h-1.3zM305.1 334.6h1.3v1.3h-1.3zM299.2 312.9h1.3v1.3h-1.3zM298.9 328.3h1.3v1.3h-1.3zM304.8 334.3h1.3v1.3h-1.3zM306.5 329.7h1.3v1.3h-1.3zM289.6 342.8h1.3v1.3h-1.3zM303.2 332.4h1.3v1.3h-1.3zM300.6 324.7h1.3v1.3h-1.3zM303.2 337.9h1.3v1.3h-1.3zM312.9 330.6h1.3v1.3h-1.3zM316.0 322.8h1.3v1.3h-1.3zM306.3 322.4h1.3v1.3h-1.3zM311.5 326.1h1.3v1.3h-1.3zM309.4 339.0h1.3v1.3h-1.3zM289.1 342.5h1.3v1.3h-1.3zM305.0 323.4h1.3v1.3h-1.3zM290.2 323.6h1.3v1.3h-1.3zM287.6 326.6h1.3v1.3h-1.3zM301.8 339.9h1.3v1.3h-1.3zM300.7 334.1h1.3v1.3h-1.3zM310.7 341.7h1.3v1.3h-1.3zM301.3 331.7h1.3v1.3h-1.3zM292.8 317.4h1.3v1.3h-1.3zM301.1 325.7h1.3v1.3h-1.3zM294.8 322.8h1.3v1.3h-1.3zM307.6 322.4h1.3v1.3h-1.3zM301.9 319.1h1.3v1.3h-1.3zM312.1 339.6h1.3v1.3h-1.3zM304.3 325.1h1.3v1.3h-1.3zM314.0 329.6h1.3v1.3h-1.3zM298.5 315.6h1.3v1.3h-1.3zM299.0 342.8h1.3v1.3h-1.3zM299.0 348.2h1.3v1.3h-1.3zM302.9 324.3h1.3v1.3h-1.3zM311.8 324.1h1.3v1.3h-1.3zM305.5 318.0h1.3v1.3h-1.3zM294.7 320.3h1.3v1.3h-1.3zM304.5 320.9h1.3v1.3h-1.3zM289.9 329.6h1.3v1.3h-1.3zM301.9 323.8h1.3v1.3h-1.3zM298.9 308.6h1.3v1.3h-1.3zM313.6 322.3h1.3v1.3h-1.3zM306.5 336.7h1.3v1.3h-1.3zM310.5 327.5h1.3v1.3h-1.3zM303.0 328.3h1.3v1.3h-1.3zM309.0 330.4h1.3v1.3h-1.3zM300.0 329.4h1.3v1.3h-1.3zM305.5 331.3h1.3v1.3h-1.3zM304.4 336.5h1.3v1.3h-1.3zM304.3 332.8h1.3v1.3h-1.3zM303.3 321.6h1.3v1.3h-1.3zM296.7 324.8h1.3v1.3h-1.3zM306.6 335.7h1.3v1.3h-1.3zM302.4 322.0h1.3v1.3h-1.3zM299.6 335.9h1.3v1.3h-1.3zM303.7 322.1h1.3v1.3h-1.3zM307.9 315.8h1.3v1.3h-1.3zM303.8 325.7h1.3v1.3h-1.3zM302.1 317.1h1.3v1.3h-1.3zM309.5 338.9h1.3v1.3h-1.3zM294.2 326.9h1.3v1.3h-1.3zM307.3 343.4h1.3v1.3h-1.3zM300.2 318.7h1.3v1.3h-1.3zM303.0 341.5h1.3v1.3h-1.3zM303.5 328.0h1.3v1.3h-1.3zM314.8 309.6h1.3v1.3h-1.3zM288.6 333.0h1.3v1.3h-1.3zM308.2 315.3h1.3v1.3h-1.3zM306.4 326.3h1.3v1.3h-1.3zM304.4 319.8h1.3v1.3h-1.3zM300.0 319.3h1.3v1.3h-1.3zM303.3 324.2h1.3v1.3h-1.3zM310.4 322.3h1.3v1.3h-1.3zM321.7 338.1h1.3v1.3h-1.3zM304.5 333.6h1.3v1.3h-1.3zM297.4 338.4h1.3v1.3h-1.3zM303.2 341.7h1.3v1.3h-1.3zM291.3 341.8h1.3v1.3h-1.3zM287.1 340.8h1.3v1.3h-1.3zM302.8 339.5h1.3v1.3h-1.3zM317.9 321.4h1.3v1.3h-1.3zM301.0 341.0h1.3v1.3h-1.3zM308.8 333.1h1.3v1.3h-1.3zM321.6 330.7h1.3v1.3h-1.3zM287.3 338.7h1.3v1.3h-1.3zM303.8 342.0h1.3v1.3h-1.3zM301.5 338.3h1.3v1.3h-1.3zM319.1 336.7h1.3v1.3h-1.3zM320.6 321.7h1.3v1.3h-1.3zM290.7 353.1h1.3v1.3h-1.3zM309.4 335.7h1.3v1.3h-1.3zM288.0 349.0h1.3v1.3h-1.3zM296.3 335.9h1.3v1.3h-1.3zM303.3 338.6h1.3v1.3h-1.3zM298.8 341.9h1.3v1.3h-1.3zM300.5 332.8h1.3v1.3h-1.3zM297.7 332.8h1.3v1.3h-1.3zM304.1 331.0h1.3v1.3h-1.3zM299.5 345.8h1.3v1.3h-1.3zM302.0 337.3h1.3v1.3h-1.3zM297.0 344.4h1.3v1.3h-1.3zM303.5 337.1h1.3v1.3h-1.3zM314.6 329.5h1.3v1.3h-1.3zM287.7 346.1h1.3v1.3h-1.3zM325.0 320.4h1.3v1.3h-1.3zM294.8 347.2h1.3v1.3h-1.3zM318.1 327.7h1.3v1.3h-1.3zM298.0 340.0h1.3v1.3h-1.3zM285.6 338.8h1.3v1.3h-1.3zM318.3 328.3h1.3v1.3h-1.3zM307.0 329.8h1.3v1.3h-1.3zM295.3 337.7h1.3v1.3h-1.3zM303.7 341.0h1.3v1.3h-1.3zM318.0 320.9h1.3v1.3h-1.3zM313.8 328.2h1.3v1.3h-1.3zM298.6 341.8h1.3v1.3h-1.3zM298.2 344.9h1.3v1.3h-1.3zM307.4 330.4h1.3v1.3h-1.3zM291.6 344.4h1.3v1.3h-1.3zM295.8 341.6h1.3v1.3h-1.3zM315.5 322.2h1.3v1.3h-1.3zM309.9 320.1h1.3v1.3h-1.3zM282.5 337.8h1.3v1.3h-1.3zM305.3 337.6h1.3v1.3h-1.3zM302.2 336.8h1.3v1.3h-1.3zM312.4 323.0h1.3v1.3h-1.3zM301.5 333.3h1.3v1.3h-1.3zM294.1 339.0h1.3v1.3h-1.3zM318.8 324.4h1.3v1.3h-1.3zM293.7 341.2h1.3v1.3h-1.3zM317.1 339.2h1.3v1.3h-1.3zM295.4 336.1h1.3v1.3h-1.3zM311.1 331.7h1.3v1.3h-1.3zM291.1 338.8h1.3v1.3h-1.3zM319.6 322.5h1.3v1.3h-1.3zM298.7 333.7h1.3v1.3h-1.3zM312.7 328.8h1.3v1.3h-1.3zM314.7 325.8h1.3v1.3h-1.3zM305.5 336.1h1.3v1.3h-1.3zM308.1 333.9h1.3v1.3h-1.3zM288.6 339.6h1.3v1.3h-1.3zM312.2 340.6h1.3v1.3h-1.3zM304.5 328.6h1.3v1.3h-1.3zM322.6 325.9h1.3v1.3h-1.3zM305.2 346.1h1.3v1.3h-1.3zM290.4 339.5h1.3v1.3h-1.3zM305.4 341.5h1.3v1.3h-1.3zM320.8 332.7h1.3v1.3h-1.3zM287.3 347.1h1.3v1.3h-1.3zM283.1 337.8h1.3v1.3h-1.3zM329.3 327.6h1.3v1.3h-1.3zM308.4 333.0h1.3v1.3h-1.3zM313.4 326.6h1.3v1.3h-1.3zM307.7 339.8h1.3v1.3h-1.3zM292.1 338.5h1.3v1.3h-1.3zM315.2 334.2h1.3v1.3h-1.3zM294.4 338.0h1.3v1.3h-1.3zM305.3 337.3h1.3v1.3h-1.3zM291.9 336.7h1.3v1.3h-1.3zM321.4 322.6h1.3v1.3h-1.3zM299.6 332.9h1.3v1.3h-1.3zM312.1 326.5h1.3v1.3h-1.3zM293.7 342.4h1.3v1.3h-1.3zM310.0 330.7h1.3v1.3h-1.3zM298.3 339.7h1.3v1.3h-1.3zM293.8 348.2h1.3v1.3h-1.3zM298.4 338.0h1.3v1.3h-1.3zM284.2 337.1h1.3v1.3h-1.3zM309.4 330.4h1.3v1.3h-1.3zM308.4 333.0h1.3v1.3h-1.3zM322.6 329.5h1.3v1.3h-1.3zM289.5 349.4h1.3v1.3h-1.3zM304.6 339.9h1.3v1.3h-1.3zM324.8 321.5h1.3v1.3h-1.3zM301.4 340.2h1.3v1.3h-1.3zM284.9 338.9h1.3v1.3h-1.3zM321.1 331.9h1.3v1.3h-1.3zM290.8 345.5h1.3v1.3h-1.3zM315.8 330.9h1.3v1.3h-1.3zM306.1 331.9h1.3v1.3h-1.3zM321.2 325.2h1.3v1.3h-1.3zM305.0 331.0h1.3v1.3h-1.3zM314.5 331.9h1.3v1.3h-1.3zM293.1 334.6h1.3v1.3h-1.3zM327.6 326.2h1.3v1.3h-1.3zM295.6 343.1h1.3v1.3h-1.3zM324.2 333.9h1.3v1.3h-1.3zM313.2 329.5h1.3v1.3h-1.3zM305.0 334.1h1.3v1.3h-1.3zM301.4 337.8h1.3v1.3h-1.3zM289.5 344.1h1.3v1.3h-1.3zM317.5 326.5h1.3v1.3h-1.3zM303.3 308.0h1.3v1.3h-1.3zM316.3 335.5h1.3v1.3h-1.3zM317.0 305.1h1.3v1.3h-1.3zM301.0 337.8h1.3v1.3h-1.3zM328.8 305.0h1.3v1.3h-1.3zM325.8 317.2h1.3v1.3h-1.3zM327.7 316.6h1.3v1.3h-1.3zM322.8 330.0h1.3v1.3h-1.3zM309.9 314.2h1.3v1.3h-1.3zM324.3 336.3h1.3v1.3h-1.3zM320.0 344.3h1.3v1.3h-1.3zM321.8 332.3h1.3v1.3h-1.3zM326.3 301.0h1.3v1.3h-1.3zM310.1 304.3h1.3v1.3h-1.3zM332.0 336.2h1.3v1.3h-1.3zM316.2 318.4h1.3v1.3h-1.3zM311.1 323.1h1.3v1.3h-1.3zM318.5 338.0h1.3v1.3h-1.3zM334.1 332.1h1.3v1.3h-1.3zM324.7 323.7h1.3v1.3h-1.3zM303.3 313.5h1.3v1.3h-1.3zM309.7 303.6h1.3v1.3h-1.3zM323.6 305.1h1.3v1.3h-1.3zM333.5 302.4h1.3v1.3h-1.3zM318.9 318.0h1.3v1.3h-1.3zM318.9 342.6h1.3v1.3h-1.3zM300.0 305.0h1.3v1.3h-1.3zM305.4 323.2h1.3v1.3h-1.3zM328.2 327.7h1.3v1.3h-1.3zM308.5 342.4h1.3v1.3h-1.3zM318.8 344.8h1.3v1.3h-1.3zM323.9 329.5h1.3v1.3h-1.3zM320.8 326.1h1.3v1.3h-1.3zM326.8 331.8h1.3v1.3h-1.3zM322.6 319.6h1.3v1.3h-1.3zM310.8 335.1h1.3v1.3h-1.3zM320.5 337.7h1.3v1.3h-1.3zM324.4 309.7h1.3v1.3h-1.3zM302.4 323.8h1.3v1.3h-1.3zM333.8 314.1h1.3v1.3h-1.3zM321.7 305.6h1.3v1.3h-1.3zM334.1 318.9h1.3v1.3h-1.3zM330.2 327.2h1.3v1.3h-1.3zM301.1 323.3h1.3v1.3h-1.3zM302.9 317.3h1.3v1.3h-1.3zM330.0 325.0h1.3v1.3h-1.3zM308.6 322.7h1.3v1.3h-1.3zM331.9 301.2h1.3v1.3h-1.3zM334.3 331.1h1.3v1.3h-1.3zM326.9 335.5h1.3v1.3h-1.3zM321.9 320.8h1.3v1.3h-1.3zM315.4 329.3h1.3v1.3h-1.3zM331.8 310.9h1.3v1.3h-1.3zM322.0 332.8h1.3v1.3h-1.3zM303.3 320.5h1.3v1.3h-1.3zM325.4 328.8h1.3v1.3h-1.3zM311.6 330.3h1.3v1.3h-1.3zM304.8 319.4h1.3v1.3h-1.3zM312.8 308.4h1.3v1.3h-1.3zM330.1 342.2h1.3v1.3h-1.3zM326.0 337.3h1.3v1.3h-1.3zM313.3 317.2h1.3v1.3h-1.3zM328.8 317.0h1.3v1.3h-1.3zM319.6 338.1h1.3v1.3h-1.3zM311.9 333.9h1.3v1.3h-1.3zM303.6 312.5h1.3v1.3h-1.3zM323.9 337.0h1.3v1.3h-1.3zM308.7 315.2h1.3v1.3h-1.3zM317.7 337.9h1.3v1.3h-1.3zM308.4 305.0h1.3v1.3h-1.3zM322.1 342.6h1.3v1.3h-1.3zM302.1 316.5h1.3v1.3h-1.3zM309.8 341.4h1.3v1.3h-1.3zM321.9 311.1h1.3v1.3h-1.3zM329.5 316.8h1.3v1.3h-1.3zM325.5 311.4h1.3v1.3h-1.3zM310.1 326.4h1.3v1.3h-1.3zM313.9 311.4h1.3v1.3h-1.3zM317.5 330.4h1.3v1.3h-1.3zM333.1 330.6h1.3v1.3h-1.3zM247.5 364.2h1.3v1.3h-1.3zM252.1 367.0h1.3v1.3h-1.3zM252.0 368.4h1.3v1.3h-1.3zM246.5 372.1h1.3v1.3h-1.3zM246.3 368.5h1.3v1.3h-1.3zM245.8 366.2h1.3v1.3h-1.3zM247.4 364.7h1.3v1.3h-1.3zM249.5 371.6h1.3v1.3h-1.3zM256.6 372.1h1.3v1.3h-1.3zM247.8 372.2h1.3v1.3h-1.3zM250.3 373.4h1.3v1.3h-1.3zM243.0 372.2h1.3v1.3h-1.3zM245.9 371.1h1.3v1.3h-1.3zM246.5 370.2h1.3v1.3h-1.3zM247.3 360.4h1.3v1.3h-1.3zM244.3 366.1h1.3v1.3h-1.3zM248.6 359.1h1.3v1.3h-1.3zM243.3 364.4h1.3v1.3h-1.3zM247.6 367.8h1.3v1.3h-1.3zM244.9 361.6h1.3v1.3h-1.3zM249.8 365.8h1.3v1.3h-1.3zM252.3 365.1h1.3v1.3h-1.3zM251.3 363.9h1.3v1.3h-1.3zM249.7 367.3h1.3v1.3h-1.3zM250.4 363.7h1.3v1.3h-1.3zM248.0 364.0h1.3v1.3h-1.3zM247.8 369.2h1.3v1.3h-1.3zM261.4 367.1h1.3v1.3h-1.3zM251.6 367.4h1.3v1.3h-1.3zM253.4 368.6h1.3v1.3h-1.3zM253.0 368.3h1.3v1.3h-1.3zM258.9 371.9h1.3v1.3h-1.3zM241.1 368.1h1.3v1.3h-1.3zM248.8 359.2h1.3v1.3h-1.3zM244.8 365.4h1.3v1.3h-1.3zM245.3 367.5h1.3v1.3h-1.3zM240.8 369.6h1.3v1.3h-1.3zM251.9 368.3h1.3v1.3h-1.3zM247.1 367.0h1.3v1.3h-1.3zM246.5 371.0h1.3v1.3h-1.3zM246.9 372.1h1.3v1.3h-1.3zM246.0 366.4h1.3v1.3h-1.3zM244.0 368.9h1.3v1.3h-1.3zM248.3 369.2h1.3v1.3h-1.3zM255.0 366.8h1.3v1.3h-1.3zM250.2 370.2h1.3v1.3h-1.3zM248.3 365.1h1.3v1.3h-1.3zM250.1 368.8h1.3v1.3h-1.3zM251.9 369.9h1.3v1.3h-1.3zM245.6 368.6h1.3v1.3h-1.3zM253.8 365.4h1.3v1.3h-1.3zM250.1 364.8h1.3v1.3h-1.3zM249.3 373.1h1.3v1.3h-1.3zM249.3 363.6h1.3v1.3h-1.3zM250.0 367.8h1.3v1.3h-1.3zM253.3 362.2h1.3v1.3h-1.3zM244.6 366.8h1.3v1.3h-1.3zM241.8 371.0h1.3v1.3h-1.3zM239.8 364.1h1.3v1.3h-1.3zM242.2 364.7h1.3v1.3h-1.3zM252.0 369.1h1.3v1.3h-1.3zM252.5 369.1h1.3v1.3h-1.3zM239.8 368.1h1.3v1.3h-1.3zM240.6 365.3h1.3v1.3h-1.3zM246.8 365.1h1.3v1.3h-1.3zM250.7 364.2h1.3v1.3h-1.3zM256.0 369.1h1.3v1.3h-1.3zM253.6 369.7h1.3v1.3h-1.3zM252.4 366.9h1.3v1.3h-1.3zM257.0 363.3h1.3v1.3h-1.3zM250.5 367.0h1.3v1.3h-1.3zM247.6 368.1h1.3v1.3h-1.3zM245.3 370.1h1.3v1.3h-1.3zM251.9 367.4h1.3v1.3h-1.3zM251.7 363.4h1.3v1.3h-1.3zM240.7 365.0h1.3v1.3h-1.3zM247.6 370.7h1.3v1.3h-1.3zM249.0 369.3h1.3v1.3h-1.3zM247.7 364.0h1.3v1.3h-1.3zM244.2 364.3h1.3v1.3h-1.3zM254.7 368.0h1.3v1.3h-1.3zM247.9 367.1h1.3v1.3h-1.3zM246.1 366.9h1.3v1.3h-1.3zM248.4 369.3h1.3v1.3h-1.3zM252.5 361.3h1.3v1.3h-1.3zM249.5 371.9h1.3v1.3h-1.3zM244.1 366.2h1.3v1.3h-1.3zM249.3 370.9h1.3v1.3h-1.3zM251.1 366.3h1.3v1.3h-1.3zM250.7 370.7h1.3v1.3h-1.3zM250.2 373.5h1.3v1.3h-1.3zM250.4 363.4h1.3v1.3h-1.3zM245.2 366.6h1.3v1.3h-1.3zM247.7 369.2h1.3v1.3h-1.3zM250.1 373.0h1.3v1.3h-1.3zM252.0 372.2h1.3v1.3h-1.3zM245.3 365.5h1.3v1.3h-1.3zM251.5 367.4h1.3v1.3h-1.3zM251.3 367.9h1.3v1.3h-1.3zM245.9 373.0h1.3v1.3h-1.3zM253.5 361.6h1.3v1.3h-1.3zM245.9 367.1h1.3v1.3h-1.3zM251.5 366.8h1.3v1.3h-1.3zM242.7 370.0h1.3v1.3h-1.3zM247.7 371.3h1.3v1.3h-1.3zM249.9 370.6h1.3v1.3h-1.3zM252.2 370.2h1.3v1.3h-1.3zM246.4 370.7h1.3v1.3h-1.3zM249.5 362.7h1.3v1.3h-1.3zM246.9 365.9h1.3v1.3h-1.3zM250.6 369.5h1.3v1.3h-1.3zM243.8 369.6h1.3v1.3h-1.3zM248.3 363.4h1.3v1.3h-1.3zM252.2 364.4h1.3v1.3h-1.3zM243.5 369.7h1.3v1.3h-1.3zM252.5 364.8h1.3v1.3h-1.3zM253.1 370.6h1.3v1.3h-1.3zM248.4 367.9h1.3v1.3h-1.3zM238.4 369.3h1.3v1.3h-1.3zM245.9 368.6h1.3v1.3h-1.3zM241.3 371.1h1.3v1.3h-1.3zM254.9 373.7h1.3v1.3h-1.3zM235.9 369.1h1.3v1.3h-1.3zM250.1 356.5h1.3v1.3h-1.3zM245.5 366.8h1.3v1.3h-1.3zM254.7 364.2h1.3v1.3h-1.3zM249.5 366.9h1.3v1.3h-1.3zM250.2 365.7h1.3v1.3h-1.3zM252.5 370.5h1.3v1.3h-1.3zM242.8 371.0h1.3v1.3h-1.3zM245.4 366.2h1.3v1.3h-1.3zM253.5 367.5h1.3v1.3h-1.3zM251.1 369.9h1.3v1.3h-1.3zM251.2 365.3h1.3v1.3h-1.3zM244.6 369.5h1.3v1.3h-1.3zM251.9 368.4h1.3v1.3h-1.3zM247.9 370.2h1.3v1.3h-1.3zM248.6 362.4h1.3v1.3h-1.3zM249.9 368.9h1.3v1.3h-1.3zM252.0 364.1h1.3v1.3h-1.3zM245.5 368.3h1.3v1.3h-1.3zM246.8 366.9h1.3v1.3h-1.3zM252.7 368.6h1.3v1.3h-1.3zM256.6 368.2h1.3v1.3h-1.3zM256.1 370.9h1.3v1.3h-1.3zM259.7 367.3h1.3v1.3h-1.3zM248.4 371.8h1.3v1.3h-1.3zM246.6 365.6h1.3v1.3h-1.3zM249.9 368.6h1.3v1.3h-1.3zM242.8 368.1h1.3v1.3h-1.3zM247.5 367.2h1.3v1.3h-1.3zM249.6 366.6h1.3v1.3h-1.3zM253.4 369.0h1.3v1.3h-1.3zM248.1 367.6h1.3v1.3h-1.3zM253.3 370.0h1.3v1.3h-1.3zM254.3 366.8h1.3v1.3h-1.3zM248.7 373.2h1.3v1.3h-1.3zM252.5 365.8h1.3v1.3h-1.3zM242.9 369.6h1.3v1.3h-1.3zM245.9 364.9h1.3v1.3h-1.3zM241.5 371.5h1.3v1.3h-1.3zM249.4 367.4h1.3v1.3h-1.3zM250.6 368.2h1.3v1.3h-1.3zM249.3 369.2h1.3v1.3h-1.3zM247.8 358.4h1.3v1.3h-1.3zM252.1 368.8h1.3v1.3h-1.3zM249.0 372.9h1.3v1.3h-1.3zM243.0 357.3h1.3v1.3h-1.3zM255.3 368.8h1.3v1.3h-1.3zM241.9 365.9h1.3v1.3h-1.3zM251.6 363.1h1.3v1.3h-1.3zM254.9 367.3h1.3v1.3h-1.3zM250.3 364.1h1.3v1.3h-1.3zM249.5 366.2h1.3v1.3h-1.3zM244.7 362.7h1.3v1.3h-1.3zM257.2 367.7h1.3v1.3h-1.3zM244.6 365.9h1.3v1.3h-1.3zM255.3 373.0h1.3v1.3h-1.3zM246.3 368.0h1.3v1.3h-1.3zM252.8 366.2h1.3v1.3h-1.3zM243.9 364.0h1.3v1.3h-1.3zM249.0 364.7h1.3v1.3h-1.3zM243.4 366.5h1.3v1.3h-1.3zM252.9 369.7h1.3v1.3h-1.3zM248.0 374.0h1.3v1.3h-1.3zM245.6 367.1h1.3v1.3h-1.3zM243.1 370.1h1.3v1.3h-1.3zM248.4 361.5h1.3v1.3h-1.3zM245.4 373.6h1.3v1.3h-1.3zM252.0 367.7h1.3v1.3h-1.3zM252.6 361.8h1.3v1.3h-1.3zM245.4 362.7h1.3v1.3h-1.3zM245.4 366.0h1.3v1.3h-1.3zM251.2 370.8h1.3v1.3h-1.3zM246.8 367.3h1.3v1.3h-1.3zM251.1 364.5h1.3v1.3h-1.3zM247.7 368.8h1.3v1.3h-1.3zM245.1 369.0h1.3v1.3h-1.3zM254.1 363.5h1.3v1.3h-1.3zM239.2 367.6h1.3v1.3h-1.3zM244.5 367.9h1.3v1.3h-1.3zM247.0 368.4h1.3v1.3h-1.3zM253.7 370.2h1.3v1.3h-1.3zM247.4 363.3h1.3v1.3h-1.3zM238.3 359.8h1.3v1.3h-1.3zM245.5 367.6h1.3v1.3h-1.3zM246.0 365.2h1.3v1.3h-1.3zM242.0 361.5h1.3v1.3h-1.3zM241.4 369.4h1.3v1.3h-1.3zM240.3 369.6h1.3v1.3h-1.3zM244.9 369.1h1.3v1.3h-1.3zM249.7 369.8h1.3v1.3h-1.3zM253.8 364.4h1.3v1.3h-1.3zM244.5 365.6h1.3v1.3h-1.3zM245.3 369.4h1.3v1.3h-1.3zM248.1 367.1h1.3v1.3h-1.3zM250.4 365.4h1.3v1.3h-1.3zM253.3 360.7h1.3v1.3h-1.3zM249.6 368.8h1.3v1.3h-1.3zM245.3 364.6h1.3v1.3h-1.3zM252.4 365.9h1.3v1.3h-1.3zM240.3 362.3h1.3v1.3h-1.3zM252.8 364.0h1.3v1.3h-1.3zM254.1 371.8h1.3v1.3h-1.3zM247.7 368.9h1.3v1.3h-1.3zM245.0 365.6h1.3v1.3h-1.3zM245.5 369.1h1.3v1.3h-1.3zM243.0 366.5h1.3v1.3h-1.3zM248.7 368.8h1.3v1.3h-1.3zM239.4 360.8h1.3v1.3h-1.3zM244.7 366.2h1.3v1.3h-1.3zM249.1 367.6h1.3v1.3h-1.3zM257.1 369.3h1.3v1.3h-1.3zM251.0 365.3h1.3v1.3h-1.3zM251.8 369.4h1.3v1.3h-1.3zM251.3 366.6h1.3v1.3h-1.3zM251.1 372.3h1.3v1.3h-1.3zM245.0 359.4h1.3v1.3h-1.3zM252.0 369.5h1.3v1.3h-1.3zM247.5 365.4h1.3v1.3h-1.3zM260.2 365.3h1.3v1.3h-1.3zM243.2 365.3h1.3v1.3h-1.3zM250.6 364.8h1.3v1.3h-1.3zM246.8 368.0h1.3v1.3h-1.3zM246.6 367.4h1.3v1.3h-1.3zM248.3 363.3h1.3v1.3h-1.3zM248.7 362.9h1.3v1.3h-1.3zM252.4 363.7h1.3v1.3h-1.3zM247.4 360.6h1.3v1.3h-1.3zM246.5 362.6h1.3v1.3h-1.3zM254.8 366.5h1.3v1.3h-1.3zM250.6 360.9h1.3v1.3h-1.3zM243.1 366.3h1.3v1.3h-1.3zM242.6 370.9h1.3v1.3h-1.3zM246.7 367.4h1.3v1.3h-1.3zM249.7 366.4h1.3v1.3h-1.3zM251.7 364.6h1.3v1.3h-1.3zM250.0 371.1h1.3v1.3h-1.3zM249.3 367.4h1.3v1.3h-1.3zM247.0 367.1h1.3v1.3h-1.3zM251.3 366.1h1.3v1.3h-1.3zM241.2 367.5h1.3v1.3h-1.3zM247.8 368.5h1.3v1.3h-1.3zM248.6 372.4h1.3v1.3h-1.3zM243.3 363.6h1.3v1.3h-1.3zM251.2 363.4h1.3v1.3h-1.3zM249.8 366.9h1.3v1.3h-1.3zM240.1 369.2h1.3v1.3h-1.3zM254.2 367.6h1.3v1.3h-1.3zM242.5 369.6h1.3v1.3h-1.3zM244.0 366.5h1.3v1.3h-1.3zM250.1 364.2h1.3v1.3h-1.3zM241.2 366.4h1.3v1.3h-1.3zM248.2 364.0h1.3v1.3h-1.3zM245.1 369.4h1.3v1.3h-1.3zM248.0 365.3h1.3v1.3h-1.3zM245.9 367.5h1.3v1.3h-1.3zM248.8 366.3h1.3v1.3h-1.3zM242.5 365.6h1.3v1.3h-1.3zM245.7 367.1h1.3v1.3h-1.3zM253.2 370.1h1.3v1.3h-1.3zM251.1 367.3h1.3v1.3h-1.3zM247.0 368.0h1.3v1.3h-1.3zM246.4 365.7h1.3v1.3h-1.3zM244.8 366.7h1.3v1.3h-1.3zM248.0 373.2h1.3v1.3h-1.3zM250.7 365.6h1.3v1.3h-1.3zM251.6 365.3h1.3v1.3h-1.3zM252.6 369.5h1.3v1.3h-1.3zM260.5 363.2h1.3v1.3h-1.3zM248.0 366.5h1.3v1.3h-1.3zM249.6 369.3h1.3v1.3h-1.3zM244.3 364.4h1.3v1.3h-1.3zM249.6 370.2h1.3v1.3h-1.3zM243.7 361.6h1.3v1.3h-1.3zM253.1 369.7h1.3v1.3h-1.3zM252.9 363.6h1.3v1.3h-1.3zM247.5 367.6h1.3v1.3h-1.3zM250.2 366.5h1.3v1.3h-1.3zM248.1 370.3h1.3v1.3h-1.3zM246.5 365.0h1.3v1.3h-1.3zM246.6 365.2h1.3v1.3h-1.3zM248.9 366.2h1.3v1.3h-1.3zM246.5 371.7h1.3v1.3h-1.3zM249.6 365.7h1.3v1.3h-1.3zM253.6 365.0h1.3v1.3h-1.3zM248.3 366.6h1.3v1.3h-1.3zM246.0 365.6h1.3v1.3h-1.3zM248.7 362.1h1.3v1.3h-1.3zM246.7 367.7h1.3v1.3h-1.3zM249.5 367.9h1.3v1.3h-1.3zM258.0 369.1h1.3v1.3h-1.3zM247.8 366.5h1.3v1.3h-1.3zM248.3 368.3h1.3v1.3h-1.3zM247.1 371.9h1.3v1.3h-1.3zM243.8 369.0h1.3v1.3h-1.3zM250.4 363.1h1.3v1.3h-1.3zM250.9 368.7h1.3v1.3h-1.3zM251.3 365.8h1.3v1.3h-1.3zM246.4 364.4h1.3v1.3h-1.3zM249.4 367.1h1.3v1.3h-1.3zM242.6 363.4h1.3v1.3h-1.3zM245.4 365.5h1.3v1.3h-1.3zM246.9 364.6h1.3v1.3h-1.3zM251.0 370.0h1.3v1.3h-1.3zM248.6 359.6h1.3v1.3h-1.3zM247.7 368.7h1.3v1.3h-1.3zM248.0 367.8h1.3v1.3h-1.3zM248.8 361.9h1.3v1.3h-1.3zM238.0 368.9h1.3v1.3h-1.3zM246.2 368.2h1.3v1.3h-1.3zM247.1 366.3h1.3v1.3h-1.3zM253.9 362.9h1.3v1.3h-1.3zM248.3 363.2h1.3v1.3h-1.3zM248.6 368.4h1.3v1.3h-1.3zM251.0 367.4h1.3v1.3h-1.3zM242.7 367.7h1.3v1.3h-1.3zM252.0 370.2h1.3v1.3h-1.3zM257.1 368.7h1.3v1.3h-1.3zM244.2 365.1h1.3v1.3h-1.3zM248.7 370.3h1.3v1.3h-1.3zM243.7 369.9h1.3v1.3h-1.3zM251.0 364.0h1.3v1.3h-1.3zM250.8 364.3h1.3v1.3h-1.3zM248.3 365.9h1.3v1.3h-1.3zM249.3 362.9h1.3v1.3h-1.3zM250.5 359.7h1.3v1.3h-1.3zM246.7 365.0h1.3v1.3h-1.3zM254.8 368.6h1.3v1.3h-1.3zM246.3 363.9h1.3v1.3h-1.3zM248.5 364.8h1.3v1.3h-1.3zM257.5 357.6h1.3v1.3h-1.3zM248.6 358.7h1.3v1.3h-1.3zM252.6 364.2h1.3v1.3h-1.3zM254.9 365.1h1.3v1.3h-1.3zM252.8 367.5h1.3v1.3h-1.3zM253.2 366.9h1.3v1.3h-1.3zM236.2 364.5h1.3v1.3h-1.3zM242.0 370.0h1.3v1.3h-1.3zM250.5 366.9h1.3v1.3h-1.3zM250.2 367.5h1.3v1.3h-1.3zM246.0 373.4h1.3v1.3h-1.3zM249.3 366.2h1.3v1.3h-1.3zM242.4 364.8h1.3v1.3h-1.3zM248.4 366.3h1.3v1.3h-1.3zM246.4 366.7h1.3v1.3h-1.3zM243.8 366.9h1.3v1.3h-1.3zM242.0 364.0h1.3v1.3h-1.3zM245.3 369.8h1.3v1.3h-1.3zM250.3 367.1h1.3v1.3h-1.3zM243.6 365.5h1.3v1.3h-1.3zM251.6 371.0h1.3v1.3h-1.3zM242.3 365.4h1.3v1.3h-1.3zM248.8 368.0h1.3v1.3h-1.3zM248.4 369.1h1.3v1.3h-1.3zM242.4 372.1h1.3v1.3h-1.3zM243.7 367.1h1.3v1.3h-1.3zM250.5 370.8h1.3v1.3h-1.3zM252.1 369.8h1.3v1.3h-1.3zM253.6 366.4h1.3v1.3h-1.3zM251.4 372.0h1.3v1.3h-1.3zM245.3 362.2h1.3v1.3h-1.3zM244.3 371.6h1.3v1.3h-1.3zM253.5 365.7h1.3v1.3h-1.3zM249.4 368.5h1.3v1.3h-1.3zM252.7 360.6h1.3v1.3h-1.3zM246.1 366.0h1.3v1.3h-1.3zM249.7 367.2h1.3v1.3h-1.3zM247.1 367.9h1.3v1.3h-1.3zM251.8 369.9h1.3v1.3h-1.3zM245.7 368.3h1.3v1.3h-1.3zM256.8 373.0h1.3v1.3h-1.3zM248.7 362.8h1.3v1.3h-1.3zM249.1 365.9h1.3v1.3h-1.3zM251.9 362.7h1.3v1.3h-1.3zM247.6 367.8h1.3v1.3h-1.3zM246.5 370.5h1.3v1.3h-1.3zM243.8 362.8h1.3v1.3h-1.3zM247.0 369.7h1.3v1.3h-1.3zM247.2 365.0h1.3v1.3h-1.3zM251.7 367.7h1.3v1.3h-1.3zM246.3 367.4h1.3v1.3h-1.3zM247.4 369.0h1.3v1.3h-1.3zM249.0 364.3h1.3v1.3h-1.3zM246.5 365.6h1.3v1.3h-1.3zM250.0 368.2h1.3v1.3h-1.3zM245.0 366.3h1.3v1.3h-1.3zM249.7 370.6h1.3v1.3h-1.3zM249.5 373.5h1.3v1.3h-1.3zM248.5 369.4h1.3v1.3h-1.3zM247.1 363.6h1.3v1.3h-1.3zM248.9 368.6h1.3v1.3h-1.3zM249.8 367.4h1.3v1.3h-1.3zM247.1 364.2h1.3v1.3h-1.3zM247.2 368.5h1.3v1.3h-1.3zM252.4 355.9h1.3v1.3h-1.3zM250.9 370.6h1.3v1.3h-1.3zM253.6 368.2h1.3v1.3h-1.3zM251.2 365.4h1.3v1.3h-1.3zM248.1 368.7h1.3v1.3h-1.3zM243.9 364.3h1.3v1.3h-1.3zM249.2 362.5h1.3v1.3h-1.3zM248.6 362.0h1.3v1.3h-1.3zM249.2 367.0h1.3v1.3h-1.3zM246.1 363.8h1.3v1.3h-1.3zM246.3 359.4h1.3v1.3h-1.3zM246.8 367.3h1.3v1.3h-1.3zM253.4 365.2h1.3v1.3h-1.3zM247.7 371.6h1.3v1.3h-1.3zM255.6 365.3h1.3v1.3h-1.3zM252.7 370.9h1.3v1.3h-1.3zM250.5 363.6h1.3v1.3h-1.3zM244.5 368.9h1.3v1.3h-1.3zM258.0 366.3h1.3v1.3h-1.3zM254.9 373.3h1.3v1.3h-1.3zM243.3 364.9h1.3v1.3h-1.3zM254.6 370.2h1.3v1.3h-1.3zM250.7 366.9h1.3v1.3h-1.3zM251.0 364.8h1.3v1.3h-1.3zM258.7 363.1h1.3v1.3h-1.3zM241.0 367.4h1.3v1.3h-1.3zM254.4 365.3h1.3v1.3h-1.3zM248.2 363.5h1.3v1.3h-1.3zM248.1 363.5h1.3v1.3h-1.3zM244.3 362.0h1.3v1.3h-1.3zM246.2 373.2h1.3v1.3h-1.3zM248.2 367.6h1.3v1.3h-1.3zM257.6 364.8h1.3v1.3h-1.3zM244.3 368.7h1.3v1.3h-1.3zM243.3 368.1h1.3v1.3h-1.3zM253.2 363.3h1.3v1.3h-1.3zM246.3 372.6h1.3v1.3h-1.3zM244.0 364.6h1.3v1.3h-1.3zM249.4 365.9h1.3v1.3h-1.3zM244.9 372.3h1.3v1.3h-1.3zM246.0 368.0h1.3v1.3h-1.3zM246.7 366.2h1.3v1.3h-1.3zM242.7 370.1h1.3v1.3h-1.3zM246.6 371.2h1.3v1.3h-1.3zM243.6 365.3h1.3v1.3h-1.3zM250.4 367.3h1.3v1.3h-1.3zM245.7 366.5h1.3v1.3h-1.3zM243.0 367.1h1.3v1.3h-1.3zM237.5 367.5h1.3v1.3h-1.3zM254.0 369.9h1.3v1.3h-1.3zM251.9 365.5h1.3v1.3h-1.3zM250.4 365.6h1.3v1.3h-1.3zM248.0 366.6h1.3v1.3h-1.3zM234.5 370.0h1.3v1.3h-1.3zM250.3 369.8h1.3v1.3h-1.3zM244.5 369.3h1.3v1.3h-1.3zM250.4 359.4h1.3v1.3h-1.3zM241.1 367.1h1.3v1.3h-1.3zM245.7 366.9h1.3v1.3h-1.3zM245.8 372.0h1.3v1.3h-1.3zM240.6 362.3h1.3v1.3h-1.3zM244.4 362.3h1.3v1.3h-1.3zM246.0 366.8h1.3v1.3h-1.3zM242.9 368.2h1.3v1.3h-1.3zM253.9 370.6h1.3v1.3h-1.3zM256.7 370.8h1.3v1.3h-1.3zM248.3 372.9h1.3v1.3h-1.3zM251.3 373.3h1.3v1.3h-1.3zM247.6 359.9h1.3v1.3h-1.3zM243.6 367.6h1.3v1.3h-1.3zM250.7 366.3h1.3v1.3h-1.3zM252.6 363.1h1.3v1.3h-1.3zM245.5 370.3h1.3v1.3h-1.3zM248.7 367.3h1.3v1.3h-1.3zM254.3 370.7h1.3v1.3h-1.3zM245.2 367.6h1.3v1.3h-1.3zM271.6 368.9h1.3v1.3h-1.3zM284.9 358.9h1.3v1.3h-1.3zM259.2 364.3h1.3v1.3h-1.3zM263.0 366.8h1.3v1.3h-1.3zM267.5 366.7h1.3v1.3h-1.3zM263.2 370.7h1.3v1.3h-1.3zM274.5 367.9h1.3v1.3h-1.3zM270.7 369.5h1.3v1.3h-1.3zM277.1 368.4h1.3v1.3h-1.3zM256.3 372.7h1.3v1.3h-1.3zM283.6 362.4h1.3v1.3h-1.3zM268.3 364.8h1.3v1.3h-1.3zM258.0 372.0h1.3v1.3h-1.3zM276.4 363.0h1.3v1.3h-1.3zM260.5 367.1h1.3v1.3h-1.3zM263.0 370.2h1.3v1.3h-1.3zM281.7 363.3h1.3v1.3h-1.3zM258.2 372.4h1.3v1.3h-1.3zM287.6 358.8h1.3v1.3h-1.3zM264.6 371.3h1.3v1.3h-1.3zM276.5 365.3h1.3v1.3h-1.3zM259.1 369.3h1.3v1.3h-1.3zM289.4 358.2h1.3v1.3h-1.3zM287.5 357.9h1.3v1.3h-1.3zM276.9 360.4h1.3v1.3h-1.3zM265.5 371.7h1.3v1.3h-1.3zM266.6 363.5h1.3v1.3h-1.3zM275.9 366.3h1.3v1.3h-1.3zM264.6 367.4h1.3v1.3h-1.3zM275.1 363.1h1.3v1.3h-1.3zM286.4 359.9h1.3v1.3h-1.3zM260.1 369.2h1.3v1.3h-1.3zM265.3 370.4h1.3v1.3h-1.3zM289.2 361.9h1.3v1.3h-1.3zM285.2 361.6h1.3v1.3h-1.3zM255.1 367.2h1.3v1.3h-1.3zM257.1 365.5h1.3v1.3h-1.3zM279.1 368.7h1.3v1.3h-1.3zM283.5 359.3h1.3v1.3h-1.3zM288.0 356.3h1.3v1.3h-1.3zM260.5 372.5h1.3v1.3h-1.3zM270.5 362.0h1.3v1.3h-1.3zM273.6 367.3h1.3v1.3h-1.3zM285.6 364.0h1.3v1.3h-1.3zM272.2 366.3h1.3v1.3h-1.3zM257.1 373.1h1.3v1.3h-1.3zM256.6 366.7h1.3v1.3h-1.3zM271.6 362.5h1.3v1.3h-1.3zM259.6 369.1h1.3v1.3h-1.3zM273.0 365.4h1.3v1.3h-1.3zM275.5 364.4h1.3v1.3h-1.3zM273.1 366.7h1.3v1.3h-1.3zM274.7 362.8h1.3v1.3h-1.3zM253.9 365.5h1.3v1.3h-1.3zM279.7 364.4h1.3v1.3h-1.3zM256.1 370.1h1.3v1.3h-1.3zM273.2 367.6h1.3v1.3h-1.3zM269.2 366.8h1.3v1.3h-1.3zM283.8 363.6h1.3v1.3h-1.3zM283.7 359.5h1.3v1.3h-1.3zM286.7 363.6h1.3v1.3h-1.3zM279.6 364.3h1.3v1.3h-1.3zM273.9 365.8h1.3v1.3h-1.3zM283.8 364.5h1.3v1.3h-1.3zM256.6 367.4h1.3v1.3h-1.3zM256.6 372.1h1.3v1.3h-1.3zM286.3 362.5h1.3v1.3h-1.3zM281.6 367.1h1.3v1.3h-1.3zM268.6 361.8h1.3v1.3h-1.3zM263.9 368.0h1.3v1.3h-1.3zM290.8 365.9h1.3v1.3h-1.3zM262.2 367.7h1.3v1.3h-1.3zM263.5 367.2h1.3v1.3h-1.3zM289.5 365.2h1.3v1.3h-1.3zM283.6 369.0h1.3v1.3h-1.3zM284.9 362.0h1.3v1.3h-1.3zM287.3 358.9h1.3v1.3h-1.3zM288.1 359.0h1.3v1.3h-1.3zM268.4 365.7h1.3v1.3h-1.3zM263.0 366.2h1.3v1.3h-1.3zM274.0 362.8h1.3v1.3h-1.3zM268.6 367.3h1.3v1.3h-1.3zM266.8 367.4h1.3v1.3h-1.3zM275.6 365.9h1.3v1.3h-1.3zM286.3 361.3h1.3v1.3h-1.3zM273.2 362.0h1.3v1.3h-1.3zM267.5 369.2h1.3v1.3h-1.3zM261.8 369.6h1.3v1.3h-1.3zM283.7 360.4h1.3v1.3h-1.3zM277.1 363.4h1.3v1.3h-1.3zM262.9 369.5h1.3v1.3h-1.3zM283.5 362.3h1.3v1.3h-1.3zM257.7 369.8h1.3v1.3h-1.3zM258.7 372.0h1.3v1.3h-1.3zM266.1 370.5h1.3v1.3h-1.3zM282.2 361.6h1.3v1.3h-1.3zM273.4 365.2h1.3v1.3h-1.3zM278.3 360.6h1.3v1.3h-1.3zM286.6 360.7h1.3v1.3h-1.3zM289.9 361.4h1.3v1.3h-1.3zM285.1 364.0h1.3v1.3h-1.3zM270.5 366.7h1.3v1.3h-1.3zM274.0 364.8h1.3v1.3h-1.3zM254.5 369.2h1.3v1.3h-1.3zM257.9 370.7h1.3v1.3h-1.3zM269.5 363.5h1.3v1.3h-1.3zM266.5 367.8h1.3v1.3h-1.3zM273.3 365.3h1.3v1.3h-1.3zM254.5 368.7h1.3v1.3h-1.3zM288.5 361.4h1.3v1.3h-1.3zM271.7 365.2h1.3v1.3h-1.3zM261.2 370.8h1.3v1.3h-1.3zM277.0 362.8h1.3v1.3h-1.3zM275.6 365.9h1.3v1.3h-1.3zM281.0 367.2h1.3v1.3h-1.3zM289.8 360.6h1.3v1.3h-1.3zM271.0 368.2h1.3v1.3h-1.3zM254.5 369.4h1.3v1.3h-1.3zM261.8 367.9h1.3v1.3h-1.3zM267.8 361.8h1.3v1.3h-1.3zM263.7 367.9h1.3v1.3h-1.3zM271.2 362.8h1.3v1.3h-1.3zM277.2 364.4h1.3v1.3h-1.3zM271.7 360.1h1.3v1.3h-1.3zM256.2 368.3h1.3v1.3h-1.3zM256.0 371.0h1.3v1.3h-1.3zM256.3 371.7h1.3v1.3h-1.3zM277.7 359.3h1.3v1.3h-1.3zM268.9 365.5h1.3v1.3h-1.3zM276.3 371.4h1.3v1.3h-1.3zM269.6 368.6h1.3v1.3h-1.3zM279.3 363.8h1.3v1.3h-1.3zM287.5 353.2h1.3v1.3h-1.3zM275.7 362.0h1.3v1.3h-1.3zM262.6 370.1h1.3v1.3h-1.3zM280.6 363.6h1.3v1.3h-1.3zM262.9 369.8h1.3v1.3h-1.3zM279.9 365.9h1.3v1.3h-1.3zM275.2 365.0h1.3v1.3h-1.3zM256.1 373.1h1.3v1.3h-1.3zM260.2 364.4h1.3v1.3h-1.3zM268.0 366.1h1.3v1.3h-1.3zM285.4 359.7h1.3v1.3h-1.3zM281.1 367.0h1.3v1.3h-1.3zM272.3 367.3h1.3v1.3h-1.3zM270.0 369.0h1.3v1.3h-1.3zM255.6 369.1h1.3v1.3h-1.3zM262.9 369.4h1.3v1.3h-1.3zM286.4 363.2h1.3v1.3h-1.3zM267.3 364.0h1.3v1.3h-1.3zM264.4 367.5h1.3v1.3h-1.3zM287.7 360.1h1.3v1.3h-1.3zM262.6 367.9h1.3v1.3h-1.3zM282.5 360.5h1.3v1.3h-1.3zM267.4 363.7h1.3v1.3h-1.3zM268.1 368.1h1.3v1.3h-1.3zM266.9 368.0h1.3v1.3h-1.3zM265.4 371.0h1.3v1.3h-1.3zM264.2 368.0h1.3v1.3h-1.3zM264.3 366.2h1.3v1.3h-1.3zM270.1 362.3h1.3v1.3h-1.3zM270.6 366.4h1.3v1.3h-1.3zM255.4 370.0h1.3v1.3h-1.3zM270.4 371.8h1.3v1.3h-1.3zM285.5 367.8h1.3v1.3h-1.3zM282.6 366.7h1.3v1.3h-1.3zM258.7 367.4h1.3v1.3h-1.3zM261.2 365.2h1.3v1.3h-1.3zM276.8 363.5h1.3v1.3h-1.3zM276.3 361.9h1.3v1.3h-1.3zM266.0 367.9h1.3v1.3h-1.3zM272.6 364.4h1.3v1.3h-1.3zM278.9 363.5h1.3v1.3h-1.3zM275.7 368.0h1.3v1.3h-1.3zM276.8 361.6h1.3v1.3h-1.3zM286.4 362.5h1.3v1.3h-1.3zM284.6 358.1h1.3v1.3h-1.3zM261.9 368.3h1.3v1.3h-1.3zM284.9 359.8h1.3v1.3h-1.3zM262.7 369.5h1.3v1.3h-1.3zM255.3 371.4h1.3v1.3h-1.3zM283.3 365.5h1.3v1.3h-1.3zM287.3 362.8h1.3v1.3h-1.3zM258.2 368.4h1.3v1.3h-1.3zM280.3 359.4h1.3v1.3h-1.3zM257.2 368.1h1.3v1.3h-1.3zM286.7 359.9h1.3v1.3h-1.3zM271.1 365.3h1.3v1.3h-1.3zM271.5 363.7h1.3v1.3h-1.3zM287.7 363.7h1.3v1.3h-1.3zM266.4 370.0h1.3v1.3h-1.3zM273.7 364.4h1.3v1.3h-1.3zM258.1 368.7h1.3v1.3h-1.3zM261.0 368.5h1.3v1.3h-1.3zM273.7 365.0h1.3v1.3h-1.3zM285.3 361.4h1.3v1.3h-1.3zM266.7 362.9h1.3v1.3h-1.3zM254.9 369.9h1.3v1.3h-1.3zM261.7 363.7h1.3v1.3h-1.3zM272.4 365.6h1.3v1.3h-1.3zM257.8 372.0h1.3v1.3h-1.3zM259.2 366.8h1.3v1.3h-1.3zM263.0 369.0h1.3v1.3h-1.3zM284.0 360.2h1.3v1.3h-1.3zM269.4 364.6h1.3v1.3h-1.3zM274.5 367.3h1.3v1.3h-1.3zM275.5 365.9h1.3v1.3h-1.3zM276.2 363.1h1.3v1.3h-1.3zM281.2 363.9h1.3v1.3h-1.3zM274.7 364.3h1.3v1.3h-1.3zM257.2 371.6h1.3v1.3h-1.3zM275.1 362.2h1.3v1.3h-1.3zM276.1 364.2h1.3v1.3h-1.3zM272.3 364.5h1.3v1.3h-1.3zM258.9 365.9h1.3v1.3h-1.3zM263.6 373.0h1.3v1.3h-1.3zM277.6 366.2h1.3v1.3h-1.3zM281.3 360.5h1.3v1.3h-1.3zM256.4 366.5h1.3v1.3h-1.3zM281.1 360.8h1.3v1.3h-1.3zM270.1 363.9h1.3v1.3h-1.3zM276.5 362.6h1.3v1.3h-1.3zM281.3 358.6h1.3v1.3h-1.3zM257.3 368.0h1.3v1.3h-1.3zM280.6 363.1h1.3v1.3h-1.3zM281.4 363.9h1.3v1.3h-1.3zM269.8 360.9h1.3v1.3h-1.3zM264.0 368.2h1.3v1.3h-1.3zM274.3 362.2h1.3v1.3h-1.3zM274.7 361.9h1.3v1.3h-1.3zM268.9 365.8h1.3v1.3h-1.3zM272.9 363.5h1.3v1.3h-1.3zM281.3 364.7h1.3v1.3h-1.3zM283.3 364.1h1.3v1.3h-1.3zM287.8 359.8h1.3v1.3h-1.3zM288.6 358.7h1.3v1.3h-1.3zM288.2 365.8h1.3v1.3h-1.3zM286.2 362.3h1.3v1.3h-1.3zM289.8 359.6h1.3v1.3h-1.3zM283.5 364.8h1.3v1.3h-1.3zM289.3 364.3h1.3v1.3h-1.3zM288.9 358.9h1.3v1.3h-1.3zM259.1 369.3h1.3v1.3h-1.3zM275.5 367.6h1.3v1.3h-1.3zM286.6 359.6h1.3v1.3h-1.3zM273.7 365.3h1.3v1.3h-1.3zM272.4 364.3h1.3v1.3h-1.3zM285.0 361.6h1.3v1.3h-1.3zM276.3 367.2h1.3v1.3h-1.3zM283.1 359.7h1.3v1.3h-1.3zM275.9 363.6h1.3v1.3h-1.3zM273.6 366.7h1.3v1.3h-1.3zM272.1 364.3h1.3v1.3h-1.3zM284.4 367.4h1.3v1.3h-1.3zM258.1 365.9h1.3v1.3h-1.3zM268.9 373.7h1.3v1.3h-1.3zM257.9 368.3h1.3v1.3h-1.3zM278.8 366.2h1.3v1.3h-1.3zM270.5 370.7h1.3v1.3h-1.3zM286.7 362.5h1.3v1.3h-1.3zM265.8 363.7h1.3v1.3h-1.3zM286.9 360.1h1.3v1.3h-1.3zM266.0 367.8h1.3v1.3h-1.3zM288.5 362.1h1.3v1.3h-1.3zM287.2 363.6h1.3v1.3h-1.3zM266.0 370.7h1.3v1.3h-1.3zM274.8 368.9h1.3v1.3h-1.3zM256.8 367.8h1.3v1.3h-1.3zM277.5 366.7h1.3v1.3h-1.3zM277.4 359.1h1.3v1.3h-1.3zM271.2 366.3h1.3v1.3h-1.3zM269.2 363.5h1.3v1.3h-1.3zM270.9 361.0h1.3v1.3h-1.3zM283.3 364.7h1.3v1.3h-1.3zM262.0 368.7h1.3v1.3h-1.3zM285.0 364.3h1.3v1.3h-1.3zM278.8 359.1h1.3v1.3h-1.3zM267.9 363.5h1.3v1.3h-1.3zM289.0 360.0h1.3v1.3h-1.3zM274.9 362.9h1.3v1.3h-1.3zM272.9 365.6h1.3v1.3h-1.3zM273.1 363.6h1.3v1.3h-1.3zM266.7 366.4h1.3v1.3h-1.3zM272.6 362.3h1.3v1.3h-1.3zM259.3 373.3h1.3v1.3h-1.3zM276.0 363.5h1.3v1.3h-1.3zM266.0 364.2h1.3v1.3h-1.3zM278.7 365.5h1.3v1.3h-1.3zM276.5 365.6h1.3v1.3h-1.3zM289.9 360.6h1.3v1.3h-1.3zM281.0 363.5h1.3v1.3h-1.3zM255.0 369.9h1.3v1.3h-1.3zM259.1 369.3h1.3v1.3h-1.3zM270.6 359.9h1.3v1.3h-1.3zM272.7 361.1h1.3v1.3h-1.3zM270.7 362.6h1.3v1.3h-1.3zM280.9 363.7h1.3v1.3h-1.3zM288.7 363.9h1.3v1.3h-1.3zM257.0 369.9h1.3v1.3h-1.3zM276.7 363.4h1.3v1.3h-1.3zM266.0 370.7h1.3v1.3h-1.3zM268.4 365.8h1.3v1.3h-1.3zM288.9 362.2h1.3v1.3h-1.3zM257.7 371.4h1.3v1.3h-1.3zM261.1 365.4h1.3v1.3h-1.3zM272.9 366.3h1.3v1.3h-1.3zM281.3 363.3h1.3v1.3h-1.3zM287.4 357.6h1.3v1.3h-1.3zM288.2 357.7h1.3v1.3h-1.3zM286.5 357.5h1.3v1.3h-1.3zM283.3 366.0h1.3v1.3h-1.3zM272.5 371.5h1.3v1.3h-1.3zM265.5 369.7h1.3v1.3h-1.3zM286.5 365.5h1.3v1.3h-1.3zM280.1 359.3h1.3v1.3h-1.3zM281.0 366.8h1.3v1.3h-1.3zM283.6 367.6h1.3v1.3h-1.3zM288.4 365.1h1.3v1.3h-1.3zM273.4 362.6h1.3v1.3h-1.3zM264.8 371.0h1.3v1.3h-1.3zM255.3 370.6h1.3v1.3h-1.3zM264.3 371.1h1.3v1.3h-1.3zM277.5 362.1h1.3v1.3h-1.3zM267.9 367.0h1.3v1.3h-1.3zM261.4 367.4h1.3v1.3h-1.3zM260.0 370.8h1.3v1.3h-1.3zM256.1 370.4h1.3v1.3h-1.3zM275.9 367.6h1.3v1.3h-1.3zM278.7 365.9h1.3v1.3h-1.3zM288.7 361.6h1.3v1.3h-1.3zM282.3 362.3h1.3v1.3h-1.3zM260.2 368.5h1.3v1.3h-1.3zM262.2 368.8h1.3v1.3h-1.3zM289.4 362.3h1.3v1.3h-1.3zM265.3 368.1h1.3v1.3h-1.3zM274.2 365.8h1.3v1.3h-1.3zM283.1 362.1h1.3v1.3h-1.3zM277.3 363.8h1.3v1.3h-1.3zM255.8 368.9h1.3v1.3h-1.3zM270.0 361.0h1.3v1.3h-1.3zM274.1 366.6h1.3v1.3h-1.3zM274.3 366.5h1.3v1.3h-1.3zM258.1 367.3h1.3v1.3h-1.3zM290.3 365.3h1.3v1.3h-1.3zM271.6 362.5h1.3v1.3h-1.3zM279.3 366.2h1.3v1.3h-1.3zM282.0 363.2h1.3v1.3h-1.3zM264.1 369.0h1.3v1.3h-1.3zM256.8 373.6h1.3v1.3h-1.3zM277.3 366.6h1.3v1.3h-1.3zM286.9 361.1h1.3v1.3h-1.3zM285.3 358.5h1.3v1.3h-1.3zM284.7 358.2h1.3v1.3h-1.3zM262.3 369.3h1.3v1.3h-1.3zM287.2 365.3h1.3v1.3h-1.3zM258.4 372.4h1.3v1.3h-1.3zM264.9 367.8h1.3v1.3h-1.3zM284.2 362.8h1.3v1.3h-1.3zM258.8 371.7h1.3v1.3h-1.3zM283.7 366.8h1.3v1.3h-1.3zM282.2 360.3h1.3v1.3h-1.3zM287.3 362.9h1.3v1.3h-1.3zM285.2 362.3h1.3v1.3h-1.3zM279.5 361.2h1.3v1.3h-1.3zM260.0 366.6h1.3v1.3h-1.3zM260.1 373.0h1.3v1.3h-1.3zM258.1 371.0h1.3v1.3h-1.3zM265.7 367.0h1.3v1.3h-1.3zM266.0 367.8h1.3v1.3h-1.3zM290.5 362.6h1.3v1.3h-1.3zM285.0 361.9h1.3v1.3h-1.3zM271.3 365.2h1.3v1.3h-1.3zM282.4 360.2h1.3v1.3h-1.3zM268.6 366.4h1.3v1.3h-1.3zM272.5 362.9h1.3v1.3h-1.3zM285.4 360.5h1.3v1.3h-1.3zM288.1 364.1h1.3v1.3h-1.3zM262.4 373.5h1.3v1.3h-1.3zM284.2 363.6h1.3v1.3h-1.3zM270.9 366.6h1.3v1.3h-1.3zM255.1 368.4h1.3v1.3h-1.3zM264.8 365.1h1.3v1.3h-1.3zM286.4 362.2h1.3v1.3h-1.3zM261.6 369.4h1.3v1.3h-1.3zM260.3 367.7h1.3v1.3h-1.3zM288.1 359.3h1.3v1.3h-1.3zM271.4 370.3h1.3v1.3h-1.3zM287.8 363.5h1.3v1.3h-1.3zM264.9 368.1h1.3v1.3h-1.3zM257.3 370.9h1.3v1.3h-1.3zM288.1 364.2h1.3v1.3h-1.3zM266.5 368.4h1.3v1.3h-1.3zM288.1 361.3h1.3v1.3h-1.3zM277.3 359.6h1.3v1.3h-1.3zM282.9 357.5h1.3v1.3h-1.3zM264.7 362.6h1.3v1.3h-1.3zM278.1 357.4h1.3v1.3h-1.3zM283.5 362.0h1.3v1.3h-1.3zM279.0 364.4h1.3v1.3h-1.3zM286.6 358.6h1.3v1.3h-1.3zM287.1 362.2h1.3v1.3h-1.3zM275.2 365.9h1.3v1.3h-1.3zM287.9 360.4h1.3v1.3h-1.3zM278.8 359.4h1.3v1.3h-1.3zM288.0 364.7h1.3v1.3h-1.3zM261.1 373.0h1.3v1.3h-1.3zM265.0 366.2h1.3v1.3h-1.3zM255.9 370.9h1.3v1.3h-1.3zM277.3 361.8h1.3v1.3h-1.3zM288.7 359.3h1.3v1.3h-1.3zM275.5 359.3h1.3v1.3h-1.3zM288.8 359.4h1.3v1.3h-1.3zM282.5 357.9h1.3v1.3h-1.3zM277.6 367.1h1.3v1.3h-1.3zM269.2 367.4h1.3v1.3h-1.3zM260.8 365.3h1.3v1.3h-1.3zM289.0 362.0h1.3v1.3h-1.3zM286.6 356.2h1.3v1.3h-1.3zM286.6 361.5h1.3v1.3h-1.3zM267.1 368.6h1.3v1.3h-1.3zM281.3 362.9h1.3v1.3h-1.3zM272.8 362.2h1.3v1.3h-1.3zM283.7 361.7h1.3v1.3h-1.3zM274.7 364.3h1.3v1.3h-1.3zM255.5 371.0h1.3v1.3h-1.3zM265.9 371.8h1.3v1.3h-1.3zM265.8 372.4h1.3v1.3h-1.3zM267.8 371.5h1.3v1.3h-1.3zM266.6 365.6h1.3v1.3h-1.3zM255.0 368.9h1.3v1.3h-1.3zM272.9 365.4h1.3v1.3h-1.3zM288.3 361.8h1.3v1.3h-1.3zM274.9 358.9h1.3v1.3h-1.3zM262.0 367.1h1.3v1.3h-1.3zM290.4 364.9h1.3v1.3h-1.3zM284.7 358.2h1.3v1.3h-1.3zM285.3 359.4h1.3v1.3h-1.3zM258.5 367.9h1.3v1.3h-1.3zM280.0 364.5h1.3v1.3h-1.3zM266.5 367.2h1.3v1.3h-1.3zM282.6 361.4h1.3v1.3h-1.3zM266.9 363.0h1.3v1.3h-1.3zM264.1 369.9h1.3v1.3h-1.3zM288.9 360.4h1.3v1.3h-1.3zM284.4 359.9h1.3v1.3h-1.3zM277.7 363.9h1.3v1.3h-1.3zM272.5 367.7h1.3v1.3h-1.3zM273.6 361.0h1.3v1.3h-1.3zM276.8 359.8h1.3v1.3h-1.3zM269.2 363.7h1.3v1.3h-1.3zM268.6 364.3h1.3v1.3h-1.3zM261.8 360.2h1.3v1.3h-1.3zM276.4 362.6h1.3v1.3h-1.3zM265.9 370.7h1.3v1.3h-1.3zM269.3 365.6h1.3v1.3h-1.3zM265.9 370.5h1.3v1.3h-1.3zM284.7 353.5h1.3v1.3h-1.3zM273.1 365.0h1.3v1.3h-1.3zM261.4 372.9h1.3v1.3h-1.3zM260.5 373.7h1.3v1.3h-1.3zM281.6 361.2h1.3v1.3h-1.3zM287.1 358.6h1.3v1.3h-1.3zM263.2 369.5h1.3v1.3h-1.3zM274.0 361.6h1.3v1.3h-1.3zM271.7 364.7h1.3v1.3h-1.3zM269.0 361.9h1.3v1.3h-1.3zM279.5 363.5h1.3v1.3h-1.3zM283.1 362.2h1.3v1.3h-1.3zM285.0 366.2h1.3v1.3h-1.3zM263.0 369.5h1.3v1.3h-1.3zM275.6 362.7h1.3v1.3h-1.3zM260.4 369.1h1.3v1.3h-1.3zM260.5 365.6h1.3v1.3h-1.3zM267.1 367.3h1.3v1.3h-1.3zM274.9 364.2h1.3v1.3h-1.3zM272.6 366.7h1.3v1.3h-1.3zM257.4 372.9h1.3v1.3h-1.3zM270.6 360.4h1.3v1.3h-1.3zM261.2 370.0h1.3v1.3h-1.3zM261.6 371.0h1.3v1.3h-1.3zM284.2 358.4h1.3v1.3h-1.3zM279.2 368.8h1.3v1.3h-1.3zM263.1 366.4h1.3v1.3h-1.3zM284.0 368.9h1.3v1.3h-1.3zM290.0 362.2h1.3v1.3h-1.3zM285.7 364.1h1.3v1.3h-1.3zM260.4 370.1h1.3v1.3h-1.3zM278.9 366.3h1.3v1.3h-1.3zM268.5 363.8h1.3v1.3h-1.3zM269.8 364.1h1.3v1.3h-1.3zM259.9 363.9h1.3v1.3h-1.3zM259.8 371.0h1.3v1.3h-1.3zM288.5 358.5h1.3v1.3h-1.3zM271.6 367.9h1.3v1.3h-1.3zM261.3 370.7h1.3v1.3h-1.3zM270.2 362.4h1.3v1.3h-1.3zM271.5 367.8h1.3v1.3h-1.3zM260.7 370.0h1.3v1.3h-1.3zM281.1 363.4h1.3v1.3h-1.3zM277.3 365.3h1.3v1.3h-1.3zM280.2 363.0h1.3v1.3h-1.3zM284.4 361.8h1.3v1.3h-1.3zM286.6 364.1h1.3v1.3h-1.3zM289.2 357.4h1.3v1.3h-1.3zM278.7 360.1h1.3v1.3h-1.3zM288.7 358.2h1.3v1.3h-1.3zM290.4 362.8h1.3v1.3h-1.3zM261.5 368.0h1.3v1.3h-1.3zM270.2 371.6h1.3v1.3h-1.3zM269.3 357.7h1.3v1.3h-1.3zM270.8 364.0h1.3v1.3h-1.3zM258.0 368.8h1.3v1.3h-1.3zM269.0 367.4h1.3v1.3h-1.3zM283.7 365.8h1.3v1.3h-1.3zM272.7 364.9h1.3v1.3h-1.3zM277.5 361.0h1.3v1.3h-1.3zM279.9 365.5h1.3v1.3h-1.3zM278.2 368.1h1.3v1.3h-1.3zM253.4 364.3h1.3v1.3h-1.3zM268.8 368.3h1.3v1.3h-1.3zM281.4 363.5h1.3v1.3h-1.3zM267.1 364.8h1.3v1.3h-1.3zM288.5 359.1h1.3v1.3h-1.3zM288.8 361.2h1.3v1.3h-1.3zM273.0 365.4h1.3v1.3h-1.3zM289.1 359.6h1.3v1.3h-1.3zM261.3 365.7h1.3v1.3h-1.3zM272.1 366.4h1.3v1.3h-1.3zM286.9 359.1h1.3v1.3h-1.3zM258.2 370.2h1.3v1.3h-1.3zM272.4 363.9h1.3v1.3h-1.3zM269.7 366.9h1.3v1.3h-1.3zM269.2 368.6h1.3v1.3h-1.3zM270.4 366.8h1.3v1.3h-1.3zM276.6 366.1h1.3v1.3h-1.3zM286.2 357.3h1.3v1.3h-1.3zM257.2 371.6h1.3v1.3h-1.3zM260.3 370.1h1.3v1.3h-1.3zM278.5 361.8h1.3v1.3h-1.3zM273.8 364.6h1.3v1.3h-1.3zM278.0 355.8h1.3v1.3h-1.3zM284.7 361.9h1.3v1.3h-1.3zM297.6 359.5h1.3v1.3h-1.3zM316.6 346.9h1.3v1.3h-1.3zM308.8 349.3h1.3v1.3h-1.3zM325.5 348.2h1.3v1.3h-1.3zM314.9 349.6h1.3v1.3h-1.3zM313.2 347.8h1.3v1.3h-1.3zM290.9 357.2h1.3v1.3h-1.3zM288.8 359.7h1.3v1.3h-1.3zM313.4 348.8h1.3v1.3h-1.3zM319.1 346.5h1.3v1.3h-1.3zM322.2 345.4h1.3v1.3h-1.3zM326.0 340.0h1.3v1.3h-1.3zM324.9 350.7h1.3v1.3h-1.3zM311.4 354.1h1.3v1.3h-1.3zM317.1 352.9h1.3v1.3h-1.3zM302.0 353.3h1.3v1.3h-1.3zM327.2 344.7h1.3v1.3h-1.3zM327.6 346.0h1.3v1.3h-1.3zM317.2 350.7h1.3v1.3h-1.3zM295.4 350.4h1.3v1.3h-1.3zM310.9 351.5h1.3v1.3h-1.3zM314.3 345.9h1.3v1.3h-1.3zM320.5 346.6h1.3v1.3h-1.3zM313.1 347.5h1.3v1.3h-1.3zM321.7 351.8h1.3v1.3h-1.3zM319.6 348.9h1.3v1.3h-1.3zM314.1 349.1h1.3v1.3h-1.3zM294.1 361.1h1.3v1.3h-1.3zM317.4 347.7h1.3v1.3h-1.3zM306.0 349.9h1.3v1.3h-1.3zM319.8 346.5h1.3v1.3h-1.3zM292.0 356.3h1.3v1.3h-1.3zM307.6 351.8h1.3v1.3h-1.3zM301.6 356.6h1.3v1.3h-1.3zM307.2 351.4h1.3v1.3h-1.3zM327.2 344.1h1.3v1.3h-1.3zM319.9 350.3h1.3v1.3h-1.3zM323.5 346.6h1.3v1.3h-1.3zM322.5 349.1h1.3v1.3h-1.3zM290.6 358.4h1.3v1.3h-1.3zM315.5 344.5h1.3v1.3h-1.3zM316.6 344.7h1.3v1.3h-1.3zM316.6 343.0h1.3v1.3h-1.3zM299.3 358.4h1.3v1.3h-1.3zM303.4 354.5h1.3v1.3h-1.3zM313.4 348.0h1.3v1.3h-1.3zM297.8 352.2h1.3v1.3h-1.3zM308.6 352.4h1.3v1.3h-1.3zM304.3 352.4h1.3v1.3h-1.3zM291.4 358.8h1.3v1.3h-1.3zM290.0 355.6h1.3v1.3h-1.3zM295.1 352.8h1.3v1.3h-1.3zM307.8 356.6h1.3v1.3h-1.3zM323.6 342.6h1.3v1.3h-1.3zM318.5 347.5h1.3v1.3h-1.3zM301.7 358.1h1.3v1.3h-1.3zM317.5 342.1h1.3v1.3h-1.3zM321.1 348.8h1.3v1.3h-1.3zM325.2 345.3h1.3v1.3h-1.3zM315.9 348.1h1.3v1.3h-1.3zM313.0 350.5h1.3v1.3h-1.3zM313.6 345.6h1.3v1.3h-1.3zM288.7 351.7h1.3v1.3h-1.3zM313.8 355.3h1.3v1.3h-1.3zM289.4 357.6h1.3v1.3h-1.3zM314.3 352.0h1.3v1.3h-1.3zM315.8 352.1h1.3v1.3h-1.3zM303.4 354.1h1.3v1.3h-1.3zM295.4 357.7h1.3v1.3h-1.3zM309.4 353.3h1.3v1.3h-1.3zM295.9 361.0h1.3v1.3h-1.3zM303.8 354.6h1.3v1.3h-1.3zM317.6 351.9h1.3v1.3h-1.3zM289.0 357.7h1.3v1.3h-1.3zM325.0 343.8h1.3v1.3h-1.3zM323.6 345.9h1.3v1.3h-1.3zM303.1 354.6h1.3v1.3h-1.3zM321.5 348.2h1.3v1.3h-1.3zM322.7 352.2h1.3v1.3h-1.3zM317.3 350.7h1.3v1.3h-1.3zM304.8 352.9h1.3v1.3h-1.3zM304.6 359.1h1.3v1.3h-1.3zM296.5 356.9h1.3v1.3h-1.3zM320.5 348.0h1.3v1.3h-1.3zM315.4 350.3h1.3v1.3h-1.3zM326.4 343.6h1.3v1.3h-1.3zM311.6 346.7h1.3v1.3h-1.3zM288.3 359.3h1.3v1.3h-1.3zM295.7 355.1h1.3v1.3h-1.3zM288.9 355.9h1.3v1.3h-1.3zM299.7 355.0h1.3v1.3h-1.3zM310.8 349.8h1.3v1.3h-1.3zM309.5 349.1h1.3v1.3h-1.3zM310.4 345.0h1.3v1.3h-1.3zM302.5 353.0h1.3v1.3h-1.3zM326.4 350.2h1.3v1.3h-1.3zM306.4 354.9h1.3v1.3h-1.3zM298.6 358.5h1.3v1.3h-1.3zM304.5 352.8h1.3v1.3h-1.3zM304.5 356.2h1.3v1.3h-1.3zM294.5 354.4h1.3v1.3h-1.3zM310.5 349.1h1.3v1.3h-1.3zM309.7 352.5h1.3v1.3h-1.3zM287.1 354.8h1.3v1.3h-1.3zM300.0 354.7h1.3v1.3h-1.3zM293.0 358.1h1.3v1.3h-1.3zM303.3 358.6h1.3v1.3h-1.3zM294.0 354.5h1.3v1.3h-1.3zM291.2 359.2h1.3v1.3h-1.3zM302.2 351.6h1.3v1.3h-1.3zM289.1 356.9h1.3v1.3h-1.3zM287.9 350.5h1.3v1.3h-1.3zM316.0 345.5h1.3v1.3h-1.3zM298.2 358.8h1.3v1.3h-1.3zM319.2 349.0h1.3v1.3h-1.3zM304.8 353.2h1.3v1.3h-1.3zM313.3 357.3h1.3v1.3h-1.3zM322.0 348.0h1.3v1.3h-1.3zM290.9 354.0h1.3v1.3h-1.3zM288.7 358.1h1.3v1.3h-1.3zM302.1 353.5h1.3v1.3h-1.3zM327.8 349.2h1.3v1.3h-1.3zM301.4 351.1h1.3v1.3h-1.3zM304.8 354.0h1.3v1.3h-1.3zM313.3 352.6h1.3v1.3h-1.3zM287.2 356.7h1.3v1.3h-1.3zM311.8 350.4h1.3v1.3h-1.3zM312.2 343.6h1.3v1.3h-1.3zM324.5 345.7h1.3v1.3h-1.3zM311.5 343.2h1.3v1.3h-1.3zM314.3 347.9h1.3v1.3h-1.3zM293.6 362.4h1.3v1.3h-1.3zM306.2 353.5h1.3v1.3h-1.3zM296.5 356.0h1.3v1.3h-1.3zM300.4 354.9h1.3v1.3h-1.3zM293.2 363.9h1.3v1.3h-1.3zM304.1 354.7h1.3v1.3h-1.3zM295.1 359.7h1.3v1.3h-1.3zM299.7 353.3h1.3v1.3h-1.3zM288.9 357.3h1.3v1.3h-1.3zM325.9 341.5h1.3v1.3h-1.3zM304.2 352.4h1.3v1.3h-1.3zM300.6 352.1h1.3v1.3h-1.3zM316.5 351.4h1.3v1.3h-1.3zM318.7 349.5h1.3v1.3h-1.3zM315.0 348.5h1.3v1.3h-1.3zM300.1 352.8h1.3v1.3h-1.3zM306.8 342.8h1.3v1.3h-1.3zM304.6 350.9h1.3v1.3h-1.3zM318.5 348.5h1.3v1.3h-1.3zM304.4 355.0h1.3v1.3h-1.3zM321.7 336.6h1.3v1.3h-1.3zM302.0 346.2h1.3v1.3h-1.3zM297.0 356.2h1.3v1.3h-1.3zM321.7 343.1h1.3v1.3h-1.3zM290.5 357.4h1.3v1.3h-1.3zM327.3 342.8h1.3v1.3h-1.3zM328.2 345.8h1.3v1.3h-1.3zM305.8 346.5h1.3v1.3h-1.3zM300.1 352.7h1.3v1.3h-1.3zM293.5 359.9h1.3v1.3h-1.3zM306.2 352.8h1.3v1.3h-1.3zM315.9 345.9h1.3v1.3h-1.3zM296.7 357.2h1.3v1.3h-1.3zM315.8 349.5h1.3v1.3h-1.3zM299.5 351.9h1.3v1.3h-1.3zM310.4 352.8h1.3v1.3h-1.3zM320.4 349.0h1.3v1.3h-1.3zM307.3 351.4h1.3v1.3h-1.3zM315.3 351.8h1.3v1.3h-1.3zM300.7 350.6h1.3v1.3h-1.3zM312.1 352.4h1.3v1.3h-1.3zM320.3 346.3h1.3v1.3h-1.3zM322.3 343.2h1.3v1.3h-1.3zM325.4 343.1h1.3v1.3h-1.3zM300.7 358.0h1.3v1.3h-1.3zM291.5 355.9h1.3v1.3h-1.3zM288.8 357.6h1.3v1.3h-1.3zM293.5 354.9h1.3v1.3h-1.3zM315.9 346.1h1.3v1.3h-1.3zM296.6 358.9h1.3v1.3h-1.3zM321.0 353.7h1.3v1.3h-1.3zM291.6 361.9h1.3v1.3h-1.3zM319.9 348.7h1.3v1.3h-1.3zM305.1 355.0h1.3v1.3h-1.3zM294.0 355.7h1.3v1.3h-1.3zM311.3 348.7h1.3v1.3h-1.3zM317.0 344.4h1.3v1.3h-1.3zM291.8 362.2h1.3v1.3h-1.3zM304.2 351.9h1.3v1.3h-1.3zM291.1 355.6h1.3v1.3h-1.3zM325.5 342.9h1.3v1.3h-1.3zM305.4 353.1h1.3v1.3h-1.3zM306.2 350.5h1.3v1.3h-1.3zM311.9 350.1h1.3v1.3h-1.3zM320.9 347.2h1.3v1.3h-1.3zM326.9 348.7h1.3v1.3h-1.3zM302.8 349.5h1.3v1.3h-1.3zM305.2 353.5h1.3v1.3h-1.3zM320.7 344.6h1.3v1.3h-1.3zM317.1 346.8h1.3v1.3h-1.3zM316.9 353.3h1.3v1.3h-1.3zM320.8 348.7h1.3v1.3h-1.3zM324.8 344.0h1.3v1.3h-1.3zM290.6 359.6h1.3v1.3h-1.3zM310.8 350.4h1.3v1.3h-1.3zM299.7 358.1h1.3v1.3h-1.3zM324.3 343.9h1.3v1.3h-1.3zM289.4 360.1h1.3v1.3h-1.3zM303.8 352.4h1.3v1.3h-1.3zM306.8 352.0h1.3v1.3h-1.3zM291.0 357.4h1.3v1.3h-1.3zM300.6 352.3h1.3v1.3h-1.3zM303.4 353.6h1.3v1.3h-1.3zM293.1 360.2h1.3v1.3h-1.3zM318.1 345.8h1.3v1.3h-1.3zM301.7 352.7h1.3v1.3h-1.3zM306.9 353.1h1.3v1.3h-1.3zM319.4 344.9h1.3v1.3h-1.3zM325.4 347.7h1.3v1.3h-1.3zM299.1 357.1h1.3v1.3h-1.3zM315.7 341.4h1.3v1.3h-1.3zM299.2 352.8h1.3v1.3h-1.3zM324.9 341.8h1.3v1.3h-1.3zM325.8 347.5h1.3v1.3h-1.3zM308.8 354.2h1.3v1.3h-1.3zM290.4 354.3h1.3v1.3h-1.3zM321.4 344.3h1.3v1.3h-1.3zM315.3 348.5h1.3v1.3h-1.3zM319.3 346.1h1.3v1.3h-1.3zM309.3 353.3h1.3v1.3h-1.3zM327.5 347.3h1.3v1.3h-1.3zM302.9 355.3h1.3v1.3h-1.3zM319.9 350.5h1.3v1.3h-1.3zM292.9 360.1h1.3v1.3h-1.3zM324.8 345.0h1.3v1.3h-1.3zM301.0 352.8h1.3v1.3h-1.3zM292.8 354.9h1.3v1.3h-1.3zM305.7 355.0h1.3v1.3h-1.3zM294.2 359.5h1.3v1.3h-1.3zM312.1 353.2h1.3v1.3h-1.3zM313.0 348.6h1.3v1.3h-1.3zM297.2 354.4h1.3v1.3h-1.3zM291.9 358.4h1.3v1.3h-1.3zM323.2 349.8h1.3v1.3h-1.3zM315.6 349.8h1.3v1.3h-1.3zM313.0 350.4h1.3v1.3h-1.3zM325.6 342.3h1.3v1.3h-1.3zM292.8 358.6h1.3v1.3h-1.3zM309.7 352.6h1.3v1.3h-1.3zM289.1 355.6h1.3v1.3h-1.3zM324.5 350.9h1.3v1.3h-1.3zM320.8 343.8h1.3v1.3h-1.3zM304.8 355.7h1.3v1.3h-1.3zM311.4 349.6h1.3v1.3h-1.3zM317.8 348.4h1.3v1.3h-1.3zM313.1 347.1h1.3v1.3h-1.3zM315.3 347.0h1.3v1.3h-1.3zM299.3 357.0h1.3v1.3h-1.3zM316.8 347.6h1.3v1.3h-1.3zM317.5 346.9h1.3v1.3h-1.3zM308.4 354.2h1.3v1.3h-1.3zM310.5 352.9h1.3v1.3h-1.3zM304.5 353.4h1.3v1.3h-1.3zM312.7 350.5h1.3v1.3h-1.3zM326.2 350.1h1.3v1.3h-1.3zM289.2 358.0h1.3v1.3h-1.3zM319.1 348.6h1.3v1.3h-1.3zM317.6 349.3h1.3v1.3h-1.3zM303.9 348.7h1.3v1.3h-1.3zM294.4 350.5h1.3v1.3h-1.3zM313.2 350.0h1.3v1.3h-1.3zM319.4 350.0h1.3v1.3h-1.3zM294.4 357.3h1.3v1.3h-1.3zM310.0 349.1h1.3v1.3h-1.3zM317.1 346.1h1.3v1.3h-1.3zM299.5 357.3h1.3v1.3h-1.3zM320.7 345.8h1.3v1.3h-1.3zM308.2 346.4h1.3v1.3h-1.3zM291.8 359.8h1.3v1.3h-1.3zM321.6 347.2h1.3v1.3h-1.3zM289.8 359.6h1.3v1.3h-1.3zM322.1 349.6h1.3v1.3h-1.3zM311.5 354.4h1.3v1.3h-1.3zM288.8 360.5h1.3v1.3h-1.3zM293.8 356.3h1.3v1.3h-1.3zM290.9 351.3h1.3v1.3h-1.3zM314.2 350.2h1.3v1.3h-1.3zM318.5 347.1h1.3v1.3h-1.3zM303.9 357.2h1.3v1.3h-1.3zM315.1 352.9h1.3v1.3h-1.3zM310.9 351.9h1.3v1.3h-1.3zM323.7 350.0h1.3v1.3h-1.3zM297.6 355.2h1.3v1.3h-1.3zM293.0 357.0h1.3v1.3h-1.3zM303.5 350.6h1.3v1.3h-1.3zM321.1 345.7h1.3v1.3h-1.3zM298.5 355.8h1.3v1.3h-1.3zM321.8 349.7h1.3v1.3h-1.3zM290.8 355.7h1.3v1.3h-1.3z" fill="#111"/>
<path d="M278.8 313.4h1.3v1.3h-1.3zM275.4 305.7h1.3v1.3h-1.3zM279.7 309.5h1.3v1.3h-1.3zM271.3 307.4h1.3v1.3h-1.3zM277.8 307.7h1.3v1.3h-1.3zM276.2 304.3h1.3v1.3h-1.3zM274.9 296.4h1.3v1.3h-1.3zM269.1 316.9h1.3v1.3h-1.3zM272.6 307.9h1.3v1.3h-1.3zM268.8 307.3h1.3v1.3h-1.3zM271.8 335.3h1.3v1.3h-1.3zM270.9 296.1h1.3v1.3h-1.3zM279.5 317.0h1.3v1.3h-1.3zM266.2 308.3h1.3v1.3h-1.3zM279.2 293.5h1.3v1.3h-1.3zM278.4 300.5h1.3v1.3h-1.3zM271.0 302.2h1.3v1.3h-1.3zM273.4 291.9h1.3v1.3h-1.3zM285.2 301.2h1.3v1.3h-1.3zM272.1 314.2h1.3v1.3h-1.3zM275.1 319.0h1.3v1.3h-1.3zM274.2 309.2h1.3v1.3h-1.3zM275.8 307.4h1.3v1.3h-1.3zM274.5 304.7h1.3v1.3h-1.3zM282.7 299.0h1.3v1.3h-1.3zM273.0 302.3h1.3v1.3h-1.3zM277.9 309.7h1.3v1.3h-1.3zM279.5 292.4h1.3v1.3h-1.3zM276.5 304.0h1.3v1.3h-1.3zM274.1 307.3h1.3v1.3h-1.3zM266.8 308.4h1.3v1.3h-1.3zM276.0 291.5h1.3v1.3h-1.3zM275.0 321.1h1.3v1.3h-1.3zM273.7 311.6h1.3v1.3h-1.3zM274.4 297.7h1.3v1.3h-1.3zM271.4 301.8h1.3v1.3h-1.3zM281.0 313.8h1.3v1.3h-1.3zM272.3 315.6h1.3v1.3h-1.3zM274.8 298.9h1.3v1.3h-1.3zM277.3 296.7h1.3v1.3h-1.3zM268.5 318.5h1.3v1.3h-1.3zM267.4 311.1h1.3v1.3h-1.3zM268.7 305.4h1.3v1.3h-1.3zM274.5 301.4h1.3v1.3h-1.3zM265.9 304.6h1.3v1.3h-1.3zM275.2 296.8h1.3v1.3h-1.3zM275.1 315.5h1.3v1.3h-1.3zM272.3 308.3h1.3v1.3h-1.3zM270.4 309.5h1.3v1.3h-1.3zM278.2 330.2h1.3v1.3h-1.3zM279.3 310.0h1.3v1.3h-1.3zM281.5 295.9h1.3v1.3h-1.3zM280.0 300.4h1.3v1.3h-1.3zM272.7 316.6h1.3v1.3h-1.3zM276.4 318.8h1.3v1.3h-1.3zM269.1 308.4h1.3v1.3h-1.3zM273.1 303.1h1.3v1.3h-1.3zM267.1 315.0h1.3v1.3h-1.3zM276.3 296.1h1.3v1.3h-1.3zM269.6 297.2h1.3v1.3h-1.3zM281.5 304.8h1.3v1.3h-1.3zM274.0 310.7h1.3v1.3h-1.3zM275.5 308.1h1.3v1.3h-1.3zM278.6 309.1h1.3v1.3h-1.3zM279.2 294.1h1.3v1.3h-1.3zM275.7 302.4h1.3v1.3h-1.3zM275.9 305.5h1.3v1.3h-1.3zM272.7 302.4h1.3v1.3h-1.3zM279.5 300.5h1.3v1.3h-1.3zM270.1 311.7h1.3v1.3h-1.3zM279.7 303.3h1.3v1.3h-1.3zM276.0 297.7h1.3v1.3h-1.3zM274.6 316.8h1.3v1.3h-1.3zM278.9 307.4h1.3v1.3h-1.3zM274.3 290.0h1.3v1.3h-1.3zM276.8 310.4h1.3v1.3h-1.3zM280.0 325.7h1.3v1.3h-1.3zM277.1 315.3h1.3v1.3h-1.3zM270.7 317.8h1.3v1.3h-1.3zM279.2 319.3h1.3v1.3h-1.3zM278.4 310.4h1.3v1.3h-1.3zM281.9 299.5h1.3v1.3h-1.3zM278.3 316.6h1.3v1.3h-1.3zM272.1 294.8h1.3v1.3h-1.3zM277.4 307.3h1.3v1.3h-1.3zM278.1 312.3h1.3v1.3h-1.3zM272.2 309.4h1.3v1.3h-1.3zM280.4 302.6h1.3v1.3h-1.3zM274.3 295.1h1.3v1.3h-1.3zM279.0 325.1h1.3v1.3h-1.3zM269.7 313.5h1.3v1.3h-1.3zM279.4 300.7h1.3v1.3h-1.3zM274.0 295.9h1.3v1.3h-1.3zM272.2 307.7h1.3v1.3h-1.3zM278.4 307.3h1.3v1.3h-1.3zM279.2 308.1h1.3v1.3h-1.3zM270.6 320.3h1.3v1.3h-1.3zM280.7 299.2h1.3v1.3h-1.3zM283.2 310.7h1.3v1.3h-1.3zM276.1 324.9h1.3v1.3h-1.3zM264.9 290.5h1.3v1.3h-1.3zM278.6 303.8h1.3v1.3h-1.3zM271.5 320.9h1.3v1.3h-1.3zM277.7 293.8h1.3v1.3h-1.3zM272.8 314.5h1.3v1.3h-1.3zM283.3 286.7h1.3v1.3h-1.3zM276.7 302.5h1.3v1.3h-1.3zM268.1 304.6h1.3v1.3h-1.3zM268.7 301.0h1.3v1.3h-1.3zM282.6 311.3h1.3v1.3h-1.3zM279.0 312.1h1.3v1.3h-1.3zM277.1 315.8h1.3v1.3h-1.3zM270.6 302.8h1.3v1.3h-1.3zM279.3 299.2h1.3v1.3h-1.3zM273.8 318.1h1.3v1.3h-1.3zM282.2 300.4h1.3v1.3h-1.3zM272.1 312.0h1.3v1.3h-1.3zM276.8 299.8h1.3v1.3h-1.3zM278.2 311.8h1.3v1.3h-1.3zM276.0 335.1h1.3v1.3h-1.3zM281.5 314.3h1.3v1.3h-1.3zM280.1 335.3h1.3v1.3h-1.3zM280.4 299.4h1.3v1.3h-1.3zM277.1 307.1h1.3v1.3h-1.3zM273.2 308.9h1.3v1.3h-1.3zM276.8 305.9h1.3v1.3h-1.3zM273.6 314.5h1.3v1.3h-1.3zM268.8 314.5h1.3v1.3h-1.3zM275.7 309.1h1.3v1.3h-1.3zM265.5 322.8h1.3v1.3h-1.3zM268.2 298.0h1.3v1.3h-1.3zM278.5 300.5h1.3v1.3h-1.3zM273.9 284.6h1.3v1.3h-1.3zM273.8 308.5h1.3v1.3h-1.3zM278.6 303.6h1.3v1.3h-1.3zM276.6 310.7h1.3v1.3h-1.3zM272.8 299.1h1.3v1.3h-1.3zM284.1 298.1h1.3v1.3h-1.3zM281.0 307.1h1.3v1.3h-1.3zM282.0 300.2h1.3v1.3h-1.3zM277.9 309.7h1.3v1.3h-1.3zM274.7 309.5h1.3v1.3h-1.3zM272.4 305.7h1.3v1.3h-1.3zM274.0 313.9h1.3v1.3h-1.3zM275.3 292.8h1.3v1.3h-1.3zM274.1 305.5h1.3v1.3h-1.3zM271.8 319.5h1.3v1.3h-1.3zM277.4 314.7h1.3v1.3h-1.3zM272.4 302.5h1.3v1.3h-1.3zM280.0 292.4h1.3v1.3h-1.3zM277.3 307.3h1.3v1.3h-1.3zM273.5 307.3h1.3v1.3h-1.3zM271.1 308.7h1.3v1.3h-1.3zM270.4 293.9h1.3v1.3h-1.3zM281.7 299.6h1.3v1.3h-1.3zM266.6 316.0h1.3v1.3h-1.3zM275.5 315.6h1.3v1.3h-1.3zM277.2 323.3h1.3v1.3h-1.3zM275.2 312.3h1.3v1.3h-1.3zM271.3 308.1h1.3v1.3h-1.3zM282.3 311.4h1.3v1.3h-1.3zM276.4 287.0h1.3v1.3h-1.3zM274.1 293.8h1.3v1.3h-1.3zM279.1 299.2h1.3v1.3h-1.3zM277.3 296.6h1.3v1.3h-1.3zM283.9 294.9h1.3v1.3h-1.3zM276.3 332.3h1.3v1.3h-1.3zM276.6 297.9h1.3v1.3h-1.3zM278.4 316.2h1.3v1.3h-1.3zM279.5 287.1h1.3v1.3h-1.3zM276.6 285.5h1.3v1.3h-1.3zM283.9 307.2h1.3v1.3h-1.3zM273.7 313.1h1.3v1.3h-1.3zM277.8 294.8h1.3v1.3h-1.3zM282.8 304.1h1.3v1.3h-1.3zM268.1 320.3h1.3v1.3h-1.3zM282.4 318.9h1.3v1.3h-1.3zM278.1 297.7h1.3v1.3h-1.3zM279.8 324.8h1.3v1.3h-1.3zM279.3 322.3h1.3v1.3h-1.3zM272.3 316.6h1.3v1.3h-1.3zM279.8 291.8h1.3v1.3h-1.3zM268.6 299.4h1.3v1.3h-1.3zM276.1 311.0h1.3v1.3h-1.3zM274.7 305.9h1.3v1.3h-1.3zM275.2 307.4h1.3v1.3h-1.3zM278.3 311.4h1.3v1.3h-1.3zM275.5 309.1h1.3v1.3h-1.3zM273.8 314.4h1.3v1.3h-1.3zM273.5 322.8h1.3v1.3h-1.3zM275.6 309.2h1.3v1.3h-1.3zM272.4 303.1h1.3v1.3h-1.3zM276.5 306.7h1.3v1.3h-1.3zM273.0 295.0h1.3v1.3h-1.3zM275.9 308.1h1.3v1.3h-1.3zM278.1 318.9h1.3v1.3h-1.3zM274.4 286.7h1.3v1.3h-1.3zM275.1 288.2h1.3v1.3h-1.3zM270.1 316.8h1.3v1.3h-1.3zM278.0 282.9h1.3v1.3h-1.3zM273.2 286.8h1.3v1.3h-1.3zM268.7 290.7h1.3v1.3h-1.3zM274.3 300.2h1.3v1.3h-1.3zM271.5 294.4h1.3v1.3h-1.3zM273.0 294.5h1.3v1.3h-1.3zM271.8 292.5h1.3v1.3h-1.3zM274.0 281.6h1.3v1.3h-1.3zM275.1 290.7h1.3v1.3h-1.3zM277.3 298.4h1.3v1.3h-1.3zM274.2 291.7h1.3v1.3h-1.3zM270.4 279.2h1.3v1.3h-1.3zM276.3 285.4h1.3v1.3h-1.3zM282.0 289.6h1.3v1.3h-1.3zM277.8 299.6h1.3v1.3h-1.3zM273.7 287.4h1.3v1.3h-1.3zM271.8 289.2h1.3v1.3h-1.3zM279.9 296.9h1.3v1.3h-1.3zM275.6 282.4h1.3v1.3h-1.3zM272.7 277.7h1.3v1.3h-1.3zM276.2 296.9h1.3v1.3h-1.3zM281.3 276.2h1.3v1.3h-1.3zM275.8 325.8h1.3v1.3h-1.3zM280.5 325.6h1.3v1.3h-1.3zM276.4 323.9h1.3v1.3h-1.3zM274.3 328.4h1.3v1.3h-1.3zM274.9 330.2h1.3v1.3h-1.3zM276.2 322.5h1.3v1.3h-1.3zM269.1 332.0h1.3v1.3h-1.3zM274.3 334.0h1.3v1.3h-1.3zM276.1 325.0h1.3v1.3h-1.3zM277.7 327.0h1.3v1.3h-1.3zM276.1 324.3h1.3v1.3h-1.3zM278.0 332.4h1.3v1.3h-1.3zM274.5 335.2h1.3v1.3h-1.3zM274.3 329.1h1.3v1.3h-1.3zM271.1 320.4h1.3v1.3h-1.3zM282.3 333.7h1.3v1.3h-1.3zM279.5 321.3h1.3v1.3h-1.3zM276.7 329.7h1.3v1.3h-1.3zM276.3 329.2h1.3v1.3h-1.3zM273.3 327.4h1.3v1.3h-1.3zM272.6 326.7h1.3v1.3h-1.3zM277.2 324.9h1.3v1.3h-1.3zM275.2 326.3h1.3v1.3h-1.3zM276.1 331.7h1.3v1.3h-1.3zM276.7 329.6h1.3v1.3h-1.3zM280.5 366.9h1.3v1.3h-1.3zM268.7 365.2h1.3v1.3h-1.3zM275.9 365.5h1.3v1.3h-1.3zM285.2 362.7h1.3v1.3h-1.3zM274.3 361.8h1.3v1.3h-1.3zM274.8 363.5h1.3v1.3h-1.3zM275.5 361.3h1.3v1.3h-1.3zM281.6 359.5h1.3v1.3h-1.3zM278.4 362.8h1.3v1.3h-1.3zM270.1 365.5h1.3v1.3h-1.3zM275.0 363.1h1.3v1.3h-1.3zM278.4 361.2h1.3v1.3h-1.3zM287.7 361.5h1.3v1.3h-1.3zM269.0 360.0h1.3v1.3h-1.3zM281.1 361.9h1.3v1.3h-1.3zM274.7 361.4h1.3v1.3h-1.3zM267.0 362.1h1.3v1.3h-1.3zM288.1 362.4h1.3v1.3h-1.3zM273.9 368.3h1.3v1.3h-1.3zM267.0 368.1h1.3v1.3h-1.3zM277.7 360.6h1.3v1.3h-1.3zM272.2 362.1h1.3v1.3h-1.3zM276.2 366.1h1.3v1.3h-1.3zM280.0 362.7h1.3v1.3h-1.3zM278.9 358.0h1.3v1.3h-1.3zM284.4 360.0h1.3v1.3h-1.3zM268.6 365.0h1.3v1.3h-1.3zM272.1 364.8h1.3v1.3h-1.3zM274.7 358.2h1.3v1.3h-1.3zM282.2 364.9h1.3v1.3h-1.3zM271.3 368.3h1.3v1.3h-1.3zM281.6 363.4h1.3v1.3h-1.3zM281.6 357.9h1.3v1.3h-1.3zM277.6 360.2h1.3v1.3h-1.3zM285.3 357.5h1.3v1.3h-1.3zM270.1 367.9h1.3v1.3h-1.3zM277.9 362.5h1.3v1.3h-1.3zM276.1 364.5h1.3v1.3h-1.3zM282.6 359.1h1.3v1.3h-1.3zM272.0 363.3h1.3v1.3h-1.3zM274.7 363.7h1.3v1.3h-1.3zM269.2 366.3h1.3v1.3h-1.3zM268.9 365.0h1.3v1.3h-1.3zM273.7 363.4h1.3v1.3h-1.3zM283.2 364.3h1.3v1.3h-1.3zM281.3 364.9h1.3v1.3h-1.3zM274.7 366.9h1.3v1.3h-1.3zM274.9 364.1h1.3v1.3h-1.3zM275.3 360.3h1.3v1.3h-1.3zM272.0 364.2h1.3v1.3h-1.3zM276.6 362.6h1.3v1.3h-1.3zM270.1 362.6h1.3v1.3h-1.3zM274.2 361.0h1.3v1.3h-1.3zM269.4 365.3h1.3v1.3h-1.3zM275.2 361.5h1.3v1.3h-1.3zM266.9 367.1h1.3v1.3h-1.3zM278.5 361.3h1.3v1.3h-1.3zM271.5 359.3h1.3v1.3h-1.3zM278.4 359.7h1.3v1.3h-1.3zM277.9 361.1h1.3v1.3h-1.3zM274.2 363.4h1.3v1.3h-1.3zM268.6 372.3h1.3v1.3h-1.3zM267.7 366.4h1.3v1.3h-1.3zM271.0 364.4h1.3v1.3h-1.3zM280.1 357.3h1.3v1.3h-1.3zM274.7 364.8h1.3v1.3h-1.3zM275.9 364.1h1.3v1.3h-1.3zM270.2 361.4h1.3v1.3h-1.3zM268.5 364.9h1.3v1.3h-1.3zM278.5 362.4h1.3v1.3h-1.3zM282.6 361.0h1.3v1.3h-1.3zM276.1 363.6h1.3v1.3h-1.3zM267.3 367.7h1.3v1.3h-1.3zM269.5 364.6h1.3v1.3h-1.3zM285.1 356.9h1.3v1.3h-1.3zM275.8 363.9h1.3v1.3h-1.3zM275.6 363.3h1.3v1.3h-1.3zM273.9 368.6h1.3v1.3h-1.3zM264.8 364.8h1.3v1.3h-1.3zM282.4 362.1h1.3v1.3h-1.3zM270.7 363.0h1.3v1.3h-1.3zM275.8 369.4h1.3v1.3h-1.3zM276.5 360.5h1.3v1.3h-1.3zM275.6 361.8h1.3v1.3h-1.3zM282.3 361.5h1.3v1.3h-1.3zM281.0 361.7h1.3v1.3h-1.3zM284.9 360.9h1.3v1.3h-1.3zM275.5 360.9h1.3v1.3h-1.3zM273.3 365.0h1.3v1.3h-1.3zM274.5 369.5h1.3v1.3h-1.3zM274.4 361.9h1.3v1.3h-1.3zM279.2 360.7h1.3v1.3h-1.3zM276.8 362.6h1.3v1.3h-1.3zM272.7 367.6h1.3v1.3h-1.3zM276.3 365.6h1.3v1.3h-1.3zM272.3 361.1h1.3v1.3h-1.3zM268.8 364.6h1.3v1.3h-1.3zM274.2 363.9h1.3v1.3h-1.3zM276.5 360.1h1.3v1.3h-1.3zM275.2 360.6h1.3v1.3h-1.3zM273.7 370.0h1.3v1.3h-1.3zM280.7 360.6h1.3v1.3h-1.3zM284.5 363.4h1.3v1.3h-1.3zM280.3 365.0h1.3v1.3h-1.3zM273.7 363.7h1.3v1.3h-1.3zM271.4 366.2h1.3v1.3h-1.3zM268.7 364.6h1.3v1.3h-1.3zM276.8 361.7h1.3v1.3h-1.3zM278.0 366.7h1.3v1.3h-1.3zM271.4 368.1h1.3v1.3h-1.3zM271.1 362.7h1.3v1.3h-1.3zM276.8 365.2h1.3v1.3h-1.3zM271.1 363.2h1.3v1.3h-1.3zM272.4 362.8h1.3v1.3h-1.3zM275.3 361.7h1.3v1.3h-1.3zM274.1 364.7h1.3v1.3h-1.3zM273.9 366.6h1.3v1.3h-1.3zM271.2 363.1h1.3v1.3h-1.3zM285.7 363.1h1.3v1.3h-1.3zM276.0 365.1h1.3v1.3h-1.3zM276.2 361.9h1.3v1.3h-1.3zM278.4 363.0h1.3v1.3h-1.3zM279.6 357.5h1.3v1.3h-1.3zM278.9 362.5h1.3v1.3h-1.3zM271.4 363.8h1.3v1.3h-1.3zM272.1 361.5h1.3v1.3h-1.3zM272.9 366.1h1.3v1.3h-1.3zM267.6 365.3h1.3v1.3h-1.3zM263.5 366.4h1.3v1.3h-1.3zM276.8 362.7h1.3v1.3h-1.3zM274.4 361.1h1.3v1.3h-1.3zM277.0 360.7h1.3v1.3h-1.3zM279.4 362.4h1.3v1.3h-1.3zM274.3 367.2h1.3v1.3h-1.3zM273.9 366.3h1.3v1.3h-1.3zM275.5 363.3h1.3v1.3h-1.3zM280.0 362.7h1.3v1.3h-1.3zM274.9 363.3h1.3v1.3h-1.3zM276.1 363.3h1.3v1.3h-1.3zM272.7 361.9h1.3v1.3h-1.3zM262.8 367.7h1.3v1.3h-1.3zM274.8 366.4h1.3v1.3h-1.3zM278.0 365.1h1.3v1.3h-1.3zM283.1 360.3h1.3v1.3h-1.3zM271.7 366.6h1.3v1.3h-1.3zM272.0 364.0h1.3v1.3h-1.3zM282.2 362.2h1.3v1.3h-1.3zM279.1 358.8h1.3v1.3h-1.3zM276.0 365.8h1.3v1.3h-1.3zM269.1 366.1h1.3v1.3h-1.3zM275.2 358.0h1.3v1.3h-1.3zM282.0 359.3h1.3v1.3h-1.3zM275.6 367.2h1.3v1.3h-1.3zM267.0 367.5h1.3v1.3h-1.3zM272.9 364.4h1.3v1.3h-1.3zM272.2 367.7h1.3v1.3h-1.3zM270.0 366.2h1.3v1.3h-1.3zM277.5 362.4h1.3v1.3h-1.3zM273.5 363.4h1.3v1.3h-1.3zM280.2 362.7h1.3v1.3h-1.3zM273.8 361.4h1.3v1.3h-1.3zM276.2 364.3h1.3v1.3h-1.3zM276.0 366.5h1.3v1.3h-1.3zM267.9 371.9h1.3v1.3h-1.3zM273.3 361.5h1.3v1.3h-1.3zM267.5 368.3h1.3v1.3h-1.3zM277.5 362.1h1.3v1.3h-1.3zM274.9 363.9h1.3v1.3h-1.3zM273.9 366.6h1.3v1.3h-1.3zM277.9 362.2h1.3v1.3h-1.3zM268.4 369.1h1.3v1.3h-1.3zM272.0 362.2h1.3v1.3h-1.3zM281.5 362.3h1.3v1.3h-1.3zM264.3 363.5h1.3v1.3h-1.3zM272.2 361.6h1.3v1.3h-1.3zM276.3 369.2h1.3v1.3h-1.3zM289.0 358.3h1.3v1.3h-1.3zM279.5 364.0h1.3v1.3h-1.3zM273.4 360.7h1.3v1.3h-1.3zM280.0 361.3h1.3v1.3h-1.3zM277.7 364.2h1.3v1.3h-1.3zM272.5 368.4h1.3v1.3h-1.3zM275.6 363.8h1.3v1.3h-1.3zM273.5 365.7h1.3v1.3h-1.3zM279.4 360.6h1.3v1.3h-1.3zM277.5 361.6h1.3v1.3h-1.3zM269.0 364.9h1.3v1.3h-1.3zM278.3 363.6h1.3v1.3h-1.3zM279.6 360.3h1.3v1.3h-1.3zM273.7 364.2h1.3v1.3h-1.3zM277.9 362.2h1.3v1.3h-1.3zM269.4 361.9h1.3v1.3h-1.3zM281.4 363.7h1.3v1.3h-1.3zM273.0 367.7h1.3v1.3h-1.3zM275.1 364.6h1.3v1.3h-1.3zM280.6 360.3h1.3v1.3h-1.3zM270.1 361.2h1.3v1.3h-1.3zM276.8 363.9h1.3v1.3h-1.3zM279.6 363.3h1.3v1.3h-1.3zM276.4 365.7h1.3v1.3h-1.3zM270.5 366.1h1.3v1.3h-1.3zM277.4 362.4h1.3v1.3h-1.3zM283.6 361.4h1.3v1.3h-1.3zM282.1 363.0h1.3v1.3h-1.3zM275.7 367.8h1.3v1.3h-1.3zM280.3 361.6h1.3v1.3h-1.3zM273.7 361.6h1.3v1.3h-1.3zM274.2 363.3h1.3v1.3h-1.3zM275.8 362.3h1.3v1.3h-1.3zM277.7 362.4h1.3v1.3h-1.3zM267.3 365.2h1.3v1.3h-1.3zM269.9 362.4h1.3v1.3h-1.3zM274.6 365.8h1.3v1.3h-1.3zM268.3 361.3h1.3v1.3h-1.3zM276.6 370.0h1.3v1.3h-1.3zM272.5 365.1h1.3v1.3h-1.3zM273.8 366.0h1.3v1.3h-1.3zM281.8 360.7h1.3v1.3h-1.3zM279.9 359.2h1.3v1.3h-1.3zM275.1 360.5h1.3v1.3h-1.3zM275.5 361.9h1.3v1.3h-1.3zM275.4 360.8h1.3v1.3h-1.3zM276.3 363.3h1.3v1.3h-1.3zM271.8 362.8h1.3v1.3h-1.3zM269.2 364.7h1.3v1.3h-1.3zM276.9 362.5h1.3v1.3h-1.3zM276.8 365.9h1.3v1.3h-1.3zM273.8 364.7h1.3v1.3h-1.3zM279.4 363.2h1.3v1.3h-1.3zM277.0 363.0h1.3v1.3h-1.3z" fill="#d42434"/>
<line x1="230.1" y1="378.3" x2="232.6" y2="378.3" stroke="#aaa" stroke-width="0.6"/>
<text x="227.4" y="380.1" text-anchor="end" font-size="5.1" fill="#8a8a8a">0</text>
<line x1="232.6" y1="378.3" x2="232.6" y2="380.5" stroke="#bbb" stroke-width="0.6"/>
<text x="232.6" y="387.3" text-anchor="middle" font-size="5.1" fill="#8a8a8a">0</text>
<line x1="230.1" y1="358.1" x2="232.6" y2="358.1" stroke="#aaa" stroke-width="0.6"/>
<text x="227.4" y="359.9" text-anchor="end" font-size="5.1" fill="#8a8a8a">200</text>
<line x1="252.8" y1="378.3" x2="252.8" y2="380.5" stroke="#bbb" stroke-width="0.6"/>
<text x="252.8" y="387.3" text-anchor="middle" font-size="5.1" fill="#8a8a8a">200</text>
<line x1="230.1" y1="337.9" x2="232.6" y2="337.9" stroke="#aaa" stroke-width="0.6"/>
<text x="227.4" y="339.7" text-anchor="end" font-size="5.1" fill="#8a8a8a">400</text>
<line x1="273.0" y1="378.3" x2="273.0" y2="380.5" stroke="#bbb" stroke-width="0.6"/>
<text x="273.0" y="387.3" text-anchor="middle" font-size="5.1" fill="#8a8a8a">400</text>
<line x1="230.1" y1="317.7" x2="232.6" y2="317.7" stroke="#aaa" stroke-width="0.6"/>
<text x="227.4" y="319.5" text-anchor="end" font-size="5.1" fill="#8a8a8a">600</text>
<line x1="293.2" y1="378.3" x2="293.2" y2="380.5" stroke="#bbb" stroke-width="0.6"/>
<text x="293.2" y="387.3" text-anchor="middle" font-size="5.1" fill="#8a8a8a">600</text>
<line x1="230.1" y1="297.5" x2="232.6" y2="297.5" stroke="#aaa" stroke-width="0.6"/>
<text x="227.4" y="299.3" text-anchor="end" font-size="5.1" fill="#8a8a8a">800</text>
<line x1="313.4" y1="378.3" x2="313.4" y2="380.5" stroke="#bbb" stroke-width="0.6"/>
<text x="313.4" y="387.3" text-anchor="middle" font-size="5.1" fill="#8a8a8a">800</text>
<line x1="230.1" y1="277.3" x2="232.6" y2="277.3" stroke="#aaa" stroke-width="0.6"/>
<text x="227.4" y="279.1" text-anchor="end" font-size="5.1" fill="#8a8a8a">1000</text>
<line x1="333.6" y1="378.3" x2="333.6" y2="380.5" stroke="#bbb" stroke-width="0.6"/>
<text x="333.6" y="387.3" text-anchor="middle" font-size="5.1" fill="#8a8a8a">1000</text>
<line x1="62.4" y1="347" x2="62.4" y2="294" stroke="#111" stroke-width="1.5"/>
<path d="M62.4 289.4 L65.1 295.4 L59.7 295.4 Z" fill="#111"/>
<text transform="translate(58.9,320.8) rotate(-90)" text-anchor="middle" font-size="7.5" font-weight="bold" fill="#111">SSC</text>
<line x1="146" y1="397" x2="264" y2="397" stroke="#111" stroke-width="1.5"/>
<path d="M269.5 397 L263.5 394.3 L263.5 399.7 Z" fill="#111"/>
<text x="208" y="405.6" text-anchor="middle" font-size="7.8" font-weight="bold" fill="#111">FSC</text>
<text x="151" y="249.2" font-size="11.4" font-weight="bold" fill="#111">p15Ink4b-LysMcre:</text>
<text x="117.4" y="262" font-size="11.4" font-weight="bold" fill="#111">wt/wt</text>
<text x="269" y="261.7" font-size="11.4" font-weight="bold" fill="#111">fl/fl</text>
<svg x="386.4" y="231" width="101.2" height="80.0" viewBox="386.4 231 101.2 80.0" overflow="hidden">
<rect x="386.4" y="231" width="101.20000000000005" height="80" fill="#f1edf1"/>
<ellipse cx="404.0" cy="233.0" rx="6.5" ry="5.4" transform="rotate(144 404.0 233.0)" fill="#c0acca" stroke="#72607c" stroke-width="1.0" fill-opacity="0.88"/>
<ellipse cx="415.0" cy="235.0" rx="6.5" ry="5.6" transform="rotate(86 415.0 235.0)" fill="#d4b6c4" stroke="#72607c" stroke-width="1.0" fill-opacity="0.88"/>
<ellipse cx="429.0" cy="234.5" rx="6.6" ry="6.0" transform="rotate(20 429.0 234.5)" fill="#d4b6c4" stroke="#72607c" stroke-width="1.0" fill-opacity="0.88"/>
<ellipse cx="390.0" cy="243.0" rx="7.1" ry="6.1" transform="rotate(106 390.0 243.0)" fill="#ccaec4" stroke="#72607c" stroke-width="1.0" fill-opacity="0.88"/>
<ellipse cx="395.0" cy="237.5" rx="7.4" ry="6.9" transform="rotate(51 395.0 237.5)" fill="#ccaec4" stroke="#72607c" stroke-width="1.0" fill-opacity="0.88"/>
<ellipse cx="398.0" cy="253.0" rx="7.3" ry="6.2" transform="rotate(0 398.0 253.0)" fill="#c6aac4" stroke="#72607c" stroke-width="1.0" fill-opacity="0.88"/>
<ellipse cx="390.0" cy="260.0" rx="7.7" ry="6.5" transform="rotate(57 390.0 260.0)" fill="#d0b0c0" stroke="#72607c" stroke-width="1.0" fill-opacity="0.88"/>
<ellipse cx="393.0" cy="268.0" rx="7.2" ry="6.2" transform="rotate(139 393.0 268.0)" fill="#c0acca" stroke="#72607c" stroke-width="1.0" fill-opacity="0.88"/>
<ellipse cx="405.0" cy="265.0" rx="6.4" ry="5.8" transform="rotate(67 405.0 265.0)" fill="#ccaec4" stroke="#72607c" stroke-width="1.0" fill-opacity="0.88"/>
<ellipse cx="416.0" cy="264.0" rx="7.3" ry="6.8" transform="rotate(37 416.0 264.0)" fill="#d0b0c0" stroke="#72607c" stroke-width="1.0" fill-opacity="0.88"/>
<ellipse cx="425.0" cy="266.0" rx="7.2" ry="6.1" transform="rotate(134 425.0 266.0)" fill="#ccaec4" stroke="#72607c" stroke-width="1.0" fill-opacity="0.88"/>
<ellipse cx="434.0" cy="242.0" rx="6.7" ry="6.2" transform="rotate(118 434.0 242.0)" fill="#c6aac4" stroke="#72607c" stroke-width="1.0" fill-opacity="0.88"/>
<ellipse cx="433.0" cy="256.0" rx="7.3" ry="6.7" transform="rotate(77 433.0 256.0)" fill="#c0acca" stroke="#72607c" stroke-width="1.0" fill-opacity="0.88"/>
<ellipse cx="441.0" cy="240.0" rx="7.5" ry="6.1" transform="rotate(153 441.0 240.0)" fill="#c6aac4" stroke="#72607c" stroke-width="1.0" fill-opacity="0.88"/>
<ellipse cx="453.0" cy="239.0" rx="6.9" ry="6.0" transform="rotate(26 453.0 239.0)" fill="#ccaec4" stroke="#72607c" stroke-width="1.0" fill-opacity="0.88"/>
<ellipse cx="471.5" cy="243.0" rx="6.8" ry="6.3" transform="rotate(50 471.5 243.0)" fill="#c6aac4" stroke="#72607c" stroke-width="1.0" fill-opacity="0.88"/>
<ellipse cx="461.0" cy="252.0" rx="7.1" ry="6.1" transform="rotate(110 461.0 252.0)" fill="#c0acca" stroke="#72607c" stroke-width="1.0" fill-opacity="0.88"/>
<ellipse cx="482.0" cy="236.0" rx="6.6" ry="6.1" transform="rotate(135 482.0 236.0)" fill="#d0b0c0" stroke="#72607c" stroke-width="1.0" fill-opacity="0.88"/>
<ellipse cx="449.0" cy="250.0" rx="7.1" ry="6.7" transform="rotate(37 449.0 250.0)" fill="#ccaec4" stroke="#72607c" stroke-width="1.0" fill-opacity="0.88"/>
<ellipse cx="469.0" cy="256.0" rx="6.6" ry="6.3" transform="rotate(112 469.0 256.0)" fill="#c0acca" stroke="#72607c" stroke-width="1.0" fill-opacity="0.88"/>
<ellipse cx="440.0" cy="262.0" rx="7.2" ry="6.8" transform="rotate(142 440.0 262.0)" fill="#ccaec4" stroke="#72607c" stroke-width="1.0" fill-opacity="0.88"/>
<ellipse cx="452.0" cy="262.0" rx="6.5" ry="5.5" transform="rotate(15 452.0 262.0)" fill="#c6aac4" stroke="#72607c" stroke-width="1.0" fill-opacity="0.88"/>
<ellipse cx="476.0" cy="268.0" rx="6.7" ry="5.5" transform="rotate(155 476.0 268.0)" fill="#d4b6c4" stroke="#72607c" stroke-width="1.0" fill-opacity="0.88"/>
<ellipse cx="485.0" cy="259.0" rx="6.8" ry="5.9" transform="rotate(153 485.0 259.0)" fill="#d0b0c0" stroke="#72607c" stroke-width="1.0" fill-opacity="0.88"/>
<ellipse cx="395.0" cy="273.0" rx="7.7" ry="6.9" transform="rotate(38 395.0 273.0)" fill="#c6aac4" stroke="#72607c" stroke-width="1.0" fill-opacity="0.88"/>
<ellipse cx="409.0" cy="272.0" rx="7.3" ry="5.9" transform="rotate(122 409.0 272.0)" fill="#d4b6c4" stroke="#72607c" stroke-width="1.0" fill-opacity="0.88"/>
<ellipse cx="393.0" cy="283.0" rx="6.9" ry="6.1" transform="rotate(121 393.0 283.0)" fill="#c0acca" stroke="#72607c" stroke-width="1.0" fill-opacity="0.88"/>
<ellipse cx="409.0" cy="281.0" rx="7.1" ry="6.3" transform="rotate(36 409.0 281.0)" fill="#c6aac4" stroke="#72607c" stroke-width="1.0" fill-opacity="0.88"/>
<ellipse cx="417.0" cy="286.5" rx="7.0" ry="5.8" transform="rotate(87 417.0 286.5)" fill="#c0acca" stroke="#72607c" stroke-width="1.0" fill-opacity="0.88"/>
<ellipse cx="430.0" cy="275.0" rx="7.4" ry="6.4" transform="rotate(4 430.0 275.0)" fill="#d4b6c4" stroke="#72607c" stroke-width="1.0" fill-opacity="0.88"/>
<ellipse cx="398.0" cy="293.0" rx="7.1" ry="5.9" transform="rotate(133 398.0 293.0)" fill="#c6aac4" stroke="#72607c" stroke-width="1.0" fill-opacity="0.88"/>
<ellipse cx="412.0" cy="296.0" rx="6.9" ry="6.5" transform="rotate(71 412.0 296.0)" fill="#ccaec4" stroke="#72607c" stroke-width="1.0" fill-opacity="0.88"/>
<ellipse cx="422.0" cy="295.0" rx="6.9" ry="5.8" transform="rotate(87 422.0 295.0)" fill="#d0b0c0" stroke="#72607c" stroke-width="1.0" fill-opacity="0.88"/>
<ellipse cx="389.0" cy="302.0" rx="7.1" ry="6.7" transform="rotate(101 389.0 302.0)" fill="#d0b0c0" stroke="#72607c" stroke-width="1.0" fill-opacity="0.88"/>
<ellipse cx="413.0" cy="305.0" rx="7.4" ry="6.9" transform="rotate(152 413.0 305.0)" fill="#c0acca" stroke="#72607c" stroke-width="1.0" fill-opacity="0.88"/>
<ellipse cx="427.0" cy="304.0" rx="7.5" ry="6.9" transform="rotate(46 427.0 304.0)" fill="#c6aac4" stroke="#72607c" stroke-width="1.0" fill-opacity="0.88"/>
<ellipse cx="435.0" cy="298.0" rx="7.0" ry="6.0" transform="rotate(47 435.0 298.0)" fill="#d4b6c4" stroke="#72607c" stroke-width="1.0" fill-opacity="0.88"/>
<ellipse cx="448.0" cy="274.0" rx="6.8" ry="6.1" transform="rotate(105 448.0 274.0)" fill="#d4b6c4" stroke="#72607c" stroke-width="1.0" fill-opacity="0.88"/>
<ellipse cx="457.0" cy="272.0" rx="6.5" ry="5.7" transform="rotate(70 457.0 272.0)" fill="#ccaec4" stroke="#72607c" stroke-width="1.0" fill-opacity="0.88"/>
<ellipse cx="456.0" cy="282.0" rx="6.5" ry="5.4" transform="rotate(92 456.0 282.0)" fill="#c6aac4" stroke="#72607c" stroke-width="1.0" fill-opacity="0.88"/>
<ellipse cx="452.0" cy="294.0" rx="6.9" ry="6.2" transform="rotate(60 452.0 294.0)" fill="#d0b0c0" stroke="#72607c" stroke-width="1.0" fill-opacity="0.88"/>
<ellipse cx="466.0" cy="296.0" rx="7.6" ry="6.4" transform="rotate(26 466.0 296.0)" fill="#d0b0c0" stroke="#72607c" stroke-width="1.0" fill-opacity="0.88"/>
<ellipse cx="469.0" cy="287.0" rx="6.8" ry="5.8" transform="rotate(41 469.0 287.0)" fill="#c6aac4" stroke="#72607c" stroke-width="1.0" fill-opacity="0.88"/>
<ellipse cx="482.0" cy="277.0" rx="7.6" ry="6.2" transform="rotate(75 482.0 277.0)" fill="#d4b6c4" stroke="#72607c" stroke-width="1.0" fill-opacity="0.88"/>
<ellipse cx="482.0" cy="288.0" rx="7.3" ry="6.8" transform="rotate(180 482.0 288.0)" fill="#d0b0c0" stroke="#72607c" stroke-width="1.0" fill-opacity="0.88"/>
<ellipse cx="455.0" cy="305.0" rx="7.1" ry="6.6" transform="rotate(10 455.0 305.0)" fill="#d0b0c0" stroke="#72607c" stroke-width="1.0" fill-opacity="0.88"/>
<ellipse cx="466.0" cy="307.0" rx="7.2" ry="5.9" transform="rotate(138 466.0 307.0)" fill="#c0acca" stroke="#72607c" stroke-width="1.0" fill-opacity="0.88"/>
<ellipse cx="440.0" cy="303.0" rx="7.1" ry="5.7" transform="rotate(12 440.0 303.0)" fill="#c0acca" stroke="#72607c" stroke-width="1.0" fill-opacity="0.88"/>
<ellipse cx="421.5" cy="250.8" rx="9.0" ry="9.6" fill="#dcdcf0" fill-opacity="0.8"/>
<ellipse cx="421.5" cy="250.8" rx="7.9" ry="8.5" fill="#4848c0"/><ellipse cx="421" cy="251.3" rx="5" ry="5.6" fill="#3838ac"/>
<ellipse cx="439.3" cy="286.5" rx="9.0" ry="8.0" fill="#dcdcf0" fill-opacity="0.8"/>
<ellipse cx="439.3" cy="286.5" rx="7.9" ry="7.0" fill="#3e3eb8"/><ellipse cx="439.3" cy="286.9" rx="5" ry="4.4" fill="#3030a6"/>
<path d="M401.58 266.32 L409.86 259.14 L410.94 260.39 L412.00 255.50 L407.01 255.85 L408.09 257.10 L399.82 264.28 Z" fill="#fff" stroke="#111" stroke-width="0.9" stroke-linejoin="miter"/>
</svg>
<svg x="386.2" y="317.6" width="101.6" height="82.1" viewBox="386.2 317.6 101.6 82.1" overflow="hidden">
<rect x="386.2" y="317.6" width="101.60000000000002" height="82.09999999999997" fill="#f0ebf0"/>
<circle cx="391.0" cy="323.5" r="4.4" fill="#dec6cf" stroke="#bc9eb2" stroke-width="0.9"/>
<circle cx="391.0" cy="323.5" r="2.0" fill="#e4d4dc"/>
<circle cx="404.5" cy="320.0" r="4.7" fill="#dec6cf" stroke="#bc9eb2" stroke-width="0.9"/>
<circle cx="404.5" cy="320.0" r="2.1" fill="#e4d4dc"/>
<circle cx="411.0" cy="328.0" r="4.3" fill="#dec6cf" stroke="#bc9eb2" stroke-width="0.9"/>
<circle cx="411.0" cy="328.0" r="2.0" fill="#e4d4dc"/>
<circle cx="427.0" cy="322.0" r="4.6" fill="#dec6cf" stroke="#bc9eb2" stroke-width="0.9"/>
<circle cx="427.0" cy="322.0" r="2.1" fill="#e4d4dc"/>
<circle cx="402.0" cy="334.5" r="4.4" fill="#dec6cf" stroke="#bc9eb2" stroke-width="0.9"/>
<circle cx="402.0" cy="334.5" r="2.0" fill="#e4d4dc"/>
<circle cx="416.0" cy="335.5" r="4.4" fill="#dec6cf" stroke="#bc9eb2" stroke-width="0.9"/>
<circle cx="416.0" cy="335.5" r="2.0" fill="#e4d4dc"/>
<circle cx="422.0" cy="341.0" r="4.6" fill="#dec6cf" stroke="#bc9eb2" stroke-width="0.9"/>
<circle cx="422.0" cy="341.0" r="2.1" fill="#e4d4dc"/>
<circle cx="430.0" cy="329.5" r="4.4" fill="#dec6cf" stroke="#bc9eb2" stroke-width="0.9"/>
<circle cx="430.0" cy="329.5" r="2.0" fill="#e4d4dc"/>
<circle cx="438.0" cy="333.0" r="4.4" fill="#dec6cf" stroke="#bc9eb2" stroke-width="0.9"/>
<circle cx="438.0" cy="333.0" r="2.0" fill="#e4d4dc"/>
<circle cx="403.5" cy="346.0" r="4.7" fill="#dec6cf" stroke="#bc9eb2" stroke-width="0.9"/>
<circle cx="403.5" cy="346.0" r="2.1" fill="#e4d4dc"/>
<circle cx="413.0" cy="347.0" r="4.5" fill="#dec6cf" stroke="#bc9eb2" stroke-width="0.9"/>
<circle cx="413.0" cy="347.0" r="2.0" fill="#e4d4dc"/>
<circle cx="388.0" cy="345.0" r="4.7" fill="#dec6cf" stroke="#bc9eb2" stroke-width="0.9"/>
<circle cx="388.0" cy="345.0" r="2.1" fill="#e4d4dc"/>
<circle cx="437.0" cy="352.0" r="4.5" fill="#dec6cf" stroke="#bc9eb2" stroke-width="0.9"/>
<circle cx="437.0" cy="352.0" r="2.0" fill="#e4d4dc"/>
<circle cx="439.0" cy="324.0" r="4.3" fill="#dec6cf" stroke="#bc9eb2" stroke-width="0.9"/>
<circle cx="439.0" cy="324.0" r="1.9" fill="#e4d4dc"/>
<circle cx="447.0" cy="325.5" r="4.5" fill="#dec6cf" stroke="#bc9eb2" stroke-width="0.9"/>
<circle cx="447.0" cy="325.5" r="2.0" fill="#e4d4dc"/>
<circle cx="456.0" cy="324.0" r="4.7" fill="#dec6cf" stroke="#bc9eb2" stroke-width="0.9"/>
<circle cx="456.0" cy="324.0" r="2.1" fill="#e4d4dc"/>
<circle cx="471.5" cy="328.0" r="4.5" fill="#dec6cf" stroke="#bc9eb2" stroke-width="0.9"/>
<circle cx="471.5" cy="328.0" r="2.0" fill="#e4d4dc"/>
<circle cx="477.0" cy="322.0" r="4.8" fill="#dec6cf" stroke="#bc9eb2" stroke-width="0.9"/>
<circle cx="477.0" cy="322.0" r="2.2" fill="#e4d4dc"/>
<circle cx="485.0" cy="327.0" r="4.2" fill="#dec6cf" stroke="#bc9eb2" stroke-width="0.9"/>
<circle cx="485.0" cy="327.0" r="1.9" fill="#e4d4dc"/>
<circle cx="461.0" cy="332.5" r="4.4" fill="#dec6cf" stroke="#bc9eb2" stroke-width="0.9"/>
<circle cx="461.0" cy="332.5" r="2.0" fill="#e4d4dc"/>
<circle cx="452.5" cy="338.0" r="4.7" fill="#dec6cf" stroke="#bc9eb2" stroke-width="0.9"/>
<circle cx="452.5" cy="338.0" r="2.1" fill="#e4d4dc"/>
<circle cx="441.0" cy="341.0" r="4.6" fill="#dec6cf" stroke="#bc9eb2" stroke-width="0.9"/>
<circle cx="441.0" cy="341.0" r="2.1" fill="#e4d4dc"/>
<circle cx="467.0" cy="338.0" r="4.5" fill="#dec6cf" stroke="#bc9eb2" stroke-width="0.9"/>
<circle cx="467.0" cy="338.0" r="2.0" fill="#e4d4dc"/>
<circle cx="478.0" cy="335.5" r="4.6" fill="#dec6cf" stroke="#bc9eb2" stroke-width="0.9"/>
<circle cx="478.0" cy="335.5" r="2.1" fill="#e4d4dc"/>
<circle cx="478.0" cy="344.0" r="4.7" fill="#dec6cf" stroke="#bc9eb2" stroke-width="0.9"/>
<circle cx="478.0" cy="344.0" r="2.1" fill="#e4d4dc"/>
<circle cx="468.0" cy="345.0" r="4.6" fill="#dec6cf" stroke="#bc9eb2" stroke-width="0.9"/>
<circle cx="468.0" cy="345.0" r="2.1" fill="#e4d4dc"/>
<circle cx="456.0" cy="348.0" r="4.5" fill="#dec6cf" stroke="#bc9eb2" stroke-width="0.9"/>
<circle cx="456.0" cy="348.0" r="2.0" fill="#e4d4dc"/>
<circle cx="485.0" cy="350.0" r="4.5" fill="#dec6cf" stroke="#bc9eb2" stroke-width="0.9"/>
<circle cx="485.0" cy="350.0" r="2.0" fill="#e4d4dc"/>
<circle cx="439.0" cy="356.0" r="4.6" fill="#dec6cf" stroke="#bc9eb2" stroke-width="0.9"/>
<circle cx="439.0" cy="356.0" r="2.1" fill="#e4d4dc"/>
<circle cx="397.0" cy="372.0" r="4.4" fill="#dec6cf" stroke="#bc9eb2" stroke-width="0.9"/>
<circle cx="397.0" cy="372.0" r="2.0" fill="#e4d4dc"/>
<circle cx="389.0" cy="379.0" r="4.6" fill="#dec6cf" stroke="#bc9eb2" stroke-width="0.9"/>
<circle cx="389.0" cy="379.0" r="2.1" fill="#e4d4dc"/>
<circle cx="397.0" cy="383.0" r="4.6" fill="#dec6cf" stroke="#bc9eb2" stroke-width="0.9"/>
<circle cx="397.0" cy="383.0" r="2.1" fill="#e4d4dc"/>
<circle cx="404.5" cy="377.5" r="4.7" fill="#dec6cf" stroke="#bc9eb2" stroke-width="0.9"/>
<circle cx="404.5" cy="377.5" r="2.1" fill="#e4d4dc"/>
<circle cx="412.0" cy="364.5" r="4.5" fill="#dec6cf" stroke="#bc9eb2" stroke-width="0.9"/>
<circle cx="412.0" cy="364.5" r="2.0" fill="#e4d4dc"/>
<circle cx="432.5" cy="373.0" r="4.2" fill="#dec6cf" stroke="#bc9eb2" stroke-width="0.9"/>
<circle cx="432.5" cy="373.0" r="1.9" fill="#e4d4dc"/>
<circle cx="431.0" cy="361.0" r="4.5" fill="#dec6cf" stroke="#bc9eb2" stroke-width="0.9"/>
<circle cx="431.0" cy="361.0" r="2.0" fill="#e4d4dc"/>
<circle cx="434.0" cy="388.0" r="4.7" fill="#dec6cf" stroke="#bc9eb2" stroke-width="0.9"/>
<circle cx="434.0" cy="388.0" r="2.1" fill="#e4d4dc"/>
<circle cx="388.0" cy="393.0" r="4.6" fill="#dec6cf" stroke="#bc9eb2" stroke-width="0.9"/>
<circle cx="388.0" cy="393.0" r="2.1" fill="#e4d4dc"/>
<circle cx="403.5" cy="397.0" r="4.6" fill="#dec6cf" stroke="#bc9eb2" stroke-width="0.9"/>
<circle cx="403.5" cy="397.0" r="2.1" fill="#e4d4dc"/>
<circle cx="414.0" cy="392.0" r="4.4" fill="#dec6cf" stroke="#bc9eb2" stroke-width="0.9"/>
<circle cx="414.0" cy="392.0" r="2.0" fill="#e4d4dc"/>
<circle cx="424.0" cy="394.0" r="4.4" fill="#dec6cf" stroke="#bc9eb2" stroke-width="0.9"/>
<circle cx="424.0" cy="394.0" r="2.0" fill="#e4d4dc"/>
<circle cx="425.0" cy="383.0" r="4.6" fill="#dec6cf" stroke="#bc9eb2" stroke-width="0.9"/>
<circle cx="425.0" cy="383.0" r="2.1" fill="#e4d4dc"/>
<circle cx="438.0" cy="362.0" r="4.2" fill="#dec6cf" stroke="#bc9eb2" stroke-width="0.9"/>
<circle cx="438.0" cy="362.0" r="1.9" fill="#e4d4dc"/>
<circle cx="447.0" cy="363.0" r="4.7" fill="#dec6cf" stroke="#bc9eb2" stroke-width="0.9"/>
<circle cx="447.0" cy="363.0" r="2.1" fill="#e4d4dc"/>
<circle cx="444.0" cy="372.5" r="4.7" fill="#dec6cf" stroke="#bc9eb2" stroke-width="0.9"/>
<circle cx="444.0" cy="372.5" r="2.1" fill="#e4d4dc"/>
<circle cx="453.5" cy="372.5" r="4.8" fill="#dec6cf" stroke="#bc9eb2" stroke-width="0.9"/>
<circle cx="453.5" cy="372.5" r="2.1" fill="#e4d4dc"/>
<circle cx="461.0" cy="369.0" r="4.3" fill="#dec6cf" stroke="#bc9eb2" stroke-width="0.9"/>
<circle cx="461.0" cy="369.0" r="1.9" fill="#e4d4dc"/>
<circle cx="467.5" cy="370.0" r="4.3" fill="#dec6cf" stroke="#bc9eb2" stroke-width="0.9"/>
<circle cx="467.5" cy="370.0" r="1.9" fill="#e4d4dc"/>
<circle cx="438.0" cy="380.0" r="4.7" fill="#dec6cf" stroke="#bc9eb2" stroke-width="0.9"/>
<circle cx="438.0" cy="380.0" r="2.1" fill="#e4d4dc"/>
<circle cx="451.0" cy="381.0" r="4.4" fill="#dec6cf" stroke="#bc9eb2" stroke-width="0.9"/>
<circle cx="451.0" cy="381.0" r="2.0" fill="#e4d4dc"/>
<circle cx="467.0" cy="381.0" r="4.4" fill="#dec6cf" stroke="#bc9eb2" stroke-width="0.9"/>
<circle cx="467.0" cy="381.0" r="2.0" fill="#e4d4dc"/>
<circle cx="458.0" cy="388.0" r="4.4" fill="#dec6cf" stroke="#bc9eb2" stroke-width="0.9"/>
<circle cx="458.0" cy="388.0" r="2.0" fill="#e4d4dc"/>
<circle cx="439.0" cy="390.0" r="4.6" fill="#dec6cf" stroke="#bc9eb2" stroke-width="0.9"/>
<circle cx="439.0" cy="390.0" r="2.1" fill="#e4d4dc"/>
<circle cx="450.0" cy="396.0" r="4.3" fill="#dec6cf" stroke="#bc9eb2" stroke-width="0.9"/>
<circle cx="450.0" cy="396.0" r="1.9" fill="#e4d4dc"/>
<circle cx="463.0" cy="397.0" r="4.5" fill="#dec6cf" stroke="#bc9eb2" stroke-width="0.9"/>
<circle cx="463.0" cy="397.0" r="2.0" fill="#e4d4dc"/>
<circle cx="473.5" cy="397.0" r="4.6" fill="#dec6cf" stroke="#bc9eb2" stroke-width="0.9"/>
<circle cx="473.5" cy="397.0" r="2.1" fill="#e4d4dc"/>
<circle cx="484.0" cy="384.0" r="4.6" fill="#dec6cf" stroke="#bc9eb2" stroke-width="0.9"/>
<circle cx="484.0" cy="384.0" r="2.1" fill="#e4d4dc"/>
<circle cx="481.0" cy="366.0" r="4.2" fill="#dec6cf" stroke="#bc9eb2" stroke-width="0.9"/>
<circle cx="481.0" cy="366.0" r="1.9" fill="#e4d4dc"/>
<circle cx="485.0" cy="395.0" r="4.7" fill="#dec6cf" stroke="#bc9eb2" stroke-width="0.9"/>
<circle cx="485.0" cy="395.0" r="2.1" fill="#e4d4dc"/>
<ellipse cx="419.8" cy="358" rx="8" ry="8.2" fill="#a49ad4" fill-opacity="0.65"/><ellipse cx="419.8" cy="357.7" rx="5.9" ry="6.2" fill="#24246e"/><ellipse cx="419.5" cy="357.5" rx="3.6" ry="3.8" fill="#1a1a58"/>
<ellipse cx="416.3" cy="377.6" rx="9.6" ry="9.8" fill="#a49ad4" fill-opacity="0.6"/><ellipse cx="416.3" cy="377.4" rx="8.1" ry="8.4" fill="#3a36a8"/><ellipse cx="414.5" cy="375" rx="4" ry="3.5" fill="#2a2890"/><ellipse cx="418.5" cy="381" rx="3.8" ry="3" fill="#2a2890"/>
<ellipse cx="467.2" cy="357.5" rx="9.3" ry="8.6" fill="#b8b0e0" fill-opacity="0.7"/><ellipse cx="467.2" cy="355.5" rx="8" ry="6.6" fill="#3030a8"/><ellipse cx="466" cy="354.5" rx="4.5" ry="3.8" fill="#282898"/>
<path d="M399.23 395.17 L407.37 388.82 L408.39 390.12 L409.70 385.30 L404.70 385.39 L405.71 386.69 L397.57 393.03 Z" fill="#fff" stroke="#111" stroke-width="0.9" stroke-linejoin="miter"/>
<path d="M484.40 375.99 L476.49 368.95 L477.58 367.72 L472.60 367.30 L473.59 372.20 L474.69 370.97 L482.60 378.01 Z" fill="#fff" stroke="#111" stroke-width="0.9" stroke-linejoin="miter"/>
<rect x="460.8" y="390.6" width="17.6" height="1.8" fill="#111"/>
</svg>
</svg></body></html>
